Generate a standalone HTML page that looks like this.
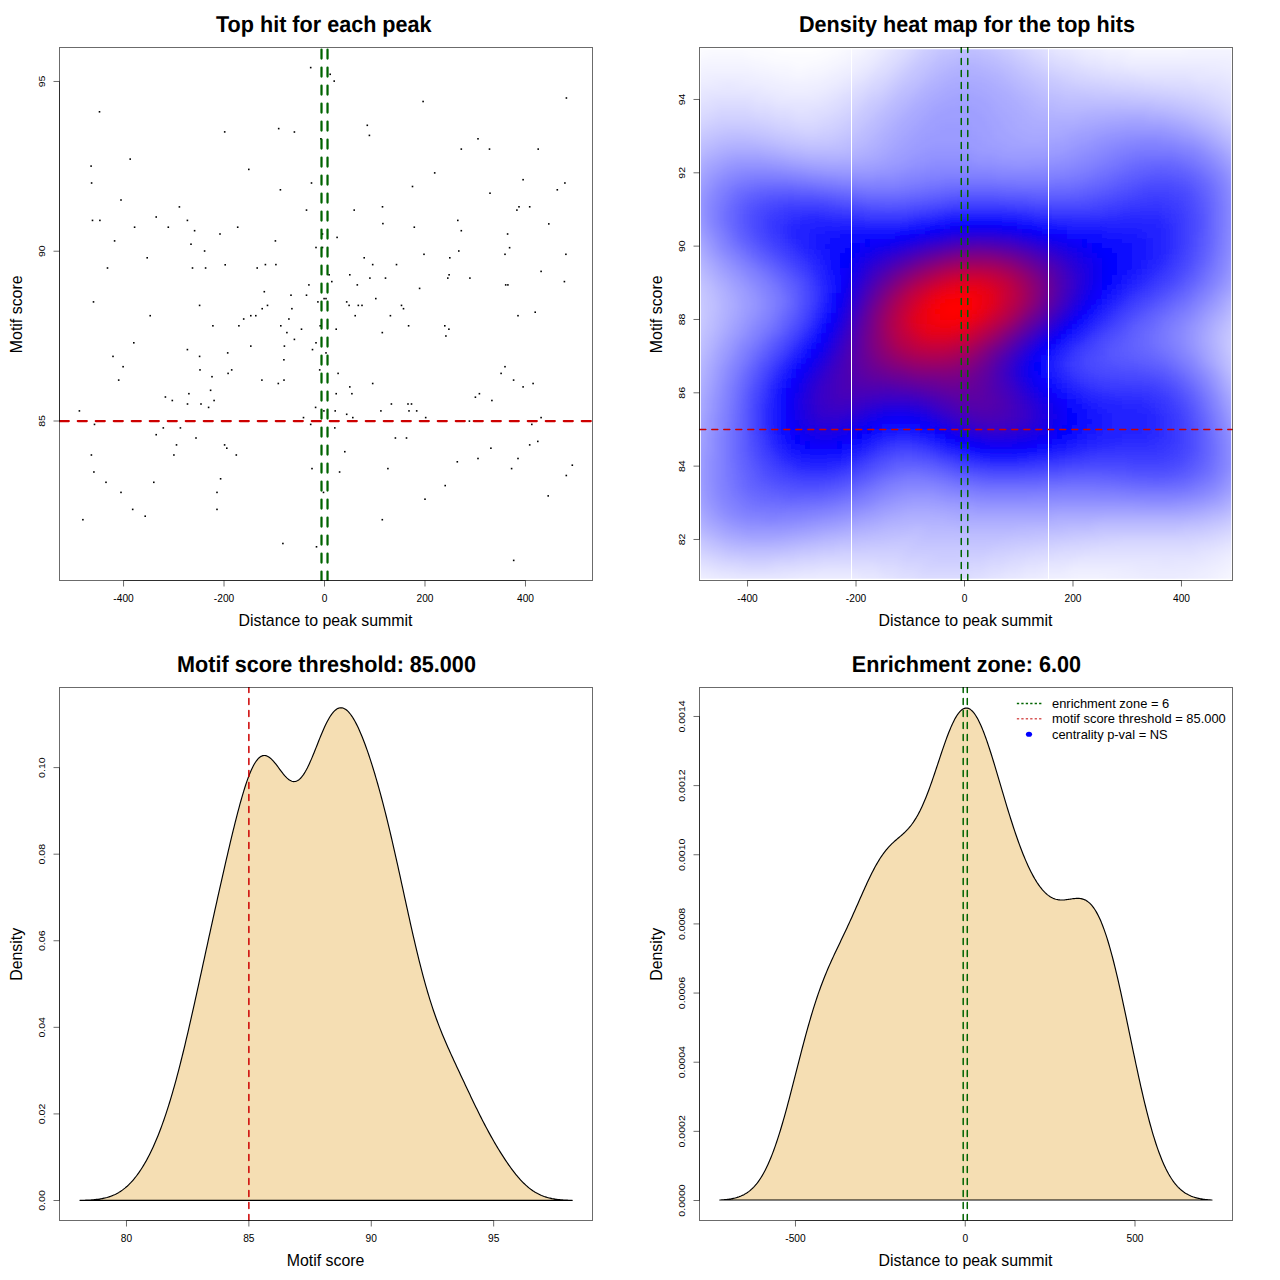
<!DOCTYPE html><html><head><meta charset="utf-8"><style>html,body{margin:0;padding:0;background:#fff;}svg{display:block}</style></head><body>
<svg width="1280" height="1280" viewBox="0 0 1280 1280" style="font-family:'Liberation Sans', sans-serif">
<rect width="1280" height="1280" fill="#fff"/>
<g fill="#000"><rect x="98.7" y="111.0" width="1.6" height="1.6"/><rect x="223.9" y="131.1" width="1.6" height="1.6"/><rect x="129.4" y="158.3" width="1.6" height="1.6"/><rect x="90.3" y="165.3" width="1.6" height="1.6"/><rect x="90.8" y="182.2" width="1.6" height="1.6"/><rect x="120.2" y="199.2" width="1.6" height="1.6"/><rect x="178.6" y="206.1" width="1.6" height="1.6"/><rect x="155.4" y="216.2" width="1.6" height="1.6"/><rect x="91.7" y="219.6" width="1.6" height="1.6"/><rect x="99.1" y="219.6" width="1.6" height="1.6"/><rect x="186.6" y="219.6" width="1.6" height="1.6"/><rect x="133.8" y="226.4" width="1.6" height="1.6"/><rect x="167.5" y="226.4" width="1.6" height="1.6"/><rect x="193.8" y="229.9" width="1.6" height="1.6"/><rect x="219.2" y="233.2" width="1.6" height="1.6"/><rect x="113.8" y="240.1" width="1.6" height="1.6"/><rect x="190.2" y="243.4" width="1.6" height="1.6"/><rect x="203.8" y="250.2" width="1.6" height="1.6"/><rect x="146.4" y="257.0" width="1.6" height="1.6"/><rect x="106.7" y="267.2" width="1.6" height="1.6"/><rect x="191.7" y="267.2" width="1.6" height="1.6"/><rect x="204.8" y="267.2" width="1.6" height="1.6"/><rect x="224.4" y="264.0" width="1.6" height="1.6"/><rect x="92.7" y="301.1" width="1.6" height="1.6"/><rect x="198.8" y="304.6" width="1.6" height="1.6"/><rect x="149.4" y="314.9" width="1.6" height="1.6"/><rect x="212.1" y="325.0" width="1.6" height="1.6"/><rect x="133.0" y="342.0" width="1.6" height="1.6"/><rect x="186.6" y="348.8" width="1.6" height="1.6"/><rect x="112.2" y="355.6" width="1.6" height="1.6"/><rect x="198.8" y="355.6" width="1.6" height="1.6"/><rect x="226.9" y="352.1" width="1.6" height="1.6"/><rect x="122.3" y="365.9" width="1.6" height="1.6"/><rect x="199.2" y="369.1" width="1.6" height="1.6"/><rect x="230.9" y="369.1" width="1.6" height="1.6"/><rect x="227.3" y="372.6" width="1.6" height="1.6"/><rect x="211.2" y="375.9" width="1.6" height="1.6"/><rect x="117.9" y="379.3" width="1.6" height="1.6"/><rect x="209.8" y="389.5" width="1.6" height="1.6"/><rect x="188.1" y="392.9" width="1.6" height="1.6"/><rect x="164.6" y="396.2" width="1.6" height="1.6"/><rect x="171.5" y="399.7" width="1.6" height="1.6"/><rect x="213.3" y="399.7" width="1.6" height="1.6"/><rect x="186.7" y="403.2" width="1.6" height="1.6"/><rect x="200.2" y="403.2" width="1.6" height="1.6"/><rect x="207.8" y="406.6" width="1.6" height="1.6"/><rect x="78.6" y="410.1" width="1.6" height="1.6"/><rect x="93.7" y="423.6" width="1.6" height="1.6"/><rect x="162.5" y="427.1" width="1.6" height="1.6"/><rect x="179.6" y="427.1" width="1.6" height="1.6"/><rect x="155.4" y="433.9" width="1.6" height="1.6"/><rect x="195.2" y="437.2" width="1.6" height="1.6"/><rect x="175.7" y="444.1" width="1.6" height="1.6"/><rect x="223.8" y="444.1" width="1.6" height="1.6"/><rect x="226.0" y="447.4" width="1.6" height="1.6"/><rect x="90.6" y="454.2" width="1.6" height="1.6"/><rect x="173.1" y="454.2" width="1.6" height="1.6"/><rect x="235.5" y="454.2" width="1.6" height="1.6"/><rect x="93.1" y="471.2" width="1.6" height="1.6"/><rect x="105.2" y="481.5" width="1.6" height="1.6"/><rect x="153.0" y="481.5" width="1.6" height="1.6"/><rect x="219.8" y="478.0" width="1.6" height="1.6"/><rect x="120.2" y="491.6" width="1.6" height="1.6"/><rect x="216.2" y="491.6" width="1.6" height="1.6"/><rect x="131.9" y="508.6" width="1.6" height="1.6"/><rect x="216.2" y="508.6" width="1.6" height="1.6"/><rect x="144.4" y="515.4" width="1.6" height="1.6"/><rect x="82.1" y="518.9" width="1.6" height="1.6"/><rect x="309.9" y="66.8" width="1.6" height="1.6"/><rect x="329.4" y="73.5" width="1.6" height="1.6"/><rect x="333.4" y="80.3" width="1.6" height="1.6"/><rect x="277.9" y="127.8" width="1.6" height="1.6"/><rect x="293.6" y="131.2" width="1.6" height="1.6"/><rect x="366.5" y="124.5" width="1.6" height="1.6"/><rect x="368.6" y="134.6" width="1.6" height="1.6"/><rect x="320.1" y="138.0" width="1.6" height="1.6"/><rect x="248.0" y="168.6" width="1.6" height="1.6"/><rect x="310.7" y="182.2" width="1.6" height="1.6"/><rect x="279.6" y="189.0" width="1.6" height="1.6"/><rect x="411.7" y="185.7" width="1.6" height="1.6"/><rect x="305.7" y="209.3" width="1.6" height="1.6"/><rect x="353.4" y="209.3" width="1.6" height="1.6"/><rect x="381.7" y="206.0" width="1.6" height="1.6"/><rect x="382.1" y="222.8" width="1.6" height="1.6"/><rect x="236.9" y="226.4" width="1.6" height="1.6"/><rect x="413.5" y="226.4" width="1.6" height="1.6"/><rect x="321.7" y="233.2" width="1.6" height="1.6"/><rect x="336.3" y="236.6" width="1.6" height="1.6"/><rect x="274.6" y="240.1" width="1.6" height="1.6"/><rect x="315.2" y="246.7" width="1.6" height="1.6"/><rect x="321.7" y="246.7" width="1.6" height="1.6"/><rect x="363.4" y="257.0" width="1.6" height="1.6"/><rect x="264.6" y="263.8" width="1.6" height="1.6"/><rect x="275.1" y="263.8" width="1.6" height="1.6"/><rect x="371.9" y="263.8" width="1.6" height="1.6"/><rect x="395.7" y="263.8" width="1.6" height="1.6"/><rect x="256.4" y="267.2" width="1.6" height="1.6"/><rect x="328.3" y="274.0" width="1.6" height="1.6"/><rect x="349.0" y="274.0" width="1.6" height="1.6"/><rect x="369.1" y="277.3" width="1.6" height="1.6"/><rect x="384.7" y="277.3" width="1.6" height="1.6"/><rect x="331.0" y="280.8" width="1.6" height="1.6"/><rect x="308.1" y="284.1" width="1.6" height="1.6"/><rect x="356.5" y="284.1" width="1.6" height="1.6"/><rect x="263.5" y="290.9" width="1.6" height="1.6"/><rect x="290.2" y="294.4" width="1.6" height="1.6"/><rect x="305.7" y="294.4" width="1.6" height="1.6"/><rect x="323.3" y="297.8" width="1.6" height="1.6"/><rect x="325.2" y="297.8" width="1.6" height="1.6"/><rect x="375.0" y="297.8" width="1.6" height="1.6"/><rect x="317.1" y="301.1" width="1.6" height="1.6"/><rect x="345.9" y="301.1" width="1.6" height="1.6"/><rect x="266.7" y="304.6" width="1.6" height="1.6"/><rect x="348.3" y="304.6" width="1.6" height="1.6"/><rect x="357.5" y="304.6" width="1.6" height="1.6"/><rect x="361.2" y="304.6" width="1.6" height="1.6"/><rect x="400.7" y="304.6" width="1.6" height="1.6"/><rect x="261.4" y="307.9" width="1.6" height="1.6"/><rect x="291.1" y="307.9" width="1.6" height="1.6"/><rect x="402.7" y="307.9" width="1.6" height="1.6"/><rect x="250.0" y="314.9" width="1.6" height="1.6"/><rect x="255.0" y="314.9" width="1.6" height="1.6"/><rect x="354.4" y="314.9" width="1.6" height="1.6"/><rect x="389.6" y="314.9" width="1.6" height="1.6"/><rect x="242.9" y="318.2" width="1.6" height="1.6"/><rect x="288.1" y="318.2" width="1.6" height="1.6"/><rect x="238.1" y="325.0" width="1.6" height="1.6"/><rect x="280.0" y="325.0" width="1.6" height="1.6"/><rect x="319.4" y="325.0" width="1.6" height="1.6"/><rect x="335.4" y="328.4" width="1.6" height="1.6"/><rect x="300.7" y="328.4" width="1.6" height="1.6"/><rect x="407.8" y="325.0" width="1.6" height="1.6"/><rect x="286.1" y="331.8" width="1.6" height="1.6"/><rect x="381.5" y="331.8" width="1.6" height="1.6"/><rect x="293.6" y="338.6" width="1.6" height="1.6"/><rect x="315.2" y="342.0" width="1.6" height="1.6"/><rect x="250.0" y="345.3" width="1.6" height="1.6"/><rect x="283.6" y="345.3" width="1.6" height="1.6"/><rect x="311.7" y="348.8" width="1.6" height="1.6"/><rect x="325.2" y="352.1" width="1.6" height="1.6"/><rect x="283.1" y="359.0" width="1.6" height="1.6"/><rect x="318.9" y="369.1" width="1.6" height="1.6"/><rect x="337.3" y="372.6" width="1.6" height="1.6"/><rect x="261.1" y="379.3" width="1.6" height="1.6"/><rect x="283.2" y="379.3" width="1.6" height="1.6"/><rect x="277.5" y="382.7" width="1.6" height="1.6"/><rect x="371.9" y="382.7" width="1.6" height="1.6"/><rect x="349.0" y="386.1" width="1.6" height="1.6"/><rect x="335.4" y="392.9" width="1.6" height="1.6"/><rect x="351.1" y="392.9" width="1.6" height="1.6"/><rect x="390.6" y="403.2" width="1.6" height="1.6"/><rect x="407.2" y="403.2" width="1.6" height="1.6"/><rect x="410.7" y="403.2" width="1.6" height="1.6"/><rect x="314.8" y="406.6" width="1.6" height="1.6"/><rect x="323.1" y="410.1" width="1.6" height="1.6"/><rect x="334.4" y="410.1" width="1.6" height="1.6"/><rect x="380.1" y="410.1" width="1.6" height="1.6"/><rect x="408.2" y="410.1" width="1.6" height="1.6"/><rect x="345.9" y="413.5" width="1.6" height="1.6"/><rect x="302.7" y="416.8" width="1.6" height="1.6"/><rect x="352.0" y="416.8" width="1.6" height="1.6"/><rect x="309.9" y="423.6" width="1.6" height="1.6"/><rect x="334.0" y="427.1" width="1.6" height="1.6"/><rect x="394.6" y="437.2" width="1.6" height="1.6"/><rect x="405.7" y="437.2" width="1.6" height="1.6"/><rect x="344.0" y="450.9" width="1.6" height="1.6"/><rect x="311.2" y="467.8" width="1.6" height="1.6"/><rect x="338.8" y="471.2" width="1.6" height="1.6"/><rect x="387.1" y="467.8" width="1.6" height="1.6"/><rect x="322.7" y="491.6" width="1.6" height="1.6"/><rect x="381.5" y="518.9" width="1.6" height="1.6"/><rect x="282.1" y="542.7" width="1.6" height="1.6"/><rect x="315.7" y="546.0" width="1.6" height="1.6"/><rect x="422.3" y="100.7" width="1.6" height="1.6"/><rect x="565.6" y="97.2" width="1.6" height="1.6"/><rect x="477.2" y="138.0" width="1.6" height="1.6"/><rect x="460.5" y="148.3" width="1.6" height="1.6"/><rect x="488.7" y="148.3" width="1.6" height="1.6"/><rect x="537.4" y="148.3" width="1.6" height="1.6"/><rect x="433.9" y="172.1" width="1.6" height="1.6"/><rect x="522.3" y="178.9" width="1.6" height="1.6"/><rect x="564.1" y="182.2" width="1.6" height="1.6"/><rect x="556.5" y="189.0" width="1.6" height="1.6"/><rect x="489.2" y="192.4" width="1.6" height="1.6"/><rect x="518.2" y="206.0" width="1.6" height="1.6"/><rect x="528.9" y="206.0" width="1.6" height="1.6"/><rect x="516.1" y="209.3" width="1.6" height="1.6"/><rect x="457.0" y="219.6" width="1.6" height="1.6"/><rect x="548.0" y="223.1" width="1.6" height="1.6"/><rect x="460.5" y="229.9" width="1.6" height="1.6"/><rect x="506.8" y="233.2" width="1.6" height="1.6"/><rect x="508.8" y="246.9" width="1.6" height="1.6"/><rect x="458.0" y="250.2" width="1.6" height="1.6"/><rect x="423.2" y="253.5" width="1.6" height="1.6"/><rect x="449.0" y="257.0" width="1.6" height="1.6"/><rect x="504.2" y="253.5" width="1.6" height="1.6"/><rect x="565.1" y="253.5" width="1.6" height="1.6"/><rect x="540.3" y="270.6" width="1.6" height="1.6"/><rect x="448.3" y="274.0" width="1.6" height="1.6"/><rect x="447.0" y="277.3" width="1.6" height="1.6"/><rect x="469.1" y="277.3" width="1.6" height="1.6"/><rect x="563.6" y="280.8" width="1.6" height="1.6"/><rect x="504.9" y="284.1" width="1.6" height="1.6"/><rect x="507.1" y="284.1" width="1.6" height="1.6"/><rect x="418.8" y="287.6" width="1.6" height="1.6"/><rect x="534.4" y="311.4" width="1.6" height="1.6"/><rect x="517.2" y="314.9" width="1.6" height="1.6"/><rect x="444.0" y="325.0" width="1.6" height="1.6"/><rect x="448.1" y="328.4" width="1.6" height="1.6"/><rect x="445.1" y="335.2" width="1.6" height="1.6"/><rect x="504.2" y="365.9" width="1.6" height="1.6"/><rect x="500.3" y="372.6" width="1.6" height="1.6"/><rect x="512.8" y="379.3" width="1.6" height="1.6"/><rect x="522.3" y="386.1" width="1.6" height="1.6"/><rect x="532.3" y="382.7" width="1.6" height="1.6"/><rect x="478.6" y="392.9" width="1.6" height="1.6"/><rect x="474.6" y="396.4" width="1.6" height="1.6"/><rect x="491.1" y="399.7" width="1.6" height="1.6"/><rect x="415.9" y="410.1" width="1.6" height="1.6"/><rect x="424.9" y="416.8" width="1.6" height="1.6"/><rect x="468.6" y="420.3" width="1.6" height="1.6"/><rect x="540.3" y="416.8" width="1.6" height="1.6"/><rect x="531.0" y="423.6" width="1.6" height="1.6"/><rect x="537.0" y="440.6" width="1.6" height="1.6"/><rect x="528.9" y="444.1" width="1.6" height="1.6"/><rect x="490.1" y="447.4" width="1.6" height="1.6"/><rect x="456.5" y="461.0" width="1.6" height="1.6"/><rect x="477.2" y="457.7" width="1.6" height="1.6"/><rect x="517.2" y="457.7" width="1.6" height="1.6"/><rect x="510.8" y="467.8" width="1.6" height="1.6"/><rect x="571.5" y="464.4" width="1.6" height="1.6"/><rect x="565.5" y="474.7" width="1.6" height="1.6"/><rect x="444.4" y="484.8" width="1.6" height="1.6"/><rect x="424.2" y="498.4" width="1.6" height="1.6"/><rect x="547.4" y="495.1" width="1.6" height="1.6"/><rect x="512.9" y="559.6" width="1.6" height="1.6"/></g>
<clipPath id="c1"><rect x="59" y="47" width="534" height="534"/></clipPath>
<g clip-path="url(#c1)"><path d="M59.8 421H592" stroke="#cd0000" stroke-width="2.25" stroke-dasharray="9 9" stroke-linecap="round"/>
<path d="M321.50 580.5V47M327.52 580.5V47" stroke="#006400" stroke-width="2.25" stroke-dasharray="9 9" stroke-linecap="round"/></g>
<rect x="59.5" y="47.5" width="533" height="533" fill="none" stroke="#000" stroke-opacity="0.58" stroke-width="1"/>
<text x="325.5" y="625.5" font-size="15.9" text-anchor="middle">Distance to peak summit</text>
<text transform="translate(22,314.3) rotate(-90)" font-size="15.9" text-anchor="middle">Motif score</text>
<text x="123.55" y="602" font-size="10.2" text-anchor="middle">-400</text>
<text x="224.03" y="602" font-size="10.2" text-anchor="middle">-200</text>
<text x="324.51" y="602" font-size="10.2" text-anchor="middle">0</text>
<text x="424.99" y="602" font-size="10.2" text-anchor="middle">200</text>
<text x="525.47" y="602" font-size="10.2" text-anchor="middle">400</text>
<text transform="translate(44.6,421.00) rotate(-90) scale(1.036,0.94)" font-size="10.2" text-anchor="middle">85</text>
<text transform="translate(44.6,251.23) rotate(-90) scale(1.036,0.94)" font-size="10.2" text-anchor="middle">90</text>
<text transform="translate(44.6,81.47) rotate(-90) scale(1.036,0.94)" font-size="10.2" text-anchor="middle">95</text>
<path d="M123.55 580.5H525.47M59.5 421.00V81.47M123.55 580.5v6M224.03 580.5v6M324.51 580.5v6M424.99 580.5v6M525.47 580.5v6M59.5 421.00h-6M59.5 251.23h-6M59.5 81.47h-6" stroke="#000" stroke-opacity="0.58" stroke-width="1" fill="none"/>
<defs><filter id="bl" filterUnits="userSpaceOnUse" x="670" y="20" width="590" height="590"><feGaussianBlur stdDeviation="4"/></filter><clipPath id="c2"><rect x="700.8" y="49.2" width="530.4" height="529.6"/></clipPath></defs>
<g clip-path="url(#c2)"><g filter="url(#bl)">
<path fill="#ffffff" d="M680 28h7v7h-7zM685 28h7v7h-7zM690 28h7v7h-7zM695 28h7v7h-7zM700 28h7v7h-7zM705 28h7v7h-7zM710 28h7v7h-7zM715 28h7v7h-7zM720 28h7v7h-7zM725 28h7v7h-7zM730 28h7v7h-7zM735 28h7v7h-7zM740 28h7v7h-7zM745 28h7v7h-7zM750 28h7v7h-7zM755 28h7v7h-7zM760 28h7v7h-7zM765 28h7v7h-7zM770 28h7v7h-7zM775 28h7v7h-7zM780 28h7v7h-7zM785 28h7v7h-7zM790 28h7v7h-7zM795 28h7v7h-7zM800 28h7v7h-7zM805 28h7v7h-7zM810 28h7v7h-7zM815 28h7v7h-7zM820 28h7v7h-7zM825 28h7v7h-7zM830 28h7v7h-7zM835 28h7v7h-7zM840 28h7v7h-7zM845 28h7v7h-7zM850 28h7v7h-7zM1120 28h7v7h-7zM1125 28h7v7h-7zM1130 28h7v7h-7zM1135 28h7v7h-7zM1140 28h7v7h-7zM1145 28h7v7h-7zM1150 28h7v7h-7zM1155 28h7v7h-7zM1160 28h7v7h-7zM1165 28h7v7h-7zM1170 28h7v7h-7zM1175 28h7v7h-7zM1180 28h7v7h-7zM1245 28h7v7h-7zM680 33h7v7h-7zM685 33h7v7h-7zM690 33h7v7h-7zM695 33h7v7h-7zM700 33h7v7h-7zM705 33h7v7h-7zM710 33h7v7h-7zM715 33h7v7h-7zM720 33h7v7h-7zM725 33h7v7h-7zM730 33h7v7h-7zM735 33h7v7h-7zM740 33h7v7h-7zM745 33h7v7h-7zM750 33h7v7h-7zM755 33h7v7h-7zM760 33h7v7h-7zM765 33h7v7h-7zM770 33h7v7h-7zM775 33h7v7h-7zM780 33h7v7h-7zM785 33h7v7h-7zM790 33h7v7h-7zM795 33h7v7h-7zM800 33h7v7h-7zM805 33h7v7h-7zM810 33h7v7h-7zM815 33h7v7h-7zM820 33h7v7h-7zM825 33h7v7h-7zM830 33h7v7h-7zM835 33h7v7h-7zM840 33h7v7h-7zM680 38h7v7h-7zM685 38h7v7h-7zM690 38h7v7h-7zM695 38h7v7h-7zM700 38h7v7h-7zM705 38h7v7h-7zM710 38h7v7h-7zM715 38h7v7h-7zM720 38h7v7h-7zM725 38h7v7h-7zM730 38h7v7h-7zM735 38h7v7h-7zM740 38h7v7h-7zM745 38h7v7h-7zM750 38h7v7h-7zM755 38h7v7h-7zM760 38h7v7h-7zM765 38h7v7h-7zM770 38h7v7h-7zM775 38h7v7h-7zM780 38h7v7h-7zM785 38h7v7h-7zM790 38h7v7h-7zM795 38h7v7h-7zM800 38h7v7h-7zM805 38h7v7h-7zM810 38h7v7h-7zM815 38h7v7h-7zM820 38h7v7h-7zM825 38h7v7h-7zM830 38h7v7h-7zM835 38h7v7h-7zM680 43h7v7h-7zM685 43h7v7h-7zM690 43h7v7h-7zM755 43h7v7h-7zM760 43h7v7h-7zM765 43h7v7h-7zM770 43h7v7h-7zM775 43h7v7h-7zM780 43h7v7h-7zM785 43h7v7h-7zM790 43h7v7h-7zM795 43h7v7h-7zM800 43h7v7h-7zM805 43h7v7h-7zM810 43h7v7h-7zM815 43h7v7h-7zM820 43h7v7h-7zM825 43h7v7h-7zM830 43h7v7h-7zM775 48h7v7h-7zM780 48h7v7h-7zM785 48h7v7h-7zM790 48h7v7h-7zM795 48h7v7h-7zM800 48h7v7h-7zM805 48h7v7h-7zM810 48h7v7h-7zM815 48h7v7h-7zM1245 588h7v7h-7zM1240 593h7v7h-7zM1245 593h7v7h-7z"/>
<path fill="#fbfbff" d="M855 28h7v7h-7zM860 28h7v7h-7zM865 28h7v7h-7zM1085 28h7v7h-7zM1090 28h7v7h-7zM1095 28h7v7h-7zM1100 28h7v7h-7zM1105 28h7v7h-7zM1110 28h7v7h-7zM1115 28h7v7h-7zM1185 28h7v7h-7zM1190 28h7v7h-7zM1195 28h7v7h-7zM1200 28h7v7h-7zM1205 28h7v7h-7zM1210 28h7v7h-7zM1215 28h7v7h-7zM1220 28h7v7h-7zM1225 28h7v7h-7zM1230 28h7v7h-7zM1235 28h7v7h-7zM1240 28h7v7h-7zM845 33h7v7h-7zM850 33h7v7h-7zM855 33h7v7h-7zM860 33h7v7h-7zM1100 33h7v7h-7zM1105 33h7v7h-7zM1110 33h7v7h-7zM1115 33h7v7h-7zM1120 33h7v7h-7zM1125 33h7v7h-7zM1130 33h7v7h-7zM1135 33h7v7h-7zM1140 33h7v7h-7zM1145 33h7v7h-7zM1150 33h7v7h-7zM1155 33h7v7h-7zM1160 33h7v7h-7zM1165 33h7v7h-7zM1170 33h7v7h-7zM1175 33h7v7h-7zM1180 33h7v7h-7zM1185 33h7v7h-7zM1190 33h7v7h-7zM1195 33h7v7h-7zM1200 33h7v7h-7zM1205 33h7v7h-7zM1210 33h7v7h-7zM1215 33h7v7h-7zM1220 33h7v7h-7zM1225 33h7v7h-7zM1230 33h7v7h-7zM1235 33h7v7h-7zM1240 33h7v7h-7zM1245 33h7v7h-7zM840 38h7v7h-7zM845 38h7v7h-7zM850 38h7v7h-7zM855 38h7v7h-7zM1120 38h7v7h-7zM1125 38h7v7h-7zM1130 38h7v7h-7zM1135 38h7v7h-7zM1140 38h7v7h-7zM1145 38h7v7h-7zM1150 38h7v7h-7zM1155 38h7v7h-7zM1160 38h7v7h-7zM1165 38h7v7h-7zM1170 38h7v7h-7zM1175 38h7v7h-7zM1180 38h7v7h-7zM1185 38h7v7h-7zM1190 38h7v7h-7zM1235 38h7v7h-7zM1240 38h7v7h-7zM1245 38h7v7h-7zM695 43h7v7h-7zM700 43h7v7h-7zM705 43h7v7h-7zM710 43h7v7h-7zM715 43h7v7h-7zM720 43h7v7h-7zM725 43h7v7h-7zM730 43h7v7h-7zM735 43h7v7h-7zM740 43h7v7h-7zM745 43h7v7h-7zM750 43h7v7h-7zM835 43h7v7h-7zM840 43h7v7h-7zM845 43h7v7h-7zM680 48h7v7h-7zM685 48h7v7h-7zM690 48h7v7h-7zM695 48h7v7h-7zM700 48h7v7h-7zM705 48h7v7h-7zM710 48h7v7h-7zM715 48h7v7h-7zM720 48h7v7h-7zM725 48h7v7h-7zM730 48h7v7h-7zM735 48h7v7h-7zM740 48h7v7h-7zM745 48h7v7h-7zM750 48h7v7h-7zM755 48h7v7h-7zM760 48h7v7h-7zM765 48h7v7h-7zM770 48h7v7h-7zM820 48h7v7h-7zM825 48h7v7h-7zM830 48h7v7h-7zM835 48h7v7h-7zM840 48h7v7h-7zM680 53h7v7h-7zM685 53h7v7h-7zM690 53h7v7h-7zM695 53h7v7h-7zM700 53h7v7h-7zM745 53h7v7h-7zM750 53h7v7h-7zM755 53h7v7h-7zM760 53h7v7h-7zM765 53h7v7h-7zM770 53h7v7h-7zM775 53h7v7h-7zM780 53h7v7h-7zM785 53h7v7h-7zM790 53h7v7h-7zM795 53h7v7h-7zM800 53h7v7h-7zM805 53h7v7h-7zM810 53h7v7h-7zM815 53h7v7h-7zM820 53h7v7h-7zM825 53h7v7h-7zM830 53h7v7h-7zM680 58h7v7h-7zM685 58h7v7h-7zM765 58h7v7h-7zM770 58h7v7h-7zM775 58h7v7h-7zM780 58h7v7h-7zM785 58h7v7h-7zM790 58h7v7h-7zM795 58h7v7h-7zM800 58h7v7h-7zM805 58h7v7h-7zM810 58h7v7h-7zM815 58h7v7h-7zM820 58h7v7h-7zM790 63h7v7h-7zM795 63h7v7h-7zM800 63h7v7h-7zM805 63h7v7h-7zM1245 568h7v7h-7zM1240 573h7v7h-7zM1245 573h7v7h-7zM1235 578h7v7h-7zM1240 578h7v7h-7zM1245 578h7v7h-7zM1230 583h7v7h-7zM1235 583h7v7h-7zM1240 583h7v7h-7zM1245 583h7v7h-7zM680 588h7v7h-7zM685 588h7v7h-7zM690 588h7v7h-7zM1225 588h7v7h-7zM1230 588h7v7h-7zM1235 588h7v7h-7zM1240 588h7v7h-7zM680 593h7v7h-7zM685 593h7v7h-7zM690 593h7v7h-7zM695 593h7v7h-7zM700 593h7v7h-7zM705 593h7v7h-7zM710 593h7v7h-7zM715 593h7v7h-7zM720 593h7v7h-7zM785 593h7v7h-7zM790 593h7v7h-7zM795 593h7v7h-7zM800 593h7v7h-7zM805 593h7v7h-7zM810 593h7v7h-7zM815 593h7v7h-7zM820 593h7v7h-7zM825 593h7v7h-7zM830 593h7v7h-7zM1040 593h7v7h-7zM1045 593h7v7h-7zM1050 593h7v7h-7zM1055 593h7v7h-7zM1060 593h7v7h-7zM1065 593h7v7h-7zM1070 593h7v7h-7zM1075 593h7v7h-7zM1080 593h7v7h-7zM1085 593h7v7h-7zM1090 593h7v7h-7zM1095 593h7v7h-7zM1220 593h7v7h-7zM1225 593h7v7h-7zM1230 593h7v7h-7zM1235 593h7v7h-7z"/>
<path fill="#f7f7ff" d="M870 28h7v7h-7zM875 28h7v7h-7zM1065 28h7v7h-7zM1070 28h7v7h-7zM1075 28h7v7h-7zM1080 28h7v7h-7zM865 33h7v7h-7zM870 33h7v7h-7zM1075 33h7v7h-7zM1080 33h7v7h-7zM1085 33h7v7h-7zM1090 33h7v7h-7zM1095 33h7v7h-7zM860 38h7v7h-7zM865 38h7v7h-7zM1090 38h7v7h-7zM1095 38h7v7h-7zM1100 38h7v7h-7zM1105 38h7v7h-7zM1110 38h7v7h-7zM1115 38h7v7h-7zM1195 38h7v7h-7zM1200 38h7v7h-7zM1205 38h7v7h-7zM1210 38h7v7h-7zM1215 38h7v7h-7zM1220 38h7v7h-7zM1225 38h7v7h-7zM1230 38h7v7h-7zM850 43h7v7h-7zM855 43h7v7h-7zM860 43h7v7h-7zM1105 43h7v7h-7zM1110 43h7v7h-7zM1115 43h7v7h-7zM1120 43h7v7h-7zM1125 43h7v7h-7zM1130 43h7v7h-7zM1135 43h7v7h-7zM1140 43h7v7h-7zM1145 43h7v7h-7zM1150 43h7v7h-7zM1155 43h7v7h-7zM1160 43h7v7h-7zM1165 43h7v7h-7zM1170 43h7v7h-7zM1175 43h7v7h-7zM1180 43h7v7h-7zM1185 43h7v7h-7zM1190 43h7v7h-7zM1195 43h7v7h-7zM1200 43h7v7h-7zM1205 43h7v7h-7zM1210 43h7v7h-7zM1215 43h7v7h-7zM1220 43h7v7h-7zM1225 43h7v7h-7zM1230 43h7v7h-7zM1235 43h7v7h-7zM1240 43h7v7h-7zM1245 43h7v7h-7zM845 48h7v7h-7zM850 48h7v7h-7zM855 48h7v7h-7zM1130 48h7v7h-7zM1135 48h7v7h-7zM1140 48h7v7h-7zM1145 48h7v7h-7zM1150 48h7v7h-7zM1155 48h7v7h-7zM1160 48h7v7h-7zM1165 48h7v7h-7zM1170 48h7v7h-7zM1175 48h7v7h-7zM1180 48h7v7h-7zM1235 48h7v7h-7zM1240 48h7v7h-7zM1245 48h7v7h-7zM705 53h7v7h-7zM710 53h7v7h-7zM715 53h7v7h-7zM720 53h7v7h-7zM725 53h7v7h-7zM730 53h7v7h-7zM735 53h7v7h-7zM740 53h7v7h-7zM835 53h7v7h-7zM840 53h7v7h-7zM845 53h7v7h-7zM690 58h7v7h-7zM695 58h7v7h-7zM700 58h7v7h-7zM705 58h7v7h-7zM710 58h7v7h-7zM715 58h7v7h-7zM720 58h7v7h-7zM725 58h7v7h-7zM730 58h7v7h-7zM735 58h7v7h-7zM740 58h7v7h-7zM745 58h7v7h-7zM750 58h7v7h-7zM755 58h7v7h-7zM760 58h7v7h-7zM825 58h7v7h-7zM830 58h7v7h-7zM835 58h7v7h-7zM840 58h7v7h-7zM680 63h7v7h-7zM685 63h7v7h-7zM690 63h7v7h-7zM695 63h7v7h-7zM750 63h7v7h-7zM755 63h7v7h-7zM760 63h7v7h-7zM765 63h7v7h-7zM770 63h7v7h-7zM775 63h7v7h-7zM780 63h7v7h-7zM785 63h7v7h-7zM810 63h7v7h-7zM815 63h7v7h-7zM820 63h7v7h-7zM825 63h7v7h-7zM830 63h7v7h-7zM680 68h7v7h-7zM685 68h7v7h-7zM770 68h7v7h-7zM775 68h7v7h-7zM780 68h7v7h-7zM785 68h7v7h-7zM790 68h7v7h-7zM795 68h7v7h-7zM800 68h7v7h-7zM805 68h7v7h-7zM810 68h7v7h-7zM815 68h7v7h-7zM820 68h7v7h-7zM790 73h7v7h-7zM795 73h7v7h-7zM800 73h7v7h-7zM1245 558h7v7h-7zM1240 563h7v7h-7zM1245 563h7v7h-7zM1230 568h7v7h-7zM1235 568h7v7h-7zM1240 568h7v7h-7zM1225 573h7v7h-7zM1230 573h7v7h-7zM1235 573h7v7h-7zM680 578h7v7h-7zM1220 578h7v7h-7zM1225 578h7v7h-7zM1230 578h7v7h-7zM680 583h7v7h-7zM685 583h7v7h-7zM690 583h7v7h-7zM695 583h7v7h-7zM1050 583h7v7h-7zM1055 583h7v7h-7zM1060 583h7v7h-7zM1065 583h7v7h-7zM1070 583h7v7h-7zM1075 583h7v7h-7zM1080 583h7v7h-7zM1085 583h7v7h-7zM1090 583h7v7h-7zM1095 583h7v7h-7zM1100 583h7v7h-7zM1215 583h7v7h-7zM1220 583h7v7h-7zM1225 583h7v7h-7zM695 588h7v7h-7zM700 588h7v7h-7zM705 588h7v7h-7zM710 588h7v7h-7zM715 588h7v7h-7zM720 588h7v7h-7zM725 588h7v7h-7zM730 588h7v7h-7zM770 588h7v7h-7zM775 588h7v7h-7zM780 588h7v7h-7zM785 588h7v7h-7zM790 588h7v7h-7zM795 588h7v7h-7zM800 588h7v7h-7zM805 588h7v7h-7zM810 588h7v7h-7zM815 588h7v7h-7zM820 588h7v7h-7zM825 588h7v7h-7zM830 588h7v7h-7zM835 588h7v7h-7zM840 588h7v7h-7zM845 588h7v7h-7zM1030 588h7v7h-7zM1035 588h7v7h-7zM1040 588h7v7h-7zM1045 588h7v7h-7zM1050 588h7v7h-7zM1055 588h7v7h-7zM1060 588h7v7h-7zM1065 588h7v7h-7zM1070 588h7v7h-7zM1075 588h7v7h-7zM1080 588h7v7h-7zM1085 588h7v7h-7zM1090 588h7v7h-7zM1095 588h7v7h-7zM1100 588h7v7h-7zM1105 588h7v7h-7zM1110 588h7v7h-7zM1115 588h7v7h-7zM1210 588h7v7h-7zM1215 588h7v7h-7zM1220 588h7v7h-7zM725 593h7v7h-7zM730 593h7v7h-7zM735 593h7v7h-7zM740 593h7v7h-7zM745 593h7v7h-7zM750 593h7v7h-7zM755 593h7v7h-7zM760 593h7v7h-7zM765 593h7v7h-7zM770 593h7v7h-7zM775 593h7v7h-7zM780 593h7v7h-7zM835 593h7v7h-7zM840 593h7v7h-7zM845 593h7v7h-7zM850 593h7v7h-7zM855 593h7v7h-7zM860 593h7v7h-7zM865 593h7v7h-7zM1015 593h7v7h-7zM1020 593h7v7h-7zM1025 593h7v7h-7zM1030 593h7v7h-7zM1035 593h7v7h-7zM1100 593h7v7h-7zM1105 593h7v7h-7zM1110 593h7v7h-7zM1115 593h7v7h-7zM1120 593h7v7h-7zM1125 593h7v7h-7zM1200 593h7v7h-7zM1205 593h7v7h-7zM1210 593h7v7h-7zM1215 593h7v7h-7z"/>
<path fill="#f3f3ff" d="M880 28h7v7h-7zM885 28h7v7h-7zM1050 28h7v7h-7zM1055 28h7v7h-7zM1060 28h7v7h-7zM875 33h7v7h-7zM880 33h7v7h-7zM1060 33h7v7h-7zM1065 33h7v7h-7zM1070 33h7v7h-7zM870 38h7v7h-7zM875 38h7v7h-7zM1070 38h7v7h-7zM1075 38h7v7h-7zM1080 38h7v7h-7zM1085 38h7v7h-7zM865 43h7v7h-7zM870 43h7v7h-7zM1085 43h7v7h-7zM1090 43h7v7h-7zM1095 43h7v7h-7zM1100 43h7v7h-7zM860 48h7v7h-7zM865 48h7v7h-7zM1100 48h7v7h-7zM1105 48h7v7h-7zM1110 48h7v7h-7zM1115 48h7v7h-7zM1120 48h7v7h-7zM1125 48h7v7h-7zM1185 48h7v7h-7zM1190 48h7v7h-7zM1195 48h7v7h-7zM1200 48h7v7h-7zM1205 48h7v7h-7zM1210 48h7v7h-7zM1215 48h7v7h-7zM1220 48h7v7h-7zM1225 48h7v7h-7zM1230 48h7v7h-7zM850 53h7v7h-7zM855 53h7v7h-7zM860 53h7v7h-7zM1125 53h7v7h-7zM1130 53h7v7h-7zM1135 53h7v7h-7zM1140 53h7v7h-7zM1145 53h7v7h-7zM1150 53h7v7h-7zM1155 53h7v7h-7zM1160 53h7v7h-7zM1165 53h7v7h-7zM1170 53h7v7h-7zM1175 53h7v7h-7zM1180 53h7v7h-7zM1185 53h7v7h-7zM1190 53h7v7h-7zM1195 53h7v7h-7zM1200 53h7v7h-7zM1205 53h7v7h-7zM1210 53h7v7h-7zM1215 53h7v7h-7zM1220 53h7v7h-7zM1225 53h7v7h-7zM1230 53h7v7h-7zM1235 53h7v7h-7zM1240 53h7v7h-7zM1245 53h7v7h-7zM845 58h7v7h-7zM850 58h7v7h-7zM1235 58h7v7h-7zM1240 58h7v7h-7zM1245 58h7v7h-7zM700 63h7v7h-7zM705 63h7v7h-7zM710 63h7v7h-7zM715 63h7v7h-7zM720 63h7v7h-7zM725 63h7v7h-7zM730 63h7v7h-7zM735 63h7v7h-7zM740 63h7v7h-7zM745 63h7v7h-7zM835 63h7v7h-7zM840 63h7v7h-7zM845 63h7v7h-7zM1245 63h7v7h-7zM690 68h7v7h-7zM695 68h7v7h-7zM700 68h7v7h-7zM705 68h7v7h-7zM710 68h7v7h-7zM715 68h7v7h-7zM720 68h7v7h-7zM725 68h7v7h-7zM730 68h7v7h-7zM735 68h7v7h-7zM740 68h7v7h-7zM745 68h7v7h-7zM750 68h7v7h-7zM755 68h7v7h-7zM760 68h7v7h-7zM765 68h7v7h-7zM825 68h7v7h-7zM830 68h7v7h-7zM835 68h7v7h-7zM680 73h7v7h-7zM685 73h7v7h-7zM690 73h7v7h-7zM695 73h7v7h-7zM755 73h7v7h-7zM760 73h7v7h-7zM765 73h7v7h-7zM770 73h7v7h-7zM775 73h7v7h-7zM780 73h7v7h-7zM785 73h7v7h-7zM805 73h7v7h-7zM810 73h7v7h-7zM815 73h7v7h-7zM820 73h7v7h-7zM825 73h7v7h-7zM680 78h7v7h-7zM685 78h7v7h-7zM775 78h7v7h-7zM780 78h7v7h-7zM785 78h7v7h-7zM790 78h7v7h-7zM795 78h7v7h-7zM800 78h7v7h-7zM805 78h7v7h-7zM810 78h7v7h-7zM815 78h7v7h-7zM1240 553h7v7h-7zM1245 553h7v7h-7zM1230 558h7v7h-7zM1235 558h7v7h-7zM1240 558h7v7h-7zM1225 563h7v7h-7zM1230 563h7v7h-7zM1235 563h7v7h-7zM1215 568h7v7h-7zM1220 568h7v7h-7zM1225 568h7v7h-7zM680 573h7v7h-7zM685 573h7v7h-7zM1070 573h7v7h-7zM1075 573h7v7h-7zM1080 573h7v7h-7zM1085 573h7v7h-7zM1090 573h7v7h-7zM1095 573h7v7h-7zM1100 573h7v7h-7zM1210 573h7v7h-7zM1215 573h7v7h-7zM1220 573h7v7h-7zM685 578h7v7h-7zM690 578h7v7h-7zM695 578h7v7h-7zM700 578h7v7h-7zM1040 578h7v7h-7zM1045 578h7v7h-7zM1050 578h7v7h-7zM1055 578h7v7h-7zM1060 578h7v7h-7zM1065 578h7v7h-7zM1070 578h7v7h-7zM1075 578h7v7h-7zM1080 578h7v7h-7zM1085 578h7v7h-7zM1090 578h7v7h-7zM1095 578h7v7h-7zM1100 578h7v7h-7zM1105 578h7v7h-7zM1110 578h7v7h-7zM1115 578h7v7h-7zM1120 578h7v7h-7zM1205 578h7v7h-7zM1210 578h7v7h-7zM1215 578h7v7h-7zM700 583h7v7h-7zM705 583h7v7h-7zM710 583h7v7h-7zM715 583h7v7h-7zM720 583h7v7h-7zM725 583h7v7h-7zM730 583h7v7h-7zM775 583h7v7h-7zM780 583h7v7h-7zM785 583h7v7h-7zM790 583h7v7h-7zM795 583h7v7h-7zM800 583h7v7h-7zM805 583h7v7h-7zM810 583h7v7h-7zM815 583h7v7h-7zM820 583h7v7h-7zM825 583h7v7h-7zM830 583h7v7h-7zM835 583h7v7h-7zM840 583h7v7h-7zM845 583h7v7h-7zM850 583h7v7h-7zM1025 583h7v7h-7zM1030 583h7v7h-7zM1035 583h7v7h-7zM1040 583h7v7h-7zM1045 583h7v7h-7zM1105 583h7v7h-7zM1110 583h7v7h-7zM1115 583h7v7h-7zM1120 583h7v7h-7zM1125 583h7v7h-7zM1130 583h7v7h-7zM1195 583h7v7h-7zM1200 583h7v7h-7zM1205 583h7v7h-7zM1210 583h7v7h-7zM735 588h7v7h-7zM740 588h7v7h-7zM745 588h7v7h-7zM750 588h7v7h-7zM755 588h7v7h-7zM760 588h7v7h-7zM765 588h7v7h-7zM850 588h7v7h-7zM855 588h7v7h-7zM860 588h7v7h-7zM865 588h7v7h-7zM870 588h7v7h-7zM1010 588h7v7h-7zM1015 588h7v7h-7zM1020 588h7v7h-7zM1025 588h7v7h-7zM1120 588h7v7h-7zM1125 588h7v7h-7zM1130 588h7v7h-7zM1135 588h7v7h-7zM1140 588h7v7h-7zM1145 588h7v7h-7zM1185 588h7v7h-7zM1190 588h7v7h-7zM1195 588h7v7h-7zM1200 588h7v7h-7zM1205 588h7v7h-7zM870 593h7v7h-7zM875 593h7v7h-7zM880 593h7v7h-7zM885 593h7v7h-7zM995 593h7v7h-7zM1000 593h7v7h-7zM1005 593h7v7h-7zM1010 593h7v7h-7zM1130 593h7v7h-7zM1135 593h7v7h-7zM1140 593h7v7h-7zM1145 593h7v7h-7zM1150 593h7v7h-7zM1155 593h7v7h-7zM1160 593h7v7h-7zM1165 593h7v7h-7zM1170 593h7v7h-7zM1175 593h7v7h-7zM1180 593h7v7h-7zM1185 593h7v7h-7zM1190 593h7v7h-7zM1195 593h7v7h-7z"/>
<path fill="#efefff" d="M890 28h7v7h-7zM1040 28h7v7h-7zM1045 28h7v7h-7zM885 33h7v7h-7zM1050 33h7v7h-7zM1055 33h7v7h-7zM880 38h7v7h-7zM1060 38h7v7h-7zM1065 38h7v7h-7zM875 43h7v7h-7zM1070 43h7v7h-7zM1075 43h7v7h-7zM1080 43h7v7h-7zM870 48h7v7h-7zM1085 48h7v7h-7zM1090 48h7v7h-7zM1095 48h7v7h-7zM865 53h7v7h-7zM1100 53h7v7h-7zM1105 53h7v7h-7zM1110 53h7v7h-7zM1115 53h7v7h-7zM1120 53h7v7h-7zM855 58h7v7h-7zM860 58h7v7h-7zM1120 58h7v7h-7zM1125 58h7v7h-7zM1130 58h7v7h-7zM1135 58h7v7h-7zM1140 58h7v7h-7zM1145 58h7v7h-7zM1150 58h7v7h-7zM1155 58h7v7h-7zM1160 58h7v7h-7zM1165 58h7v7h-7zM1170 58h7v7h-7zM1175 58h7v7h-7zM1180 58h7v7h-7zM1185 58h7v7h-7zM1190 58h7v7h-7zM1195 58h7v7h-7zM1200 58h7v7h-7zM1205 58h7v7h-7zM1210 58h7v7h-7zM1215 58h7v7h-7zM1220 58h7v7h-7zM1225 58h7v7h-7zM1230 58h7v7h-7zM850 63h7v7h-7zM855 63h7v7h-7zM1220 63h7v7h-7zM1225 63h7v7h-7zM1230 63h7v7h-7zM1235 63h7v7h-7zM1240 63h7v7h-7zM840 68h7v7h-7zM845 68h7v7h-7zM850 68h7v7h-7zM1235 68h7v7h-7zM1240 68h7v7h-7zM1245 68h7v7h-7zM700 73h7v7h-7zM705 73h7v7h-7zM710 73h7v7h-7zM715 73h7v7h-7zM720 73h7v7h-7zM725 73h7v7h-7zM730 73h7v7h-7zM735 73h7v7h-7zM740 73h7v7h-7zM745 73h7v7h-7zM750 73h7v7h-7zM830 73h7v7h-7zM835 73h7v7h-7zM840 73h7v7h-7zM1245 73h7v7h-7zM690 78h7v7h-7zM695 78h7v7h-7zM700 78h7v7h-7zM705 78h7v7h-7zM745 78h7v7h-7zM750 78h7v7h-7zM755 78h7v7h-7zM760 78h7v7h-7zM765 78h7v7h-7zM770 78h7v7h-7zM820 78h7v7h-7zM825 78h7v7h-7zM830 78h7v7h-7zM680 83h7v7h-7zM685 83h7v7h-7zM690 83h7v7h-7zM765 83h7v7h-7zM770 83h7v7h-7zM775 83h7v7h-7zM780 83h7v7h-7zM785 83h7v7h-7zM790 83h7v7h-7zM795 83h7v7h-7zM800 83h7v7h-7zM805 83h7v7h-7zM810 83h7v7h-7zM815 83h7v7h-7zM820 83h7v7h-7zM680 88h7v7h-7zM785 88h7v7h-7zM790 88h7v7h-7zM795 88h7v7h-7zM800 88h7v7h-7zM805 88h7v7h-7zM1245 543h7v7h-7zM1235 548h7v7h-7zM1240 548h7v7h-7zM1245 548h7v7h-7zM1225 553h7v7h-7zM1230 553h7v7h-7zM1235 553h7v7h-7zM1220 558h7v7h-7zM1225 558h7v7h-7zM1210 563h7v7h-7zM1215 563h7v7h-7zM1220 563h7v7h-7zM680 568h7v7h-7zM685 568h7v7h-7zM1065 568h7v7h-7zM1070 568h7v7h-7zM1075 568h7v7h-7zM1080 568h7v7h-7zM1085 568h7v7h-7zM1090 568h7v7h-7zM1095 568h7v7h-7zM1100 568h7v7h-7zM1105 568h7v7h-7zM1110 568h7v7h-7zM1115 568h7v7h-7zM1200 568h7v7h-7zM1205 568h7v7h-7zM1210 568h7v7h-7zM690 573h7v7h-7zM695 573h7v7h-7zM700 573h7v7h-7zM1040 573h7v7h-7zM1045 573h7v7h-7zM1050 573h7v7h-7zM1055 573h7v7h-7zM1060 573h7v7h-7zM1065 573h7v7h-7zM1105 573h7v7h-7zM1110 573h7v7h-7zM1115 573h7v7h-7zM1120 573h7v7h-7zM1125 573h7v7h-7zM1130 573h7v7h-7zM1135 573h7v7h-7zM1190 573h7v7h-7zM1195 573h7v7h-7zM1200 573h7v7h-7zM1205 573h7v7h-7zM705 578h7v7h-7zM710 578h7v7h-7zM715 578h7v7h-7zM720 578h7v7h-7zM725 578h7v7h-7zM785 578h7v7h-7zM790 578h7v7h-7zM795 578h7v7h-7zM800 578h7v7h-7zM805 578h7v7h-7zM810 578h7v7h-7zM815 578h7v7h-7zM820 578h7v7h-7zM825 578h7v7h-7zM830 578h7v7h-7zM835 578h7v7h-7zM840 578h7v7h-7zM845 578h7v7h-7zM850 578h7v7h-7zM855 578h7v7h-7zM1020 578h7v7h-7zM1025 578h7v7h-7zM1030 578h7v7h-7zM1035 578h7v7h-7zM1125 578h7v7h-7zM1130 578h7v7h-7zM1135 578h7v7h-7zM1140 578h7v7h-7zM1145 578h7v7h-7zM1150 578h7v7h-7zM1175 578h7v7h-7zM1180 578h7v7h-7zM1185 578h7v7h-7zM1190 578h7v7h-7zM1195 578h7v7h-7zM1200 578h7v7h-7zM735 583h7v7h-7zM740 583h7v7h-7zM745 583h7v7h-7zM750 583h7v7h-7zM755 583h7v7h-7zM760 583h7v7h-7zM765 583h7v7h-7zM770 583h7v7h-7zM855 583h7v7h-7zM860 583h7v7h-7zM865 583h7v7h-7zM870 583h7v7h-7zM1005 583h7v7h-7zM1010 583h7v7h-7zM1015 583h7v7h-7zM1020 583h7v7h-7zM1135 583h7v7h-7zM1140 583h7v7h-7zM1145 583h7v7h-7zM1150 583h7v7h-7zM1155 583h7v7h-7zM1160 583h7v7h-7zM1165 583h7v7h-7zM1170 583h7v7h-7zM1175 583h7v7h-7zM1180 583h7v7h-7zM1185 583h7v7h-7zM1190 583h7v7h-7zM875 588h7v7h-7zM880 588h7v7h-7zM885 588h7v7h-7zM990 588h7v7h-7zM995 588h7v7h-7zM1000 588h7v7h-7zM1005 588h7v7h-7zM1150 588h7v7h-7zM1155 588h7v7h-7zM1160 588h7v7h-7zM1165 588h7v7h-7zM1170 588h7v7h-7zM1175 588h7v7h-7zM1180 588h7v7h-7zM890 593h7v7h-7zM895 593h7v7h-7zM900 593h7v7h-7zM905 593h7v7h-7zM975 593h7v7h-7zM980 593h7v7h-7zM985 593h7v7h-7zM990 593h7v7h-7z"/>
<path fill="#ebebff" d="M895 28h7v7h-7zM900 28h7v7h-7zM1030 28h7v7h-7zM1035 28h7v7h-7zM890 33h7v7h-7zM895 33h7v7h-7zM1040 33h7v7h-7zM1045 33h7v7h-7zM885 38h7v7h-7zM890 38h7v7h-7zM1050 38h7v7h-7zM1055 38h7v7h-7zM880 43h7v7h-7zM885 43h7v7h-7zM1055 43h7v7h-7zM1060 43h7v7h-7zM1065 43h7v7h-7zM875 48h7v7h-7zM880 48h7v7h-7zM1070 48h7v7h-7zM1075 48h7v7h-7zM1080 48h7v7h-7zM870 53h7v7h-7zM875 53h7v7h-7zM1080 53h7v7h-7zM1085 53h7v7h-7zM1090 53h7v7h-7zM1095 53h7v7h-7zM865 58h7v7h-7zM870 58h7v7h-7zM1100 58h7v7h-7zM1105 58h7v7h-7zM1110 58h7v7h-7zM1115 58h7v7h-7zM860 63h7v7h-7zM865 63h7v7h-7zM1120 63h7v7h-7zM1125 63h7v7h-7zM1130 63h7v7h-7zM1135 63h7v7h-7zM1140 63h7v7h-7zM1145 63h7v7h-7zM1150 63h7v7h-7zM1155 63h7v7h-7zM1160 63h7v7h-7zM1165 63h7v7h-7zM1170 63h7v7h-7zM1175 63h7v7h-7zM1180 63h7v7h-7zM1185 63h7v7h-7zM1190 63h7v7h-7zM1195 63h7v7h-7zM1200 63h7v7h-7zM1205 63h7v7h-7zM1210 63h7v7h-7zM1215 63h7v7h-7zM855 68h7v7h-7zM1205 68h7v7h-7zM1210 68h7v7h-7zM1215 68h7v7h-7zM1220 68h7v7h-7zM1225 68h7v7h-7zM1230 68h7v7h-7zM845 73h7v7h-7zM850 73h7v7h-7zM1225 73h7v7h-7zM1230 73h7v7h-7zM1235 73h7v7h-7zM1240 73h7v7h-7zM710 78h7v7h-7zM715 78h7v7h-7zM720 78h7v7h-7zM725 78h7v7h-7zM730 78h7v7h-7zM735 78h7v7h-7zM740 78h7v7h-7zM835 78h7v7h-7zM840 78h7v7h-7zM1235 78h7v7h-7zM1240 78h7v7h-7zM1245 78h7v7h-7zM695 83h7v7h-7zM700 83h7v7h-7zM705 83h7v7h-7zM710 83h7v7h-7zM715 83h7v7h-7zM735 83h7v7h-7zM740 83h7v7h-7zM745 83h7v7h-7zM750 83h7v7h-7zM755 83h7v7h-7zM760 83h7v7h-7zM825 83h7v7h-7zM830 83h7v7h-7zM835 83h7v7h-7zM1240 83h7v7h-7zM1245 83h7v7h-7zM685 88h7v7h-7zM690 88h7v7h-7zM695 88h7v7h-7zM760 88h7v7h-7zM765 88h7v7h-7zM770 88h7v7h-7zM775 88h7v7h-7zM780 88h7v7h-7zM810 88h7v7h-7zM815 88h7v7h-7zM820 88h7v7h-7zM825 88h7v7h-7zM1245 88h7v7h-7zM680 93h7v7h-7zM685 93h7v7h-7zM775 93h7v7h-7zM780 93h7v7h-7zM785 93h7v7h-7zM790 93h7v7h-7zM795 93h7v7h-7zM800 93h7v7h-7zM805 93h7v7h-7zM810 93h7v7h-7zM815 93h7v7h-7zM680 98h7v7h-7zM1245 538h7v7h-7zM1235 543h7v7h-7zM1240 543h7v7h-7zM1225 548h7v7h-7zM1230 548h7v7h-7zM1215 553h7v7h-7zM1220 553h7v7h-7zM1205 558h7v7h-7zM1210 558h7v7h-7zM1215 558h7v7h-7zM680 563h7v7h-7zM685 563h7v7h-7zM1065 563h7v7h-7zM1070 563h7v7h-7zM1075 563h7v7h-7zM1080 563h7v7h-7zM1085 563h7v7h-7zM1090 563h7v7h-7zM1095 563h7v7h-7zM1100 563h7v7h-7zM1105 563h7v7h-7zM1110 563h7v7h-7zM1115 563h7v7h-7zM1120 563h7v7h-7zM1125 563h7v7h-7zM1130 563h7v7h-7zM1190 563h7v7h-7zM1195 563h7v7h-7zM1200 563h7v7h-7zM1205 563h7v7h-7zM690 568h7v7h-7zM695 568h7v7h-7zM1040 568h7v7h-7zM1045 568h7v7h-7zM1050 568h7v7h-7zM1055 568h7v7h-7zM1060 568h7v7h-7zM1120 568h7v7h-7zM1125 568h7v7h-7zM1130 568h7v7h-7zM1135 568h7v7h-7zM1140 568h7v7h-7zM1145 568h7v7h-7zM1150 568h7v7h-7zM1155 568h7v7h-7zM1160 568h7v7h-7zM1165 568h7v7h-7zM1170 568h7v7h-7zM1175 568h7v7h-7zM1180 568h7v7h-7zM1185 568h7v7h-7zM1190 568h7v7h-7zM1195 568h7v7h-7zM705 573h7v7h-7zM710 573h7v7h-7zM715 573h7v7h-7zM795 573h7v7h-7zM800 573h7v7h-7zM805 573h7v7h-7zM810 573h7v7h-7zM815 573h7v7h-7zM820 573h7v7h-7zM825 573h7v7h-7zM830 573h7v7h-7zM835 573h7v7h-7zM840 573h7v7h-7zM845 573h7v7h-7zM850 573h7v7h-7zM855 573h7v7h-7zM1020 573h7v7h-7zM1025 573h7v7h-7zM1030 573h7v7h-7zM1035 573h7v7h-7zM1140 573h7v7h-7zM1145 573h7v7h-7zM1150 573h7v7h-7zM1155 573h7v7h-7zM1160 573h7v7h-7zM1165 573h7v7h-7zM1170 573h7v7h-7zM1175 573h7v7h-7zM1180 573h7v7h-7zM1185 573h7v7h-7zM730 578h7v7h-7zM735 578h7v7h-7zM740 578h7v7h-7zM745 578h7v7h-7zM750 578h7v7h-7zM755 578h7v7h-7zM760 578h7v7h-7zM765 578h7v7h-7zM770 578h7v7h-7zM775 578h7v7h-7zM780 578h7v7h-7zM860 578h7v7h-7zM865 578h7v7h-7zM870 578h7v7h-7zM875 578h7v7h-7zM1005 578h7v7h-7zM1010 578h7v7h-7zM1015 578h7v7h-7zM1155 578h7v7h-7zM1160 578h7v7h-7zM1165 578h7v7h-7zM1170 578h7v7h-7zM875 583h7v7h-7zM880 583h7v7h-7zM885 583h7v7h-7zM890 583h7v7h-7zM990 583h7v7h-7zM995 583h7v7h-7zM1000 583h7v7h-7zM890 588h7v7h-7zM895 588h7v7h-7zM900 588h7v7h-7zM905 588h7v7h-7zM970 588h7v7h-7zM975 588h7v7h-7zM980 588h7v7h-7zM985 588h7v7h-7zM910 593h7v7h-7zM915 593h7v7h-7zM920 593h7v7h-7zM925 593h7v7h-7zM930 593h7v7h-7zM935 593h7v7h-7zM940 593h7v7h-7zM945 593h7v7h-7zM950 593h7v7h-7zM955 593h7v7h-7zM960 593h7v7h-7zM965 593h7v7h-7zM970 593h7v7h-7z"/>
<path fill="#e7e7ff" d="M905 28h7v7h-7zM1020 28h7v7h-7zM1025 28h7v7h-7zM900 33h7v7h-7zM1030 33h7v7h-7zM1035 33h7v7h-7zM895 38h7v7h-7zM1040 38h7v7h-7zM1045 38h7v7h-7zM890 43h7v7h-7zM1045 43h7v7h-7zM1050 43h7v7h-7zM885 48h7v7h-7zM1055 48h7v7h-7zM1060 48h7v7h-7zM1065 48h7v7h-7zM880 53h7v7h-7zM1070 53h7v7h-7zM1075 53h7v7h-7zM875 58h7v7h-7zM1080 58h7v7h-7zM1085 58h7v7h-7zM1090 58h7v7h-7zM1095 58h7v7h-7zM870 63h7v7h-7zM1100 63h7v7h-7zM1105 63h7v7h-7zM1110 63h7v7h-7zM1115 63h7v7h-7zM860 68h7v7h-7zM865 68h7v7h-7zM1125 68h7v7h-7zM1130 68h7v7h-7zM1135 68h7v7h-7zM1140 68h7v7h-7zM1145 68h7v7h-7zM1150 68h7v7h-7zM1155 68h7v7h-7zM1160 68h7v7h-7zM1165 68h7v7h-7zM1170 68h7v7h-7zM1175 68h7v7h-7zM1180 68h7v7h-7zM1185 68h7v7h-7zM1190 68h7v7h-7zM1195 68h7v7h-7zM1200 68h7v7h-7zM855 73h7v7h-7zM860 73h7v7h-7zM1190 73h7v7h-7zM1195 73h7v7h-7zM1200 73h7v7h-7zM1205 73h7v7h-7zM1210 73h7v7h-7zM1215 73h7v7h-7zM1220 73h7v7h-7zM845 78h7v7h-7zM850 78h7v7h-7zM1220 78h7v7h-7zM1225 78h7v7h-7zM1230 78h7v7h-7zM720 83h7v7h-7zM725 83h7v7h-7zM730 83h7v7h-7zM840 83h7v7h-7zM845 83h7v7h-7zM1230 83h7v7h-7zM1235 83h7v7h-7zM700 88h7v7h-7zM705 88h7v7h-7zM710 88h7v7h-7zM715 88h7v7h-7zM720 88h7v7h-7zM725 88h7v7h-7zM730 88h7v7h-7zM735 88h7v7h-7zM740 88h7v7h-7zM745 88h7v7h-7zM750 88h7v7h-7zM755 88h7v7h-7zM830 88h7v7h-7zM835 88h7v7h-7zM1235 88h7v7h-7zM1240 88h7v7h-7zM690 93h7v7h-7zM695 93h7v7h-7zM700 93h7v7h-7zM755 93h7v7h-7zM760 93h7v7h-7zM765 93h7v7h-7zM770 93h7v7h-7zM820 93h7v7h-7zM825 93h7v7h-7zM1240 93h7v7h-7zM1245 93h7v7h-7zM685 98h7v7h-7zM690 98h7v7h-7zM770 98h7v7h-7zM775 98h7v7h-7zM780 98h7v7h-7zM785 98h7v7h-7zM790 98h7v7h-7zM795 98h7v7h-7zM800 98h7v7h-7zM805 98h7v7h-7zM810 98h7v7h-7zM815 98h7v7h-7zM1245 98h7v7h-7zM680 103h7v7h-7zM685 103h7v7h-7zM680 108h7v7h-7zM1245 533h7v7h-7zM1235 538h7v7h-7zM1240 538h7v7h-7zM1225 543h7v7h-7zM1230 543h7v7h-7zM1210 548h7v7h-7zM1215 548h7v7h-7zM1220 548h7v7h-7zM1200 553h7v7h-7zM1205 553h7v7h-7zM1210 553h7v7h-7zM680 558h7v7h-7zM1070 558h7v7h-7zM1075 558h7v7h-7zM1080 558h7v7h-7zM1085 558h7v7h-7zM1090 558h7v7h-7zM1095 558h7v7h-7zM1100 558h7v7h-7zM1105 558h7v7h-7zM1110 558h7v7h-7zM1115 558h7v7h-7zM1120 558h7v7h-7zM1125 558h7v7h-7zM1130 558h7v7h-7zM1135 558h7v7h-7zM1140 558h7v7h-7zM1145 558h7v7h-7zM1150 558h7v7h-7zM1155 558h7v7h-7zM1170 558h7v7h-7zM1175 558h7v7h-7zM1180 558h7v7h-7zM1185 558h7v7h-7zM1190 558h7v7h-7zM1195 558h7v7h-7zM1200 558h7v7h-7zM690 563h7v7h-7zM695 563h7v7h-7zM1040 563h7v7h-7zM1045 563h7v7h-7zM1050 563h7v7h-7zM1055 563h7v7h-7zM1060 563h7v7h-7zM1135 563h7v7h-7zM1140 563h7v7h-7zM1145 563h7v7h-7zM1150 563h7v7h-7zM1155 563h7v7h-7zM1160 563h7v7h-7zM1165 563h7v7h-7zM1170 563h7v7h-7zM1175 563h7v7h-7zM1180 563h7v7h-7zM1185 563h7v7h-7zM700 568h7v7h-7zM705 568h7v7h-7zM710 568h7v7h-7zM815 568h7v7h-7zM820 568h7v7h-7zM825 568h7v7h-7zM830 568h7v7h-7zM835 568h7v7h-7zM840 568h7v7h-7zM845 568h7v7h-7zM850 568h7v7h-7zM1020 568h7v7h-7zM1025 568h7v7h-7zM1030 568h7v7h-7zM1035 568h7v7h-7zM720 573h7v7h-7zM725 573h7v7h-7zM730 573h7v7h-7zM735 573h7v7h-7zM740 573h7v7h-7zM745 573h7v7h-7zM750 573h7v7h-7zM755 573h7v7h-7zM760 573h7v7h-7zM765 573h7v7h-7zM770 573h7v7h-7zM775 573h7v7h-7zM780 573h7v7h-7zM785 573h7v7h-7zM790 573h7v7h-7zM860 573h7v7h-7zM865 573h7v7h-7zM870 573h7v7h-7zM875 573h7v7h-7zM1000 573h7v7h-7zM1005 573h7v7h-7zM1010 573h7v7h-7zM1015 573h7v7h-7zM880 578h7v7h-7zM885 578h7v7h-7zM890 578h7v7h-7zM985 578h7v7h-7zM990 578h7v7h-7zM995 578h7v7h-7zM1000 578h7v7h-7zM895 583h7v7h-7zM900 583h7v7h-7zM905 583h7v7h-7zM910 583h7v7h-7zM970 583h7v7h-7zM975 583h7v7h-7zM980 583h7v7h-7zM985 583h7v7h-7zM910 588h7v7h-7zM915 588h7v7h-7zM920 588h7v7h-7zM925 588h7v7h-7zM930 588h7v7h-7zM935 588h7v7h-7zM940 588h7v7h-7zM945 588h7v7h-7zM950 588h7v7h-7zM955 588h7v7h-7zM960 588h7v7h-7zM965 588h7v7h-7z"/>
<path fill="#e3e3ff" d="M910 28h7v7h-7zM915 28h7v7h-7zM1015 28h7v7h-7zM905 33h7v7h-7zM910 33h7v7h-7zM1020 33h7v7h-7zM1025 33h7v7h-7zM900 38h7v7h-7zM1030 38h7v7h-7zM1035 38h7v7h-7zM895 43h7v7h-7zM1040 43h7v7h-7zM890 48h7v7h-7zM1045 48h7v7h-7zM1050 48h7v7h-7zM885 53h7v7h-7zM1055 53h7v7h-7zM1060 53h7v7h-7zM1065 53h7v7h-7zM880 58h7v7h-7zM1070 58h7v7h-7zM1075 58h7v7h-7zM875 63h7v7h-7zM1080 63h7v7h-7zM1085 63h7v7h-7zM1090 63h7v7h-7zM1095 63h7v7h-7zM870 68h7v7h-7zM1100 68h7v7h-7zM1105 68h7v7h-7zM1110 68h7v7h-7zM1115 68h7v7h-7zM1120 68h7v7h-7zM865 73h7v7h-7zM1135 73h7v7h-7zM1140 73h7v7h-7zM1145 73h7v7h-7zM1150 73h7v7h-7zM1155 73h7v7h-7zM1160 73h7v7h-7zM1165 73h7v7h-7zM1170 73h7v7h-7zM1175 73h7v7h-7zM1180 73h7v7h-7zM1185 73h7v7h-7zM855 78h7v7h-7zM860 78h7v7h-7zM1190 78h7v7h-7zM1195 78h7v7h-7zM1200 78h7v7h-7zM1205 78h7v7h-7zM1210 78h7v7h-7zM1215 78h7v7h-7zM850 83h7v7h-7zM1215 83h7v7h-7zM1220 83h7v7h-7zM1225 83h7v7h-7zM840 88h7v7h-7zM845 88h7v7h-7zM1225 88h7v7h-7zM1230 88h7v7h-7zM705 93h7v7h-7zM710 93h7v7h-7zM715 93h7v7h-7zM720 93h7v7h-7zM725 93h7v7h-7zM730 93h7v7h-7zM735 93h7v7h-7zM740 93h7v7h-7zM745 93h7v7h-7zM750 93h7v7h-7zM830 93h7v7h-7zM835 93h7v7h-7zM1230 93h7v7h-7zM1235 93h7v7h-7zM695 98h7v7h-7zM700 98h7v7h-7zM705 98h7v7h-7zM750 98h7v7h-7zM755 98h7v7h-7zM760 98h7v7h-7zM765 98h7v7h-7zM820 98h7v7h-7zM825 98h7v7h-7zM830 98h7v7h-7zM1235 98h7v7h-7zM1240 98h7v7h-7zM690 103h7v7h-7zM695 103h7v7h-7zM770 103h7v7h-7zM775 103h7v7h-7zM780 103h7v7h-7zM785 103h7v7h-7zM790 103h7v7h-7zM795 103h7v7h-7zM800 103h7v7h-7zM805 103h7v7h-7zM810 103h7v7h-7zM815 103h7v7h-7zM820 103h7v7h-7zM1240 103h7v7h-7zM1245 103h7v7h-7zM685 108h7v7h-7zM790 108h7v7h-7zM795 108h7v7h-7zM800 108h7v7h-7zM805 108h7v7h-7zM1245 108h7v7h-7zM680 113h7v7h-7zM1245 528h7v7h-7zM1235 533h7v7h-7zM1240 533h7v7h-7zM1225 538h7v7h-7zM1230 538h7v7h-7zM1215 543h7v7h-7zM1220 543h7v7h-7zM1195 548h7v7h-7zM1200 548h7v7h-7zM1205 548h7v7h-7zM680 553h7v7h-7zM1075 553h7v7h-7zM1080 553h7v7h-7zM1085 553h7v7h-7zM1090 553h7v7h-7zM1095 553h7v7h-7zM1100 553h7v7h-7zM1105 553h7v7h-7zM1110 553h7v7h-7zM1115 553h7v7h-7zM1120 553h7v7h-7zM1125 553h7v7h-7zM1130 553h7v7h-7zM1135 553h7v7h-7zM1140 553h7v7h-7zM1145 553h7v7h-7zM1150 553h7v7h-7zM1155 553h7v7h-7zM1160 553h7v7h-7zM1165 553h7v7h-7zM1170 553h7v7h-7zM1175 553h7v7h-7zM1180 553h7v7h-7zM1185 553h7v7h-7zM1190 553h7v7h-7zM1195 553h7v7h-7zM685 558h7v7h-7zM690 558h7v7h-7zM1040 558h7v7h-7zM1045 558h7v7h-7zM1050 558h7v7h-7zM1055 558h7v7h-7zM1060 558h7v7h-7zM1065 558h7v7h-7zM1160 558h7v7h-7zM1165 558h7v7h-7zM700 563h7v7h-7zM705 563h7v7h-7zM1020 563h7v7h-7zM1025 563h7v7h-7zM1030 563h7v7h-7zM1035 563h7v7h-7zM715 568h7v7h-7zM720 568h7v7h-7zM725 568h7v7h-7zM730 568h7v7h-7zM780 568h7v7h-7zM785 568h7v7h-7zM790 568h7v7h-7zM795 568h7v7h-7zM800 568h7v7h-7zM805 568h7v7h-7zM810 568h7v7h-7zM855 568h7v7h-7zM860 568h7v7h-7zM865 568h7v7h-7zM870 568h7v7h-7zM875 568h7v7h-7zM1000 568h7v7h-7zM1005 568h7v7h-7zM1010 568h7v7h-7zM1015 568h7v7h-7zM880 573h7v7h-7zM885 573h7v7h-7zM890 573h7v7h-7zM985 573h7v7h-7zM990 573h7v7h-7zM995 573h7v7h-7zM895 578h7v7h-7zM900 578h7v7h-7zM905 578h7v7h-7zM910 578h7v7h-7zM970 578h7v7h-7zM975 578h7v7h-7zM980 578h7v7h-7zM915 583h7v7h-7zM920 583h7v7h-7zM925 583h7v7h-7zM930 583h7v7h-7zM935 583h7v7h-7zM940 583h7v7h-7zM945 583h7v7h-7zM950 583h7v7h-7zM955 583h7v7h-7zM960 583h7v7h-7zM965 583h7v7h-7z"/>
<path fill="#dfdfff" d="M920 28h7v7h-7zM925 28h7v7h-7zM1005 28h7v7h-7zM1010 28h7v7h-7zM915 33h7v7h-7zM1015 33h7v7h-7zM905 38h7v7h-7zM910 38h7v7h-7zM1020 38h7v7h-7zM1025 38h7v7h-7zM900 43h7v7h-7zM905 43h7v7h-7zM1030 43h7v7h-7zM1035 43h7v7h-7zM895 48h7v7h-7zM900 48h7v7h-7zM1040 48h7v7h-7zM890 53h7v7h-7zM895 53h7v7h-7zM1045 53h7v7h-7zM1050 53h7v7h-7zM885 58h7v7h-7zM890 58h7v7h-7zM1055 58h7v7h-7zM1060 58h7v7h-7zM1065 58h7v7h-7zM880 63h7v7h-7zM885 63h7v7h-7zM1070 63h7v7h-7zM1075 63h7v7h-7zM875 68h7v7h-7zM880 68h7v7h-7zM1085 68h7v7h-7zM1090 68h7v7h-7zM1095 68h7v7h-7zM870 73h7v7h-7zM1105 73h7v7h-7zM1110 73h7v7h-7zM1115 73h7v7h-7zM1120 73h7v7h-7zM1125 73h7v7h-7zM1130 73h7v7h-7zM865 78h7v7h-7zM1145 78h7v7h-7zM1150 78h7v7h-7zM1155 78h7v7h-7zM1160 78h7v7h-7zM1165 78h7v7h-7zM1170 78h7v7h-7zM1175 78h7v7h-7zM1180 78h7v7h-7zM1185 78h7v7h-7zM855 83h7v7h-7zM860 83h7v7h-7zM1195 83h7v7h-7zM1200 83h7v7h-7zM1205 83h7v7h-7zM1210 83h7v7h-7zM850 88h7v7h-7zM1210 88h7v7h-7zM1215 88h7v7h-7zM1220 88h7v7h-7zM840 93h7v7h-7zM845 93h7v7h-7zM1220 93h7v7h-7zM1225 93h7v7h-7zM710 98h7v7h-7zM715 98h7v7h-7zM720 98h7v7h-7zM725 98h7v7h-7zM730 98h7v7h-7zM735 98h7v7h-7zM740 98h7v7h-7zM745 98h7v7h-7zM835 98h7v7h-7zM840 98h7v7h-7zM1230 98h7v7h-7zM700 103h7v7h-7zM705 103h7v7h-7zM710 103h7v7h-7zM750 103h7v7h-7zM755 103h7v7h-7zM760 103h7v7h-7zM765 103h7v7h-7zM825 103h7v7h-7zM830 103h7v7h-7zM1235 103h7v7h-7zM690 108h7v7h-7zM695 108h7v7h-7zM770 108h7v7h-7zM775 108h7v7h-7zM780 108h7v7h-7zM785 108h7v7h-7zM810 108h7v7h-7zM815 108h7v7h-7zM820 108h7v7h-7zM825 108h7v7h-7zM1240 108h7v7h-7zM685 113h7v7h-7zM690 113h7v7h-7zM790 113h7v7h-7zM795 113h7v7h-7zM800 113h7v7h-7zM805 113h7v7h-7zM810 113h7v7h-7zM1245 113h7v7h-7zM680 118h7v7h-7zM685 118h7v7h-7zM1245 338h7v7h-7zM1245 343h7v7h-7zM1245 348h7v7h-7zM1245 523h7v7h-7zM1240 528h7v7h-7zM1230 533h7v7h-7zM1215 538h7v7h-7zM1220 538h7v7h-7zM1195 543h7v7h-7zM1200 543h7v7h-7zM1205 543h7v7h-7zM1210 543h7v7h-7zM680 548h7v7h-7zM1085 548h7v7h-7zM1090 548h7v7h-7zM1095 548h7v7h-7zM1100 548h7v7h-7zM1105 548h7v7h-7zM1110 548h7v7h-7zM1115 548h7v7h-7zM1120 548h7v7h-7zM1125 548h7v7h-7zM1130 548h7v7h-7zM1135 548h7v7h-7zM1140 548h7v7h-7zM1145 548h7v7h-7zM1150 548h7v7h-7zM1155 548h7v7h-7zM1160 548h7v7h-7zM1165 548h7v7h-7zM1170 548h7v7h-7zM1175 548h7v7h-7zM1180 548h7v7h-7zM1185 548h7v7h-7zM1190 548h7v7h-7zM685 553h7v7h-7zM690 553h7v7h-7zM1050 553h7v7h-7zM1055 553h7v7h-7zM1060 553h7v7h-7zM1065 553h7v7h-7zM1070 553h7v7h-7zM695 558h7v7h-7zM700 558h7v7h-7zM1020 558h7v7h-7zM1025 558h7v7h-7zM1030 558h7v7h-7zM1035 558h7v7h-7zM710 563h7v7h-7zM715 563h7v7h-7zM800 563h7v7h-7zM805 563h7v7h-7zM810 563h7v7h-7zM815 563h7v7h-7zM820 563h7v7h-7zM825 563h7v7h-7zM830 563h7v7h-7zM835 563h7v7h-7zM840 563h7v7h-7zM845 563h7v7h-7zM850 563h7v7h-7zM855 563h7v7h-7zM860 563h7v7h-7zM865 563h7v7h-7zM870 563h7v7h-7zM875 563h7v7h-7zM1005 563h7v7h-7zM1010 563h7v7h-7zM1015 563h7v7h-7zM735 568h7v7h-7zM740 568h7v7h-7zM745 568h7v7h-7zM750 568h7v7h-7zM755 568h7v7h-7zM760 568h7v7h-7zM765 568h7v7h-7zM770 568h7v7h-7zM775 568h7v7h-7zM880 568h7v7h-7zM885 568h7v7h-7zM890 568h7v7h-7zM895 568h7v7h-7zM985 568h7v7h-7zM990 568h7v7h-7zM995 568h7v7h-7zM895 573h7v7h-7zM900 573h7v7h-7zM905 573h7v7h-7zM910 573h7v7h-7zM970 573h7v7h-7zM975 573h7v7h-7zM980 573h7v7h-7zM915 578h7v7h-7zM920 578h7v7h-7zM925 578h7v7h-7zM930 578h7v7h-7zM935 578h7v7h-7zM940 578h7v7h-7zM945 578h7v7h-7zM950 578h7v7h-7zM955 578h7v7h-7zM960 578h7v7h-7zM965 578h7v7h-7z"/>
<path fill="#dbdbff" d="M930 28h7v7h-7zM995 28h7v7h-7zM1000 28h7v7h-7zM920 33h7v7h-7zM1005 33h7v7h-7zM1010 33h7v7h-7zM915 38h7v7h-7zM1015 38h7v7h-7zM910 43h7v7h-7zM1020 43h7v7h-7zM1025 43h7v7h-7zM905 48h7v7h-7zM1030 48h7v7h-7zM1035 48h7v7h-7zM900 53h7v7h-7zM1040 53h7v7h-7zM895 58h7v7h-7zM1045 58h7v7h-7zM1050 58h7v7h-7zM890 63h7v7h-7zM1055 63h7v7h-7zM1060 63h7v7h-7zM1065 63h7v7h-7zM885 68h7v7h-7zM1070 68h7v7h-7zM1075 68h7v7h-7zM1080 68h7v7h-7zM875 73h7v7h-7zM880 73h7v7h-7zM1085 73h7v7h-7zM1090 73h7v7h-7zM1095 73h7v7h-7zM1100 73h7v7h-7zM870 78h7v7h-7zM1115 78h7v7h-7zM1120 78h7v7h-7zM1125 78h7v7h-7zM1130 78h7v7h-7zM1135 78h7v7h-7zM1140 78h7v7h-7zM865 83h7v7h-7zM1160 83h7v7h-7zM1165 83h7v7h-7zM1170 83h7v7h-7zM1175 83h7v7h-7zM1180 83h7v7h-7zM1185 83h7v7h-7zM1190 83h7v7h-7zM855 88h7v7h-7zM860 88h7v7h-7zM1195 88h7v7h-7zM1200 88h7v7h-7zM1205 88h7v7h-7zM850 93h7v7h-7zM855 93h7v7h-7zM1210 93h7v7h-7zM1215 93h7v7h-7zM845 98h7v7h-7zM1220 98h7v7h-7zM1225 98h7v7h-7zM715 103h7v7h-7zM720 103h7v7h-7zM725 103h7v7h-7zM730 103h7v7h-7zM735 103h7v7h-7zM740 103h7v7h-7zM745 103h7v7h-7zM835 103h7v7h-7zM840 103h7v7h-7zM1225 103h7v7h-7zM1230 103h7v7h-7zM700 108h7v7h-7zM705 108h7v7h-7zM710 108h7v7h-7zM750 108h7v7h-7zM755 108h7v7h-7zM760 108h7v7h-7zM765 108h7v7h-7zM830 108h7v7h-7zM835 108h7v7h-7zM1235 108h7v7h-7zM695 113h7v7h-7zM700 113h7v7h-7zM770 113h7v7h-7zM775 113h7v7h-7zM780 113h7v7h-7zM785 113h7v7h-7zM815 113h7v7h-7zM820 113h7v7h-7zM825 113h7v7h-7zM1240 113h7v7h-7zM690 118h7v7h-7zM790 118h7v7h-7zM795 118h7v7h-7zM800 118h7v7h-7zM805 118h7v7h-7zM810 118h7v7h-7zM815 118h7v7h-7zM1245 118h7v7h-7zM680 123h7v7h-7zM685 123h7v7h-7zM1245 123h7v7h-7zM680 128h7v7h-7zM680 293h7v7h-7zM680 298h7v7h-7zM680 303h7v7h-7zM680 308h7v7h-7zM680 313h7v7h-7zM680 318h7v7h-7zM680 323h7v7h-7zM1245 323h7v7h-7zM680 328h7v7h-7zM1245 328h7v7h-7zM1245 333h7v7h-7zM1245 353h7v7h-7zM1245 358h7v7h-7zM1245 363h7v7h-7zM1240 523h7v7h-7zM1230 528h7v7h-7zM1235 528h7v7h-7zM1220 533h7v7h-7zM1225 533h7v7h-7zM1200 538h7v7h-7zM1205 538h7v7h-7zM1210 538h7v7h-7zM680 543h7v7h-7zM1095 543h7v7h-7zM1100 543h7v7h-7zM1105 543h7v7h-7zM1110 543h7v7h-7zM1115 543h7v7h-7zM1120 543h7v7h-7zM1125 543h7v7h-7zM1130 543h7v7h-7zM1135 543h7v7h-7zM1140 543h7v7h-7zM1145 543h7v7h-7zM1150 543h7v7h-7zM1155 543h7v7h-7zM1160 543h7v7h-7zM1165 543h7v7h-7zM1170 543h7v7h-7zM1175 543h7v7h-7zM1180 543h7v7h-7zM1185 543h7v7h-7zM1190 543h7v7h-7zM685 548h7v7h-7zM1055 548h7v7h-7zM1060 548h7v7h-7zM1065 548h7v7h-7zM1070 548h7v7h-7zM1075 548h7v7h-7zM1080 548h7v7h-7zM695 553h7v7h-7zM1025 553h7v7h-7zM1030 553h7v7h-7zM1035 553h7v7h-7zM1040 553h7v7h-7zM1045 553h7v7h-7zM705 558h7v7h-7zM710 558h7v7h-7zM820 558h7v7h-7zM825 558h7v7h-7zM830 558h7v7h-7zM835 558h7v7h-7zM840 558h7v7h-7zM845 558h7v7h-7zM850 558h7v7h-7zM855 558h7v7h-7zM860 558h7v7h-7zM865 558h7v7h-7zM870 558h7v7h-7zM1005 558h7v7h-7zM1010 558h7v7h-7zM1015 558h7v7h-7zM720 563h7v7h-7zM725 563h7v7h-7zM730 563h7v7h-7zM735 563h7v7h-7zM770 563h7v7h-7zM775 563h7v7h-7zM780 563h7v7h-7zM785 563h7v7h-7zM790 563h7v7h-7zM795 563h7v7h-7zM880 563h7v7h-7zM885 563h7v7h-7zM890 563h7v7h-7zM895 563h7v7h-7zM985 563h7v7h-7zM990 563h7v7h-7zM995 563h7v7h-7zM1000 563h7v7h-7zM900 568h7v7h-7zM905 568h7v7h-7zM910 568h7v7h-7zM915 568h7v7h-7zM965 568h7v7h-7zM970 568h7v7h-7zM975 568h7v7h-7zM980 568h7v7h-7zM915 573h7v7h-7zM920 573h7v7h-7zM925 573h7v7h-7zM930 573h7v7h-7zM935 573h7v7h-7zM940 573h7v7h-7zM945 573h7v7h-7zM950 573h7v7h-7zM955 573h7v7h-7zM960 573h7v7h-7zM965 573h7v7h-7z"/>
<path fill="#d7d7ff" d="M935 28h7v7h-7zM940 28h7v7h-7zM945 28h7v7h-7zM980 28h7v7h-7zM985 28h7v7h-7zM990 28h7v7h-7zM925 33h7v7h-7zM930 33h7v7h-7zM995 33h7v7h-7zM1000 33h7v7h-7zM920 38h7v7h-7zM1005 38h7v7h-7zM1010 38h7v7h-7zM915 43h7v7h-7zM1015 43h7v7h-7zM910 48h7v7h-7zM1025 48h7v7h-7zM905 53h7v7h-7zM1030 53h7v7h-7zM1035 53h7v7h-7zM900 58h7v7h-7zM1040 58h7v7h-7zM895 63h7v7h-7zM1045 63h7v7h-7zM1050 63h7v7h-7zM890 68h7v7h-7zM1055 68h7v7h-7zM1060 68h7v7h-7zM1065 68h7v7h-7zM885 73h7v7h-7zM1070 73h7v7h-7zM1075 73h7v7h-7zM1080 73h7v7h-7zM875 78h7v7h-7zM880 78h7v7h-7zM1090 78h7v7h-7zM1095 78h7v7h-7zM1100 78h7v7h-7zM1105 78h7v7h-7zM1110 78h7v7h-7zM870 83h7v7h-7zM875 83h7v7h-7zM1130 83h7v7h-7zM1135 83h7v7h-7zM1140 83h7v7h-7zM1145 83h7v7h-7zM1150 83h7v7h-7zM1155 83h7v7h-7zM865 88h7v7h-7zM1175 88h7v7h-7zM1180 88h7v7h-7zM1185 88h7v7h-7zM1190 88h7v7h-7zM860 93h7v7h-7zM1200 93h7v7h-7zM1205 93h7v7h-7zM850 98h7v7h-7zM855 98h7v7h-7zM1210 98h7v7h-7zM1215 98h7v7h-7zM845 103h7v7h-7zM850 103h7v7h-7zM1220 103h7v7h-7zM715 108h7v7h-7zM720 108h7v7h-7zM725 108h7v7h-7zM730 108h7v7h-7zM735 108h7v7h-7zM740 108h7v7h-7zM745 108h7v7h-7zM840 108h7v7h-7zM1225 108h7v7h-7zM1230 108h7v7h-7zM705 113h7v7h-7zM710 113h7v7h-7zM750 113h7v7h-7zM755 113h7v7h-7zM760 113h7v7h-7zM765 113h7v7h-7zM830 113h7v7h-7zM835 113h7v7h-7zM1230 113h7v7h-7zM1235 113h7v7h-7zM695 118h7v7h-7zM700 118h7v7h-7zM770 118h7v7h-7zM775 118h7v7h-7zM780 118h7v7h-7zM785 118h7v7h-7zM820 118h7v7h-7zM825 118h7v7h-7zM1235 118h7v7h-7zM1240 118h7v7h-7zM690 123h7v7h-7zM790 123h7v7h-7zM795 123h7v7h-7zM800 123h7v7h-7zM805 123h7v7h-7zM810 123h7v7h-7zM815 123h7v7h-7zM1240 123h7v7h-7zM685 128h7v7h-7zM1245 128h7v7h-7zM680 133h7v7h-7zM680 278h7v7h-7zM680 283h7v7h-7zM680 288h7v7h-7zM685 293h7v7h-7zM685 298h7v7h-7zM685 303h7v7h-7zM685 308h7v7h-7zM685 313h7v7h-7zM685 318h7v7h-7zM1245 318h7v7h-7zM685 323h7v7h-7zM1240 328h7v7h-7zM680 333h7v7h-7zM1240 333h7v7h-7zM680 338h7v7h-7zM1240 338h7v7h-7zM680 343h7v7h-7zM1240 343h7v7h-7zM1240 348h7v7h-7zM1240 353h7v7h-7zM1240 358h7v7h-7zM1245 368h7v7h-7zM1245 518h7v7h-7zM1235 523h7v7h-7zM1225 528h7v7h-7zM1210 533h7v7h-7zM1215 533h7v7h-7zM680 538h7v7h-7zM1115 538h7v7h-7zM1120 538h7v7h-7zM1125 538h7v7h-7zM1130 538h7v7h-7zM1135 538h7v7h-7zM1140 538h7v7h-7zM1145 538h7v7h-7zM1150 538h7v7h-7zM1155 538h7v7h-7zM1160 538h7v7h-7zM1165 538h7v7h-7zM1170 538h7v7h-7zM1175 538h7v7h-7zM1180 538h7v7h-7zM1185 538h7v7h-7zM1190 538h7v7h-7zM1195 538h7v7h-7zM685 543h7v7h-7zM1065 543h7v7h-7zM1070 543h7v7h-7zM1075 543h7v7h-7zM1080 543h7v7h-7zM1085 543h7v7h-7zM1090 543h7v7h-7zM690 548h7v7h-7zM1030 548h7v7h-7zM1035 548h7v7h-7zM1040 548h7v7h-7zM1045 548h7v7h-7zM1050 548h7v7h-7zM700 553h7v7h-7zM705 553h7v7h-7zM1005 553h7v7h-7zM1010 553h7v7h-7zM1015 553h7v7h-7zM1020 553h7v7h-7zM715 558h7v7h-7zM720 558h7v7h-7zM795 558h7v7h-7zM800 558h7v7h-7zM805 558h7v7h-7zM810 558h7v7h-7zM815 558h7v7h-7zM875 558h7v7h-7zM880 558h7v7h-7zM885 558h7v7h-7zM890 558h7v7h-7zM895 558h7v7h-7zM985 558h7v7h-7zM990 558h7v7h-7zM995 558h7v7h-7zM1000 558h7v7h-7zM740 563h7v7h-7zM745 563h7v7h-7zM750 563h7v7h-7zM755 563h7v7h-7zM760 563h7v7h-7zM765 563h7v7h-7zM900 563h7v7h-7zM905 563h7v7h-7zM910 563h7v7h-7zM915 563h7v7h-7zM965 563h7v7h-7zM970 563h7v7h-7zM975 563h7v7h-7zM980 563h7v7h-7zM920 568h7v7h-7zM925 568h7v7h-7zM930 568h7v7h-7zM935 568h7v7h-7zM940 568h7v7h-7zM945 568h7v7h-7zM950 568h7v7h-7zM955 568h7v7h-7zM960 568h7v7h-7z"/>
<path fill="#d3d3ff" d="M950 28h7v7h-7zM955 28h7v7h-7zM960 28h7v7h-7zM965 28h7v7h-7zM970 28h7v7h-7zM975 28h7v7h-7zM935 33h7v7h-7zM940 33h7v7h-7zM985 33h7v7h-7zM990 33h7v7h-7zM925 38h7v7h-7zM930 38h7v7h-7zM1000 38h7v7h-7zM920 43h7v7h-7zM1010 43h7v7h-7zM915 48h7v7h-7zM1015 48h7v7h-7zM1020 48h7v7h-7zM910 53h7v7h-7zM1025 53h7v7h-7zM905 58h7v7h-7zM1030 58h7v7h-7zM1035 58h7v7h-7zM900 63h7v7h-7zM1040 63h7v7h-7zM895 68h7v7h-7zM1045 68h7v7h-7zM1050 68h7v7h-7zM890 73h7v7h-7zM1060 73h7v7h-7zM1065 73h7v7h-7zM885 78h7v7h-7zM1070 78h7v7h-7zM1075 78h7v7h-7zM1080 78h7v7h-7zM1085 78h7v7h-7zM880 83h7v7h-7zM1100 83h7v7h-7zM1105 83h7v7h-7zM1110 83h7v7h-7zM1115 83h7v7h-7zM1120 83h7v7h-7zM1125 83h7v7h-7zM870 88h7v7h-7zM875 88h7v7h-7zM1145 88h7v7h-7zM1150 88h7v7h-7zM1155 88h7v7h-7zM1160 88h7v7h-7zM1165 88h7v7h-7zM1170 88h7v7h-7zM865 93h7v7h-7zM1180 93h7v7h-7zM1185 93h7v7h-7zM1190 93h7v7h-7zM1195 93h7v7h-7zM860 98h7v7h-7zM1200 98h7v7h-7zM1205 98h7v7h-7zM855 103h7v7h-7zM1210 103h7v7h-7zM1215 103h7v7h-7zM845 108h7v7h-7zM850 108h7v7h-7zM1220 108h7v7h-7zM715 113h7v7h-7zM720 113h7v7h-7zM725 113h7v7h-7zM730 113h7v7h-7zM735 113h7v7h-7zM740 113h7v7h-7zM745 113h7v7h-7zM840 113h7v7h-7zM845 113h7v7h-7zM1225 113h7v7h-7zM705 118h7v7h-7zM710 118h7v7h-7zM755 118h7v7h-7zM760 118h7v7h-7zM765 118h7v7h-7zM830 118h7v7h-7zM835 118h7v7h-7zM1230 118h7v7h-7zM695 123h7v7h-7zM700 123h7v7h-7zM775 123h7v7h-7zM780 123h7v7h-7zM785 123h7v7h-7zM820 123h7v7h-7zM825 123h7v7h-7zM830 123h7v7h-7zM1235 123h7v7h-7zM690 128h7v7h-7zM795 128h7v7h-7zM800 128h7v7h-7zM805 128h7v7h-7zM810 128h7v7h-7zM815 128h7v7h-7zM1240 128h7v7h-7zM685 133h7v7h-7zM1245 133h7v7h-7zM680 138h7v7h-7zM680 268h7v7h-7zM680 273h7v7h-7zM685 283h7v7h-7zM685 288h7v7h-7zM690 298h7v7h-7zM690 303h7v7h-7zM690 308h7v7h-7zM690 313h7v7h-7zM1245 313h7v7h-7zM690 318h7v7h-7zM1240 318h7v7h-7zM1240 323h7v7h-7zM685 328h7v7h-7zM685 333h7v7h-7zM1235 333h7v7h-7zM685 338h7v7h-7zM1235 338h7v7h-7zM1235 343h7v7h-7zM680 348h7v7h-7zM1235 348h7v7h-7zM680 353h7v7h-7zM680 358h7v7h-7zM1240 363h7v7h-7zM1245 373h7v7h-7zM1245 378h7v7h-7zM1245 513h7v7h-7zM1240 518h7v7h-7zM1230 523h7v7h-7zM1215 528h7v7h-7zM1220 528h7v7h-7zM680 533h7v7h-7zM1190 533h7v7h-7zM1195 533h7v7h-7zM1200 533h7v7h-7zM1205 533h7v7h-7zM685 538h7v7h-7zM1080 538h7v7h-7zM1085 538h7v7h-7zM1090 538h7v7h-7zM1095 538h7v7h-7zM1100 538h7v7h-7zM1105 538h7v7h-7zM1110 538h7v7h-7zM690 543h7v7h-7zM1040 543h7v7h-7zM1045 543h7v7h-7zM1050 543h7v7h-7zM1055 543h7v7h-7zM1060 543h7v7h-7zM695 548h7v7h-7zM700 548h7v7h-7zM1010 548h7v7h-7zM1015 548h7v7h-7zM1020 548h7v7h-7zM1025 548h7v7h-7zM710 553h7v7h-7zM815 553h7v7h-7zM820 553h7v7h-7zM825 553h7v7h-7zM830 553h7v7h-7zM835 553h7v7h-7zM840 553h7v7h-7zM845 553h7v7h-7zM850 553h7v7h-7zM855 553h7v7h-7zM860 553h7v7h-7zM865 553h7v7h-7zM870 553h7v7h-7zM875 553h7v7h-7zM880 553h7v7h-7zM885 553h7v7h-7zM890 553h7v7h-7zM895 553h7v7h-7zM985 553h7v7h-7zM990 553h7v7h-7zM995 553h7v7h-7zM1000 553h7v7h-7zM725 558h7v7h-7zM730 558h7v7h-7zM735 558h7v7h-7zM740 558h7v7h-7zM770 558h7v7h-7zM775 558h7v7h-7zM780 558h7v7h-7zM785 558h7v7h-7zM790 558h7v7h-7zM900 558h7v7h-7zM905 558h7v7h-7zM910 558h7v7h-7zM915 558h7v7h-7zM920 558h7v7h-7zM965 558h7v7h-7zM970 558h7v7h-7zM975 558h7v7h-7zM980 558h7v7h-7zM920 563h7v7h-7zM925 563h7v7h-7zM930 563h7v7h-7zM935 563h7v7h-7zM940 563h7v7h-7zM945 563h7v7h-7zM950 563h7v7h-7zM955 563h7v7h-7zM960 563h7v7h-7z"/>
<path fill="#cfcfff" d="M945 33h7v7h-7zM950 33h7v7h-7zM955 33h7v7h-7zM960 33h7v7h-7zM965 33h7v7h-7zM970 33h7v7h-7zM975 33h7v7h-7zM980 33h7v7h-7zM935 38h7v7h-7zM940 38h7v7h-7zM990 38h7v7h-7zM995 38h7v7h-7zM925 43h7v7h-7zM930 43h7v7h-7zM1000 43h7v7h-7zM1005 43h7v7h-7zM920 48h7v7h-7zM1010 48h7v7h-7zM915 53h7v7h-7zM1015 53h7v7h-7zM1020 53h7v7h-7zM910 58h7v7h-7zM1025 58h7v7h-7zM905 63h7v7h-7zM1030 63h7v7h-7zM1035 63h7v7h-7zM900 68h7v7h-7zM1040 68h7v7h-7zM895 73h7v7h-7zM1050 73h7v7h-7zM1055 73h7v7h-7zM890 78h7v7h-7zM1060 78h7v7h-7zM1065 78h7v7h-7zM885 83h7v7h-7zM1075 83h7v7h-7zM1080 83h7v7h-7zM1085 83h7v7h-7zM1090 83h7v7h-7zM1095 83h7v7h-7zM880 88h7v7h-7zM1110 88h7v7h-7zM1115 88h7v7h-7zM1120 88h7v7h-7zM1125 88h7v7h-7zM1130 88h7v7h-7zM1135 88h7v7h-7zM1140 88h7v7h-7zM870 93h7v7h-7zM875 93h7v7h-7zM1160 93h7v7h-7zM1165 93h7v7h-7zM1170 93h7v7h-7zM1175 93h7v7h-7zM865 98h7v7h-7zM1190 98h7v7h-7zM1195 98h7v7h-7zM860 103h7v7h-7zM1205 103h7v7h-7zM855 108h7v7h-7zM1215 108h7v7h-7zM850 113h7v7h-7zM1220 113h7v7h-7zM715 118h7v7h-7zM720 118h7v7h-7zM725 118h7v7h-7zM730 118h7v7h-7zM735 118h7v7h-7zM740 118h7v7h-7zM745 118h7v7h-7zM750 118h7v7h-7zM840 118h7v7h-7zM845 118h7v7h-7zM1225 118h7v7h-7zM705 123h7v7h-7zM710 123h7v7h-7zM760 123h7v7h-7zM765 123h7v7h-7zM770 123h7v7h-7zM835 123h7v7h-7zM840 123h7v7h-7zM695 128h7v7h-7zM700 128h7v7h-7zM775 128h7v7h-7zM780 128h7v7h-7zM785 128h7v7h-7zM790 128h7v7h-7zM820 128h7v7h-7zM825 128h7v7h-7zM830 128h7v7h-7zM690 133h7v7h-7zM800 133h7v7h-7zM805 133h7v7h-7zM810 133h7v7h-7zM815 133h7v7h-7zM1240 133h7v7h-7zM685 138h7v7h-7zM1245 138h7v7h-7zM680 143h7v7h-7zM680 263h7v7h-7zM685 273h7v7h-7zM685 278h7v7h-7zM690 283h7v7h-7zM690 288h7v7h-7zM690 293h7v7h-7zM695 303h7v7h-7zM1245 303h7v7h-7zM695 308h7v7h-7zM1245 308h7v7h-7zM695 313h7v7h-7zM1240 313h7v7h-7zM690 323h7v7h-7zM1235 323h7v7h-7zM690 328h7v7h-7zM1235 328h7v7h-7zM690 333h7v7h-7zM685 343h7v7h-7zM685 348h7v7h-7zM685 353h7v7h-7zM1235 353h7v7h-7zM1235 358h7v7h-7zM680 363h7v7h-7zM680 368h7v7h-7zM1240 368h7v7h-7zM1240 373h7v7h-7zM1245 383h7v7h-7zM1245 508h7v7h-7zM1240 513h7v7h-7zM1230 518h7v7h-7zM1235 518h7v7h-7zM1220 523h7v7h-7zM1225 523h7v7h-7zM1205 528h7v7h-7zM1210 528h7v7h-7zM1100 533h7v7h-7zM1105 533h7v7h-7zM1110 533h7v7h-7zM1115 533h7v7h-7zM1120 533h7v7h-7zM1125 533h7v7h-7zM1130 533h7v7h-7zM1135 533h7v7h-7zM1140 533h7v7h-7zM1145 533h7v7h-7zM1150 533h7v7h-7zM1155 533h7v7h-7zM1160 533h7v7h-7zM1165 533h7v7h-7zM1170 533h7v7h-7zM1175 533h7v7h-7zM1180 533h7v7h-7zM1185 533h7v7h-7zM690 538h7v7h-7zM1055 538h7v7h-7zM1060 538h7v7h-7zM1065 538h7v7h-7zM1070 538h7v7h-7zM1075 538h7v7h-7zM695 543h7v7h-7zM1015 543h7v7h-7zM1020 543h7v7h-7zM1025 543h7v7h-7zM1030 543h7v7h-7zM1035 543h7v7h-7zM705 548h7v7h-7zM835 548h7v7h-7zM840 548h7v7h-7zM845 548h7v7h-7zM850 548h7v7h-7zM855 548h7v7h-7zM860 548h7v7h-7zM865 548h7v7h-7zM870 548h7v7h-7zM875 548h7v7h-7zM880 548h7v7h-7zM885 548h7v7h-7zM890 548h7v7h-7zM895 548h7v7h-7zM900 548h7v7h-7zM990 548h7v7h-7zM995 548h7v7h-7zM1000 548h7v7h-7zM1005 548h7v7h-7zM715 553h7v7h-7zM720 553h7v7h-7zM795 553h7v7h-7zM800 553h7v7h-7zM805 553h7v7h-7zM810 553h7v7h-7zM900 553h7v7h-7zM905 553h7v7h-7zM910 553h7v7h-7zM915 553h7v7h-7zM920 553h7v7h-7zM925 553h7v7h-7zM930 553h7v7h-7zM960 553h7v7h-7zM965 553h7v7h-7zM970 553h7v7h-7zM975 553h7v7h-7zM980 553h7v7h-7zM745 558h7v7h-7zM750 558h7v7h-7zM755 558h7v7h-7zM760 558h7v7h-7zM765 558h7v7h-7zM925 558h7v7h-7zM930 558h7v7h-7zM935 558h7v7h-7zM940 558h7v7h-7zM945 558h7v7h-7zM950 558h7v7h-7zM955 558h7v7h-7zM960 558h7v7h-7z"/>
<path fill="#cbcbff" d="M945 38h7v7h-7zM950 38h7v7h-7zM955 38h7v7h-7zM970 38h7v7h-7zM975 38h7v7h-7zM980 38h7v7h-7zM985 38h7v7h-7zM935 43h7v7h-7zM990 43h7v7h-7zM995 43h7v7h-7zM925 48h7v7h-7zM930 48h7v7h-7zM1000 48h7v7h-7zM1005 48h7v7h-7zM920 53h7v7h-7zM1010 53h7v7h-7zM915 58h7v7h-7zM1015 58h7v7h-7zM1020 58h7v7h-7zM910 63h7v7h-7zM1025 63h7v7h-7zM905 68h7v7h-7zM1030 68h7v7h-7zM1035 68h7v7h-7zM900 73h7v7h-7zM1040 73h7v7h-7zM1045 73h7v7h-7zM895 78h7v7h-7zM1050 78h7v7h-7zM1055 78h7v7h-7zM890 83h7v7h-7zM1060 83h7v7h-7zM1065 83h7v7h-7zM1070 83h7v7h-7zM885 88h7v7h-7zM1080 88h7v7h-7zM1085 88h7v7h-7zM1090 88h7v7h-7zM1095 88h7v7h-7zM1100 88h7v7h-7zM1105 88h7v7h-7zM880 93h7v7h-7zM1135 93h7v7h-7zM1140 93h7v7h-7zM1145 93h7v7h-7zM1150 93h7v7h-7zM1155 93h7v7h-7zM870 98h7v7h-7zM875 98h7v7h-7zM1175 98h7v7h-7zM1180 98h7v7h-7zM1185 98h7v7h-7zM865 103h7v7h-7zM1195 103h7v7h-7zM1200 103h7v7h-7zM860 108h7v7h-7zM1205 108h7v7h-7zM1210 108h7v7h-7zM855 113h7v7h-7zM1215 113h7v7h-7zM850 118h7v7h-7zM1220 118h7v7h-7zM715 123h7v7h-7zM720 123h7v7h-7zM725 123h7v7h-7zM730 123h7v7h-7zM735 123h7v7h-7zM740 123h7v7h-7zM745 123h7v7h-7zM750 123h7v7h-7zM755 123h7v7h-7zM845 123h7v7h-7zM1230 123h7v7h-7zM705 128h7v7h-7zM765 128h7v7h-7zM770 128h7v7h-7zM835 128h7v7h-7zM840 128h7v7h-7zM1235 128h7v7h-7zM695 133h7v7h-7zM785 133h7v7h-7zM790 133h7v7h-7zM795 133h7v7h-7zM820 133h7v7h-7zM825 133h7v7h-7zM830 133h7v7h-7zM690 138h7v7h-7zM1240 138h7v7h-7zM685 143h7v7h-7zM1245 143h7v7h-7zM680 148h7v7h-7zM680 258h7v7h-7zM685 268h7v7h-7zM690 278h7v7h-7zM695 288h7v7h-7zM695 293h7v7h-7zM695 298h7v7h-7zM1245 298h7v7h-7zM1240 308h7v7h-7zM695 318h7v7h-7zM1235 318h7v7h-7zM695 323h7v7h-7zM695 328h7v7h-7zM1230 328h7v7h-7zM1230 333h7v7h-7zM690 338h7v7h-7zM1230 338h7v7h-7zM690 343h7v7h-7zM1230 343h7v7h-7zM690 348h7v7h-7zM1230 348h7v7h-7zM1230 353h7v7h-7zM685 358h7v7h-7zM685 363h7v7h-7zM1235 363h7v7h-7zM1235 368h7v7h-7zM680 373h7v7h-7zM680 378h7v7h-7zM1240 378h7v7h-7zM680 383h7v7h-7zM1245 388h7v7h-7zM1245 393h7v7h-7zM1235 513h7v7h-7zM1225 518h7v7h-7zM1210 523h7v7h-7zM1215 523h7v7h-7zM680 528h7v7h-7zM1180 528h7v7h-7zM1185 528h7v7h-7zM1190 528h7v7h-7zM1195 528h7v7h-7zM1200 528h7v7h-7zM685 533h7v7h-7zM1070 533h7v7h-7zM1075 533h7v7h-7zM1080 533h7v7h-7zM1085 533h7v7h-7zM1090 533h7v7h-7zM1095 533h7v7h-7zM695 538h7v7h-7zM1030 538h7v7h-7zM1035 538h7v7h-7zM1040 538h7v7h-7zM1045 538h7v7h-7zM1050 538h7v7h-7zM700 543h7v7h-7zM865 543h7v7h-7zM870 543h7v7h-7zM875 543h7v7h-7zM880 543h7v7h-7zM885 543h7v7h-7zM890 543h7v7h-7zM895 543h7v7h-7zM900 543h7v7h-7zM905 543h7v7h-7zM990 543h7v7h-7zM995 543h7v7h-7zM1000 543h7v7h-7zM1005 543h7v7h-7zM1010 543h7v7h-7zM710 548h7v7h-7zM715 548h7v7h-7zM815 548h7v7h-7zM820 548h7v7h-7zM825 548h7v7h-7zM830 548h7v7h-7zM905 548h7v7h-7zM910 548h7v7h-7zM915 548h7v7h-7zM920 548h7v7h-7zM925 548h7v7h-7zM930 548h7v7h-7zM935 548h7v7h-7zM940 548h7v7h-7zM945 548h7v7h-7zM950 548h7v7h-7zM955 548h7v7h-7zM960 548h7v7h-7zM965 548h7v7h-7zM970 548h7v7h-7zM975 548h7v7h-7zM980 548h7v7h-7zM985 548h7v7h-7zM725 553h7v7h-7zM730 553h7v7h-7zM735 553h7v7h-7zM775 553h7v7h-7zM780 553h7v7h-7zM785 553h7v7h-7zM790 553h7v7h-7zM935 553h7v7h-7zM940 553h7v7h-7zM945 553h7v7h-7zM950 553h7v7h-7zM955 553h7v7h-7z"/>
<path fill="#c7c7ff" d="M960 38h7v7h-7zM965 38h7v7h-7zM940 43h7v7h-7zM945 43h7v7h-7zM950 43h7v7h-7zM975 43h7v7h-7zM980 43h7v7h-7zM985 43h7v7h-7zM935 48h7v7h-7zM990 48h7v7h-7zM995 48h7v7h-7zM925 53h7v7h-7zM930 53h7v7h-7zM1000 53h7v7h-7zM1005 53h7v7h-7zM920 58h7v7h-7zM925 58h7v7h-7zM1010 58h7v7h-7zM915 63h7v7h-7zM1015 63h7v7h-7zM1020 63h7v7h-7zM910 68h7v7h-7zM1025 68h7v7h-7zM905 73h7v7h-7zM1030 73h7v7h-7zM1035 73h7v7h-7zM900 78h7v7h-7zM1040 78h7v7h-7zM1045 78h7v7h-7zM895 83h7v7h-7zM1045 83h7v7h-7zM1050 83h7v7h-7zM1055 83h7v7h-7zM890 88h7v7h-7zM1060 88h7v7h-7zM1065 88h7v7h-7zM1070 88h7v7h-7zM1075 88h7v7h-7zM885 93h7v7h-7zM1090 93h7v7h-7zM1095 93h7v7h-7zM1100 93h7v7h-7zM1105 93h7v7h-7zM1110 93h7v7h-7zM1115 93h7v7h-7zM1120 93h7v7h-7zM1125 93h7v7h-7zM1130 93h7v7h-7zM880 98h7v7h-7zM1155 98h7v7h-7zM1160 98h7v7h-7zM1165 98h7v7h-7zM1170 98h7v7h-7zM870 103h7v7h-7zM875 103h7v7h-7zM1180 103h7v7h-7zM1185 103h7v7h-7zM1190 103h7v7h-7zM865 108h7v7h-7zM870 108h7v7h-7zM1195 108h7v7h-7zM1200 108h7v7h-7zM860 113h7v7h-7zM865 113h7v7h-7zM1210 113h7v7h-7zM855 118h7v7h-7zM860 118h7v7h-7zM1215 118h7v7h-7zM850 123h7v7h-7zM855 123h7v7h-7zM1225 123h7v7h-7zM710 128h7v7h-7zM715 128h7v7h-7zM720 128h7v7h-7zM745 128h7v7h-7zM750 128h7v7h-7zM755 128h7v7h-7zM760 128h7v7h-7zM845 128h7v7h-7zM850 128h7v7h-7zM1230 128h7v7h-7zM700 133h7v7h-7zM705 133h7v7h-7zM770 133h7v7h-7zM775 133h7v7h-7zM780 133h7v7h-7zM835 133h7v7h-7zM840 133h7v7h-7zM1235 133h7v7h-7zM695 138h7v7h-7zM790 138h7v7h-7zM795 138h7v7h-7zM800 138h7v7h-7zM805 138h7v7h-7zM810 138h7v7h-7zM815 138h7v7h-7zM820 138h7v7h-7zM825 138h7v7h-7zM830 138h7v7h-7zM690 143h7v7h-7zM685 148h7v7h-7zM1245 148h7v7h-7zM680 153h7v7h-7zM680 158h7v7h-7zM680 248h7v7h-7zM680 253h7v7h-7zM685 258h7v7h-7zM685 263h7v7h-7zM690 268h7v7h-7zM690 273h7v7h-7zM695 278h7v7h-7zM695 283h7v7h-7zM700 288h7v7h-7zM700 293h7v7h-7zM1245 293h7v7h-7zM700 298h7v7h-7zM700 303h7v7h-7zM1240 303h7v7h-7zM700 308h7v7h-7zM700 313h7v7h-7zM1235 313h7v7h-7zM700 318h7v7h-7zM1230 318h7v7h-7zM700 323h7v7h-7zM1230 323h7v7h-7zM695 333h7v7h-7zM1225 333h7v7h-7zM695 338h7v7h-7zM1225 338h7v7h-7zM1225 343h7v7h-7zM1225 348h7v7h-7zM690 353h7v7h-7zM690 358h7v7h-7zM1230 358h7v7h-7zM1230 363h7v7h-7zM685 368h7v7h-7zM685 373h7v7h-7zM1235 373h7v7h-7zM1240 383h7v7h-7zM680 388h7v7h-7zM1240 388h7v7h-7zM680 393h7v7h-7zM1245 398h7v7h-7zM1245 503h7v7h-7zM1240 508h7v7h-7zM1230 513h7v7h-7zM680 518h7v7h-7zM1220 518h7v7h-7zM680 523h7v7h-7zM1200 523h7v7h-7zM1205 523h7v7h-7zM685 528h7v7h-7zM1095 528h7v7h-7zM1100 528h7v7h-7zM1105 528h7v7h-7zM1110 528h7v7h-7zM1115 528h7v7h-7zM1120 528h7v7h-7zM1125 528h7v7h-7zM1130 528h7v7h-7zM1135 528h7v7h-7zM1140 528h7v7h-7zM1145 528h7v7h-7zM1150 528h7v7h-7zM1155 528h7v7h-7zM1160 528h7v7h-7zM1165 528h7v7h-7zM1170 528h7v7h-7zM1175 528h7v7h-7zM690 533h7v7h-7zM1045 533h7v7h-7zM1050 533h7v7h-7zM1055 533h7v7h-7zM1060 533h7v7h-7zM1065 533h7v7h-7zM700 538h7v7h-7zM885 538h7v7h-7zM890 538h7v7h-7zM895 538h7v7h-7zM900 538h7v7h-7zM905 538h7v7h-7zM910 538h7v7h-7zM1000 538h7v7h-7zM1005 538h7v7h-7zM1010 538h7v7h-7zM1015 538h7v7h-7zM1020 538h7v7h-7zM1025 538h7v7h-7zM705 543h7v7h-7zM835 543h7v7h-7zM840 543h7v7h-7zM845 543h7v7h-7zM850 543h7v7h-7zM855 543h7v7h-7zM860 543h7v7h-7zM910 543h7v7h-7zM915 543h7v7h-7zM920 543h7v7h-7zM925 543h7v7h-7zM930 543h7v7h-7zM935 543h7v7h-7zM940 543h7v7h-7zM945 543h7v7h-7zM950 543h7v7h-7zM955 543h7v7h-7zM960 543h7v7h-7zM965 543h7v7h-7zM970 543h7v7h-7zM975 543h7v7h-7zM980 543h7v7h-7zM985 543h7v7h-7zM720 548h7v7h-7zM795 548h7v7h-7zM800 548h7v7h-7zM805 548h7v7h-7zM810 548h7v7h-7zM740 553h7v7h-7zM745 553h7v7h-7zM750 553h7v7h-7zM755 553h7v7h-7zM760 553h7v7h-7zM765 553h7v7h-7zM770 553h7v7h-7z"/>
<path fill="#c3c3ff" d="M955 43h7v7h-7zM960 43h7v7h-7zM965 43h7v7h-7zM970 43h7v7h-7zM940 48h7v7h-7zM945 48h7v7h-7zM950 48h7v7h-7zM980 48h7v7h-7zM985 48h7v7h-7zM935 53h7v7h-7zM995 53h7v7h-7zM930 58h7v7h-7zM1000 58h7v7h-7zM1005 58h7v7h-7zM920 63h7v7h-7zM925 63h7v7h-7zM1010 63h7v7h-7zM915 68h7v7h-7zM920 68h7v7h-7zM1015 68h7v7h-7zM1020 68h7v7h-7zM910 73h7v7h-7zM915 73h7v7h-7zM1020 73h7v7h-7zM1025 73h7v7h-7zM905 78h7v7h-7zM910 78h7v7h-7zM1030 78h7v7h-7zM1035 78h7v7h-7zM900 83h7v7h-7zM1035 83h7v7h-7zM1040 83h7v7h-7zM895 88h7v7h-7zM1045 88h7v7h-7zM1050 88h7v7h-7zM1055 88h7v7h-7zM890 93h7v7h-7zM1060 93h7v7h-7zM1065 93h7v7h-7zM1070 93h7v7h-7zM1075 93h7v7h-7zM1080 93h7v7h-7zM1085 93h7v7h-7zM885 98h7v7h-7zM1125 98h7v7h-7zM1130 98h7v7h-7zM1135 98h7v7h-7zM1140 98h7v7h-7zM1145 98h7v7h-7zM1150 98h7v7h-7zM880 103h7v7h-7zM1170 103h7v7h-7zM1175 103h7v7h-7zM875 108h7v7h-7zM1190 108h7v7h-7zM870 113h7v7h-7zM1200 113h7v7h-7zM1205 113h7v7h-7zM865 118h7v7h-7zM1210 118h7v7h-7zM860 123h7v7h-7zM1220 123h7v7h-7zM725 128h7v7h-7zM730 128h7v7h-7zM735 128h7v7h-7zM740 128h7v7h-7zM855 128h7v7h-7zM1225 128h7v7h-7zM710 133h7v7h-7zM715 133h7v7h-7zM755 133h7v7h-7zM760 133h7v7h-7zM765 133h7v7h-7zM845 133h7v7h-7zM850 133h7v7h-7zM1230 133h7v7h-7zM700 138h7v7h-7zM705 138h7v7h-7zM775 138h7v7h-7zM780 138h7v7h-7zM785 138h7v7h-7zM835 138h7v7h-7zM840 138h7v7h-7zM1235 138h7v7h-7zM695 143h7v7h-7zM800 143h7v7h-7zM805 143h7v7h-7zM810 143h7v7h-7zM815 143h7v7h-7zM820 143h7v7h-7zM825 143h7v7h-7zM1240 143h7v7h-7zM690 148h7v7h-7zM685 153h7v7h-7zM1245 153h7v7h-7zM680 163h7v7h-7zM680 243h7v7h-7zM685 253h7v7h-7zM690 263h7v7h-7zM695 273h7v7h-7zM700 283h7v7h-7zM1245 288h7v7h-7zM705 293h7v7h-7zM705 298h7v7h-7zM1240 298h7v7h-7zM705 303h7v7h-7zM705 308h7v7h-7zM1235 308h7v7h-7zM705 313h7v7h-7zM1230 313h7v7h-7zM705 318h7v7h-7zM1225 323h7v7h-7zM700 328h7v7h-7zM1225 328h7v7h-7zM700 333h7v7h-7zM695 343h7v7h-7zM695 348h7v7h-7zM1225 353h7v7h-7zM690 363h7v7h-7zM690 368h7v7h-7zM1230 368h7v7h-7zM685 378h7v7h-7zM1235 378h7v7h-7zM685 383h7v7h-7zM685 388h7v7h-7zM1240 393h7v7h-7zM680 398h7v7h-7zM680 403h7v7h-7zM1245 403h7v7h-7zM680 408h7v7h-7zM1245 408h7v7h-7zM1245 498h7v7h-7zM1240 503h7v7h-7zM1235 508h7v7h-7zM680 513h7v7h-7zM1225 513h7v7h-7zM1210 518h7v7h-7zM1215 518h7v7h-7zM685 523h7v7h-7zM1180 523h7v7h-7zM1185 523h7v7h-7zM1190 523h7v7h-7zM1195 523h7v7h-7zM690 528h7v7h-7zM1065 528h7v7h-7zM1070 528h7v7h-7zM1075 528h7v7h-7zM1080 528h7v7h-7zM1085 528h7v7h-7zM1090 528h7v7h-7zM695 533h7v7h-7zM895 533h7v7h-7zM900 533h7v7h-7zM905 533h7v7h-7zM910 533h7v7h-7zM915 533h7v7h-7zM1010 533h7v7h-7zM1015 533h7v7h-7zM1020 533h7v7h-7zM1025 533h7v7h-7zM1030 533h7v7h-7zM1035 533h7v7h-7zM1040 533h7v7h-7zM705 538h7v7h-7zM855 538h7v7h-7zM860 538h7v7h-7zM865 538h7v7h-7zM870 538h7v7h-7zM875 538h7v7h-7zM880 538h7v7h-7zM915 538h7v7h-7zM920 538h7v7h-7zM925 538h7v7h-7zM930 538h7v7h-7zM935 538h7v7h-7zM940 538h7v7h-7zM945 538h7v7h-7zM950 538h7v7h-7zM955 538h7v7h-7zM960 538h7v7h-7zM965 538h7v7h-7zM970 538h7v7h-7zM975 538h7v7h-7zM980 538h7v7h-7zM985 538h7v7h-7zM990 538h7v7h-7zM995 538h7v7h-7zM710 543h7v7h-7zM715 543h7v7h-7zM815 543h7v7h-7zM820 543h7v7h-7zM825 543h7v7h-7zM830 543h7v7h-7zM725 548h7v7h-7zM730 548h7v7h-7zM735 548h7v7h-7zM780 548h7v7h-7zM785 548h7v7h-7zM790 548h7v7h-7z"/>
<path fill="#bfbfff" d="M955 48h7v7h-7zM960 48h7v7h-7zM965 48h7v7h-7zM970 48h7v7h-7zM975 48h7v7h-7zM940 53h7v7h-7zM945 53h7v7h-7zM950 53h7v7h-7zM980 53h7v7h-7zM985 53h7v7h-7zM990 53h7v7h-7zM935 58h7v7h-7zM995 58h7v7h-7zM930 63h7v7h-7zM1000 63h7v7h-7zM1005 63h7v7h-7zM925 68h7v7h-7zM1010 68h7v7h-7zM920 73h7v7h-7zM1015 73h7v7h-7zM915 78h7v7h-7zM1020 78h7v7h-7zM1025 78h7v7h-7zM905 83h7v7h-7zM910 83h7v7h-7zM1030 83h7v7h-7zM900 88h7v7h-7zM1035 88h7v7h-7zM1040 88h7v7h-7zM895 93h7v7h-7zM1045 93h7v7h-7zM1050 93h7v7h-7zM1055 93h7v7h-7zM890 98h7v7h-7zM1060 98h7v7h-7zM1065 98h7v7h-7zM1070 98h7v7h-7zM1075 98h7v7h-7zM1080 98h7v7h-7zM1085 98h7v7h-7zM1090 98h7v7h-7zM1095 98h7v7h-7zM1100 98h7v7h-7zM1105 98h7v7h-7zM1110 98h7v7h-7zM1115 98h7v7h-7zM1120 98h7v7h-7zM885 103h7v7h-7zM1150 103h7v7h-7zM1155 103h7v7h-7zM1160 103h7v7h-7zM1165 103h7v7h-7zM880 108h7v7h-7zM1180 108h7v7h-7zM1185 108h7v7h-7zM875 113h7v7h-7zM1195 113h7v7h-7zM870 118h7v7h-7zM1205 118h7v7h-7zM865 123h7v7h-7zM1215 123h7v7h-7zM860 128h7v7h-7zM1220 128h7v7h-7zM720 133h7v7h-7zM725 133h7v7h-7zM730 133h7v7h-7zM735 133h7v7h-7zM740 133h7v7h-7zM745 133h7v7h-7zM750 133h7v7h-7zM855 133h7v7h-7zM1225 133h7v7h-7zM710 138h7v7h-7zM765 138h7v7h-7zM770 138h7v7h-7zM845 138h7v7h-7zM850 138h7v7h-7zM1230 138h7v7h-7zM700 143h7v7h-7zM785 143h7v7h-7zM790 143h7v7h-7zM795 143h7v7h-7zM830 143h7v7h-7zM835 143h7v7h-7zM840 143h7v7h-7zM1235 143h7v7h-7zM695 148h7v7h-7zM1240 148h7v7h-7zM690 153h7v7h-7zM685 158h7v7h-7zM1245 158h7v7h-7zM680 168h7v7h-7zM680 233h7v7h-7zM680 238h7v7h-7zM685 248h7v7h-7zM690 258h7v7h-7zM695 268h7v7h-7zM700 273h7v7h-7zM700 278h7v7h-7zM705 283h7v7h-7zM1245 283h7v7h-7zM705 288h7v7h-7zM710 293h7v7h-7zM1240 293h7v7h-7zM710 298h7v7h-7zM710 303h7v7h-7zM1235 303h7v7h-7zM710 308h7v7h-7zM1230 308h7v7h-7zM710 313h7v7h-7zM1225 318h7v7h-7zM705 323h7v7h-7zM705 328h7v7h-7zM1220 328h7v7h-7zM1220 333h7v7h-7zM700 338h7v7h-7zM1220 338h7v7h-7zM700 343h7v7h-7zM1220 343h7v7h-7zM1220 348h7v7h-7zM695 353h7v7h-7zM695 358h7v7h-7zM1225 358h7v7h-7zM1225 363h7v7h-7zM690 373h7v7h-7zM1230 373h7v7h-7zM690 378h7v7h-7zM1235 383h7v7h-7zM685 393h7v7h-7zM685 398h7v7h-7zM1240 398h7v7h-7zM680 413h7v7h-7zM1245 413h7v7h-7zM680 418h7v7h-7zM680 423h7v7h-7zM1245 493h7v7h-7zM1240 498h7v7h-7zM1235 503h7v7h-7zM680 508h7v7h-7zM1230 508h7v7h-7zM1220 513h7v7h-7zM685 518h7v7h-7zM1200 518h7v7h-7zM1205 518h7v7h-7zM690 523h7v7h-7zM1090 523h7v7h-7zM1095 523h7v7h-7zM1100 523h7v7h-7zM1105 523h7v7h-7zM1110 523h7v7h-7zM1115 523h7v7h-7zM1120 523h7v7h-7zM1125 523h7v7h-7zM1130 523h7v7h-7zM1135 523h7v7h-7zM1140 523h7v7h-7zM1145 523h7v7h-7zM1150 523h7v7h-7zM1155 523h7v7h-7zM1160 523h7v7h-7zM1165 523h7v7h-7zM1170 523h7v7h-7zM1175 523h7v7h-7zM695 528h7v7h-7zM905 528h7v7h-7zM910 528h7v7h-7zM915 528h7v7h-7zM920 528h7v7h-7zM1030 528h7v7h-7zM1035 528h7v7h-7zM1040 528h7v7h-7zM1045 528h7v7h-7zM1050 528h7v7h-7zM1055 528h7v7h-7zM1060 528h7v7h-7zM700 533h7v7h-7zM870 533h7v7h-7zM875 533h7v7h-7zM880 533h7v7h-7zM885 533h7v7h-7zM890 533h7v7h-7zM920 533h7v7h-7zM925 533h7v7h-7zM930 533h7v7h-7zM935 533h7v7h-7zM940 533h7v7h-7zM945 533h7v7h-7zM950 533h7v7h-7zM955 533h7v7h-7zM960 533h7v7h-7zM965 533h7v7h-7zM970 533h7v7h-7zM975 533h7v7h-7zM980 533h7v7h-7zM985 533h7v7h-7zM990 533h7v7h-7zM995 533h7v7h-7zM1000 533h7v7h-7zM1005 533h7v7h-7zM710 538h7v7h-7zM835 538h7v7h-7zM840 538h7v7h-7zM845 538h7v7h-7zM850 538h7v7h-7zM720 543h7v7h-7zM800 543h7v7h-7zM805 543h7v7h-7zM810 543h7v7h-7zM740 548h7v7h-7zM745 548h7v7h-7zM750 548h7v7h-7zM755 548h7v7h-7zM760 548h7v7h-7zM765 548h7v7h-7zM770 548h7v7h-7zM775 548h7v7h-7z"/>
<path fill="#bbbbff" d="M955 53h7v7h-7zM960 53h7v7h-7zM965 53h7v7h-7zM970 53h7v7h-7zM975 53h7v7h-7zM940 58h7v7h-7zM945 58h7v7h-7zM950 58h7v7h-7zM980 58h7v7h-7zM985 58h7v7h-7zM990 58h7v7h-7zM935 63h7v7h-7zM940 63h7v7h-7zM990 63h7v7h-7zM995 63h7v7h-7zM930 68h7v7h-7zM1000 68h7v7h-7zM1005 68h7v7h-7zM925 73h7v7h-7zM1005 73h7v7h-7zM1010 73h7v7h-7zM920 78h7v7h-7zM1015 78h7v7h-7zM915 83h7v7h-7zM1020 83h7v7h-7zM1025 83h7v7h-7zM905 88h7v7h-7zM910 88h7v7h-7zM1025 88h7v7h-7zM1030 88h7v7h-7zM900 93h7v7h-7zM905 93h7v7h-7zM1035 93h7v7h-7zM1040 93h7v7h-7zM895 98h7v7h-7zM1040 98h7v7h-7zM1045 98h7v7h-7zM1050 98h7v7h-7zM1055 98h7v7h-7zM890 103h7v7h-7zM1055 103h7v7h-7zM1060 103h7v7h-7zM1065 103h7v7h-7zM1070 103h7v7h-7zM1075 103h7v7h-7zM1080 103h7v7h-7zM1085 103h7v7h-7zM1090 103h7v7h-7zM1095 103h7v7h-7zM1100 103h7v7h-7zM1105 103h7v7h-7zM1110 103h7v7h-7zM1115 103h7v7h-7zM1120 103h7v7h-7zM1125 103h7v7h-7zM1130 103h7v7h-7zM1135 103h7v7h-7zM1140 103h7v7h-7zM1145 103h7v7h-7zM885 108h7v7h-7zM1165 108h7v7h-7zM1170 108h7v7h-7zM1175 108h7v7h-7zM880 113h7v7h-7zM1185 113h7v7h-7zM1190 113h7v7h-7zM875 118h7v7h-7zM1200 118h7v7h-7zM870 123h7v7h-7zM875 123h7v7h-7zM1210 123h7v7h-7zM865 128h7v7h-7zM870 128h7v7h-7zM1215 128h7v7h-7zM860 133h7v7h-7zM865 133h7v7h-7zM1220 133h7v7h-7zM715 138h7v7h-7zM720 138h7v7h-7zM725 138h7v7h-7zM750 138h7v7h-7zM755 138h7v7h-7zM760 138h7v7h-7zM855 138h7v7h-7zM860 138h7v7h-7zM705 143h7v7h-7zM710 143h7v7h-7zM775 143h7v7h-7zM780 143h7v7h-7zM845 143h7v7h-7zM850 143h7v7h-7zM700 148h7v7h-7zM800 148h7v7h-7zM805 148h7v7h-7zM810 148h7v7h-7zM815 148h7v7h-7zM820 148h7v7h-7zM825 148h7v7h-7zM830 148h7v7h-7zM835 148h7v7h-7zM840 148h7v7h-7zM1235 148h7v7h-7zM695 153h7v7h-7zM1240 153h7v7h-7zM690 158h7v7h-7zM685 163h7v7h-7zM1245 163h7v7h-7zM680 173h7v7h-7zM680 178h7v7h-7zM680 228h7v7h-7zM685 243h7v7h-7zM690 253h7v7h-7zM695 258h7v7h-7zM695 263h7v7h-7zM700 268h7v7h-7zM705 278h7v7h-7zM1245 278h7v7h-7zM710 283h7v7h-7zM710 288h7v7h-7zM1240 288h7v7h-7zM715 298h7v7h-7zM1235 298h7v7h-7zM715 303h7v7h-7zM1230 303h7v7h-7zM715 308h7v7h-7zM1225 313h7v7h-7zM710 318h7v7h-7zM710 323h7v7h-7zM1220 323h7v7h-7zM710 328h7v7h-7zM705 333h7v7h-7zM1215 333h7v7h-7zM705 338h7v7h-7zM1215 338h7v7h-7zM700 348h7v7h-7zM700 353h7v7h-7zM1220 353h7v7h-7zM1220 358h7v7h-7zM695 363h7v7h-7zM695 368h7v7h-7zM1225 368h7v7h-7zM1230 378h7v7h-7zM690 383h7v7h-7zM690 388h7v7h-7zM1235 388h7v7h-7zM1235 393h7v7h-7zM685 403h7v7h-7zM1240 403h7v7h-7zM685 408h7v7h-7zM1240 408h7v7h-7zM685 413h7v7h-7zM1245 418h7v7h-7zM1245 423h7v7h-7zM680 428h7v7h-7zM680 433h7v7h-7zM680 438h7v7h-7zM680 443h7v7h-7zM1245 488h7v7h-7zM680 498h7v7h-7zM680 503h7v7h-7zM1230 503h7v7h-7zM1225 508h7v7h-7zM685 513h7v7h-7zM1210 513h7v7h-7zM1215 513h7v7h-7zM690 518h7v7h-7zM1185 518h7v7h-7zM1190 518h7v7h-7zM1195 518h7v7h-7zM910 523h7v7h-7zM915 523h7v7h-7zM920 523h7v7h-7zM1060 523h7v7h-7zM1065 523h7v7h-7zM1070 523h7v7h-7zM1075 523h7v7h-7zM1080 523h7v7h-7zM1085 523h7v7h-7zM880 528h7v7h-7zM885 528h7v7h-7zM890 528h7v7h-7zM895 528h7v7h-7zM900 528h7v7h-7zM925 528h7v7h-7zM930 528h7v7h-7zM935 528h7v7h-7zM940 528h7v7h-7zM945 528h7v7h-7zM950 528h7v7h-7zM955 528h7v7h-7zM960 528h7v7h-7zM965 528h7v7h-7zM970 528h7v7h-7zM975 528h7v7h-7zM980 528h7v7h-7zM985 528h7v7h-7zM990 528h7v7h-7zM995 528h7v7h-7zM1000 528h7v7h-7zM1005 528h7v7h-7zM1010 528h7v7h-7zM1015 528h7v7h-7zM1020 528h7v7h-7zM1025 528h7v7h-7zM705 533h7v7h-7zM850 533h7v7h-7zM855 533h7v7h-7zM860 533h7v7h-7zM865 533h7v7h-7zM715 538h7v7h-7zM820 538h7v7h-7zM825 538h7v7h-7zM830 538h7v7h-7zM725 543h7v7h-7zM730 543h7v7h-7zM785 543h7v7h-7zM790 543h7v7h-7zM795 543h7v7h-7z"/>
<path fill="#b7b7ff" d="M955 58h7v7h-7zM960 58h7v7h-7zM965 58h7v7h-7zM970 58h7v7h-7zM975 58h7v7h-7zM945 63h7v7h-7zM950 63h7v7h-7zM980 63h7v7h-7zM985 63h7v7h-7zM935 68h7v7h-7zM940 68h7v7h-7zM990 68h7v7h-7zM995 68h7v7h-7zM930 73h7v7h-7zM935 73h7v7h-7zM1000 73h7v7h-7zM925 78h7v7h-7zM1005 78h7v7h-7zM1010 78h7v7h-7zM920 83h7v7h-7zM1010 83h7v7h-7zM1015 83h7v7h-7zM915 88h7v7h-7zM1015 88h7v7h-7zM1020 88h7v7h-7zM910 93h7v7h-7zM1025 93h7v7h-7zM1030 93h7v7h-7zM900 98h7v7h-7zM905 98h7v7h-7zM1030 98h7v7h-7zM1035 98h7v7h-7zM895 103h7v7h-7zM900 103h7v7h-7zM1035 103h7v7h-7zM1040 103h7v7h-7zM1045 103h7v7h-7zM1050 103h7v7h-7zM890 108h7v7h-7zM895 108h7v7h-7zM1050 108h7v7h-7zM1055 108h7v7h-7zM1060 108h7v7h-7zM1065 108h7v7h-7zM1070 108h7v7h-7zM1075 108h7v7h-7zM1080 108h7v7h-7zM1085 108h7v7h-7zM1150 108h7v7h-7zM1155 108h7v7h-7zM1160 108h7v7h-7zM885 113h7v7h-7zM890 113h7v7h-7zM1175 113h7v7h-7zM1180 113h7v7h-7zM880 118h7v7h-7zM885 118h7v7h-7zM1190 118h7v7h-7zM1195 118h7v7h-7zM880 123h7v7h-7zM1200 123h7v7h-7zM1205 123h7v7h-7zM875 128h7v7h-7zM1210 128h7v7h-7zM870 133h7v7h-7zM730 138h7v7h-7zM735 138h7v7h-7zM740 138h7v7h-7zM745 138h7v7h-7zM865 138h7v7h-7zM1225 138h7v7h-7zM715 143h7v7h-7zM760 143h7v7h-7zM765 143h7v7h-7zM770 143h7v7h-7zM855 143h7v7h-7zM860 143h7v7h-7zM1230 143h7v7h-7zM705 148h7v7h-7zM785 148h7v7h-7zM790 148h7v7h-7zM795 148h7v7h-7zM845 148h7v7h-7zM850 148h7v7h-7zM700 153h7v7h-7zM695 158h7v7h-7zM1240 158h7v7h-7zM690 163h7v7h-7zM685 168h7v7h-7zM1245 168h7v7h-7zM685 173h7v7h-7zM680 183h7v7h-7zM680 188h7v7h-7zM680 218h7v7h-7zM680 223h7v7h-7zM685 233h7v7h-7zM685 238h7v7h-7zM690 248h7v7h-7zM695 253h7v7h-7zM700 263h7v7h-7zM1245 268h7v7h-7zM705 273h7v7h-7zM1245 273h7v7h-7zM710 278h7v7h-7zM1240 283h7v7h-7zM715 288h7v7h-7zM715 293h7v7h-7zM1235 293h7v7h-7zM1230 298h7v7h-7zM1225 308h7v7h-7zM715 313h7v7h-7zM715 318h7v7h-7zM1220 318h7v7h-7zM715 323h7v7h-7zM1215 323h7v7h-7zM1215 328h7v7h-7zM710 333h7v7h-7zM705 343h7v7h-7zM1215 343h7v7h-7zM705 348h7v7h-7zM1215 348h7v7h-7zM700 358h7v7h-7zM700 363h7v7h-7zM1220 363h7v7h-7zM695 373h7v7h-7zM1225 373h7v7h-7zM695 378h7v7h-7zM695 383h7v7h-7zM1230 383h7v7h-7zM690 393h7v7h-7zM690 398h7v7h-7zM1235 398h7v7h-7zM690 403h7v7h-7zM1240 413h7v7h-7zM685 418h7v7h-7zM685 423h7v7h-7zM685 428h7v7h-7zM1245 428h7v7h-7zM680 448h7v7h-7zM680 453h7v7h-7zM680 458h7v7h-7zM680 463h7v7h-7zM680 468h7v7h-7zM680 473h7v7h-7zM680 478h7v7h-7zM680 483h7v7h-7zM1245 483h7v7h-7zM680 488h7v7h-7zM680 493h7v7h-7zM1240 493h7v7h-7zM1235 498h7v7h-7zM685 503h7v7h-7zM685 508h7v7h-7zM1220 508h7v7h-7zM690 513h7v7h-7zM1205 513h7v7h-7zM1090 518h7v7h-7zM1095 518h7v7h-7zM1100 518h7v7h-7zM1105 518h7v7h-7zM1110 518h7v7h-7zM1115 518h7v7h-7zM1120 518h7v7h-7zM1125 518h7v7h-7zM1130 518h7v7h-7zM1135 518h7v7h-7zM1140 518h7v7h-7zM1145 518h7v7h-7zM1150 518h7v7h-7zM1155 518h7v7h-7zM1160 518h7v7h-7zM1165 518h7v7h-7zM1170 518h7v7h-7zM1175 518h7v7h-7zM1180 518h7v7h-7zM695 523h7v7h-7zM885 523h7v7h-7zM890 523h7v7h-7zM895 523h7v7h-7zM900 523h7v7h-7zM905 523h7v7h-7zM925 523h7v7h-7zM930 523h7v7h-7zM935 523h7v7h-7zM940 523h7v7h-7zM945 523h7v7h-7zM950 523h7v7h-7zM955 523h7v7h-7zM1015 523h7v7h-7zM1020 523h7v7h-7zM1025 523h7v7h-7zM1030 523h7v7h-7zM1035 523h7v7h-7zM1040 523h7v7h-7zM1045 523h7v7h-7zM1050 523h7v7h-7zM1055 523h7v7h-7zM700 528h7v7h-7zM865 528h7v7h-7zM870 528h7v7h-7zM875 528h7v7h-7zM710 533h7v7h-7zM835 533h7v7h-7zM840 533h7v7h-7zM845 533h7v7h-7zM720 538h7v7h-7zM805 538h7v7h-7zM810 538h7v7h-7zM815 538h7v7h-7zM735 543h7v7h-7zM740 543h7v7h-7zM745 543h7v7h-7zM750 543h7v7h-7zM755 543h7v7h-7zM760 543h7v7h-7zM765 543h7v7h-7zM770 543h7v7h-7zM775 543h7v7h-7zM780 543h7v7h-7z"/>
<path fill="#b3b3ff" d="M955 63h7v7h-7zM960 63h7v7h-7zM965 63h7v7h-7zM970 63h7v7h-7zM975 63h7v7h-7zM945 68h7v7h-7zM950 68h7v7h-7zM955 68h7v7h-7zM975 68h7v7h-7zM980 68h7v7h-7zM985 68h7v7h-7zM940 73h7v7h-7zM945 73h7v7h-7zM985 73h7v7h-7zM990 73h7v7h-7zM995 73h7v7h-7zM930 78h7v7h-7zM935 78h7v7h-7zM995 78h7v7h-7zM1000 78h7v7h-7zM925 83h7v7h-7zM930 83h7v7h-7zM1000 83h7v7h-7zM1005 83h7v7h-7zM920 88h7v7h-7zM1010 88h7v7h-7zM915 93h7v7h-7zM1015 93h7v7h-7zM1020 93h7v7h-7zM910 98h7v7h-7zM1020 98h7v7h-7zM1025 98h7v7h-7zM905 103h7v7h-7zM1025 103h7v7h-7zM1030 103h7v7h-7zM900 108h7v7h-7zM1030 108h7v7h-7zM1035 108h7v7h-7zM1040 108h7v7h-7zM1045 108h7v7h-7zM1090 108h7v7h-7zM1095 108h7v7h-7zM1100 108h7v7h-7zM1105 108h7v7h-7zM1110 108h7v7h-7zM1115 108h7v7h-7zM1120 108h7v7h-7zM1125 108h7v7h-7zM1130 108h7v7h-7zM1135 108h7v7h-7zM1140 108h7v7h-7zM1145 108h7v7h-7zM895 113h7v7h-7zM1040 113h7v7h-7zM1045 113h7v7h-7zM1050 113h7v7h-7zM1055 113h7v7h-7zM1060 113h7v7h-7zM1065 113h7v7h-7zM1070 113h7v7h-7zM1075 113h7v7h-7zM1165 113h7v7h-7zM1170 113h7v7h-7zM890 118h7v7h-7zM1185 118h7v7h-7zM885 123h7v7h-7zM1195 123h7v7h-7zM880 128h7v7h-7zM1205 128h7v7h-7zM875 133h7v7h-7zM1215 133h7v7h-7zM870 138h7v7h-7zM875 138h7v7h-7zM1220 138h7v7h-7zM720 143h7v7h-7zM725 143h7v7h-7zM730 143h7v7h-7zM735 143h7v7h-7zM740 143h7v7h-7zM745 143h7v7h-7zM750 143h7v7h-7zM755 143h7v7h-7zM865 143h7v7h-7zM870 143h7v7h-7zM1225 143h7v7h-7zM710 148h7v7h-7zM715 148h7v7h-7zM775 148h7v7h-7zM780 148h7v7h-7zM855 148h7v7h-7zM860 148h7v7h-7zM1230 148h7v7h-7zM705 153h7v7h-7zM800 153h7v7h-7zM805 153h7v7h-7zM810 153h7v7h-7zM815 153h7v7h-7zM820 153h7v7h-7zM825 153h7v7h-7zM830 153h7v7h-7zM835 153h7v7h-7zM840 153h7v7h-7zM845 153h7v7h-7zM850 153h7v7h-7zM1235 153h7v7h-7zM695 163h7v7h-7zM1240 163h7v7h-7zM690 168h7v7h-7zM1245 173h7v7h-7zM685 178h7v7h-7zM1245 178h7v7h-7zM680 193h7v7h-7zM680 198h7v7h-7zM680 203h7v7h-7zM680 208h7v7h-7zM680 213h7v7h-7zM685 228h7v7h-7zM690 243h7v7h-7zM695 248h7v7h-7zM1245 253h7v7h-7zM700 258h7v7h-7zM1245 258h7v7h-7zM1245 263h7v7h-7zM705 268h7v7h-7zM710 273h7v7h-7zM1240 273h7v7h-7zM1240 278h7v7h-7zM715 283h7v7h-7zM720 288h7v7h-7zM1235 288h7v7h-7zM720 293h7v7h-7zM720 298h7v7h-7zM720 303h7v7h-7zM1225 303h7v7h-7zM720 308h7v7h-7zM720 313h7v7h-7zM1220 313h7v7h-7zM720 318h7v7h-7zM1215 318h7v7h-7zM715 328h7v7h-7zM1210 328h7v7h-7zM1210 333h7v7h-7zM710 338h7v7h-7zM1210 338h7v7h-7zM710 343h7v7h-7zM1210 343h7v7h-7zM705 353h7v7h-7zM1215 353h7v7h-7zM1215 358h7v7h-7zM700 368h7v7h-7zM1220 368h7v7h-7zM700 373h7v7h-7zM1225 378h7v7h-7zM695 388h7v7h-7zM1230 388h7v7h-7zM695 393h7v7h-7zM1235 403h7v7h-7zM690 408h7v7h-7zM690 413h7v7h-7zM690 418h7v7h-7zM1240 418h7v7h-7zM685 433h7v7h-7zM1245 433h7v7h-7zM685 438h7v7h-7zM1245 438h7v7h-7zM685 443h7v7h-7zM685 448h7v7h-7zM1245 478h7v7h-7zM1240 488h7v7h-7zM685 493h7v7h-7zM1235 493h7v7h-7zM685 498h7v7h-7zM1230 498h7v7h-7zM1225 503h7v7h-7zM690 508h7v7h-7zM1210 508h7v7h-7zM1215 508h7v7h-7zM1190 513h7v7h-7zM1195 513h7v7h-7zM1200 513h7v7h-7zM695 518h7v7h-7zM895 518h7v7h-7zM900 518h7v7h-7zM905 518h7v7h-7zM910 518h7v7h-7zM915 518h7v7h-7zM920 518h7v7h-7zM925 518h7v7h-7zM930 518h7v7h-7zM935 518h7v7h-7zM940 518h7v7h-7zM945 518h7v7h-7zM1050 518h7v7h-7zM1055 518h7v7h-7zM1060 518h7v7h-7zM1065 518h7v7h-7zM1070 518h7v7h-7zM1075 518h7v7h-7zM1080 518h7v7h-7zM1085 518h7v7h-7zM700 523h7v7h-7zM875 523h7v7h-7zM880 523h7v7h-7zM960 523h7v7h-7zM965 523h7v7h-7zM970 523h7v7h-7zM975 523h7v7h-7zM980 523h7v7h-7zM985 523h7v7h-7zM990 523h7v7h-7zM995 523h7v7h-7zM1000 523h7v7h-7zM1005 523h7v7h-7zM1010 523h7v7h-7zM705 528h7v7h-7zM850 528h7v7h-7zM855 528h7v7h-7zM860 528h7v7h-7zM715 533h7v7h-7zM820 533h7v7h-7zM825 533h7v7h-7zM830 533h7v7h-7zM725 538h7v7h-7zM730 538h7v7h-7zM790 538h7v7h-7zM795 538h7v7h-7zM800 538h7v7h-7z"/>
<path fill="#afafff" d="M960 68h7v7h-7zM965 68h7v7h-7zM970 68h7v7h-7zM950 73h7v7h-7zM955 73h7v7h-7zM960 73h7v7h-7zM965 73h7v7h-7zM970 73h7v7h-7zM975 73h7v7h-7zM980 73h7v7h-7zM940 78h7v7h-7zM945 78h7v7h-7zM985 78h7v7h-7zM990 78h7v7h-7zM935 83h7v7h-7zM940 83h7v7h-7zM990 83h7v7h-7zM995 83h7v7h-7zM925 88h7v7h-7zM930 88h7v7h-7zM1000 88h7v7h-7zM1005 88h7v7h-7zM920 93h7v7h-7zM925 93h7v7h-7zM1005 93h7v7h-7zM1010 93h7v7h-7zM915 98h7v7h-7zM920 98h7v7h-7zM1010 98h7v7h-7zM1015 98h7v7h-7zM910 103h7v7h-7zM1015 103h7v7h-7zM1020 103h7v7h-7zM905 108h7v7h-7zM1020 108h7v7h-7zM1025 108h7v7h-7zM900 113h7v7h-7zM1025 113h7v7h-7zM1030 113h7v7h-7zM1035 113h7v7h-7zM1080 113h7v7h-7zM1085 113h7v7h-7zM1090 113h7v7h-7zM1095 113h7v7h-7zM1100 113h7v7h-7zM1105 113h7v7h-7zM1145 113h7v7h-7zM1150 113h7v7h-7zM1155 113h7v7h-7zM1160 113h7v7h-7zM895 118h7v7h-7zM1030 118h7v7h-7zM1035 118h7v7h-7zM1040 118h7v7h-7zM1045 118h7v7h-7zM1050 118h7v7h-7zM1055 118h7v7h-7zM1060 118h7v7h-7zM1065 118h7v7h-7zM1070 118h7v7h-7zM1075 118h7v7h-7zM1175 118h7v7h-7zM1180 118h7v7h-7zM890 123h7v7h-7zM1190 123h7v7h-7zM885 128h7v7h-7zM890 128h7v7h-7zM1200 128h7v7h-7zM880 133h7v7h-7zM885 133h7v7h-7zM1210 133h7v7h-7zM880 138h7v7h-7zM1215 138h7v7h-7zM875 143h7v7h-7zM1220 143h7v7h-7zM720 148h7v7h-7zM725 148h7v7h-7zM760 148h7v7h-7zM765 148h7v7h-7zM770 148h7v7h-7zM865 148h7v7h-7zM870 148h7v7h-7zM1225 148h7v7h-7zM710 153h7v7h-7zM785 153h7v7h-7zM790 153h7v7h-7zM795 153h7v7h-7zM855 153h7v7h-7zM860 153h7v7h-7zM1230 153h7v7h-7zM700 158h7v7h-7zM825 158h7v7h-7zM830 158h7v7h-7zM835 158h7v7h-7zM1235 158h7v7h-7zM695 168h7v7h-7zM1240 168h7v7h-7zM690 173h7v7h-7zM685 183h7v7h-7zM1245 183h7v7h-7zM685 188h7v7h-7zM1245 188h7v7h-7zM685 218h7v7h-7zM685 223h7v7h-7zM1245 228h7v7h-7zM690 233h7v7h-7zM1245 233h7v7h-7zM690 238h7v7h-7zM1245 238h7v7h-7zM695 243h7v7h-7zM1245 243h7v7h-7zM1245 248h7v7h-7zM700 253h7v7h-7zM705 263h7v7h-7zM710 268h7v7h-7zM1240 268h7v7h-7zM715 278h7v7h-7zM720 283h7v7h-7zM1235 283h7v7h-7zM725 293h7v7h-7zM1230 293h7v7h-7zM725 298h7v7h-7zM1225 298h7v7h-7zM725 303h7v7h-7zM725 308h7v7h-7zM1220 308h7v7h-7zM725 313h7v7h-7zM1215 313h7v7h-7zM720 323h7v7h-7zM1210 323h7v7h-7zM720 328h7v7h-7zM715 333h7v7h-7zM715 338h7v7h-7zM710 348h7v7h-7zM1210 348h7v7h-7zM1210 353h7v7h-7zM705 358h7v7h-7zM705 363h7v7h-7zM1215 363h7v7h-7zM1220 373h7v7h-7zM700 378h7v7h-7zM700 383h7v7h-7zM1225 383h7v7h-7zM1230 393h7v7h-7zM695 398h7v7h-7zM695 403h7v7h-7zM695 408h7v7h-7zM1235 408h7v7h-7zM690 423h7v7h-7zM1240 423h7v7h-7zM690 428h7v7h-7zM1240 428h7v7h-7zM690 433h7v7h-7zM1245 443h7v7h-7zM1245 448h7v7h-7zM685 453h7v7h-7zM1245 453h7v7h-7zM685 458h7v7h-7zM1245 458h7v7h-7zM685 463h7v7h-7zM1245 463h7v7h-7zM685 468h7v7h-7zM1245 468h7v7h-7zM685 473h7v7h-7zM1245 473h7v7h-7zM685 478h7v7h-7zM685 483h7v7h-7zM1240 483h7v7h-7zM685 488h7v7h-7zM1225 498h7v7h-7zM690 503h7v7h-7zM1220 503h7v7h-7zM1205 508h7v7h-7zM695 513h7v7h-7zM900 513h7v7h-7zM905 513h7v7h-7zM910 513h7v7h-7zM915 513h7v7h-7zM920 513h7v7h-7zM925 513h7v7h-7zM930 513h7v7h-7zM935 513h7v7h-7zM940 513h7v7h-7zM1100 513h7v7h-7zM1105 513h7v7h-7zM1110 513h7v7h-7zM1115 513h7v7h-7zM1120 513h7v7h-7zM1125 513h7v7h-7zM1130 513h7v7h-7zM1135 513h7v7h-7zM1140 513h7v7h-7zM1145 513h7v7h-7zM1150 513h7v7h-7zM1155 513h7v7h-7zM1160 513h7v7h-7zM1165 513h7v7h-7zM1170 513h7v7h-7zM1175 513h7v7h-7zM1180 513h7v7h-7zM1185 513h7v7h-7zM700 518h7v7h-7zM880 518h7v7h-7zM885 518h7v7h-7zM890 518h7v7h-7zM950 518h7v7h-7zM955 518h7v7h-7zM960 518h7v7h-7zM965 518h7v7h-7zM970 518h7v7h-7zM975 518h7v7h-7zM980 518h7v7h-7zM985 518h7v7h-7zM990 518h7v7h-7zM995 518h7v7h-7zM1000 518h7v7h-7zM1005 518h7v7h-7zM1010 518h7v7h-7zM1015 518h7v7h-7zM1020 518h7v7h-7zM1025 518h7v7h-7zM1030 518h7v7h-7zM1035 518h7v7h-7zM1040 518h7v7h-7zM1045 518h7v7h-7zM705 523h7v7h-7zM860 523h7v7h-7zM865 523h7v7h-7zM870 523h7v7h-7zM710 528h7v7h-7zM840 528h7v7h-7zM845 528h7v7h-7zM720 533h7v7h-7zM810 533h7v7h-7zM815 533h7v7h-7zM735 538h7v7h-7zM740 538h7v7h-7zM745 538h7v7h-7zM770 538h7v7h-7zM775 538h7v7h-7zM780 538h7v7h-7zM785 538h7v7h-7z"/>
<path fill="#ababff" d="M950 78h7v7h-7zM955 78h7v7h-7zM960 78h7v7h-7zM965 78h7v7h-7zM970 78h7v7h-7zM975 78h7v7h-7zM980 78h7v7h-7zM945 83h7v7h-7zM950 83h7v7h-7zM955 83h7v7h-7zM975 83h7v7h-7zM980 83h7v7h-7zM985 83h7v7h-7zM935 88h7v7h-7zM940 88h7v7h-7zM985 88h7v7h-7zM990 88h7v7h-7zM995 88h7v7h-7zM930 93h7v7h-7zM935 93h7v7h-7zM990 93h7v7h-7zM995 93h7v7h-7zM1000 93h7v7h-7zM925 98h7v7h-7zM995 98h7v7h-7zM1000 98h7v7h-7zM1005 98h7v7h-7zM915 103h7v7h-7zM920 103h7v7h-7zM1000 103h7v7h-7zM1005 103h7v7h-7zM1010 103h7v7h-7zM910 108h7v7h-7zM915 108h7v7h-7zM1005 108h7v7h-7zM1010 108h7v7h-7zM1015 108h7v7h-7zM905 113h7v7h-7zM910 113h7v7h-7zM1010 113h7v7h-7zM1015 113h7v7h-7zM1020 113h7v7h-7zM1110 113h7v7h-7zM1115 113h7v7h-7zM1120 113h7v7h-7zM1125 113h7v7h-7zM1130 113h7v7h-7zM1135 113h7v7h-7zM1140 113h7v7h-7zM900 118h7v7h-7zM905 118h7v7h-7zM1015 118h7v7h-7zM1020 118h7v7h-7zM1025 118h7v7h-7zM1080 118h7v7h-7zM1085 118h7v7h-7zM1090 118h7v7h-7zM1095 118h7v7h-7zM1165 118h7v7h-7zM1170 118h7v7h-7zM895 123h7v7h-7zM900 123h7v7h-7zM1015 123h7v7h-7zM1020 123h7v7h-7zM1025 123h7v7h-7zM1030 123h7v7h-7zM1035 123h7v7h-7zM1040 123h7v7h-7zM1045 123h7v7h-7zM1050 123h7v7h-7zM1055 123h7v7h-7zM1060 123h7v7h-7zM1065 123h7v7h-7zM1070 123h7v7h-7zM1075 123h7v7h-7zM1185 123h7v7h-7zM895 128h7v7h-7zM1025 128h7v7h-7zM1030 128h7v7h-7zM1035 128h7v7h-7zM1040 128h7v7h-7zM1045 128h7v7h-7zM1050 128h7v7h-7zM1055 128h7v7h-7zM1195 128h7v7h-7zM890 133h7v7h-7zM1205 133h7v7h-7zM885 138h7v7h-7zM1210 138h7v7h-7zM880 143h7v7h-7zM885 143h7v7h-7zM730 148h7v7h-7zM735 148h7v7h-7zM740 148h7v7h-7zM745 148h7v7h-7zM750 148h7v7h-7zM755 148h7v7h-7zM875 148h7v7h-7zM715 153h7v7h-7zM775 153h7v7h-7zM780 153h7v7h-7zM865 153h7v7h-7zM870 153h7v7h-7zM705 158h7v7h-7zM805 158h7v7h-7zM810 158h7v7h-7zM815 158h7v7h-7zM820 158h7v7h-7zM840 158h7v7h-7zM845 158h7v7h-7zM850 158h7v7h-7zM855 158h7v7h-7zM700 163h7v7h-7zM1235 163h7v7h-7zM695 173h7v7h-7zM1240 173h7v7h-7zM690 178h7v7h-7zM1240 178h7v7h-7zM690 183h7v7h-7zM685 193h7v7h-7zM1245 193h7v7h-7zM685 198h7v7h-7zM1245 198h7v7h-7zM685 203h7v7h-7zM1245 203h7v7h-7zM685 208h7v7h-7zM1245 208h7v7h-7zM685 213h7v7h-7zM1245 213h7v7h-7zM1245 218h7v7h-7zM1245 223h7v7h-7zM690 228h7v7h-7zM695 238h7v7h-7zM700 248h7v7h-7zM705 258h7v7h-7zM1240 258h7v7h-7zM710 263h7v7h-7zM1240 263h7v7h-7zM715 273h7v7h-7zM720 278h7v7h-7zM1235 278h7v7h-7zM725 283h7v7h-7zM725 288h7v7h-7zM1230 288h7v7h-7zM730 293h7v7h-7zM1225 293h7v7h-7zM730 298h7v7h-7zM730 303h7v7h-7zM1220 303h7v7h-7zM730 308h7v7h-7zM1215 308h7v7h-7zM725 318h7v7h-7zM1210 318h7v7h-7zM725 323h7v7h-7zM1205 328h7v7h-7zM720 333h7v7h-7zM1205 333h7v7h-7zM1205 338h7v7h-7zM715 343h7v7h-7zM1205 343h7v7h-7zM710 353h7v7h-7zM710 358h7v7h-7zM1210 358h7v7h-7zM705 368h7v7h-7zM1215 368h7v7h-7zM705 373h7v7h-7zM1220 378h7v7h-7zM700 388h7v7h-7zM1225 388h7v7h-7zM700 393h7v7h-7zM1230 398h7v7h-7zM1230 403h7v7h-7zM695 413h7v7h-7zM1235 413h7v7h-7zM695 418h7v7h-7zM1235 418h7v7h-7zM1240 433h7v7h-7zM690 438h7v7h-7zM1240 438h7v7h-7zM690 443h7v7h-7zM690 448h7v7h-7zM690 453h7v7h-7zM1240 478h7v7h-7zM690 488h7v7h-7zM1235 488h7v7h-7zM690 493h7v7h-7zM1230 493h7v7h-7zM690 498h7v7h-7zM1215 503h7v7h-7zM695 508h7v7h-7zM905 508h7v7h-7zM910 508h7v7h-7zM915 508h7v7h-7zM920 508h7v7h-7zM925 508h7v7h-7zM930 508h7v7h-7zM1195 508h7v7h-7zM1200 508h7v7h-7zM700 513h7v7h-7zM885 513h7v7h-7zM890 513h7v7h-7zM895 513h7v7h-7zM945 513h7v7h-7zM950 513h7v7h-7zM955 513h7v7h-7zM960 513h7v7h-7zM1050 513h7v7h-7zM1055 513h7v7h-7zM1060 513h7v7h-7zM1065 513h7v7h-7zM1070 513h7v7h-7zM1075 513h7v7h-7zM1080 513h7v7h-7zM1085 513h7v7h-7zM1090 513h7v7h-7zM1095 513h7v7h-7zM870 518h7v7h-7zM875 518h7v7h-7zM710 523h7v7h-7zM850 523h7v7h-7zM855 523h7v7h-7zM715 528h7v7h-7zM825 528h7v7h-7zM830 528h7v7h-7zM835 528h7v7h-7zM725 533h7v7h-7zM730 533h7v7h-7zM795 533h7v7h-7zM800 533h7v7h-7zM805 533h7v7h-7zM750 538h7v7h-7zM755 538h7v7h-7zM760 538h7v7h-7zM765 538h7v7h-7z"/>
<path fill="#a7a7ff" d="M960 83h7v7h-7zM965 83h7v7h-7zM970 83h7v7h-7zM945 88h7v7h-7zM950 88h7v7h-7zM955 88h7v7h-7zM960 88h7v7h-7zM965 88h7v7h-7zM970 88h7v7h-7zM975 88h7v7h-7zM980 88h7v7h-7zM940 93h7v7h-7zM945 93h7v7h-7zM950 93h7v7h-7zM975 93h7v7h-7zM980 93h7v7h-7zM985 93h7v7h-7zM930 98h7v7h-7zM935 98h7v7h-7zM940 98h7v7h-7zM985 98h7v7h-7zM990 98h7v7h-7zM925 103h7v7h-7zM930 103h7v7h-7zM990 103h7v7h-7zM995 103h7v7h-7zM920 108h7v7h-7zM925 108h7v7h-7zM990 108h7v7h-7zM995 108h7v7h-7zM1000 108h7v7h-7zM915 113h7v7h-7zM920 113h7v7h-7zM995 113h7v7h-7zM1000 113h7v7h-7zM1005 113h7v7h-7zM910 118h7v7h-7zM915 118h7v7h-7zM1000 118h7v7h-7zM1005 118h7v7h-7zM1010 118h7v7h-7zM1100 118h7v7h-7zM1105 118h7v7h-7zM1110 118h7v7h-7zM1115 118h7v7h-7zM1120 118h7v7h-7zM1145 118h7v7h-7zM1150 118h7v7h-7zM1155 118h7v7h-7zM1160 118h7v7h-7zM905 123h7v7h-7zM910 123h7v7h-7zM1000 123h7v7h-7zM1005 123h7v7h-7zM1010 123h7v7h-7zM1080 123h7v7h-7zM1085 123h7v7h-7zM1090 123h7v7h-7zM1175 123h7v7h-7zM1180 123h7v7h-7zM900 128h7v7h-7zM905 128h7v7h-7zM1005 128h7v7h-7zM1010 128h7v7h-7zM1015 128h7v7h-7zM1020 128h7v7h-7zM1060 128h7v7h-7zM1065 128h7v7h-7zM1070 128h7v7h-7zM1190 128h7v7h-7zM895 133h7v7h-7zM900 133h7v7h-7zM1010 133h7v7h-7zM1015 133h7v7h-7zM1020 133h7v7h-7zM1025 133h7v7h-7zM1030 133h7v7h-7zM1035 133h7v7h-7zM1040 133h7v7h-7zM1045 133h7v7h-7zM1050 133h7v7h-7zM1055 133h7v7h-7zM1060 133h7v7h-7zM1200 133h7v7h-7zM890 138h7v7h-7zM895 138h7v7h-7zM1020 138h7v7h-7zM1025 138h7v7h-7zM1030 138h7v7h-7zM1035 138h7v7h-7zM1040 138h7v7h-7zM890 143h7v7h-7zM1215 143h7v7h-7zM880 148h7v7h-7zM885 148h7v7h-7zM1220 148h7v7h-7zM720 153h7v7h-7zM725 153h7v7h-7zM760 153h7v7h-7zM765 153h7v7h-7zM770 153h7v7h-7zM875 153h7v7h-7zM880 153h7v7h-7zM1225 153h7v7h-7zM710 158h7v7h-7zM715 158h7v7h-7zM790 158h7v7h-7zM795 158h7v7h-7zM800 158h7v7h-7zM860 158h7v7h-7zM865 158h7v7h-7zM870 158h7v7h-7zM1230 158h7v7h-7zM705 163h7v7h-7zM700 168h7v7h-7zM1235 168h7v7h-7zM695 178h7v7h-7zM1240 183h7v7h-7zM690 188h7v7h-7zM1240 188h7v7h-7zM690 193h7v7h-7zM690 218h7v7h-7zM690 223h7v7h-7zM695 233h7v7h-7zM1240 238h7v7h-7zM700 243h7v7h-7zM1240 243h7v7h-7zM1240 248h7v7h-7zM705 253h7v7h-7zM1240 253h7v7h-7zM710 258h7v7h-7zM715 268h7v7h-7zM1235 268h7v7h-7zM720 273h7v7h-7zM1235 273h7v7h-7zM725 278h7v7h-7zM1230 283h7v7h-7zM730 288h7v7h-7zM735 298h7v7h-7zM1220 298h7v7h-7zM735 303h7v7h-7zM735 308h7v7h-7zM730 313h7v7h-7zM1210 313h7v7h-7zM730 318h7v7h-7zM1205 318h7v7h-7zM1205 323h7v7h-7zM725 328h7v7h-7zM1200 333h7v7h-7zM720 338h7v7h-7zM1200 338h7v7h-7zM715 348h7v7h-7zM1205 348h7v7h-7zM1205 353h7v7h-7zM710 363h7v7h-7zM1210 363h7v7h-7zM705 378h7v7h-7zM705 383h7v7h-7zM1220 383h7v7h-7zM1225 393h7v7h-7zM700 398h7v7h-7zM700 403h7v7h-7zM700 408h7v7h-7zM1230 408h7v7h-7zM695 423h7v7h-7zM1235 423h7v7h-7zM695 428h7v7h-7zM695 433h7v7h-7zM695 438h7v7h-7zM1240 443h7v7h-7zM1240 448h7v7h-7zM1240 453h7v7h-7zM690 458h7v7h-7zM1240 458h7v7h-7zM690 463h7v7h-7zM1240 463h7v7h-7zM690 468h7v7h-7zM1240 468h7v7h-7zM690 473h7v7h-7zM1240 473h7v7h-7zM690 478h7v7h-7zM690 483h7v7h-7zM1235 483h7v7h-7zM1230 488h7v7h-7zM1225 493h7v7h-7zM695 498h7v7h-7zM1220 498h7v7h-7zM695 503h7v7h-7zM1205 503h7v7h-7zM1210 503h7v7h-7zM700 508h7v7h-7zM895 508h7v7h-7zM900 508h7v7h-7zM935 508h7v7h-7zM940 508h7v7h-7zM945 508h7v7h-7zM950 508h7v7h-7zM1185 508h7v7h-7zM1190 508h7v7h-7zM880 513h7v7h-7zM965 513h7v7h-7zM970 513h7v7h-7zM975 513h7v7h-7zM980 513h7v7h-7zM985 513h7v7h-7zM990 513h7v7h-7zM995 513h7v7h-7zM1000 513h7v7h-7zM1005 513h7v7h-7zM1010 513h7v7h-7zM1015 513h7v7h-7zM1020 513h7v7h-7zM1025 513h7v7h-7zM1030 513h7v7h-7zM1035 513h7v7h-7zM1040 513h7v7h-7zM1045 513h7v7h-7zM705 518h7v7h-7zM860 518h7v7h-7zM865 518h7v7h-7zM715 523h7v7h-7zM840 523h7v7h-7zM845 523h7v7h-7zM720 528h7v7h-7zM815 528h7v7h-7zM820 528h7v7h-7zM735 533h7v7h-7zM740 533h7v7h-7zM780 533h7v7h-7zM785 533h7v7h-7zM790 533h7v7h-7z"/>
<path fill="#a3a3ff" d="M955 93h7v7h-7zM960 93h7v7h-7zM965 93h7v7h-7zM970 93h7v7h-7zM945 98h7v7h-7zM950 98h7v7h-7zM955 98h7v7h-7zM960 98h7v7h-7zM965 98h7v7h-7zM970 98h7v7h-7zM975 98h7v7h-7zM980 98h7v7h-7zM935 103h7v7h-7zM940 103h7v7h-7zM945 103h7v7h-7zM950 103h7v7h-7zM955 103h7v7h-7zM965 103h7v7h-7zM970 103h7v7h-7zM975 103h7v7h-7zM980 103h7v7h-7zM985 103h7v7h-7zM930 108h7v7h-7zM935 108h7v7h-7zM940 108h7v7h-7zM975 108h7v7h-7zM980 108h7v7h-7zM985 108h7v7h-7zM925 113h7v7h-7zM930 113h7v7h-7zM980 113h7v7h-7zM985 113h7v7h-7zM990 113h7v7h-7zM920 118h7v7h-7zM925 118h7v7h-7zM985 118h7v7h-7zM990 118h7v7h-7zM995 118h7v7h-7zM1125 118h7v7h-7zM1130 118h7v7h-7zM1135 118h7v7h-7zM1140 118h7v7h-7zM915 123h7v7h-7zM920 123h7v7h-7zM985 123h7v7h-7zM990 123h7v7h-7zM995 123h7v7h-7zM1095 123h7v7h-7zM1100 123h7v7h-7zM1105 123h7v7h-7zM1165 123h7v7h-7zM1170 123h7v7h-7zM910 128h7v7h-7zM915 128h7v7h-7zM990 128h7v7h-7zM995 128h7v7h-7zM1000 128h7v7h-7zM1075 128h7v7h-7zM1080 128h7v7h-7zM1085 128h7v7h-7zM1180 128h7v7h-7zM1185 128h7v7h-7zM905 133h7v7h-7zM910 133h7v7h-7zM990 133h7v7h-7zM995 133h7v7h-7zM1000 133h7v7h-7zM1005 133h7v7h-7zM1065 133h7v7h-7zM1070 133h7v7h-7zM1195 133h7v7h-7zM900 138h7v7h-7zM905 138h7v7h-7zM995 138h7v7h-7zM1000 138h7v7h-7zM1005 138h7v7h-7zM1010 138h7v7h-7zM1015 138h7v7h-7zM1045 138h7v7h-7zM1050 138h7v7h-7zM1055 138h7v7h-7zM1060 138h7v7h-7zM1205 138h7v7h-7zM895 143h7v7h-7zM900 143h7v7h-7zM1005 143h7v7h-7zM1010 143h7v7h-7zM1015 143h7v7h-7zM1020 143h7v7h-7zM1025 143h7v7h-7zM1030 143h7v7h-7zM1035 143h7v7h-7zM1040 143h7v7h-7zM1045 143h7v7h-7zM1210 143h7v7h-7zM890 148h7v7h-7zM895 148h7v7h-7zM730 153h7v7h-7zM735 153h7v7h-7zM740 153h7v7h-7zM745 153h7v7h-7zM750 153h7v7h-7zM755 153h7v7h-7zM885 153h7v7h-7zM720 158h7v7h-7zM780 158h7v7h-7zM785 158h7v7h-7zM875 158h7v7h-7zM880 158h7v7h-7zM1225 158h7v7h-7zM710 163h7v7h-7zM810 163h7v7h-7zM815 163h7v7h-7zM820 163h7v7h-7zM825 163h7v7h-7zM830 163h7v7h-7zM835 163h7v7h-7zM840 163h7v7h-7zM845 163h7v7h-7zM850 163h7v7h-7zM855 163h7v7h-7zM860 163h7v7h-7zM1230 163h7v7h-7zM705 168h7v7h-7zM700 173h7v7h-7zM1235 173h7v7h-7zM695 183h7v7h-7zM1240 193h7v7h-7zM690 198h7v7h-7zM1240 198h7v7h-7zM690 203h7v7h-7zM1240 203h7v7h-7zM690 208h7v7h-7zM1240 208h7v7h-7zM690 213h7v7h-7zM1240 213h7v7h-7zM1240 218h7v7h-7zM1240 223h7v7h-7zM695 228h7v7h-7zM1240 228h7v7h-7zM1240 233h7v7h-7zM700 238h7v7h-7zM705 248h7v7h-7zM1235 258h7v7h-7zM715 263h7v7h-7zM1235 263h7v7h-7zM720 268h7v7h-7zM725 273h7v7h-7zM1230 278h7v7h-7zM730 283h7v7h-7zM735 288h7v7h-7zM1225 288h7v7h-7zM735 293h7v7h-7zM1220 293h7v7h-7zM1215 303h7v7h-7zM1210 308h7v7h-7zM735 313h7v7h-7zM1205 313h7v7h-7zM735 318h7v7h-7zM730 323h7v7h-7zM1200 323h7v7h-7zM730 328h7v7h-7zM1200 328h7v7h-7zM725 333h7v7h-7zM720 343h7v7h-7zM1200 343h7v7h-7zM1200 348h7v7h-7zM715 353h7v7h-7zM715 358h7v7h-7zM1205 358h7v7h-7zM710 368h7v7h-7zM710 373h7v7h-7zM1215 373h7v7h-7zM705 388h7v7h-7zM1220 388h7v7h-7zM705 393h7v7h-7zM1225 398h7v7h-7zM700 413h7v7h-7zM1230 413h7v7h-7zM700 418h7v7h-7zM700 423h7v7h-7zM1235 428h7v7h-7zM1235 433h7v7h-7zM695 443h7v7h-7zM695 448h7v7h-7zM695 453h7v7h-7zM695 458h7v7h-7zM695 463h7v7h-7zM1235 478h7v7h-7zM695 483h7v7h-7zM1230 483h7v7h-7zM695 488h7v7h-7zM695 493h7v7h-7zM1220 493h7v7h-7zM1215 498h7v7h-7zM700 503h7v7h-7zM900 503h7v7h-7zM905 503h7v7h-7zM910 503h7v7h-7zM915 503h7v7h-7zM920 503h7v7h-7zM925 503h7v7h-7zM930 503h7v7h-7zM935 503h7v7h-7zM940 503h7v7h-7zM1200 503h7v7h-7zM885 508h7v7h-7zM890 508h7v7h-7zM955 508h7v7h-7zM960 508h7v7h-7zM965 508h7v7h-7zM970 508h7v7h-7zM1045 508h7v7h-7zM1050 508h7v7h-7zM1055 508h7v7h-7zM1060 508h7v7h-7zM1065 508h7v7h-7zM1070 508h7v7h-7zM1075 508h7v7h-7zM1080 508h7v7h-7zM1085 508h7v7h-7zM1090 508h7v7h-7zM1095 508h7v7h-7zM1100 508h7v7h-7zM1105 508h7v7h-7zM1110 508h7v7h-7zM1115 508h7v7h-7zM1120 508h7v7h-7zM1125 508h7v7h-7zM1130 508h7v7h-7zM1135 508h7v7h-7zM1140 508h7v7h-7zM1145 508h7v7h-7zM1150 508h7v7h-7zM1155 508h7v7h-7zM1160 508h7v7h-7zM1165 508h7v7h-7zM1170 508h7v7h-7zM1175 508h7v7h-7zM1180 508h7v7h-7zM705 513h7v7h-7zM870 513h7v7h-7zM875 513h7v7h-7zM710 518h7v7h-7zM850 518h7v7h-7zM855 518h7v7h-7zM720 523h7v7h-7zM830 523h7v7h-7zM835 523h7v7h-7zM725 528h7v7h-7zM730 528h7v7h-7zM800 528h7v7h-7zM805 528h7v7h-7zM810 528h7v7h-7zM745 533h7v7h-7zM750 533h7v7h-7zM755 533h7v7h-7zM760 533h7v7h-7zM765 533h7v7h-7zM770 533h7v7h-7zM775 533h7v7h-7z"/>
<path fill="#9f9fff" d="M960 103h7v7h-7zM945 108h7v7h-7zM950 108h7v7h-7zM955 108h7v7h-7zM960 108h7v7h-7zM965 108h7v7h-7zM970 108h7v7h-7zM935 113h7v7h-7zM940 113h7v7h-7zM945 113h7v7h-7zM950 113h7v7h-7zM955 113h7v7h-7zM960 113h7v7h-7zM965 113h7v7h-7zM970 113h7v7h-7zM975 113h7v7h-7zM930 118h7v7h-7zM935 118h7v7h-7zM940 118h7v7h-7zM945 118h7v7h-7zM950 118h7v7h-7zM955 118h7v7h-7zM960 118h7v7h-7zM965 118h7v7h-7zM970 118h7v7h-7zM975 118h7v7h-7zM980 118h7v7h-7zM925 123h7v7h-7zM930 123h7v7h-7zM935 123h7v7h-7zM965 123h7v7h-7zM970 123h7v7h-7zM975 123h7v7h-7zM980 123h7v7h-7zM1110 123h7v7h-7zM1115 123h7v7h-7zM1120 123h7v7h-7zM1125 123h7v7h-7zM1130 123h7v7h-7zM1135 123h7v7h-7zM1140 123h7v7h-7zM1145 123h7v7h-7zM1150 123h7v7h-7zM1155 123h7v7h-7zM1160 123h7v7h-7zM920 128h7v7h-7zM925 128h7v7h-7zM930 128h7v7h-7zM970 128h7v7h-7zM975 128h7v7h-7zM980 128h7v7h-7zM985 128h7v7h-7zM1090 128h7v7h-7zM1095 128h7v7h-7zM1100 128h7v7h-7zM1175 128h7v7h-7zM915 133h7v7h-7zM920 133h7v7h-7zM975 133h7v7h-7zM980 133h7v7h-7zM985 133h7v7h-7zM1075 133h7v7h-7zM1080 133h7v7h-7zM1085 133h7v7h-7zM1190 133h7v7h-7zM910 138h7v7h-7zM915 138h7v7h-7zM980 138h7v7h-7zM985 138h7v7h-7zM990 138h7v7h-7zM1065 138h7v7h-7zM1070 138h7v7h-7zM1200 138h7v7h-7zM905 143h7v7h-7zM910 143h7v7h-7zM985 143h7v7h-7zM990 143h7v7h-7zM995 143h7v7h-7zM1000 143h7v7h-7zM1050 143h7v7h-7zM1055 143h7v7h-7zM1060 143h7v7h-7zM1205 143h7v7h-7zM900 148h7v7h-7zM905 148h7v7h-7zM1000 148h7v7h-7zM1005 148h7v7h-7zM1010 148h7v7h-7zM1015 148h7v7h-7zM1020 148h7v7h-7zM1025 148h7v7h-7zM1030 148h7v7h-7zM1035 148h7v7h-7zM1040 148h7v7h-7zM1045 148h7v7h-7zM1215 148h7v7h-7zM890 153h7v7h-7zM895 153h7v7h-7zM1220 153h7v7h-7zM725 158h7v7h-7zM730 158h7v7h-7zM765 158h7v7h-7zM770 158h7v7h-7zM775 158h7v7h-7zM885 158h7v7h-7zM890 158h7v7h-7zM715 163h7v7h-7zM795 163h7v7h-7zM800 163h7v7h-7zM805 163h7v7h-7zM865 163h7v7h-7zM870 163h7v7h-7zM875 163h7v7h-7zM710 168h7v7h-7zM1230 168h7v7h-7zM705 173h7v7h-7zM700 178h7v7h-7zM1235 178h7v7h-7zM1235 183h7v7h-7zM695 188h7v7h-7zM695 193h7v7h-7zM695 218h7v7h-7zM695 223h7v7h-7zM700 233h7v7h-7zM705 243h7v7h-7zM1235 248h7v7h-7zM710 253h7v7h-7zM1235 253h7v7h-7zM715 258h7v7h-7zM720 263h7v7h-7zM1230 268h7v7h-7zM1230 273h7v7h-7zM730 278h7v7h-7zM735 283h7v7h-7zM1225 283h7v7h-7zM740 288h7v7h-7zM740 293h7v7h-7zM740 298h7v7h-7zM1215 298h7v7h-7zM740 303h7v7h-7zM1210 303h7v7h-7zM740 308h7v7h-7zM740 313h7v7h-7zM1200 318h7v7h-7zM735 323h7v7h-7zM1195 328h7v7h-7zM730 333h7v7h-7zM1195 333h7v7h-7zM725 338h7v7h-7zM1195 338h7v7h-7zM725 343h7v7h-7zM1195 343h7v7h-7zM720 348h7v7h-7zM720 353h7v7h-7zM1200 353h7v7h-7zM715 363h7v7h-7zM1205 363h7v7h-7zM1210 368h7v7h-7zM710 378h7v7h-7zM1215 378h7v7h-7zM710 383h7v7h-7zM705 398h7v7h-7zM705 403h7v7h-7zM1225 403h7v7h-7zM705 408h7v7h-7zM1230 418h7v7h-7zM1230 423h7v7h-7zM700 428h7v7h-7zM700 433h7v7h-7zM700 438h7v7h-7zM1235 438h7v7h-7zM700 443h7v7h-7zM1235 443h7v7h-7zM1235 448h7v7h-7zM695 468h7v7h-7zM1235 468h7v7h-7zM695 473h7v7h-7zM1235 473h7v7h-7zM695 478h7v7h-7zM1225 488h7v7h-7zM700 493h7v7h-7zM700 498h7v7h-7zM910 498h7v7h-7zM915 498h7v7h-7zM920 498h7v7h-7zM925 498h7v7h-7zM1210 498h7v7h-7zM890 503h7v7h-7zM895 503h7v7h-7zM945 503h7v7h-7zM950 503h7v7h-7zM955 503h7v7h-7zM1190 503h7v7h-7zM1195 503h7v7h-7zM705 508h7v7h-7zM875 508h7v7h-7zM880 508h7v7h-7zM975 508h7v7h-7zM980 508h7v7h-7zM985 508h7v7h-7zM990 508h7v7h-7zM995 508h7v7h-7zM1000 508h7v7h-7zM1005 508h7v7h-7zM1010 508h7v7h-7zM1015 508h7v7h-7zM1020 508h7v7h-7zM1025 508h7v7h-7zM1030 508h7v7h-7zM1035 508h7v7h-7zM1040 508h7v7h-7zM710 513h7v7h-7zM860 513h7v7h-7zM865 513h7v7h-7zM715 518h7v7h-7zM845 518h7v7h-7zM725 523h7v7h-7zM815 523h7v7h-7zM820 523h7v7h-7zM825 523h7v7h-7zM735 528h7v7h-7zM740 528h7v7h-7zM785 528h7v7h-7zM790 528h7v7h-7zM795 528h7v7h-7z"/>
<path fill="#9b9bff" d="M940 123h7v7h-7zM945 123h7v7h-7zM950 123h7v7h-7zM955 123h7v7h-7zM960 123h7v7h-7zM935 128h7v7h-7zM940 128h7v7h-7zM945 128h7v7h-7zM950 128h7v7h-7zM955 128h7v7h-7zM960 128h7v7h-7zM965 128h7v7h-7zM1105 128h7v7h-7zM1110 128h7v7h-7zM1115 128h7v7h-7zM1165 128h7v7h-7zM1170 128h7v7h-7zM925 133h7v7h-7zM930 133h7v7h-7zM935 133h7v7h-7zM940 133h7v7h-7zM945 133h7v7h-7zM950 133h7v7h-7zM955 133h7v7h-7zM960 133h7v7h-7zM965 133h7v7h-7zM970 133h7v7h-7zM1090 133h7v7h-7zM1095 133h7v7h-7zM1180 133h7v7h-7zM1185 133h7v7h-7zM920 138h7v7h-7zM925 138h7v7h-7zM930 138h7v7h-7zM935 138h7v7h-7zM940 138h7v7h-7zM945 138h7v7h-7zM950 138h7v7h-7zM955 138h7v7h-7zM960 138h7v7h-7zM965 138h7v7h-7zM970 138h7v7h-7zM975 138h7v7h-7zM1075 138h7v7h-7zM1080 138h7v7h-7zM1085 138h7v7h-7zM1195 138h7v7h-7zM915 143h7v7h-7zM920 143h7v7h-7zM925 143h7v7h-7zM965 143h7v7h-7zM970 143h7v7h-7zM975 143h7v7h-7zM980 143h7v7h-7zM1065 143h7v7h-7zM1070 143h7v7h-7zM910 148h7v7h-7zM915 148h7v7h-7zM975 148h7v7h-7zM980 148h7v7h-7zM985 148h7v7h-7zM990 148h7v7h-7zM995 148h7v7h-7zM1050 148h7v7h-7zM1055 148h7v7h-7zM1060 148h7v7h-7zM1210 148h7v7h-7zM900 153h7v7h-7zM905 153h7v7h-7zM995 153h7v7h-7zM1000 153h7v7h-7zM1005 153h7v7h-7zM1010 153h7v7h-7zM1015 153h7v7h-7zM1020 153h7v7h-7zM1025 153h7v7h-7zM1030 153h7v7h-7zM1035 153h7v7h-7zM1040 153h7v7h-7zM1045 153h7v7h-7zM1215 153h7v7h-7zM735 158h7v7h-7zM740 158h7v7h-7zM745 158h7v7h-7zM750 158h7v7h-7zM755 158h7v7h-7zM760 158h7v7h-7zM895 158h7v7h-7zM900 158h7v7h-7zM1220 158h7v7h-7zM720 163h7v7h-7zM785 163h7v7h-7zM790 163h7v7h-7zM880 163h7v7h-7zM885 163h7v7h-7zM1225 163h7v7h-7zM715 168h7v7h-7zM820 168h7v7h-7zM825 168h7v7h-7zM830 168h7v7h-7zM835 168h7v7h-7zM840 168h7v7h-7zM845 168h7v7h-7zM850 168h7v7h-7zM855 168h7v7h-7zM860 168h7v7h-7zM865 168h7v7h-7zM870 168h7v7h-7zM1230 173h7v7h-7zM705 178h7v7h-7zM700 183h7v7h-7zM1235 188h7v7h-7zM1235 193h7v7h-7zM695 198h7v7h-7zM1235 198h7v7h-7zM695 203h7v7h-7zM1235 203h7v7h-7zM695 208h7v7h-7zM695 213h7v7h-7zM1235 213h7v7h-7zM1235 218h7v7h-7zM1235 223h7v7h-7zM700 228h7v7h-7zM1235 228h7v7h-7zM1235 233h7v7h-7zM705 238h7v7h-7zM1235 238h7v7h-7zM1235 243h7v7h-7zM710 248h7v7h-7zM715 253h7v7h-7zM1230 263h7v7h-7zM725 268h7v7h-7zM730 273h7v7h-7zM735 278h7v7h-7zM1225 278h7v7h-7zM740 283h7v7h-7zM1220 288h7v7h-7zM745 293h7v7h-7zM1215 293h7v7h-7zM745 298h7v7h-7zM745 303h7v7h-7zM745 308h7v7h-7zM1205 308h7v7h-7zM1200 313h7v7h-7zM740 318h7v7h-7zM1195 323h7v7h-7zM735 328h7v7h-7zM730 338h7v7h-7zM725 348h7v7h-7zM1195 348h7v7h-7zM720 358h7v7h-7zM1200 358h7v7h-7zM715 368h7v7h-7zM715 373h7v7h-7zM1210 373h7v7h-7zM1215 383h7v7h-7zM710 388h7v7h-7zM710 393h7v7h-7zM1220 393h7v7h-7zM1220 398h7v7h-7zM1225 408h7v7h-7zM705 413h7v7h-7zM1225 413h7v7h-7zM705 418h7v7h-7zM705 423h7v7h-7zM705 428h7v7h-7zM1230 428h7v7h-7zM700 448h7v7h-7zM700 453h7v7h-7zM1235 453h7v7h-7zM700 458h7v7h-7zM1235 458h7v7h-7zM700 463h7v7h-7zM1235 463h7v7h-7zM700 468h7v7h-7zM700 473h7v7h-7zM1230 473h7v7h-7zM700 478h7v7h-7zM1230 478h7v7h-7zM700 483h7v7h-7zM1225 483h7v7h-7zM700 488h7v7h-7zM1220 488h7v7h-7zM1215 493h7v7h-7zM895 498h7v7h-7zM900 498h7v7h-7zM905 498h7v7h-7zM930 498h7v7h-7zM935 498h7v7h-7zM940 498h7v7h-7zM1205 498h7v7h-7zM705 503h7v7h-7zM880 503h7v7h-7zM885 503h7v7h-7zM960 503h7v7h-7zM965 503h7v7h-7zM970 503h7v7h-7zM1055 503h7v7h-7zM1060 503h7v7h-7zM1065 503h7v7h-7zM1070 503h7v7h-7zM1075 503h7v7h-7zM1080 503h7v7h-7zM1085 503h7v7h-7zM1090 503h7v7h-7zM1095 503h7v7h-7zM1100 503h7v7h-7zM1105 503h7v7h-7zM1110 503h7v7h-7zM1115 503h7v7h-7zM1120 503h7v7h-7zM1125 503h7v7h-7zM1130 503h7v7h-7zM1175 503h7v7h-7zM1180 503h7v7h-7zM1185 503h7v7h-7zM710 508h7v7h-7zM870 508h7v7h-7zM715 513h7v7h-7zM855 513h7v7h-7zM720 518h7v7h-7zM835 518h7v7h-7zM840 518h7v7h-7zM730 523h7v7h-7zM805 523h7v7h-7zM810 523h7v7h-7zM745 528h7v7h-7zM750 528h7v7h-7zM755 528h7v7h-7zM760 528h7v7h-7zM765 528h7v7h-7zM770 528h7v7h-7zM775 528h7v7h-7zM780 528h7v7h-7z"/>
<path fill="#9797ff" d="M1120 128h7v7h-7zM1125 128h7v7h-7zM1130 128h7v7h-7zM1135 128h7v7h-7zM1140 128h7v7h-7zM1145 128h7v7h-7zM1150 128h7v7h-7zM1155 128h7v7h-7zM1160 128h7v7h-7zM1100 133h7v7h-7zM1105 133h7v7h-7zM1175 133h7v7h-7zM1090 138h7v7h-7zM1190 138h7v7h-7zM930 143h7v7h-7zM935 143h7v7h-7zM940 143h7v7h-7zM945 143h7v7h-7zM950 143h7v7h-7zM955 143h7v7h-7zM960 143h7v7h-7zM1075 143h7v7h-7zM1080 143h7v7h-7zM1200 143h7v7h-7zM920 148h7v7h-7zM925 148h7v7h-7zM930 148h7v7h-7zM935 148h7v7h-7zM940 148h7v7h-7zM945 148h7v7h-7zM950 148h7v7h-7zM955 148h7v7h-7zM960 148h7v7h-7zM965 148h7v7h-7zM970 148h7v7h-7zM1065 148h7v7h-7zM1070 148h7v7h-7zM1205 148h7v7h-7zM910 153h7v7h-7zM915 153h7v7h-7zM920 153h7v7h-7zM970 153h7v7h-7zM975 153h7v7h-7zM980 153h7v7h-7zM985 153h7v7h-7zM990 153h7v7h-7zM1050 153h7v7h-7zM1055 153h7v7h-7zM1060 153h7v7h-7zM905 158h7v7h-7zM910 158h7v7h-7zM995 158h7v7h-7zM1000 158h7v7h-7zM1005 158h7v7h-7zM1010 158h7v7h-7zM1015 158h7v7h-7zM1020 158h7v7h-7zM1025 158h7v7h-7zM1030 158h7v7h-7zM1035 158h7v7h-7zM1040 158h7v7h-7zM725 163h7v7h-7zM730 163h7v7h-7zM770 163h7v7h-7zM775 163h7v7h-7zM780 163h7v7h-7zM890 163h7v7h-7zM895 163h7v7h-7zM900 163h7v7h-7zM1220 163h7v7h-7zM720 168h7v7h-7zM805 168h7v7h-7zM810 168h7v7h-7zM815 168h7v7h-7zM875 168h7v7h-7zM880 168h7v7h-7zM885 168h7v7h-7zM1225 168h7v7h-7zM710 173h7v7h-7zM1230 178h7v7h-7zM705 183h7v7h-7zM1230 183h7v7h-7zM700 188h7v7h-7zM700 193h7v7h-7zM1235 208h7v7h-7zM700 218h7v7h-7zM700 223h7v7h-7zM705 233h7v7h-7zM710 243h7v7h-7zM1230 253h7v7h-7zM720 258h7v7h-7zM1230 258h7v7h-7zM725 263h7v7h-7zM730 268h7v7h-7zM735 273h7v7h-7zM1225 273h7v7h-7zM740 278h7v7h-7zM745 283h7v7h-7zM1220 283h7v7h-7zM745 288h7v7h-7zM1215 288h7v7h-7zM750 293h7v7h-7zM750 298h7v7h-7zM1210 298h7v7h-7zM750 303h7v7h-7zM1205 303h7v7h-7zM750 308h7v7h-7zM1200 308h7v7h-7zM745 313h7v7h-7zM745 318h7v7h-7zM1195 318h7v7h-7zM740 323h7v7h-7zM1190 323h7v7h-7zM740 328h7v7h-7zM1190 328h7v7h-7zM735 333h7v7h-7zM1190 333h7v7h-7zM1190 338h7v7h-7zM730 343h7v7h-7zM1190 343h7v7h-7zM725 353h7v7h-7zM1195 353h7v7h-7zM720 363h7v7h-7zM1200 363h7v7h-7zM1205 368h7v7h-7zM715 378h7v7h-7zM1210 378h7v7h-7zM715 383h7v7h-7zM1215 388h7v7h-7zM710 398h7v7h-7zM710 403h7v7h-7zM1220 403h7v7h-7zM710 408h7v7h-7zM1225 418h7v7h-7zM705 433h7v7h-7zM1230 433h7v7h-7zM705 438h7v7h-7zM1230 438h7v7h-7zM705 443h7v7h-7zM705 448h7v7h-7zM1230 468h7v7h-7zM1225 478h7v7h-7zM705 493h7v7h-7zM905 493h7v7h-7zM910 493h7v7h-7zM915 493h7v7h-7zM920 493h7v7h-7zM925 493h7v7h-7zM930 493h7v7h-7zM1210 493h7v7h-7zM705 498h7v7h-7zM890 498h7v7h-7zM945 498h7v7h-7zM950 498h7v7h-7zM955 498h7v7h-7zM1195 498h7v7h-7zM1200 498h7v7h-7zM710 503h7v7h-7zM875 503h7v7h-7zM975 503h7v7h-7zM980 503h7v7h-7zM985 503h7v7h-7zM990 503h7v7h-7zM995 503h7v7h-7zM1000 503h7v7h-7zM1005 503h7v7h-7zM1010 503h7v7h-7zM1015 503h7v7h-7zM1020 503h7v7h-7zM1025 503h7v7h-7zM1030 503h7v7h-7zM1035 503h7v7h-7zM1040 503h7v7h-7zM1045 503h7v7h-7zM1050 503h7v7h-7zM1135 503h7v7h-7zM1140 503h7v7h-7zM1145 503h7v7h-7zM1150 503h7v7h-7zM1155 503h7v7h-7zM1160 503h7v7h-7zM1165 503h7v7h-7zM1170 503h7v7h-7zM860 508h7v7h-7zM865 508h7v7h-7zM845 513h7v7h-7zM850 513h7v7h-7zM725 518h7v7h-7zM820 518h7v7h-7zM825 518h7v7h-7zM830 518h7v7h-7zM735 523h7v7h-7zM740 523h7v7h-7zM790 523h7v7h-7zM795 523h7v7h-7zM800 523h7v7h-7z"/>
<path fill="#9393ff" d="M1110 133h7v7h-7zM1115 133h7v7h-7zM1120 133h7v7h-7zM1160 133h7v7h-7zM1165 133h7v7h-7zM1170 133h7v7h-7zM1095 138h7v7h-7zM1100 138h7v7h-7zM1180 138h7v7h-7zM1185 138h7v7h-7zM1085 143h7v7h-7zM1090 143h7v7h-7zM1195 143h7v7h-7zM1075 148h7v7h-7zM1080 148h7v7h-7zM925 153h7v7h-7zM930 153h7v7h-7zM935 153h7v7h-7zM940 153h7v7h-7zM945 153h7v7h-7zM950 153h7v7h-7zM955 153h7v7h-7zM960 153h7v7h-7zM965 153h7v7h-7zM1065 153h7v7h-7zM1070 153h7v7h-7zM1210 153h7v7h-7zM915 158h7v7h-7zM920 158h7v7h-7zM925 158h7v7h-7zM970 158h7v7h-7zM975 158h7v7h-7zM980 158h7v7h-7zM985 158h7v7h-7zM990 158h7v7h-7zM1045 158h7v7h-7zM1050 158h7v7h-7zM1055 158h7v7h-7zM1215 158h7v7h-7zM735 163h7v7h-7zM740 163h7v7h-7zM745 163h7v7h-7zM750 163h7v7h-7zM755 163h7v7h-7zM760 163h7v7h-7zM765 163h7v7h-7zM905 163h7v7h-7zM910 163h7v7h-7zM1010 163h7v7h-7zM1015 163h7v7h-7zM1020 163h7v7h-7zM1025 163h7v7h-7zM725 168h7v7h-7zM795 168h7v7h-7zM800 168h7v7h-7zM890 168h7v7h-7zM895 168h7v7h-7zM715 173h7v7h-7zM835 173h7v7h-7zM840 173h7v7h-7zM845 173h7v7h-7zM850 173h7v7h-7zM855 173h7v7h-7zM860 173h7v7h-7zM865 173h7v7h-7zM870 173h7v7h-7zM1225 173h7v7h-7zM710 178h7v7h-7zM705 188h7v7h-7zM1230 188h7v7h-7zM1230 193h7v7h-7zM700 198h7v7h-7zM700 203h7v7h-7zM700 208h7v7h-7zM700 213h7v7h-7zM705 228h7v7h-7zM1230 233h7v7h-7zM710 238h7v7h-7zM1230 238h7v7h-7zM1230 243h7v7h-7zM715 248h7v7h-7zM1230 248h7v7h-7zM720 253h7v7h-7zM725 258h7v7h-7zM730 263h7v7h-7zM1225 263h7v7h-7zM735 268h7v7h-7zM1225 268h7v7h-7zM740 273h7v7h-7zM1220 278h7v7h-7zM750 288h7v7h-7zM1210 293h7v7h-7zM755 298h7v7h-7zM1205 298h7v7h-7zM755 303h7v7h-7zM750 313h7v7h-7zM1195 313h7v7h-7zM1190 318h7v7h-7zM745 323h7v7h-7zM1185 328h7v7h-7zM740 333h7v7h-7zM1185 333h7v7h-7zM735 338h7v7h-7zM1185 338h7v7h-7zM730 348h7v7h-7zM1190 348h7v7h-7zM725 358h7v7h-7zM1195 358h7v7h-7zM720 368h7v7h-7zM720 373h7v7h-7zM1205 373h7v7h-7zM1210 383h7v7h-7zM715 388h7v7h-7zM715 393h7v7h-7zM1215 393h7v7h-7zM1220 408h7v7h-7zM710 413h7v7h-7zM710 418h7v7h-7zM710 423h7v7h-7zM1225 423h7v7h-7zM710 428h7v7h-7zM1230 443h7v7h-7zM1230 448h7v7h-7zM705 453h7v7h-7zM1230 453h7v7h-7zM705 458h7v7h-7zM1230 458h7v7h-7zM705 463h7v7h-7zM1230 463h7v7h-7zM705 468h7v7h-7zM705 473h7v7h-7zM1225 473h7v7h-7zM705 478h7v7h-7zM705 483h7v7h-7zM1220 483h7v7h-7zM705 488h7v7h-7zM1215 488h7v7h-7zM895 493h7v7h-7zM900 493h7v7h-7zM935 493h7v7h-7zM940 493h7v7h-7zM1205 493h7v7h-7zM710 498h7v7h-7zM880 498h7v7h-7zM885 498h7v7h-7zM960 498h7v7h-7zM965 498h7v7h-7zM970 498h7v7h-7zM1185 498h7v7h-7zM1190 498h7v7h-7zM870 503h7v7h-7zM715 508h7v7h-7zM855 508h7v7h-7zM720 513h7v7h-7zM835 513h7v7h-7zM840 513h7v7h-7zM730 518h7v7h-7zM810 518h7v7h-7zM815 518h7v7h-7zM745 523h7v7h-7zM750 523h7v7h-7zM755 523h7v7h-7zM760 523h7v7h-7zM765 523h7v7h-7zM770 523h7v7h-7zM775 523h7v7h-7zM780 523h7v7h-7zM785 523h7v7h-7z"/>
<path fill="#8f8fff" d="M1125 133h7v7h-7zM1130 133h7v7h-7zM1135 133h7v7h-7zM1140 133h7v7h-7zM1145 133h7v7h-7zM1150 133h7v7h-7zM1155 133h7v7h-7zM1105 138h7v7h-7zM1110 138h7v7h-7zM1115 138h7v7h-7zM1175 138h7v7h-7zM1095 143h7v7h-7zM1100 143h7v7h-7zM1190 143h7v7h-7zM1085 148h7v7h-7zM1090 148h7v7h-7zM1200 148h7v7h-7zM1075 153h7v7h-7zM1080 153h7v7h-7zM1205 153h7v7h-7zM930 158h7v7h-7zM935 158h7v7h-7zM940 158h7v7h-7zM945 158h7v7h-7zM950 158h7v7h-7zM955 158h7v7h-7zM960 158h7v7h-7zM965 158h7v7h-7zM1060 158h7v7h-7zM1065 158h7v7h-7zM1070 158h7v7h-7zM1210 158h7v7h-7zM915 163h7v7h-7zM920 163h7v7h-7zM925 163h7v7h-7zM975 163h7v7h-7zM980 163h7v7h-7zM985 163h7v7h-7zM990 163h7v7h-7zM995 163h7v7h-7zM1000 163h7v7h-7zM1005 163h7v7h-7zM1030 163h7v7h-7zM1035 163h7v7h-7zM1040 163h7v7h-7zM1045 163h7v7h-7zM1050 163h7v7h-7zM1215 163h7v7h-7zM730 168h7v7h-7zM735 168h7v7h-7zM780 168h7v7h-7zM785 168h7v7h-7zM790 168h7v7h-7zM900 168h7v7h-7zM905 168h7v7h-7zM1220 168h7v7h-7zM720 173h7v7h-7zM820 173h7v7h-7zM825 173h7v7h-7zM830 173h7v7h-7zM875 173h7v7h-7zM880 173h7v7h-7zM885 173h7v7h-7zM890 173h7v7h-7zM715 178h7v7h-7zM1225 178h7v7h-7zM710 183h7v7h-7zM705 193h7v7h-7zM1230 198h7v7h-7zM1230 203h7v7h-7zM1230 208h7v7h-7zM1230 213h7v7h-7zM1230 218h7v7h-7zM705 223h7v7h-7zM1230 223h7v7h-7zM1230 228h7v7h-7zM710 233h7v7h-7zM715 243h7v7h-7zM1225 253h7v7h-7zM1225 258h7v7h-7zM1220 273h7v7h-7zM745 278h7v7h-7zM750 283h7v7h-7zM1215 283h7v7h-7zM755 288h7v7h-7zM1210 288h7v7h-7zM755 293h7v7h-7zM1200 303h7v7h-7zM755 308h7v7h-7zM1195 308h7v7h-7zM755 313h7v7h-7zM1190 313h7v7h-7zM750 318h7v7h-7zM1185 323h7v7h-7zM745 328h7v7h-7zM735 343h7v7h-7zM1185 343h7v7h-7zM1185 348h7v7h-7zM730 353h7v7h-7zM1190 353h7v7h-7zM725 363h7v7h-7zM1195 363h7v7h-7zM1200 368h7v7h-7zM720 378h7v7h-7zM1205 378h7v7h-7zM1210 388h7v7h-7zM715 398h7v7h-7zM1215 398h7v7h-7zM715 403h7v7h-7zM715 408h7v7h-7zM1220 413h7v7h-7zM1225 428h7v7h-7zM710 433h7v7h-7zM1225 433h7v7h-7zM710 438h7v7h-7zM710 443h7v7h-7zM710 448h7v7h-7zM710 453h7v7h-7zM1225 468h7v7h-7zM1220 478h7v7h-7zM710 483h7v7h-7zM1215 483h7v7h-7zM710 488h7v7h-7zM900 488h7v7h-7zM905 488h7v7h-7zM910 488h7v7h-7zM915 488h7v7h-7zM920 488h7v7h-7zM925 488h7v7h-7zM930 488h7v7h-7zM1210 488h7v7h-7zM710 493h7v7h-7zM885 493h7v7h-7zM890 493h7v7h-7zM945 493h7v7h-7zM950 493h7v7h-7zM955 493h7v7h-7zM1200 493h7v7h-7zM715 498h7v7h-7zM875 498h7v7h-7zM975 498h7v7h-7zM980 498h7v7h-7zM985 498h7v7h-7zM990 498h7v7h-7zM995 498h7v7h-7zM1000 498h7v7h-7zM1005 498h7v7h-7zM1010 498h7v7h-7zM1015 498h7v7h-7zM1020 498h7v7h-7zM1025 498h7v7h-7zM1030 498h7v7h-7zM1035 498h7v7h-7zM1040 498h7v7h-7zM1045 498h7v7h-7zM1050 498h7v7h-7zM1055 498h7v7h-7zM1060 498h7v7h-7zM1065 498h7v7h-7zM1070 498h7v7h-7zM1075 498h7v7h-7zM1080 498h7v7h-7zM1085 498h7v7h-7zM1090 498h7v7h-7zM1095 498h7v7h-7zM1100 498h7v7h-7zM1105 498h7v7h-7zM1110 498h7v7h-7zM1115 498h7v7h-7zM1120 498h7v7h-7zM1125 498h7v7h-7zM1130 498h7v7h-7zM1135 498h7v7h-7zM1140 498h7v7h-7zM1170 498h7v7h-7zM1175 498h7v7h-7zM1180 498h7v7h-7zM715 503h7v7h-7zM865 503h7v7h-7zM720 508h7v7h-7zM850 508h7v7h-7zM725 513h7v7h-7zM825 513h7v7h-7zM830 513h7v7h-7zM735 518h7v7h-7zM740 518h7v7h-7zM795 518h7v7h-7zM800 518h7v7h-7zM805 518h7v7h-7z"/>
<path fill="#8b8bff" d="M1120 138h7v7h-7zM1125 138h7v7h-7zM1130 138h7v7h-7zM1160 138h7v7h-7zM1165 138h7v7h-7zM1170 138h7v7h-7zM1105 143h7v7h-7zM1110 143h7v7h-7zM1180 143h7v7h-7zM1185 143h7v7h-7zM1095 148h7v7h-7zM1100 148h7v7h-7zM1195 148h7v7h-7zM1085 153h7v7h-7zM1090 153h7v7h-7zM1200 153h7v7h-7zM1075 158h7v7h-7zM930 163h7v7h-7zM935 163h7v7h-7zM940 163h7v7h-7zM945 163h7v7h-7zM950 163h7v7h-7zM955 163h7v7h-7zM960 163h7v7h-7zM965 163h7v7h-7zM970 163h7v7h-7zM1055 163h7v7h-7zM1060 163h7v7h-7zM1065 163h7v7h-7zM740 168h7v7h-7zM745 168h7v7h-7zM750 168h7v7h-7zM755 168h7v7h-7zM760 168h7v7h-7zM765 168h7v7h-7zM770 168h7v7h-7zM775 168h7v7h-7zM910 168h7v7h-7zM915 168h7v7h-7zM920 168h7v7h-7zM995 168h7v7h-7zM1000 168h7v7h-7zM1005 168h7v7h-7zM1010 168h7v7h-7zM1015 168h7v7h-7zM1020 168h7v7h-7zM1025 168h7v7h-7zM1030 168h7v7h-7zM1035 168h7v7h-7zM1040 168h7v7h-7zM725 173h7v7h-7zM805 173h7v7h-7zM810 173h7v7h-7zM815 173h7v7h-7zM895 173h7v7h-7zM900 173h7v7h-7zM1220 173h7v7h-7zM720 178h7v7h-7zM855 178h7v7h-7zM860 178h7v7h-7zM865 178h7v7h-7zM870 178h7v7h-7zM715 183h7v7h-7zM1225 183h7v7h-7zM710 188h7v7h-7zM1225 188h7v7h-7zM705 198h7v7h-7zM705 203h7v7h-7zM705 208h7v7h-7zM705 213h7v7h-7zM705 218h7v7h-7zM710 228h7v7h-7zM715 238h7v7h-7zM1225 243h7v7h-7zM720 248h7v7h-7zM1225 248h7v7h-7zM725 253h7v7h-7zM730 258h7v7h-7zM735 263h7v7h-7zM740 268h7v7h-7zM1220 268h7v7h-7zM745 273h7v7h-7zM750 278h7v7h-7zM1215 278h7v7h-7zM755 283h7v7h-7zM760 293h7v7h-7zM1205 293h7v7h-7zM760 298h7v7h-7zM1200 298h7v7h-7zM760 303h7v7h-7zM1195 303h7v7h-7zM760 308h7v7h-7zM755 318h7v7h-7zM1185 318h7v7h-7zM750 323h7v7h-7zM1180 323h7v7h-7zM1180 328h7v7h-7zM745 333h7v7h-7zM1180 333h7v7h-7zM740 338h7v7h-7zM1180 338h7v7h-7zM1180 343h7v7h-7zM735 348h7v7h-7zM1185 353h7v7h-7zM730 358h7v7h-7zM1190 358h7v7h-7zM725 368h7v7h-7zM725 373h7v7h-7zM1200 373h7v7h-7zM720 383h7v7h-7zM720 388h7v7h-7zM720 393h7v7h-7zM1215 403h7v7h-7zM715 413h7v7h-7zM715 418h7v7h-7zM1220 418h7v7h-7zM715 423h7v7h-7zM1220 423h7v7h-7zM715 428h7v7h-7zM1225 438h7v7h-7zM1225 443h7v7h-7zM1225 448h7v7h-7zM1225 453h7v7h-7zM710 458h7v7h-7zM1225 458h7v7h-7zM710 463h7v7h-7zM1225 463h7v7h-7zM710 468h7v7h-7zM710 473h7v7h-7zM1220 473h7v7h-7zM710 478h7v7h-7zM895 488h7v7h-7zM935 488h7v7h-7zM940 488h7v7h-7zM1205 488h7v7h-7zM715 493h7v7h-7zM880 493h7v7h-7zM960 493h7v7h-7zM965 493h7v7h-7zM1190 493h7v7h-7zM1195 493h7v7h-7zM870 498h7v7h-7zM1145 498h7v7h-7zM1150 498h7v7h-7zM1155 498h7v7h-7zM1160 498h7v7h-7zM1165 498h7v7h-7zM720 503h7v7h-7zM855 503h7v7h-7zM860 503h7v7h-7zM725 508h7v7h-7zM840 508h7v7h-7zM845 508h7v7h-7zM730 513h7v7h-7zM735 513h7v7h-7zM815 513h7v7h-7zM820 513h7v7h-7zM745 518h7v7h-7zM750 518h7v7h-7zM755 518h7v7h-7zM775 518h7v7h-7zM780 518h7v7h-7zM785 518h7v7h-7zM790 518h7v7h-7z"/>
<path fill="#8787ff" d="M1135 138h7v7h-7zM1140 138h7v7h-7zM1145 138h7v7h-7zM1150 138h7v7h-7zM1155 138h7v7h-7zM1115 143h7v7h-7zM1120 143h7v7h-7zM1175 143h7v7h-7zM1105 148h7v7h-7zM1190 148h7v7h-7zM1095 153h7v7h-7zM1080 158h7v7h-7zM1085 158h7v7h-7zM1205 158h7v7h-7zM1070 163h7v7h-7zM1075 163h7v7h-7zM1210 163h7v7h-7zM925 168h7v7h-7zM930 168h7v7h-7zM935 168h7v7h-7zM940 168h7v7h-7zM945 168h7v7h-7zM950 168h7v7h-7zM955 168h7v7h-7zM960 168h7v7h-7zM965 168h7v7h-7zM970 168h7v7h-7zM975 168h7v7h-7zM980 168h7v7h-7zM985 168h7v7h-7zM990 168h7v7h-7zM1045 168h7v7h-7zM1050 168h7v7h-7zM1055 168h7v7h-7zM1060 168h7v7h-7zM1215 168h7v7h-7zM730 173h7v7h-7zM735 173h7v7h-7zM790 173h7v7h-7zM795 173h7v7h-7zM800 173h7v7h-7zM905 173h7v7h-7zM910 173h7v7h-7zM915 173h7v7h-7zM725 178h7v7h-7zM835 178h7v7h-7zM840 178h7v7h-7zM845 178h7v7h-7zM850 178h7v7h-7zM875 178h7v7h-7zM880 178h7v7h-7zM885 178h7v7h-7zM890 178h7v7h-7zM895 178h7v7h-7zM1220 178h7v7h-7zM710 193h7v7h-7zM1225 193h7v7h-7zM710 198h7v7h-7zM1225 198h7v7h-7zM1225 203h7v7h-7zM1225 208h7v7h-7zM1225 213h7v7h-7zM1225 218h7v7h-7zM710 223h7v7h-7zM1225 223h7v7h-7zM1225 228h7v7h-7zM715 233h7v7h-7zM1225 233h7v7h-7zM1225 238h7v7h-7zM720 243h7v7h-7zM725 248h7v7h-7zM730 253h7v7h-7zM735 258h7v7h-7zM1220 258h7v7h-7zM740 263h7v7h-7zM1220 263h7v7h-7zM745 268h7v7h-7zM750 273h7v7h-7zM1215 273h7v7h-7zM755 278h7v7h-7zM1210 283h7v7h-7zM760 288h7v7h-7zM1205 288h7v7h-7zM765 298h7v7h-7zM765 303h7v7h-7zM1190 308h7v7h-7zM760 313h7v7h-7zM1185 313h7v7h-7zM1180 318h7v7h-7zM755 323h7v7h-7zM750 328h7v7h-7zM1175 328h7v7h-7zM1175 333h7v7h-7zM745 338h7v7h-7zM1175 338h7v7h-7zM740 343h7v7h-7zM1180 348h7v7h-7zM735 353h7v7h-7zM730 363h7v7h-7zM1190 363h7v7h-7zM1195 368h7v7h-7zM725 378h7v7h-7zM1205 383h7v7h-7zM1210 393h7v7h-7zM720 398h7v7h-7zM720 403h7v7h-7zM720 408h7v7h-7zM1215 408h7v7h-7zM1220 428h7v7h-7zM715 433h7v7h-7zM715 438h7v7h-7zM715 443h7v7h-7zM715 448h7v7h-7zM715 453h7v7h-7zM715 458h7v7h-7zM715 463h7v7h-7zM715 468h7v7h-7zM1220 468h7v7h-7zM715 473h7v7h-7zM715 478h7v7h-7zM1215 478h7v7h-7zM715 483h7v7h-7zM900 483h7v7h-7zM905 483h7v7h-7zM910 483h7v7h-7zM915 483h7v7h-7zM920 483h7v7h-7zM925 483h7v7h-7zM930 483h7v7h-7zM1210 483h7v7h-7zM715 488h7v7h-7zM885 488h7v7h-7zM890 488h7v7h-7zM945 488h7v7h-7zM950 488h7v7h-7zM1200 488h7v7h-7zM875 493h7v7h-7zM970 493h7v7h-7zM975 493h7v7h-7zM980 493h7v7h-7zM1030 493h7v7h-7zM1035 493h7v7h-7zM1040 493h7v7h-7zM1045 493h7v7h-7zM1050 493h7v7h-7zM1055 493h7v7h-7zM1060 493h7v7h-7zM1065 493h7v7h-7zM1070 493h7v7h-7zM1075 493h7v7h-7zM1080 493h7v7h-7zM1085 493h7v7h-7zM1090 493h7v7h-7zM1095 493h7v7h-7zM1100 493h7v7h-7zM1105 493h7v7h-7zM1110 493h7v7h-7zM1115 493h7v7h-7zM1180 493h7v7h-7zM1185 493h7v7h-7zM720 498h7v7h-7zM865 498h7v7h-7zM725 503h7v7h-7zM850 503h7v7h-7zM730 508h7v7h-7zM830 508h7v7h-7zM835 508h7v7h-7zM740 513h7v7h-7zM800 513h7v7h-7zM805 513h7v7h-7zM810 513h7v7h-7zM760 518h7v7h-7zM765 518h7v7h-7zM770 518h7v7h-7z"/>
<path fill="#8383ff" d="M1125 143h7v7h-7zM1130 143h7v7h-7zM1135 143h7v7h-7zM1160 143h7v7h-7zM1165 143h7v7h-7zM1170 143h7v7h-7zM1110 148h7v7h-7zM1115 148h7v7h-7zM1180 148h7v7h-7zM1185 148h7v7h-7zM1100 153h7v7h-7zM1105 153h7v7h-7zM1195 153h7v7h-7zM1090 158h7v7h-7zM1095 158h7v7h-7zM1200 158h7v7h-7zM1080 163h7v7h-7zM1085 163h7v7h-7zM1205 163h7v7h-7zM1065 168h7v7h-7zM1070 168h7v7h-7zM1210 168h7v7h-7zM740 173h7v7h-7zM745 173h7v7h-7zM775 173h7v7h-7zM780 173h7v7h-7zM785 173h7v7h-7zM920 173h7v7h-7zM925 173h7v7h-7zM930 173h7v7h-7zM935 173h7v7h-7zM990 173h7v7h-7zM995 173h7v7h-7zM1000 173h7v7h-7zM1005 173h7v7h-7zM1010 173h7v7h-7zM1015 173h7v7h-7zM1020 173h7v7h-7zM1025 173h7v7h-7zM1030 173h7v7h-7zM1035 173h7v7h-7zM1040 173h7v7h-7zM1045 173h7v7h-7zM1215 173h7v7h-7zM730 178h7v7h-7zM820 178h7v7h-7zM825 178h7v7h-7zM830 178h7v7h-7zM900 178h7v7h-7zM905 178h7v7h-7zM720 183h7v7h-7zM1220 183h7v7h-7zM715 188h7v7h-7zM715 193h7v7h-7zM710 203h7v7h-7zM710 208h7v7h-7zM710 213h7v7h-7zM710 218h7v7h-7zM715 228h7v7h-7zM720 238h7v7h-7zM1220 248h7v7h-7zM1220 253h7v7h-7zM1215 268h7v7h-7zM1210 278h7v7h-7zM760 283h7v7h-7zM765 288h7v7h-7zM765 293h7v7h-7zM1200 293h7v7h-7zM1195 298h7v7h-7zM1190 303h7v7h-7zM765 308h7v7h-7zM1185 308h7v7h-7zM765 313h7v7h-7zM1180 313h7v7h-7zM760 318h7v7h-7zM1175 318h7v7h-7zM1175 323h7v7h-7zM755 328h7v7h-7zM1170 328h7v7h-7zM750 333h7v7h-7zM1170 333h7v7h-7zM1170 338h7v7h-7zM1175 343h7v7h-7zM740 348h7v7h-7zM1175 348h7v7h-7zM1180 353h7v7h-7zM735 358h7v7h-7zM1185 358h7v7h-7zM730 368h7v7h-7zM1195 373h7v7h-7zM1200 378h7v7h-7zM725 383h7v7h-7zM725 388h7v7h-7zM1205 388h7v7h-7zM1210 398h7v7h-7zM1210 403h7v7h-7zM720 413h7v7h-7zM1215 413h7v7h-7zM720 418h7v7h-7zM1215 418h7v7h-7zM720 423h7v7h-7zM720 428h7v7h-7zM1220 433h7v7h-7zM1220 438h7v7h-7zM1220 443h7v7h-7zM1220 448h7v7h-7zM1220 453h7v7h-7zM1220 458h7v7h-7zM1220 463h7v7h-7zM1215 473h7v7h-7zM1210 478h7v7h-7zM890 483h7v7h-7zM895 483h7v7h-7zM935 483h7v7h-7zM940 483h7v7h-7zM1205 483h7v7h-7zM720 488h7v7h-7zM880 488h7v7h-7zM955 488h7v7h-7zM960 488h7v7h-7zM1195 488h7v7h-7zM720 493h7v7h-7zM870 493h7v7h-7zM985 493h7v7h-7zM990 493h7v7h-7zM995 493h7v7h-7zM1000 493h7v7h-7zM1005 493h7v7h-7zM1010 493h7v7h-7zM1015 493h7v7h-7zM1020 493h7v7h-7zM1025 493h7v7h-7zM1120 493h7v7h-7zM1125 493h7v7h-7zM1130 493h7v7h-7zM1135 493h7v7h-7zM1140 493h7v7h-7zM1145 493h7v7h-7zM1150 493h7v7h-7zM1155 493h7v7h-7zM1160 493h7v7h-7zM1165 493h7v7h-7zM1170 493h7v7h-7zM1175 493h7v7h-7zM725 498h7v7h-7zM860 498h7v7h-7zM730 503h7v7h-7zM840 503h7v7h-7zM845 503h7v7h-7zM735 508h7v7h-7zM820 508h7v7h-7zM825 508h7v7h-7zM745 513h7v7h-7zM750 513h7v7h-7zM755 513h7v7h-7zM760 513h7v7h-7zM780 513h7v7h-7zM785 513h7v7h-7zM790 513h7v7h-7zM795 513h7v7h-7z"/>
<path fill="#8080ff" d="M1140 143h7v7h-7zM1145 143h7v7h-7zM1150 143h7v7h-7zM1155 143h7v7h-7zM1120 148h7v7h-7zM1125 148h7v7h-7zM1175 148h7v7h-7zM1110 153h7v7h-7zM1190 153h7v7h-7zM1100 158h7v7h-7zM1195 158h7v7h-7zM1090 163h7v7h-7zM1075 168h7v7h-7zM1080 168h7v7h-7zM750 173h7v7h-7zM755 173h7v7h-7zM760 173h7v7h-7zM765 173h7v7h-7zM770 173h7v7h-7zM940 173h7v7h-7zM945 173h7v7h-7zM950 173h7v7h-7zM955 173h7v7h-7zM960 173h7v7h-7zM965 173h7v7h-7zM970 173h7v7h-7zM975 173h7v7h-7zM980 173h7v7h-7zM985 173h7v7h-7zM1050 173h7v7h-7zM1055 173h7v7h-7zM1060 173h7v7h-7zM1065 173h7v7h-7zM735 178h7v7h-7zM805 178h7v7h-7zM810 178h7v7h-7zM815 178h7v7h-7zM910 178h7v7h-7zM915 178h7v7h-7zM920 178h7v7h-7zM1215 178h7v7h-7zM725 183h7v7h-7zM850 183h7v7h-7zM855 183h7v7h-7zM860 183h7v7h-7zM865 183h7v7h-7zM870 183h7v7h-7zM875 183h7v7h-7zM880 183h7v7h-7zM885 183h7v7h-7zM890 183h7v7h-7zM895 183h7v7h-7zM720 188h7v7h-7zM1220 188h7v7h-7zM1220 193h7v7h-7zM715 198h7v7h-7zM1220 198h7v7h-7zM715 223h7v7h-7zM1220 228h7v7h-7zM720 233h7v7h-7zM1220 233h7v7h-7zM1220 238h7v7h-7zM725 243h7v7h-7zM1220 243h7v7h-7zM730 248h7v7h-7zM735 253h7v7h-7zM740 258h7v7h-7zM1215 258h7v7h-7zM745 263h7v7h-7zM1215 263h7v7h-7zM750 268h7v7h-7zM755 273h7v7h-7zM1210 273h7v7h-7zM760 278h7v7h-7zM765 283h7v7h-7zM1205 283h7v7h-7zM1200 288h7v7h-7zM770 293h7v7h-7zM1195 293h7v7h-7zM770 298h7v7h-7zM770 303h7v7h-7zM770 308h7v7h-7zM765 318h7v7h-7zM760 323h7v7h-7zM1170 323h7v7h-7zM755 333h7v7h-7zM1165 333h7v7h-7zM750 338h7v7h-7zM745 343h7v7h-7zM1170 343h7v7h-7zM740 353h7v7h-7zM1175 353h7v7h-7zM1180 358h7v7h-7zM735 363h7v7h-7zM1185 363h7v7h-7zM1190 368h7v7h-7zM730 373h7v7h-7zM730 378h7v7h-7zM1200 383h7v7h-7zM725 393h7v7h-7zM1205 393h7v7h-7zM725 398h7v7h-7zM725 403h7v7h-7zM1210 408h7v7h-7zM1215 423h7v7h-7zM720 433h7v7h-7zM720 438h7v7h-7zM720 443h7v7h-7zM720 448h7v7h-7zM720 453h7v7h-7zM720 458h7v7h-7zM720 463h7v7h-7zM720 468h7v7h-7zM1215 468h7v7h-7zM720 473h7v7h-7zM720 478h7v7h-7zM900 478h7v7h-7zM905 478h7v7h-7zM910 478h7v7h-7zM915 478h7v7h-7zM920 478h7v7h-7zM925 478h7v7h-7zM720 483h7v7h-7zM885 483h7v7h-7zM945 483h7v7h-7zM1200 483h7v7h-7zM725 488h7v7h-7zM875 488h7v7h-7zM965 488h7v7h-7zM970 488h7v7h-7zM1055 488h7v7h-7zM1060 488h7v7h-7zM1065 488h7v7h-7zM1070 488h7v7h-7zM1075 488h7v7h-7zM1080 488h7v7h-7zM1085 488h7v7h-7zM1090 488h7v7h-7zM1190 488h7v7h-7zM725 493h7v7h-7zM865 493h7v7h-7zM730 498h7v7h-7zM850 498h7v7h-7zM855 498h7v7h-7zM735 503h7v7h-7zM835 503h7v7h-7zM740 508h7v7h-7zM745 508h7v7h-7zM805 508h7v7h-7zM810 508h7v7h-7zM815 508h7v7h-7zM765 513h7v7h-7zM770 513h7v7h-7zM775 513h7v7h-7z"/>
<path fill="#7c7cff" d="M1130 148h7v7h-7zM1135 148h7v7h-7zM1140 148h7v7h-7zM1145 148h7v7h-7zM1150 148h7v7h-7zM1155 148h7v7h-7zM1160 148h7v7h-7zM1165 148h7v7h-7zM1170 148h7v7h-7zM1115 153h7v7h-7zM1120 153h7v7h-7zM1180 153h7v7h-7zM1185 153h7v7h-7zM1105 158h7v7h-7zM1110 158h7v7h-7zM1095 163h7v7h-7zM1100 163h7v7h-7zM1200 163h7v7h-7zM1085 168h7v7h-7zM1090 168h7v7h-7zM1205 168h7v7h-7zM1070 173h7v7h-7zM1075 173h7v7h-7zM1210 173h7v7h-7zM740 178h7v7h-7zM745 178h7v7h-7zM790 178h7v7h-7zM795 178h7v7h-7zM800 178h7v7h-7zM925 178h7v7h-7zM930 178h7v7h-7zM935 178h7v7h-7zM940 178h7v7h-7zM995 178h7v7h-7zM1000 178h7v7h-7zM1005 178h7v7h-7zM1010 178h7v7h-7zM1015 178h7v7h-7zM1020 178h7v7h-7zM1025 178h7v7h-7zM1030 178h7v7h-7zM1035 178h7v7h-7zM1040 178h7v7h-7zM1045 178h7v7h-7zM1050 178h7v7h-7zM730 183h7v7h-7zM835 183h7v7h-7zM840 183h7v7h-7zM845 183h7v7h-7zM900 183h7v7h-7zM905 183h7v7h-7zM910 183h7v7h-7zM1215 183h7v7h-7zM725 188h7v7h-7zM720 193h7v7h-7zM715 203h7v7h-7zM1220 203h7v7h-7zM715 208h7v7h-7zM1220 208h7v7h-7zM715 213h7v7h-7zM1220 213h7v7h-7zM715 218h7v7h-7zM1220 218h7v7h-7zM1220 223h7v7h-7zM720 228h7v7h-7zM725 238h7v7h-7zM1215 253h7v7h-7zM750 263h7v7h-7zM755 268h7v7h-7zM1210 268h7v7h-7zM760 273h7v7h-7zM765 278h7v7h-7zM1205 278h7v7h-7zM770 283h7v7h-7zM770 288h7v7h-7zM775 298h7v7h-7zM1190 298h7v7h-7zM1185 303h7v7h-7zM1180 308h7v7h-7zM770 313h7v7h-7zM1175 313h7v7h-7zM1170 318h7v7h-7zM765 323h7v7h-7zM1165 323h7v7h-7zM760 328h7v7h-7zM1165 328h7v7h-7zM1165 338h7v7h-7zM750 343h7v7h-7zM1165 343h7v7h-7zM745 348h7v7h-7zM1170 348h7v7h-7zM740 358h7v7h-7zM735 368h7v7h-7zM1190 373h7v7h-7zM1195 378h7v7h-7zM730 383h7v7h-7zM1200 388h7v7h-7zM1205 398h7v7h-7zM725 408h7v7h-7zM725 413h7v7h-7zM1210 413h7v7h-7zM725 418h7v7h-7zM725 423h7v7h-7zM1215 428h7v7h-7zM1215 433h7v7h-7zM1215 438h7v7h-7zM1215 458h7v7h-7zM1215 463h7v7h-7zM1210 473h7v7h-7zM725 478h7v7h-7zM890 478h7v7h-7zM895 478h7v7h-7zM930 478h7v7h-7zM935 478h7v7h-7zM1205 478h7v7h-7zM725 483h7v7h-7zM880 483h7v7h-7zM950 483h7v7h-7zM955 483h7v7h-7zM1195 483h7v7h-7zM870 488h7v7h-7zM975 488h7v7h-7zM980 488h7v7h-7zM985 488h7v7h-7zM990 488h7v7h-7zM995 488h7v7h-7zM1000 488h7v7h-7zM1005 488h7v7h-7zM1010 488h7v7h-7zM1015 488h7v7h-7zM1020 488h7v7h-7zM1025 488h7v7h-7zM1030 488h7v7h-7zM1035 488h7v7h-7zM1040 488h7v7h-7zM1045 488h7v7h-7zM1050 488h7v7h-7zM1095 488h7v7h-7zM1100 488h7v7h-7zM1105 488h7v7h-7zM1110 488h7v7h-7zM1115 488h7v7h-7zM1120 488h7v7h-7zM1125 488h7v7h-7zM1180 488h7v7h-7zM1185 488h7v7h-7zM730 493h7v7h-7zM860 493h7v7h-7zM735 498h7v7h-7zM845 498h7v7h-7zM740 503h7v7h-7zM825 503h7v7h-7zM830 503h7v7h-7zM750 508h7v7h-7zM755 508h7v7h-7zM760 508h7v7h-7zM765 508h7v7h-7zM780 508h7v7h-7zM785 508h7v7h-7zM790 508h7v7h-7zM795 508h7v7h-7zM800 508h7v7h-7z"/>
<path fill="#7878ff" d="M1125 153h7v7h-7zM1130 153h7v7h-7zM1175 153h7v7h-7zM1115 158h7v7h-7zM1190 158h7v7h-7zM1105 163h7v7h-7zM1195 163h7v7h-7zM1095 168h7v7h-7zM1080 173h7v7h-7zM1085 173h7v7h-7zM1205 173h7v7h-7zM750 178h7v7h-7zM755 178h7v7h-7zM760 178h7v7h-7zM765 178h7v7h-7zM770 178h7v7h-7zM775 178h7v7h-7zM780 178h7v7h-7zM785 178h7v7h-7zM945 178h7v7h-7zM950 178h7v7h-7zM955 178h7v7h-7zM960 178h7v7h-7zM965 178h7v7h-7zM970 178h7v7h-7zM975 178h7v7h-7zM980 178h7v7h-7zM985 178h7v7h-7zM990 178h7v7h-7zM1055 178h7v7h-7zM1060 178h7v7h-7zM1065 178h7v7h-7zM1210 178h7v7h-7zM735 183h7v7h-7zM820 183h7v7h-7zM825 183h7v7h-7zM830 183h7v7h-7zM915 183h7v7h-7zM920 183h7v7h-7zM865 188h7v7h-7zM870 188h7v7h-7zM875 188h7v7h-7zM880 188h7v7h-7zM885 188h7v7h-7zM890 188h7v7h-7zM1215 188h7v7h-7zM725 193h7v7h-7zM1215 193h7v7h-7zM720 198h7v7h-7zM720 203h7v7h-7zM720 223h7v7h-7zM725 233h7v7h-7zM1215 238h7v7h-7zM730 243h7v7h-7zM1215 243h7v7h-7zM735 248h7v7h-7zM1215 248h7v7h-7zM740 253h7v7h-7zM745 258h7v7h-7zM1210 263h7v7h-7zM1205 273h7v7h-7zM1200 283h7v7h-7zM775 288h7v7h-7zM1195 288h7v7h-7zM775 293h7v7h-7zM1190 293h7v7h-7zM1185 298h7v7h-7zM775 303h7v7h-7zM1180 303h7v7h-7zM775 308h7v7h-7zM1175 308h7v7h-7zM1170 313h7v7h-7zM770 318h7v7h-7zM1165 318h7v7h-7zM1160 323h7v7h-7zM1160 328h7v7h-7zM760 333h7v7h-7zM1160 333h7v7h-7zM755 338h7v7h-7zM1160 338h7v7h-7zM1160 343h7v7h-7zM1165 348h7v7h-7zM745 353h7v7h-7zM1170 353h7v7h-7zM1175 358h7v7h-7zM740 363h7v7h-7zM1180 363h7v7h-7zM1185 368h7v7h-7zM735 373h7v7h-7zM1195 383h7v7h-7zM730 388h7v7h-7zM730 393h7v7h-7zM1200 393h7v7h-7zM730 398h7v7h-7zM1205 403h7v7h-7zM1210 418h7v7h-7zM1210 423h7v7h-7zM725 428h7v7h-7zM725 433h7v7h-7zM725 438h7v7h-7zM725 443h7v7h-7zM1215 443h7v7h-7zM725 448h7v7h-7zM1215 448h7v7h-7zM725 453h7v7h-7zM1215 453h7v7h-7zM725 458h7v7h-7zM725 463h7v7h-7zM725 468h7v7h-7zM1210 468h7v7h-7zM725 473h7v7h-7zM900 473h7v7h-7zM905 473h7v7h-7zM910 473h7v7h-7zM915 473h7v7h-7zM920 473h7v7h-7zM1205 473h7v7h-7zM885 478h7v7h-7zM940 478h7v7h-7zM1200 478h7v7h-7zM730 483h7v7h-7zM875 483h7v7h-7zM960 483h7v7h-7zM965 483h7v7h-7zM1190 483h7v7h-7zM730 488h7v7h-7zM865 488h7v7h-7zM1130 488h7v7h-7zM1135 488h7v7h-7zM1140 488h7v7h-7zM1145 488h7v7h-7zM1150 488h7v7h-7zM1155 488h7v7h-7zM1160 488h7v7h-7zM1165 488h7v7h-7zM1170 488h7v7h-7zM1175 488h7v7h-7zM735 493h7v7h-7zM855 493h7v7h-7zM740 498h7v7h-7zM840 498h7v7h-7zM745 503h7v7h-7zM750 503h7v7h-7zM810 503h7v7h-7zM815 503h7v7h-7zM820 503h7v7h-7zM770 508h7v7h-7zM775 508h7v7h-7z"/>
<path fill="#7474ff" d="M1135 153h7v7h-7zM1140 153h7v7h-7zM1145 153h7v7h-7zM1150 153h7v7h-7zM1155 153h7v7h-7zM1160 153h7v7h-7zM1165 153h7v7h-7zM1170 153h7v7h-7zM1120 158h7v7h-7zM1125 158h7v7h-7zM1180 158h7v7h-7zM1185 158h7v7h-7zM1110 163h7v7h-7zM1115 163h7v7h-7zM1190 163h7v7h-7zM1100 168h7v7h-7zM1105 168h7v7h-7zM1200 168h7v7h-7zM1090 173h7v7h-7zM1070 178h7v7h-7zM1075 178h7v7h-7zM1080 178h7v7h-7zM740 183h7v7h-7zM745 183h7v7h-7zM810 183h7v7h-7zM815 183h7v7h-7zM925 183h7v7h-7zM930 183h7v7h-7zM935 183h7v7h-7zM1015 183h7v7h-7zM1020 183h7v7h-7zM1025 183h7v7h-7zM1030 183h7v7h-7zM1035 183h7v7h-7zM1040 183h7v7h-7zM1045 183h7v7h-7zM1210 183h7v7h-7zM730 188h7v7h-7zM850 188h7v7h-7zM855 188h7v7h-7zM860 188h7v7h-7zM895 188h7v7h-7zM900 188h7v7h-7zM905 188h7v7h-7zM725 198h7v7h-7zM1215 198h7v7h-7zM1215 203h7v7h-7zM720 208h7v7h-7zM1215 208h7v7h-7zM720 213h7v7h-7zM1215 213h7v7h-7zM720 218h7v7h-7zM1215 218h7v7h-7zM1215 223h7v7h-7zM725 228h7v7h-7zM1215 228h7v7h-7zM1215 233h7v7h-7zM730 238h7v7h-7zM735 243h7v7h-7zM740 248h7v7h-7zM745 253h7v7h-7zM1210 253h7v7h-7zM750 258h7v7h-7zM1210 258h7v7h-7zM755 263h7v7h-7zM760 268h7v7h-7zM1205 268h7v7h-7zM765 273h7v7h-7zM770 278h7v7h-7zM1200 278h7v7h-7zM775 283h7v7h-7zM1195 283h7v7h-7zM780 293h7v7h-7zM780 298h7v7h-7zM780 303h7v7h-7zM1175 303h7v7h-7zM1170 308h7v7h-7zM775 313h7v7h-7zM1165 313h7v7h-7zM1160 318h7v7h-7zM770 323h7v7h-7zM765 328h7v7h-7zM1155 328h7v7h-7zM1155 333h7v7h-7zM1155 338h7v7h-7zM755 343h7v7h-7zM1155 343h7v7h-7zM750 348h7v7h-7zM1160 348h7v7h-7zM1165 353h7v7h-7zM745 358h7v7h-7zM1170 358h7v7h-7zM1175 363h7v7h-7zM740 368h7v7h-7zM1180 368h7v7h-7zM1185 373h7v7h-7zM735 378h7v7h-7zM1190 378h7v7h-7zM735 383h7v7h-7zM730 403h7v7h-7zM730 408h7v7h-7zM1205 408h7v7h-7zM730 413h7v7h-7zM730 418h7v7h-7zM1210 428h7v7h-7zM1210 433h7v7h-7zM1210 458h7v7h-7zM730 463h7v7h-7zM1210 463h7v7h-7zM730 468h7v7h-7zM730 473h7v7h-7zM895 473h7v7h-7zM925 473h7v7h-7zM930 473h7v7h-7zM730 478h7v7h-7zM880 478h7v7h-7zM945 478h7v7h-7zM950 478h7v7h-7zM1195 478h7v7h-7zM870 483h7v7h-7zM970 483h7v7h-7zM975 483h7v7h-7zM1040 483h7v7h-7zM1045 483h7v7h-7zM1050 483h7v7h-7zM1055 483h7v7h-7zM1060 483h7v7h-7zM1065 483h7v7h-7zM1070 483h7v7h-7zM1075 483h7v7h-7zM1080 483h7v7h-7zM1085 483h7v7h-7zM1090 483h7v7h-7zM1095 483h7v7h-7zM1100 483h7v7h-7zM1105 483h7v7h-7zM1110 483h7v7h-7zM1185 483h7v7h-7zM735 488h7v7h-7zM860 488h7v7h-7zM740 493h7v7h-7zM850 493h7v7h-7zM745 498h7v7h-7zM830 498h7v7h-7zM835 498h7v7h-7zM755 503h7v7h-7zM760 503h7v7h-7zM765 503h7v7h-7zM770 503h7v7h-7zM775 503h7v7h-7zM785 503h7v7h-7zM790 503h7v7h-7zM795 503h7v7h-7zM800 503h7v7h-7zM805 503h7v7h-7z"/>
<path fill="#7070ff" d="M1130 158h7v7h-7zM1135 158h7v7h-7zM1175 158h7v7h-7zM1120 163h7v7h-7zM1185 163h7v7h-7zM1110 168h7v7h-7zM1195 168h7v7h-7zM1095 173h7v7h-7zM1100 173h7v7h-7zM1200 173h7v7h-7zM1085 178h7v7h-7zM1205 178h7v7h-7zM750 183h7v7h-7zM755 183h7v7h-7zM795 183h7v7h-7zM800 183h7v7h-7zM805 183h7v7h-7zM940 183h7v7h-7zM945 183h7v7h-7zM950 183h7v7h-7zM955 183h7v7h-7zM960 183h7v7h-7zM965 183h7v7h-7zM970 183h7v7h-7zM975 183h7v7h-7zM980 183h7v7h-7zM985 183h7v7h-7zM990 183h7v7h-7zM995 183h7v7h-7zM1000 183h7v7h-7zM1005 183h7v7h-7zM1010 183h7v7h-7zM1050 183h7v7h-7zM1055 183h7v7h-7zM1060 183h7v7h-7zM1065 183h7v7h-7zM1070 183h7v7h-7zM735 188h7v7h-7zM835 188h7v7h-7zM840 188h7v7h-7zM845 188h7v7h-7zM910 188h7v7h-7zM915 188h7v7h-7zM920 188h7v7h-7zM1210 188h7v7h-7zM730 193h7v7h-7zM1210 193h7v7h-7zM725 203h7v7h-7zM725 223h7v7h-7zM730 233h7v7h-7zM1210 243h7v7h-7zM1210 248h7v7h-7zM760 263h7v7h-7zM1205 263h7v7h-7zM765 268h7v7h-7zM770 273h7v7h-7zM1200 273h7v7h-7zM775 278h7v7h-7zM780 288h7v7h-7zM1190 288h7v7h-7zM1185 293h7v7h-7zM1180 298h7v7h-7zM780 308h7v7h-7zM1160 313h7v7h-7zM775 318h7v7h-7zM1155 318h7v7h-7zM1155 323h7v7h-7zM770 328h7v7h-7zM1150 328h7v7h-7zM765 333h7v7h-7zM1150 333h7v7h-7zM760 338h7v7h-7zM1150 338h7v7h-7zM1150 343h7v7h-7zM1155 348h7v7h-7zM750 353h7v7h-7zM1160 353h7v7h-7zM1165 358h7v7h-7zM745 363h7v7h-7zM740 373h7v7h-7zM1190 383h7v7h-7zM735 388h7v7h-7zM1195 388h7v7h-7zM735 393h7v7h-7zM1200 398h7v7h-7zM1200 403h7v7h-7zM1205 413h7v7h-7zM1205 418h7v7h-7zM730 423h7v7h-7zM730 428h7v7h-7zM730 433h7v7h-7zM730 438h7v7h-7zM1210 438h7v7h-7zM730 443h7v7h-7zM1210 443h7v7h-7zM730 448h7v7h-7zM1210 448h7v7h-7zM730 453h7v7h-7zM1210 453h7v7h-7zM730 458h7v7h-7zM905 468h7v7h-7zM910 468h7v7h-7zM915 468h7v7h-7zM1205 468h7v7h-7zM735 473h7v7h-7zM885 473h7v7h-7zM890 473h7v7h-7zM935 473h7v7h-7zM940 473h7v7h-7zM1200 473h7v7h-7zM735 478h7v7h-7zM875 478h7v7h-7zM955 478h7v7h-7zM1190 478h7v7h-7zM735 483h7v7h-7zM865 483h7v7h-7zM980 483h7v7h-7zM985 483h7v7h-7zM990 483h7v7h-7zM995 483h7v7h-7zM1000 483h7v7h-7zM1005 483h7v7h-7zM1010 483h7v7h-7zM1015 483h7v7h-7zM1020 483h7v7h-7zM1025 483h7v7h-7zM1030 483h7v7h-7zM1035 483h7v7h-7zM1115 483h7v7h-7zM1120 483h7v7h-7zM1125 483h7v7h-7zM1130 483h7v7h-7zM1170 483h7v7h-7zM1175 483h7v7h-7zM1180 483h7v7h-7zM740 488h7v7h-7zM855 488h7v7h-7zM745 493h7v7h-7zM840 493h7v7h-7zM845 493h7v7h-7zM750 498h7v7h-7zM755 498h7v7h-7zM820 498h7v7h-7zM825 498h7v7h-7zM780 503h7v7h-7z"/>
<path fill="#6c6cff" d="M1140 158h7v7h-7zM1145 158h7v7h-7zM1150 158h7v7h-7zM1155 158h7v7h-7zM1160 158h7v7h-7zM1165 158h7v7h-7zM1170 158h7v7h-7zM1125 163h7v7h-7zM1130 163h7v7h-7zM1180 163h7v7h-7zM1115 168h7v7h-7zM1120 168h7v7h-7zM1190 168h7v7h-7zM1105 173h7v7h-7zM1195 173h7v7h-7zM1090 178h7v7h-7zM1095 178h7v7h-7zM1200 178h7v7h-7zM760 183h7v7h-7zM765 183h7v7h-7zM770 183h7v7h-7zM775 183h7v7h-7zM780 183h7v7h-7zM785 183h7v7h-7zM790 183h7v7h-7zM1075 183h7v7h-7zM1080 183h7v7h-7zM1205 183h7v7h-7zM740 188h7v7h-7zM745 188h7v7h-7zM825 188h7v7h-7zM830 188h7v7h-7zM925 188h7v7h-7zM930 188h7v7h-7zM935 188h7v7h-7zM735 193h7v7h-7zM860 193h7v7h-7zM865 193h7v7h-7zM870 193h7v7h-7zM875 193h7v7h-7zM880 193h7v7h-7zM885 193h7v7h-7zM890 193h7v7h-7zM895 193h7v7h-7zM900 193h7v7h-7zM730 198h7v7h-7zM1210 198h7v7h-7zM1210 203h7v7h-7zM725 208h7v7h-7zM1210 208h7v7h-7zM725 213h7v7h-7zM1210 213h7v7h-7zM725 218h7v7h-7zM1210 218h7v7h-7zM1210 223h7v7h-7zM730 228h7v7h-7zM1210 228h7v7h-7zM1210 233h7v7h-7zM735 238h7v7h-7zM1210 238h7v7h-7zM740 243h7v7h-7zM745 248h7v7h-7zM750 253h7v7h-7zM755 258h7v7h-7zM1205 258h7v7h-7zM1200 268h7v7h-7zM1195 278h7v7h-7zM780 283h7v7h-7zM1190 283h7v7h-7zM1185 288h7v7h-7zM785 293h7v7h-7zM1180 293h7v7h-7zM785 298h7v7h-7zM1175 298h7v7h-7zM785 303h7v7h-7zM1170 303h7v7h-7zM1165 308h7v7h-7zM780 313h7v7h-7zM775 323h7v7h-7zM1150 323h7v7h-7zM1145 328h7v7h-7zM1145 333h7v7h-7zM1145 338h7v7h-7zM760 343h7v7h-7zM1145 343h7v7h-7zM755 348h7v7h-7zM1150 348h7v7h-7zM1155 353h7v7h-7zM750 358h7v7h-7zM1170 363h7v7h-7zM1175 368h7v7h-7zM1180 373h7v7h-7zM740 378h7v7h-7zM1185 378h7v7h-7zM1195 393h7v7h-7zM735 398h7v7h-7zM735 403h7v7h-7zM735 408h7v7h-7zM1200 408h7v7h-7zM1205 423h7v7h-7zM1205 428h7v7h-7zM735 458h7v7h-7zM1205 458h7v7h-7zM735 463h7v7h-7zM1205 463h7v7h-7zM735 468h7v7h-7zM895 468h7v7h-7zM900 468h7v7h-7zM920 468h7v7h-7zM925 468h7v7h-7zM1200 468h7v7h-7zM880 473h7v7h-7zM945 473h7v7h-7zM1195 473h7v7h-7zM740 478h7v7h-7zM870 478h7v7h-7zM960 478h7v7h-7zM965 478h7v7h-7zM1065 478h7v7h-7zM1070 478h7v7h-7zM1075 478h7v7h-7zM1080 478h7v7h-7zM1085 478h7v7h-7zM1090 478h7v7h-7zM1095 478h7v7h-7zM1185 478h7v7h-7zM740 483h7v7h-7zM860 483h7v7h-7zM1135 483h7v7h-7zM1140 483h7v7h-7zM1145 483h7v7h-7zM1150 483h7v7h-7zM1155 483h7v7h-7zM1160 483h7v7h-7zM1165 483h7v7h-7zM745 488h7v7h-7zM850 488h7v7h-7zM750 493h7v7h-7zM755 493h7v7h-7zM835 493h7v7h-7zM760 498h7v7h-7zM765 498h7v7h-7zM770 498h7v7h-7zM775 498h7v7h-7zM780 498h7v7h-7zM795 498h7v7h-7zM800 498h7v7h-7zM805 498h7v7h-7zM810 498h7v7h-7zM815 498h7v7h-7z"/>
<path fill="#6868ff" d="M1135 163h7v7h-7zM1140 163h7v7h-7zM1145 163h7v7h-7zM1170 163h7v7h-7zM1175 163h7v7h-7zM1125 168h7v7h-7zM1185 168h7v7h-7zM1110 173h7v7h-7zM1115 173h7v7h-7zM1100 178h7v7h-7zM1105 178h7v7h-7zM1085 183h7v7h-7zM1090 183h7v7h-7zM750 188h7v7h-7zM815 188h7v7h-7zM820 188h7v7h-7zM940 188h7v7h-7zM945 188h7v7h-7zM950 188h7v7h-7zM1000 188h7v7h-7zM1005 188h7v7h-7zM1010 188h7v7h-7zM1015 188h7v7h-7zM1020 188h7v7h-7zM1025 188h7v7h-7zM1030 188h7v7h-7zM1035 188h7v7h-7zM1040 188h7v7h-7zM1045 188h7v7h-7zM1050 188h7v7h-7zM1055 188h7v7h-7zM1060 188h7v7h-7zM1065 188h7v7h-7zM1070 188h7v7h-7zM1205 188h7v7h-7zM740 193h7v7h-7zM850 193h7v7h-7zM855 193h7v7h-7zM905 193h7v7h-7zM910 193h7v7h-7zM915 193h7v7h-7zM1205 193h7v7h-7zM735 198h7v7h-7zM730 203h7v7h-7zM730 208h7v7h-7zM730 213h7v7h-7zM730 218h7v7h-7zM730 223h7v7h-7zM735 233h7v7h-7zM1205 248h7v7h-7zM1205 253h7v7h-7zM760 258h7v7h-7zM765 263h7v7h-7zM1200 263h7v7h-7zM770 268h7v7h-7zM775 273h7v7h-7zM1195 273h7v7h-7zM780 278h7v7h-7zM785 288h7v7h-7zM1170 298h7v7h-7zM1165 303h7v7h-7zM785 308h7v7h-7zM1160 308h7v7h-7zM1155 313h7v7h-7zM780 318h7v7h-7zM1150 318h7v7h-7zM1145 323h7v7h-7zM775 328h7v7h-7zM1140 328h7v7h-7zM770 333h7v7h-7zM1140 333h7v7h-7zM765 338h7v7h-7zM1135 338h7v7h-7zM1140 338h7v7h-7zM1140 343h7v7h-7zM1140 348h7v7h-7zM1145 348h7v7h-7zM755 353h7v7h-7zM1150 353h7v7h-7zM1155 358h7v7h-7zM1160 358h7v7h-7zM1165 363h7v7h-7zM745 368h7v7h-7zM1170 368h7v7h-7zM740 383h7v7h-7zM1185 383h7v7h-7zM740 388h7v7h-7zM1190 388h7v7h-7zM1195 398h7v7h-7zM735 413h7v7h-7zM1200 413h7v7h-7zM735 418h7v7h-7zM735 423h7v7h-7zM735 428h7v7h-7zM735 433h7v7h-7zM1205 433h7v7h-7zM735 438h7v7h-7zM1205 438h7v7h-7zM735 443h7v7h-7zM1205 443h7v7h-7zM735 448h7v7h-7zM1205 448h7v7h-7zM735 453h7v7h-7zM1205 453h7v7h-7zM1200 463h7v7h-7zM740 468h7v7h-7zM890 468h7v7h-7zM930 468h7v7h-7zM935 468h7v7h-7zM1195 468h7v7h-7zM740 473h7v7h-7zM875 473h7v7h-7zM950 473h7v7h-7zM1190 473h7v7h-7zM970 478h7v7h-7zM975 478h7v7h-7zM1040 478h7v7h-7zM1045 478h7v7h-7zM1050 478h7v7h-7zM1055 478h7v7h-7zM1060 478h7v7h-7zM1100 478h7v7h-7zM1105 478h7v7h-7zM1110 478h7v7h-7zM1115 478h7v7h-7zM1120 478h7v7h-7zM1175 478h7v7h-7zM1180 478h7v7h-7zM745 483h7v7h-7zM855 483h7v7h-7zM750 488h7v7h-7zM845 488h7v7h-7zM760 493h7v7h-7zM765 493h7v7h-7zM825 493h7v7h-7zM830 493h7v7h-7zM785 498h7v7h-7zM790 498h7v7h-7z"/>
<path fill="#6464ff" d="M1150 163h7v7h-7zM1155 163h7v7h-7zM1160 163h7v7h-7zM1165 163h7v7h-7zM1130 168h7v7h-7zM1135 168h7v7h-7zM1180 168h7v7h-7zM1120 173h7v7h-7zM1190 173h7v7h-7zM1110 178h7v7h-7zM1195 178h7v7h-7zM1095 183h7v7h-7zM1100 183h7v7h-7zM1200 183h7v7h-7zM755 188h7v7h-7zM760 188h7v7h-7zM765 188h7v7h-7zM795 188h7v7h-7zM800 188h7v7h-7zM805 188h7v7h-7zM810 188h7v7h-7zM955 188h7v7h-7zM960 188h7v7h-7zM965 188h7v7h-7zM970 188h7v7h-7zM975 188h7v7h-7zM980 188h7v7h-7zM985 188h7v7h-7zM990 188h7v7h-7zM995 188h7v7h-7zM1075 188h7v7h-7zM1080 188h7v7h-7zM1200 188h7v7h-7zM745 193h7v7h-7zM840 193h7v7h-7zM845 193h7v7h-7zM920 193h7v7h-7zM925 193h7v7h-7zM740 198h7v7h-7zM1205 198h7v7h-7zM735 203h7v7h-7zM1205 203h7v7h-7zM735 228h7v7h-7zM1205 228h7v7h-7zM1205 233h7v7h-7zM740 238h7v7h-7zM1205 238h7v7h-7zM745 243h7v7h-7zM1205 243h7v7h-7zM750 248h7v7h-7zM755 253h7v7h-7zM1200 258h7v7h-7zM770 263h7v7h-7zM775 268h7v7h-7zM1195 268h7v7h-7zM780 273h7v7h-7zM1190 278h7v7h-7zM785 283h7v7h-7zM1185 283h7v7h-7zM1180 288h7v7h-7zM790 293h7v7h-7zM1175 293h7v7h-7zM790 298h7v7h-7zM790 303h7v7h-7zM1160 303h7v7h-7zM1155 308h7v7h-7zM785 313h7v7h-7zM1150 313h7v7h-7zM1145 318h7v7h-7zM780 323h7v7h-7zM1140 323h7v7h-7zM1135 328h7v7h-7zM1135 333h7v7h-7zM1130 338h7v7h-7zM765 343h7v7h-7zM1130 343h7v7h-7zM1135 343h7v7h-7zM760 348h7v7h-7zM1135 348h7v7h-7zM1140 353h7v7h-7zM1145 353h7v7h-7zM1150 358h7v7h-7zM750 363h7v7h-7zM1160 363h7v7h-7zM745 373h7v7h-7zM1175 373h7v7h-7zM745 378h7v7h-7zM1180 378h7v7h-7zM740 393h7v7h-7zM1190 393h7v7h-7zM740 398h7v7h-7zM1195 403h7v7h-7zM1200 418h7v7h-7zM1200 423h7v7h-7zM740 453h7v7h-7zM740 458h7v7h-7zM1200 458h7v7h-7zM740 463h7v7h-7zM895 463h7v7h-7zM900 463h7v7h-7zM905 463h7v7h-7zM910 463h7v7h-7zM915 463h7v7h-7zM920 463h7v7h-7zM885 468h7v7h-7zM940 468h7v7h-7zM745 473h7v7h-7zM955 473h7v7h-7zM1185 473h7v7h-7zM745 478h7v7h-7zM865 478h7v7h-7zM980 478h7v7h-7zM985 478h7v7h-7zM990 478h7v7h-7zM995 478h7v7h-7zM1000 478h7v7h-7zM1005 478h7v7h-7zM1010 478h7v7h-7zM1015 478h7v7h-7zM1020 478h7v7h-7zM1025 478h7v7h-7zM1030 478h7v7h-7zM1035 478h7v7h-7zM1125 478h7v7h-7zM1130 478h7v7h-7zM1135 478h7v7h-7zM1140 478h7v7h-7zM1145 478h7v7h-7zM1160 478h7v7h-7zM1165 478h7v7h-7zM1170 478h7v7h-7zM750 483h7v7h-7zM755 488h7v7h-7zM760 488h7v7h-7zM840 488h7v7h-7zM770 493h7v7h-7zM775 493h7v7h-7zM780 493h7v7h-7zM805 493h7v7h-7zM810 493h7v7h-7zM815 493h7v7h-7zM820 493h7v7h-7z"/>
<path fill="#6060ff" d="M1140 168h7v7h-7zM1145 168h7v7h-7zM1150 168h7v7h-7zM1165 168h7v7h-7zM1170 168h7v7h-7zM1175 168h7v7h-7zM1125 173h7v7h-7zM1130 173h7v7h-7zM1185 173h7v7h-7zM1115 178h7v7h-7zM1190 178h7v7h-7zM1105 183h7v7h-7zM1195 183h7v7h-7zM770 188h7v7h-7zM775 188h7v7h-7zM780 188h7v7h-7zM785 188h7v7h-7zM790 188h7v7h-7zM1085 188h7v7h-7zM1090 188h7v7h-7zM750 193h7v7h-7zM830 193h7v7h-7zM835 193h7v7h-7zM930 193h7v7h-7zM935 193h7v7h-7zM940 193h7v7h-7zM1030 193h7v7h-7zM1035 193h7v7h-7zM1040 193h7v7h-7zM1045 193h7v7h-7zM1050 193h7v7h-7zM1055 193h7v7h-7zM1060 193h7v7h-7zM1065 193h7v7h-7zM1200 193h7v7h-7zM860 198h7v7h-7zM865 198h7v7h-7zM870 198h7v7h-7zM875 198h7v7h-7zM880 198h7v7h-7zM885 198h7v7h-7zM890 198h7v7h-7zM895 198h7v7h-7zM900 198h7v7h-7zM905 198h7v7h-7zM735 208h7v7h-7zM1205 208h7v7h-7zM735 213h7v7h-7zM1205 213h7v7h-7zM735 218h7v7h-7zM1205 218h7v7h-7zM735 223h7v7h-7zM1205 223h7v7h-7zM740 233h7v7h-7zM745 238h7v7h-7zM750 243h7v7h-7zM755 248h7v7h-7zM1200 248h7v7h-7zM760 253h7v7h-7zM1200 253h7v7h-7zM765 258h7v7h-7zM1195 263h7v7h-7zM1190 273h7v7h-7zM785 278h7v7h-7zM1185 278h7v7h-7zM790 283h7v7h-7zM790 288h7v7h-7zM1175 288h7v7h-7zM1170 293h7v7h-7zM1165 298h7v7h-7zM790 308h7v7h-7zM1150 308h7v7h-7zM1145 313h7v7h-7zM785 318h7v7h-7zM1140 318h7v7h-7zM1135 323h7v7h-7zM780 328h7v7h-7zM1130 328h7v7h-7zM775 333h7v7h-7zM1130 333h7v7h-7zM770 338h7v7h-7zM1125 338h7v7h-7zM1125 343h7v7h-7zM1125 348h7v7h-7zM1130 348h7v7h-7zM760 353h7v7h-7zM1130 353h7v7h-7zM1135 353h7v7h-7zM755 358h7v7h-7zM1140 358h7v7h-7zM1145 358h7v7h-7zM1155 363h7v7h-7zM750 368h7v7h-7zM1165 368h7v7h-7zM1170 373h7v7h-7zM1175 378h7v7h-7zM745 383h7v7h-7zM1180 383h7v7h-7zM1185 388h7v7h-7zM1190 398h7v7h-7zM740 403h7v7h-7zM740 408h7v7h-7zM1195 408h7v7h-7zM740 413h7v7h-7zM1195 413h7v7h-7zM740 418h7v7h-7zM740 423h7v7h-7zM740 428h7v7h-7zM1200 428h7v7h-7zM740 433h7v7h-7zM1200 433h7v7h-7zM740 438h7v7h-7zM1200 438h7v7h-7zM740 443h7v7h-7zM1200 443h7v7h-7zM740 448h7v7h-7zM1200 448h7v7h-7zM1200 453h7v7h-7zM745 463h7v7h-7zM890 463h7v7h-7zM925 463h7v7h-7zM930 463h7v7h-7zM1195 463h7v7h-7zM745 468h7v7h-7zM880 468h7v7h-7zM945 468h7v7h-7zM1190 468h7v7h-7zM750 473h7v7h-7zM870 473h7v7h-7zM960 473h7v7h-7zM965 473h7v7h-7zM1060 473h7v7h-7zM1065 473h7v7h-7zM1070 473h7v7h-7zM1075 473h7v7h-7zM1080 473h7v7h-7zM1085 473h7v7h-7zM1090 473h7v7h-7zM1095 473h7v7h-7zM1100 473h7v7h-7zM1105 473h7v7h-7zM1110 473h7v7h-7zM1180 473h7v7h-7zM750 478h7v7h-7zM860 478h7v7h-7zM1150 478h7v7h-7zM1155 478h7v7h-7zM755 483h7v7h-7zM760 483h7v7h-7zM845 483h7v7h-7zM850 483h7v7h-7zM765 488h7v7h-7zM770 488h7v7h-7zM830 488h7v7h-7zM835 488h7v7h-7zM785 493h7v7h-7zM790 493h7v7h-7zM795 493h7v7h-7zM800 493h7v7h-7z"/>
<path fill="#5c5cff" d="M1155 168h7v7h-7zM1160 168h7v7h-7zM1135 173h7v7h-7zM1140 173h7v7h-7zM1175 173h7v7h-7zM1180 173h7v7h-7zM1120 178h7v7h-7zM1125 178h7v7h-7zM1185 178h7v7h-7zM1110 183h7v7h-7zM1115 183h7v7h-7zM1190 183h7v7h-7zM1095 188h7v7h-7zM1100 188h7v7h-7zM1195 188h7v7h-7zM755 193h7v7h-7zM760 193h7v7h-7zM815 193h7v7h-7zM820 193h7v7h-7zM825 193h7v7h-7zM945 193h7v7h-7zM950 193h7v7h-7zM955 193h7v7h-7zM995 193h7v7h-7zM1000 193h7v7h-7zM1005 193h7v7h-7zM1010 193h7v7h-7zM1015 193h7v7h-7zM1020 193h7v7h-7zM1025 193h7v7h-7zM1070 193h7v7h-7zM1075 193h7v7h-7zM1080 193h7v7h-7zM745 198h7v7h-7zM850 198h7v7h-7zM855 198h7v7h-7zM910 198h7v7h-7zM915 198h7v7h-7zM920 198h7v7h-7zM1200 198h7v7h-7zM740 203h7v7h-7zM1200 203h7v7h-7zM740 208h7v7h-7zM740 223h7v7h-7zM740 228h7v7h-7zM745 233h7v7h-7zM1200 233h7v7h-7zM1200 238h7v7h-7zM1200 243h7v7h-7zM770 258h7v7h-7zM1195 258h7v7h-7zM775 263h7v7h-7zM780 268h7v7h-7zM1190 268h7v7h-7zM785 273h7v7h-7zM790 278h7v7h-7zM1180 283h7v7h-7zM795 293h7v7h-7zM795 298h7v7h-7zM1160 298h7v7h-7zM1155 303h7v7h-7zM790 313h7v7h-7zM1140 313h7v7h-7zM1135 318h7v7h-7zM785 323h7v7h-7zM1130 323h7v7h-7zM1125 328h7v7h-7zM1125 333h7v7h-7zM1120 338h7v7h-7zM770 343h7v7h-7zM1120 343h7v7h-7zM765 348h7v7h-7zM1120 348h7v7h-7zM1120 353h7v7h-7zM1125 353h7v7h-7zM1130 358h7v7h-7zM1135 358h7v7h-7zM755 363h7v7h-7zM1145 363h7v7h-7zM1150 363h7v7h-7zM1160 368h7v7h-7zM750 373h7v7h-7zM1165 373h7v7h-7zM745 388h7v7h-7zM1185 393h7v7h-7zM1190 403h7v7h-7zM1195 418h7v7h-7zM745 453h7v7h-7zM1195 453h7v7h-7zM745 458h7v7h-7zM895 458h7v7h-7zM900 458h7v7h-7zM905 458h7v7h-7zM910 458h7v7h-7zM915 458h7v7h-7zM1195 458h7v7h-7zM885 463h7v7h-7zM935 463h7v7h-7zM1190 463h7v7h-7zM750 468h7v7h-7zM875 468h7v7h-7zM950 468h7v7h-7zM1185 468h7v7h-7zM865 473h7v7h-7zM970 473h7v7h-7zM975 473h7v7h-7zM1040 473h7v7h-7zM1045 473h7v7h-7zM1050 473h7v7h-7zM1055 473h7v7h-7zM1115 473h7v7h-7zM1120 473h7v7h-7zM1125 473h7v7h-7zM1130 473h7v7h-7zM1170 473h7v7h-7zM1175 473h7v7h-7zM755 478h7v7h-7zM855 478h7v7h-7zM765 483h7v7h-7zM840 483h7v7h-7zM775 488h7v7h-7zM780 488h7v7h-7zM820 488h7v7h-7zM825 488h7v7h-7z"/>
<path fill="#5858ff" d="M1145 173h7v7h-7zM1150 173h7v7h-7zM1155 173h7v7h-7zM1160 173h7v7h-7zM1165 173h7v7h-7zM1170 173h7v7h-7zM1130 178h7v7h-7zM1135 178h7v7h-7zM1180 178h7v7h-7zM1120 183h7v7h-7zM1105 188h7v7h-7zM765 193h7v7h-7zM770 193h7v7h-7zM775 193h7v7h-7zM780 193h7v7h-7zM795 193h7v7h-7zM800 193h7v7h-7zM805 193h7v7h-7zM810 193h7v7h-7zM960 193h7v7h-7zM965 193h7v7h-7zM970 193h7v7h-7zM975 193h7v7h-7zM980 193h7v7h-7zM985 193h7v7h-7zM990 193h7v7h-7zM1085 193h7v7h-7zM1090 193h7v7h-7zM1195 193h7v7h-7zM750 198h7v7h-7zM755 198h7v7h-7zM840 198h7v7h-7zM845 198h7v7h-7zM925 198h7v7h-7zM930 198h7v7h-7zM745 203h7v7h-7zM880 203h7v7h-7zM885 203h7v7h-7zM890 203h7v7h-7zM1200 208h7v7h-7zM740 213h7v7h-7zM1200 213h7v7h-7zM740 218h7v7h-7zM1200 218h7v7h-7zM1200 223h7v7h-7zM745 228h7v7h-7zM1200 228h7v7h-7zM750 238h7v7h-7zM755 243h7v7h-7zM760 248h7v7h-7zM1195 248h7v7h-7zM765 253h7v7h-7zM1195 253h7v7h-7zM1190 263h7v7h-7zM1185 273h7v7h-7zM1180 278h7v7h-7zM795 283h7v7h-7zM1175 283h7v7h-7zM795 288h7v7h-7zM1170 288h7v7h-7zM1165 293h7v7h-7zM1155 298h7v7h-7zM795 303h7v7h-7zM1150 303h7v7h-7zM795 308h7v7h-7zM1145 308h7v7h-7zM790 318h7v7h-7zM1130 318h7v7h-7zM1125 323h7v7h-7zM780 333h7v7h-7zM1120 333h7v7h-7zM775 338h7v7h-7zM1115 338h7v7h-7zM1110 343h7v7h-7zM1115 343h7v7h-7zM1110 348h7v7h-7zM1115 348h7v7h-7zM765 353h7v7h-7zM1110 353h7v7h-7zM1115 353h7v7h-7zM760 358h7v7h-7zM1115 358h7v7h-7zM1120 358h7v7h-7zM1125 358h7v7h-7zM1135 363h7v7h-7zM1140 363h7v7h-7zM755 368h7v7h-7zM1150 368h7v7h-7zM1155 368h7v7h-7zM750 378h7v7h-7zM1170 378h7v7h-7zM1175 383h7v7h-7zM1180 388h7v7h-7zM745 393h7v7h-7zM745 398h7v7h-7zM1185 398h7v7h-7zM745 403h7v7h-7zM1190 408h7v7h-7zM1195 423h7v7h-7zM1195 428h7v7h-7zM1195 433h7v7h-7zM745 438h7v7h-7zM1195 438h7v7h-7zM745 443h7v7h-7zM1195 443h7v7h-7zM745 448h7v7h-7zM1195 448h7v7h-7zM750 458h7v7h-7zM890 458h7v7h-7zM920 458h7v7h-7zM925 458h7v7h-7zM1190 458h7v7h-7zM750 463h7v7h-7zM880 463h7v7h-7zM940 463h7v7h-7zM1185 463h7v7h-7zM755 468h7v7h-7zM870 468h7v7h-7zM955 468h7v7h-7zM1080 468h7v7h-7zM1085 468h7v7h-7zM1090 468h7v7h-7zM1095 468h7v7h-7zM1100 468h7v7h-7zM1180 468h7v7h-7zM755 473h7v7h-7zM860 473h7v7h-7zM980 473h7v7h-7zM985 473h7v7h-7zM1020 473h7v7h-7zM1025 473h7v7h-7zM1030 473h7v7h-7zM1035 473h7v7h-7zM1135 473h7v7h-7zM1140 473h7v7h-7zM1145 473h7v7h-7zM1150 473h7v7h-7zM1155 473h7v7h-7zM1160 473h7v7h-7zM1165 473h7v7h-7zM760 478h7v7h-7zM850 478h7v7h-7zM770 483h7v7h-7zM835 483h7v7h-7zM785 488h7v7h-7zM790 488h7v7h-7zM795 488h7v7h-7zM800 488h7v7h-7zM805 488h7v7h-7zM810 488h7v7h-7zM815 488h7v7h-7z"/>
<path fill="#5454ff" d="M1140 178h7v7h-7zM1145 178h7v7h-7zM1170 178h7v7h-7zM1175 178h7v7h-7zM1125 183h7v7h-7zM1130 183h7v7h-7zM1185 183h7v7h-7zM1110 188h7v7h-7zM1115 188h7v7h-7zM1190 188h7v7h-7zM785 193h7v7h-7zM790 193h7v7h-7zM1095 193h7v7h-7zM1100 193h7v7h-7zM1190 193h7v7h-7zM760 198h7v7h-7zM830 198h7v7h-7zM835 198h7v7h-7zM935 198h7v7h-7zM940 198h7v7h-7zM1025 198h7v7h-7zM1030 198h7v7h-7zM1035 198h7v7h-7zM1040 198h7v7h-7zM1045 198h7v7h-7zM1050 198h7v7h-7zM1055 198h7v7h-7zM1060 198h7v7h-7zM1065 198h7v7h-7zM1070 198h7v7h-7zM1075 198h7v7h-7zM1080 198h7v7h-7zM1195 198h7v7h-7zM750 203h7v7h-7zM865 203h7v7h-7zM870 203h7v7h-7zM875 203h7v7h-7zM895 203h7v7h-7zM900 203h7v7h-7zM905 203h7v7h-7zM1195 203h7v7h-7zM745 208h7v7h-7zM1195 208h7v7h-7zM745 213h7v7h-7zM745 218h7v7h-7zM745 223h7v7h-7zM750 233h7v7h-7zM1195 233h7v7h-7zM755 238h7v7h-7zM1195 238h7v7h-7zM1195 243h7v7h-7zM765 248h7v7h-7zM770 253h7v7h-7zM775 258h7v7h-7zM1190 258h7v7h-7zM780 263h7v7h-7zM785 268h7v7h-7zM1185 268h7v7h-7zM790 273h7v7h-7zM1180 273h7v7h-7zM795 278h7v7h-7zM1165 288h7v7h-7zM1160 293h7v7h-7zM1145 303h7v7h-7zM1140 308h7v7h-7zM795 313h7v7h-7zM1135 313h7v7h-7zM790 323h7v7h-7zM785 328h7v7h-7zM1120 328h7v7h-7zM1115 333h7v7h-7zM1110 338h7v7h-7zM775 343h7v7h-7zM1105 343h7v7h-7zM770 348h7v7h-7zM1105 348h7v7h-7zM1105 353h7v7h-7zM1105 358h7v7h-7zM1110 358h7v7h-7zM760 363h7v7h-7zM1115 363h7v7h-7zM1120 363h7v7h-7zM1125 363h7v7h-7zM1130 363h7v7h-7zM1140 368h7v7h-7zM1145 368h7v7h-7zM755 373h7v7h-7zM1155 373h7v7h-7zM1160 373h7v7h-7zM1165 378h7v7h-7zM750 383h7v7h-7zM1175 388h7v7h-7zM1180 393h7v7h-7zM1185 403h7v7h-7zM745 408h7v7h-7zM745 413h7v7h-7zM1190 413h7v7h-7zM745 418h7v7h-7zM1190 418h7v7h-7zM745 423h7v7h-7zM745 428h7v7h-7zM745 433h7v7h-7zM750 453h7v7h-7zM905 453h7v7h-7zM1190 453h7v7h-7zM885 458h7v7h-7zM930 458h7v7h-7zM1185 458h7v7h-7zM755 463h7v7h-7zM875 463h7v7h-7zM945 463h7v7h-7zM1180 463h7v7h-7zM865 468h7v7h-7zM960 468h7v7h-7zM1060 468h7v7h-7zM1065 468h7v7h-7zM1070 468h7v7h-7zM1075 468h7v7h-7zM1105 468h7v7h-7zM1110 468h7v7h-7zM1115 468h7v7h-7zM1120 468h7v7h-7zM1125 468h7v7h-7zM1170 468h7v7h-7zM1175 468h7v7h-7zM760 473h7v7h-7zM855 473h7v7h-7zM990 473h7v7h-7zM995 473h7v7h-7zM1000 473h7v7h-7zM1005 473h7v7h-7zM1010 473h7v7h-7zM1015 473h7v7h-7zM765 478h7v7h-7zM770 478h7v7h-7zM845 478h7v7h-7zM775 483h7v7h-7zM780 483h7v7h-7zM785 483h7v7h-7zM825 483h7v7h-7zM830 483h7v7h-7z"/>
<path fill="#5050ff" d="M1150 178h7v7h-7zM1155 178h7v7h-7zM1160 178h7v7h-7zM1165 178h7v7h-7zM1135 183h7v7h-7zM1175 183h7v7h-7zM1180 183h7v7h-7zM1120 188h7v7h-7zM1125 188h7v7h-7zM1185 188h7v7h-7zM1105 193h7v7h-7zM1110 193h7v7h-7zM765 198h7v7h-7zM770 198h7v7h-7zM820 198h7v7h-7zM825 198h7v7h-7zM945 198h7v7h-7zM950 198h7v7h-7zM955 198h7v7h-7zM1000 198h7v7h-7zM1005 198h7v7h-7zM1010 198h7v7h-7zM1015 198h7v7h-7zM1020 198h7v7h-7zM1085 198h7v7h-7zM1090 198h7v7h-7zM1190 198h7v7h-7zM755 203h7v7h-7zM850 203h7v7h-7zM855 203h7v7h-7zM860 203h7v7h-7zM910 203h7v7h-7zM915 203h7v7h-7zM920 203h7v7h-7zM750 208h7v7h-7zM1195 213h7v7h-7zM1195 218h7v7h-7zM1195 223h7v7h-7zM750 228h7v7h-7zM1195 228h7v7h-7zM760 243h7v7h-7zM1190 248h7v7h-7zM1190 253h7v7h-7zM780 258h7v7h-7zM785 263h7v7h-7zM1185 263h7v7h-7zM790 268h7v7h-7zM1175 278h7v7h-7zM800 283h7v7h-7zM1170 283h7v7h-7zM800 288h7v7h-7zM800 293h7v7h-7zM1155 293h7v7h-7zM800 298h7v7h-7zM1150 298h7v7h-7zM800 303h7v7h-7zM1135 308h7v7h-7zM1130 313h7v7h-7zM795 318h7v7h-7zM1125 318h7v7h-7zM1120 323h7v7h-7zM1115 328h7v7h-7zM785 333h7v7h-7zM1110 333h7v7h-7zM780 338h7v7h-7zM1105 338h7v7h-7zM1100 343h7v7h-7zM1100 348h7v7h-7zM1095 353h7v7h-7zM1100 353h7v7h-7zM765 358h7v7h-7zM1095 358h7v7h-7zM1100 358h7v7h-7zM1100 363h7v7h-7zM1105 363h7v7h-7zM1110 363h7v7h-7zM1120 368h7v7h-7zM1125 368h7v7h-7zM1130 368h7v7h-7zM1135 368h7v7h-7zM1150 373h7v7h-7zM755 378h7v7h-7zM1160 378h7v7h-7zM1170 383h7v7h-7zM750 388h7v7h-7zM750 393h7v7h-7zM1180 398h7v7h-7zM1185 408h7v7h-7zM1190 423h7v7h-7zM1190 428h7v7h-7zM1190 433h7v7h-7zM1190 438h7v7h-7zM750 443h7v7h-7zM1190 443h7v7h-7zM750 448h7v7h-7zM1190 448h7v7h-7zM890 453h7v7h-7zM895 453h7v7h-7zM900 453h7v7h-7zM910 453h7v7h-7zM915 453h7v7h-7zM1185 453h7v7h-7zM755 458h7v7h-7zM880 458h7v7h-7zM935 458h7v7h-7zM870 463h7v7h-7zM950 463h7v7h-7zM1175 463h7v7h-7zM760 468h7v7h-7zM860 468h7v7h-7zM965 468h7v7h-7zM970 468h7v7h-7zM1045 468h7v7h-7zM1050 468h7v7h-7zM1055 468h7v7h-7zM1130 468h7v7h-7zM1135 468h7v7h-7zM1140 468h7v7h-7zM1145 468h7v7h-7zM1150 468h7v7h-7zM1155 468h7v7h-7zM1160 468h7v7h-7zM1165 468h7v7h-7zM765 473h7v7h-7zM850 473h7v7h-7zM775 478h7v7h-7zM840 478h7v7h-7zM790 483h7v7h-7zM795 483h7v7h-7zM800 483h7v7h-7zM805 483h7v7h-7zM810 483h7v7h-7zM815 483h7v7h-7zM820 483h7v7h-7z"/>
<path fill="#4c4cff" d="M1140 183h7v7h-7zM1145 183h7v7h-7zM1150 183h7v7h-7zM1155 183h7v7h-7zM1160 183h7v7h-7zM1165 183h7v7h-7zM1170 183h7v7h-7zM1130 188h7v7h-7zM1180 188h7v7h-7zM1115 193h7v7h-7zM1185 193h7v7h-7zM775 198h7v7h-7zM780 198h7v7h-7zM785 198h7v7h-7zM790 198h7v7h-7zM795 198h7v7h-7zM800 198h7v7h-7zM805 198h7v7h-7zM810 198h7v7h-7zM815 198h7v7h-7zM960 198h7v7h-7zM965 198h7v7h-7zM970 198h7v7h-7zM975 198h7v7h-7zM980 198h7v7h-7zM985 198h7v7h-7zM990 198h7v7h-7zM995 198h7v7h-7zM1095 198h7v7h-7zM1100 198h7v7h-7zM760 203h7v7h-7zM840 203h7v7h-7zM845 203h7v7h-7zM925 203h7v7h-7zM930 203h7v7h-7zM1050 203h7v7h-7zM1055 203h7v7h-7zM1060 203h7v7h-7zM1065 203h7v7h-7zM1070 203h7v7h-7zM1190 203h7v7h-7zM755 208h7v7h-7zM885 208h7v7h-7zM1190 208h7v7h-7zM750 213h7v7h-7zM1190 213h7v7h-7zM750 218h7v7h-7zM750 223h7v7h-7zM755 233h7v7h-7zM1190 233h7v7h-7zM760 238h7v7h-7zM1190 238h7v7h-7zM765 243h7v7h-7zM1190 243h7v7h-7zM770 248h7v7h-7zM775 253h7v7h-7zM1185 258h7v7h-7zM1180 268h7v7h-7zM795 273h7v7h-7zM1175 273h7v7h-7zM800 278h7v7h-7zM1170 278h7v7h-7zM1165 283h7v7h-7zM1160 288h7v7h-7zM1145 298h7v7h-7zM1140 303h7v7h-7zM800 308h7v7h-7zM1125 313h7v7h-7zM1120 318h7v7h-7zM1115 323h7v7h-7zM790 328h7v7h-7zM1110 328h7v7h-7zM1105 333h7v7h-7zM1100 338h7v7h-7zM1095 343h7v7h-7zM775 348h7v7h-7zM1095 348h7v7h-7zM770 353h7v7h-7zM1090 353h7v7h-7zM1090 358h7v7h-7zM1095 363h7v7h-7zM760 368h7v7h-7zM1100 368h7v7h-7zM1105 368h7v7h-7zM1110 368h7v7h-7zM1115 368h7v7h-7zM1135 373h7v7h-7zM1140 373h7v7h-7zM1145 373h7v7h-7zM1155 378h7v7h-7zM755 383h7v7h-7zM1165 383h7v7h-7zM1170 388h7v7h-7zM1175 393h7v7h-7zM750 398h7v7h-7zM750 403h7v7h-7zM1180 403h7v7h-7zM750 408h7v7h-7zM750 413h7v7h-7zM1185 413h7v7h-7zM750 418h7v7h-7zM1185 418h7v7h-7zM750 423h7v7h-7zM750 428h7v7h-7zM750 433h7v7h-7zM750 438h7v7h-7zM1185 448h7v7h-7zM755 453h7v7h-7zM885 453h7v7h-7zM920 453h7v7h-7zM925 453h7v7h-7zM875 458h7v7h-7zM940 458h7v7h-7zM1180 458h7v7h-7zM760 463h7v7h-7zM865 463h7v7h-7zM955 463h7v7h-7zM1075 463h7v7h-7zM1080 463h7v7h-7zM1085 463h7v7h-7zM1090 463h7v7h-7zM1095 463h7v7h-7zM1100 463h7v7h-7zM1105 463h7v7h-7zM1110 463h7v7h-7zM1115 463h7v7h-7zM1120 463h7v7h-7zM1165 463h7v7h-7zM1170 463h7v7h-7zM765 468h7v7h-7zM975 468h7v7h-7zM980 468h7v7h-7zM1030 468h7v7h-7zM1035 468h7v7h-7zM1040 468h7v7h-7zM770 473h7v7h-7zM780 478h7v7h-7zM785 478h7v7h-7zM830 478h7v7h-7zM835 478h7v7h-7z"/>
<path fill="#4848ff" d="M1135 188h7v7h-7zM1140 188h7v7h-7zM1170 188h7v7h-7zM1175 188h7v7h-7zM1120 193h7v7h-7zM1125 193h7v7h-7zM1180 193h7v7h-7zM1105 198h7v7h-7zM1110 198h7v7h-7zM1185 198h7v7h-7zM765 203h7v7h-7zM770 203h7v7h-7zM830 203h7v7h-7zM835 203h7v7h-7zM935 203h7v7h-7zM940 203h7v7h-7zM1030 203h7v7h-7zM1035 203h7v7h-7zM1040 203h7v7h-7zM1045 203h7v7h-7zM1075 203h7v7h-7zM1080 203h7v7h-7zM1085 203h7v7h-7zM1090 203h7v7h-7zM1185 203h7v7h-7zM760 208h7v7h-7zM865 208h7v7h-7zM870 208h7v7h-7zM875 208h7v7h-7zM880 208h7v7h-7zM890 208h7v7h-7zM895 208h7v7h-7zM900 208h7v7h-7zM905 208h7v7h-7zM755 213h7v7h-7zM755 218h7v7h-7zM1190 218h7v7h-7zM755 223h7v7h-7zM1190 223h7v7h-7zM755 228h7v7h-7zM1190 228h7v7h-7zM760 233h7v7h-7zM765 238h7v7h-7zM775 248h7v7h-7zM1185 248h7v7h-7zM780 253h7v7h-7zM1185 253h7v7h-7zM785 258h7v7h-7zM790 263h7v7h-7zM1180 263h7v7h-7zM795 268h7v7h-7zM1175 268h7v7h-7zM800 273h7v7h-7zM1160 283h7v7h-7zM805 288h7v7h-7zM1155 288h7v7h-7zM805 293h7v7h-7zM1150 293h7v7h-7zM805 298h7v7h-7zM1140 298h7v7h-7zM805 303h7v7h-7zM1135 303h7v7h-7zM1130 308h7v7h-7zM800 313h7v7h-7zM795 323h7v7h-7zM1105 328h7v7h-7zM1100 333h7v7h-7zM785 338h7v7h-7zM1095 338h7v7h-7zM780 343h7v7h-7zM1090 348h7v7h-7zM1085 353h7v7h-7zM770 358h7v7h-7zM1085 358h7v7h-7zM765 363h7v7h-7zM1085 363h7v7h-7zM1090 363h7v7h-7zM1090 368h7v7h-7zM1095 368h7v7h-7zM760 373h7v7h-7zM1105 373h7v7h-7zM1110 373h7v7h-7zM1115 373h7v7h-7zM1120 373h7v7h-7zM1125 373h7v7h-7zM1130 373h7v7h-7zM1145 378h7v7h-7zM1150 378h7v7h-7zM1160 383h7v7h-7zM755 388h7v7h-7zM1165 388h7v7h-7zM1170 393h7v7h-7zM1175 398h7v7h-7zM1180 408h7v7h-7zM1185 423h7v7h-7zM1185 428h7v7h-7zM1185 433h7v7h-7zM1185 438h7v7h-7zM755 443h7v7h-7zM1185 443h7v7h-7zM755 448h7v7h-7zM895 448h7v7h-7zM900 448h7v7h-7zM905 448h7v7h-7zM910 448h7v7h-7zM1180 448h7v7h-7zM880 453h7v7h-7zM930 453h7v7h-7zM1180 453h7v7h-7zM760 458h7v7h-7zM870 458h7v7h-7zM945 458h7v7h-7zM1170 458h7v7h-7zM1175 458h7v7h-7zM765 463h7v7h-7zM960 463h7v7h-7zM1060 463h7v7h-7zM1065 463h7v7h-7zM1070 463h7v7h-7zM1125 463h7v7h-7zM1130 463h7v7h-7zM1135 463h7v7h-7zM1140 463h7v7h-7zM1145 463h7v7h-7zM1150 463h7v7h-7zM1155 463h7v7h-7zM1160 463h7v7h-7zM770 468h7v7h-7zM855 468h7v7h-7zM985 468h7v7h-7zM990 468h7v7h-7zM995 468h7v7h-7zM1000 468h7v7h-7zM1005 468h7v7h-7zM1010 468h7v7h-7zM1015 468h7v7h-7zM1020 468h7v7h-7zM1025 468h7v7h-7zM775 473h7v7h-7zM840 473h7v7h-7zM845 473h7v7h-7zM790 478h7v7h-7zM795 478h7v7h-7zM820 478h7v7h-7zM825 478h7v7h-7z"/>
<path fill="#4444ff" d="M1145 188h7v7h-7zM1150 188h7v7h-7zM1155 188h7v7h-7zM1160 188h7v7h-7zM1165 188h7v7h-7zM1130 193h7v7h-7zM1135 193h7v7h-7zM1170 193h7v7h-7zM1175 193h7v7h-7zM1115 198h7v7h-7zM1120 198h7v7h-7zM1180 198h7v7h-7zM775 203h7v7h-7zM780 203h7v7h-7zM820 203h7v7h-7zM825 203h7v7h-7zM945 203h7v7h-7zM950 203h7v7h-7zM1010 203h7v7h-7zM1015 203h7v7h-7zM1020 203h7v7h-7zM1025 203h7v7h-7zM1095 203h7v7h-7zM1100 203h7v7h-7zM1180 203h7v7h-7zM765 208h7v7h-7zM855 208h7v7h-7zM860 208h7v7h-7zM910 208h7v7h-7zM915 208h7v7h-7zM1185 208h7v7h-7zM760 213h7v7h-7zM1185 213h7v7h-7zM760 218h7v7h-7zM1185 218h7v7h-7zM760 223h7v7h-7zM1185 223h7v7h-7zM760 228h7v7h-7zM1185 228h7v7h-7zM1185 233h7v7h-7zM1185 238h7v7h-7zM770 243h7v7h-7zM1185 243h7v7h-7zM1180 253h7v7h-7zM1180 258h7v7h-7zM1175 263h7v7h-7zM1170 273h7v7h-7zM805 278h7v7h-7zM1165 278h7v7h-7zM805 283h7v7h-7zM1150 288h7v7h-7zM1145 293h7v7h-7zM1130 303h7v7h-7zM805 308h7v7h-7zM1125 308h7v7h-7zM1120 313h7v7h-7zM800 318h7v7h-7zM1115 318h7v7h-7zM1110 323h7v7h-7zM795 328h7v7h-7zM790 333h7v7h-7zM1090 343h7v7h-7zM780 348h7v7h-7zM1085 348h7v7h-7zM775 353h7v7h-7zM1080 353h7v7h-7zM1080 358h7v7h-7zM1080 363h7v7h-7zM765 368h7v7h-7zM1085 368h7v7h-7zM1095 373h7v7h-7zM1100 373h7v7h-7zM760 378h7v7h-7zM1120 378h7v7h-7zM1125 378h7v7h-7zM1130 378h7v7h-7zM1135 378h7v7h-7zM1140 378h7v7h-7zM1155 383h7v7h-7zM1160 388h7v7h-7zM755 393h7v7h-7zM755 398h7v7h-7zM1170 398h7v7h-7zM1175 403h7v7h-7zM1180 413h7v7h-7zM1180 418h7v7h-7zM1180 423h7v7h-7zM1180 428h7v7h-7zM755 433h7v7h-7zM1180 433h7v7h-7zM755 438h7v7h-7zM1180 438h7v7h-7zM1180 443h7v7h-7zM890 448h7v7h-7zM915 448h7v7h-7zM920 448h7v7h-7zM760 453h7v7h-7zM875 453h7v7h-7zM935 453h7v7h-7zM1175 453h7v7h-7zM765 458h7v7h-7zM950 458h7v7h-7zM1085 458h7v7h-7zM1090 458h7v7h-7zM1095 458h7v7h-7zM1100 458h7v7h-7zM1105 458h7v7h-7zM1110 458h7v7h-7zM1115 458h7v7h-7zM1120 458h7v7h-7zM1125 458h7v7h-7zM1160 458h7v7h-7zM1165 458h7v7h-7zM860 463h7v7h-7zM965 463h7v7h-7zM1045 463h7v7h-7zM1050 463h7v7h-7zM1055 463h7v7h-7zM775 468h7v7h-7zM850 468h7v7h-7zM780 473h7v7h-7zM785 473h7v7h-7zM835 473h7v7h-7zM800 478h7v7h-7zM805 478h7v7h-7zM810 478h7v7h-7zM815 478h7v7h-7z"/>
<path fill="#4040ff" d="M1140 193h7v7h-7zM1145 193h7v7h-7zM1150 193h7v7h-7zM1155 193h7v7h-7zM1160 193h7v7h-7zM1165 193h7v7h-7zM1125 198h7v7h-7zM1130 198h7v7h-7zM1170 198h7v7h-7zM1175 198h7v7h-7zM785 203h7v7h-7zM790 203h7v7h-7zM795 203h7v7h-7zM800 203h7v7h-7zM805 203h7v7h-7zM810 203h7v7h-7zM815 203h7v7h-7zM955 203h7v7h-7zM960 203h7v7h-7zM965 203h7v7h-7zM970 203h7v7h-7zM975 203h7v7h-7zM980 203h7v7h-7zM985 203h7v7h-7zM990 203h7v7h-7zM995 203h7v7h-7zM1000 203h7v7h-7zM1005 203h7v7h-7zM1105 203h7v7h-7zM1110 203h7v7h-7zM770 208h7v7h-7zM775 208h7v7h-7zM840 208h7v7h-7zM845 208h7v7h-7zM850 208h7v7h-7zM920 208h7v7h-7zM925 208h7v7h-7zM1050 208h7v7h-7zM1055 208h7v7h-7zM1060 208h7v7h-7zM1065 208h7v7h-7zM1070 208h7v7h-7zM1075 208h7v7h-7zM1080 208h7v7h-7zM1085 208h7v7h-7zM1180 208h7v7h-7zM765 213h7v7h-7zM1180 213h7v7h-7zM765 228h7v7h-7zM765 233h7v7h-7zM770 238h7v7h-7zM775 243h7v7h-7zM1180 243h7v7h-7zM780 248h7v7h-7zM1180 248h7v7h-7zM785 253h7v7h-7zM790 258h7v7h-7zM1175 258h7v7h-7zM795 263h7v7h-7zM800 268h7v7h-7zM1170 268h7v7h-7zM805 273h7v7h-7zM1165 273h7v7h-7zM1160 278h7v7h-7zM1155 283h7v7h-7zM810 293h7v7h-7zM1140 293h7v7h-7zM1135 298h7v7h-7zM1120 308h7v7h-7zM805 313h7v7h-7zM1115 313h7v7h-7zM1110 318h7v7h-7zM800 323h7v7h-7zM1105 323h7v7h-7zM1100 328h7v7h-7zM1095 333h7v7h-7zM790 338h7v7h-7zM1090 338h7v7h-7zM785 343h7v7h-7zM1085 343h7v7h-7zM1080 348h7v7h-7zM1075 358h7v7h-7zM770 363h7v7h-7zM1075 363h7v7h-7zM1080 368h7v7h-7zM765 373h7v7h-7zM1085 373h7v7h-7zM1090 373h7v7h-7zM1095 378h7v7h-7zM1100 378h7v7h-7zM1105 378h7v7h-7zM1110 378h7v7h-7zM1115 378h7v7h-7zM760 383h7v7h-7zM1140 383h7v7h-7zM1145 383h7v7h-7zM1150 383h7v7h-7zM1155 388h7v7h-7zM1165 393h7v7h-7zM755 403h7v7h-7zM1170 403h7v7h-7zM755 408h7v7h-7zM1175 408h7v7h-7zM755 413h7v7h-7zM1175 413h7v7h-7zM755 418h7v7h-7zM755 423h7v7h-7zM755 428h7v7h-7zM760 443h7v7h-7zM1175 443h7v7h-7zM760 448h7v7h-7zM885 448h7v7h-7zM925 448h7v7h-7zM1170 448h7v7h-7zM1175 448h7v7h-7zM765 453h7v7h-7zM1165 453h7v7h-7zM1170 453h7v7h-7zM865 458h7v7h-7zM1070 458h7v7h-7zM1075 458h7v7h-7zM1080 458h7v7h-7zM1130 458h7v7h-7zM1135 458h7v7h-7zM1140 458h7v7h-7zM1145 458h7v7h-7zM1150 458h7v7h-7zM1155 458h7v7h-7zM770 463h7v7h-7zM855 463h7v7h-7zM970 463h7v7h-7zM975 463h7v7h-7zM1035 463h7v7h-7zM1040 463h7v7h-7zM780 468h7v7h-7zM845 468h7v7h-7zM790 473h7v7h-7zM795 473h7v7h-7zM830 473h7v7h-7z"/>
<path fill="#3c3cff" d="M1135 198h7v7h-7zM1140 198h7v7h-7zM1145 198h7v7h-7zM1160 198h7v7h-7zM1165 198h7v7h-7zM1115 203h7v7h-7zM1120 203h7v7h-7zM1170 203h7v7h-7zM1175 203h7v7h-7zM780 208h7v7h-7zM830 208h7v7h-7zM835 208h7v7h-7zM930 208h7v7h-7zM935 208h7v7h-7zM1030 208h7v7h-7zM1035 208h7v7h-7zM1040 208h7v7h-7zM1045 208h7v7h-7zM1090 208h7v7h-7zM1095 208h7v7h-7zM1100 208h7v7h-7zM1175 208h7v7h-7zM770 213h7v7h-7zM865 213h7v7h-7zM870 213h7v7h-7zM875 213h7v7h-7zM880 213h7v7h-7zM885 213h7v7h-7zM890 213h7v7h-7zM895 213h7v7h-7zM900 213h7v7h-7zM905 213h7v7h-7zM765 218h7v7h-7zM1180 218h7v7h-7zM765 223h7v7h-7zM1180 223h7v7h-7zM1180 228h7v7h-7zM770 233h7v7h-7zM1180 233h7v7h-7zM775 238h7v7h-7zM1180 238h7v7h-7zM780 243h7v7h-7zM785 248h7v7h-7zM790 253h7v7h-7zM1175 253h7v7h-7zM795 258h7v7h-7zM800 263h7v7h-7zM1170 263h7v7h-7zM1165 268h7v7h-7zM1160 273h7v7h-7zM1155 278h7v7h-7zM810 283h7v7h-7zM1150 283h7v7h-7zM810 288h7v7h-7zM1145 288h7v7h-7zM1135 293h7v7h-7zM810 298h7v7h-7zM1130 298h7v7h-7zM810 303h7v7h-7zM1125 303h7v7h-7zM805 318h7v7h-7zM795 333h7v7h-7zM1090 333h7v7h-7zM1085 338h7v7h-7zM1080 343h7v7h-7zM1075 348h7v7h-7zM780 353h7v7h-7zM1075 353h7v7h-7zM775 358h7v7h-7zM1070 358h7v7h-7zM1070 363h7v7h-7zM1075 368h7v7h-7zM1080 373h7v7h-7zM1090 378h7v7h-7zM1105 383h7v7h-7zM1110 383h7v7h-7zM1115 383h7v7h-7zM1120 383h7v7h-7zM1125 383h7v7h-7zM1130 383h7v7h-7zM1135 383h7v7h-7zM760 388h7v7h-7zM1150 388h7v7h-7zM1160 393h7v7h-7zM1165 398h7v7h-7zM1170 408h7v7h-7zM1175 418h7v7h-7zM1175 423h7v7h-7zM1175 428h7v7h-7zM1175 433h7v7h-7zM760 438h7v7h-7zM1175 438h7v7h-7zM890 443h7v7h-7zM895 443h7v7h-7zM900 443h7v7h-7zM905 443h7v7h-7zM910 443h7v7h-7zM1170 443h7v7h-7zM765 448h7v7h-7zM880 448h7v7h-7zM930 448h7v7h-7zM1165 448h7v7h-7zM870 453h7v7h-7zM940 453h7v7h-7zM1090 453h7v7h-7zM1095 453h7v7h-7zM1100 453h7v7h-7zM1105 453h7v7h-7zM1110 453h7v7h-7zM1115 453h7v7h-7zM1120 453h7v7h-7zM1125 453h7v7h-7zM1130 453h7v7h-7zM1135 453h7v7h-7zM1140 453h7v7h-7zM1145 453h7v7h-7zM1150 453h7v7h-7zM1155 453h7v7h-7zM1160 453h7v7h-7zM770 458h7v7h-7zM860 458h7v7h-7zM955 458h7v7h-7zM1060 458h7v7h-7zM1065 458h7v7h-7zM775 463h7v7h-7zM850 463h7v7h-7zM980 463h7v7h-7zM985 463h7v7h-7zM1020 463h7v7h-7zM1025 463h7v7h-7zM1030 463h7v7h-7zM785 468h7v7h-7zM840 468h7v7h-7zM800 473h7v7h-7zM805 473h7v7h-7zM810 473h7v7h-7zM815 473h7v7h-7zM820 473h7v7h-7zM825 473h7v7h-7z"/>
<path fill="#3838ff" d="M1150 198h7v7h-7zM1155 198h7v7h-7zM1125 203h7v7h-7zM1130 203h7v7h-7zM1135 203h7v7h-7zM1160 203h7v7h-7zM1165 203h7v7h-7zM785 208h7v7h-7zM790 208h7v7h-7zM795 208h7v7h-7zM800 208h7v7h-7zM805 208h7v7h-7zM810 208h7v7h-7zM815 208h7v7h-7zM820 208h7v7h-7zM825 208h7v7h-7zM940 208h7v7h-7zM945 208h7v7h-7zM1020 208h7v7h-7zM1025 208h7v7h-7zM1105 208h7v7h-7zM1110 208h7v7h-7zM1115 208h7v7h-7zM1170 208h7v7h-7zM775 213h7v7h-7zM780 213h7v7h-7zM850 213h7v7h-7zM855 213h7v7h-7zM860 213h7v7h-7zM910 213h7v7h-7zM915 213h7v7h-7zM1175 213h7v7h-7zM770 218h7v7h-7zM1175 218h7v7h-7zM770 223h7v7h-7zM1175 223h7v7h-7zM770 228h7v7h-7zM1175 228h7v7h-7zM775 233h7v7h-7zM1175 233h7v7h-7zM1175 238h7v7h-7zM1175 243h7v7h-7zM1175 248h7v7h-7zM1170 258h7v7h-7zM1165 263h7v7h-7zM805 268h7v7h-7zM810 273h7v7h-7zM810 278h7v7h-7zM1145 283h7v7h-7zM1140 288h7v7h-7zM1125 298h7v7h-7zM1120 303h7v7h-7zM810 308h7v7h-7zM1115 308h7v7h-7zM1110 313h7v7h-7zM1105 318h7v7h-7zM1100 323h7v7h-7zM800 328h7v7h-7zM1095 328h7v7h-7zM790 343h7v7h-7zM785 348h7v7h-7zM1070 353h7v7h-7zM770 368h7v7h-7zM1070 368h7v7h-7zM1075 373h7v7h-7zM765 378h7v7h-7zM1080 378h7v7h-7zM1085 378h7v7h-7zM1095 383h7v7h-7zM1100 383h7v7h-7zM1130 388h7v7h-7zM1135 388h7v7h-7zM1140 388h7v7h-7zM1145 388h7v7h-7zM760 393h7v7h-7zM1150 393h7v7h-7zM1155 393h7v7h-7zM760 398h7v7h-7zM1160 398h7v7h-7zM1165 403h7v7h-7zM1165 408h7v7h-7zM1170 413h7v7h-7zM1170 418h7v7h-7zM1170 423h7v7h-7zM760 428h7v7h-7zM1170 428h7v7h-7zM760 433h7v7h-7zM1170 433h7v7h-7zM1170 438h7v7h-7zM765 443h7v7h-7zM885 443h7v7h-7zM915 443h7v7h-7zM920 443h7v7h-7zM1165 443h7v7h-7zM875 448h7v7h-7zM1155 448h7v7h-7zM1160 448h7v7h-7zM770 453h7v7h-7zM865 453h7v7h-7zM945 453h7v7h-7zM1080 453h7v7h-7zM1085 453h7v7h-7zM775 458h7v7h-7zM960 458h7v7h-7zM1050 458h7v7h-7zM1055 458h7v7h-7zM780 463h7v7h-7zM990 463h7v7h-7zM995 463h7v7h-7zM1000 463h7v7h-7zM1005 463h7v7h-7zM1010 463h7v7h-7zM1015 463h7v7h-7zM790 468h7v7h-7zM835 468h7v7h-7z"/>
<path fill="#3434ff" d="M1140 203h7v7h-7zM1145 203h7v7h-7zM1150 203h7v7h-7zM1155 203h7v7h-7zM950 208h7v7h-7zM955 208h7v7h-7zM1005 208h7v7h-7zM1010 208h7v7h-7zM1015 208h7v7h-7zM1120 208h7v7h-7zM1125 208h7v7h-7zM1160 208h7v7h-7zM1165 208h7v7h-7zM785 213h7v7h-7zM840 213h7v7h-7zM845 213h7v7h-7zM920 213h7v7h-7zM1050 213h7v7h-7zM1055 213h7v7h-7zM1060 213h7v7h-7zM1065 213h7v7h-7zM1070 213h7v7h-7zM1075 213h7v7h-7zM1080 213h7v7h-7zM1085 213h7v7h-7zM1090 213h7v7h-7zM1095 213h7v7h-7zM1100 213h7v7h-7zM1170 213h7v7h-7zM775 218h7v7h-7zM780 218h7v7h-7zM1170 218h7v7h-7zM775 223h7v7h-7zM775 228h7v7h-7zM780 233h7v7h-7zM780 238h7v7h-7zM785 243h7v7h-7zM790 248h7v7h-7zM1170 248h7v7h-7zM795 253h7v7h-7zM1170 253h7v7h-7zM800 258h7v7h-7zM1165 258h7v7h-7zM805 263h7v7h-7zM1160 268h7v7h-7zM1155 273h7v7h-7zM1150 278h7v7h-7zM815 283h7v7h-7zM815 288h7v7h-7zM1135 288h7v7h-7zM815 293h7v7h-7zM1130 293h7v7h-7zM815 298h7v7h-7zM810 313h7v7h-7zM805 323h7v7h-7zM1095 323h7v7h-7zM1090 328h7v7h-7zM1085 333h7v7h-7zM795 338h7v7h-7zM1080 338h7v7h-7zM1075 343h7v7h-7zM1070 348h7v7h-7zM1065 353h7v7h-7zM780 358h7v7h-7zM1065 358h7v7h-7zM775 363h7v7h-7zM1065 363h7v7h-7zM1065 368h7v7h-7zM770 373h7v7h-7zM1070 373h7v7h-7zM1075 378h7v7h-7zM765 383h7v7h-7zM1085 383h7v7h-7zM1090 383h7v7h-7zM1100 388h7v7h-7zM1105 388h7v7h-7zM1110 388h7v7h-7zM1115 388h7v7h-7zM1120 388h7v7h-7zM1125 388h7v7h-7zM1140 393h7v7h-7zM1145 393h7v7h-7zM1155 398h7v7h-7zM760 403h7v7h-7zM1160 403h7v7h-7zM760 408h7v7h-7zM1160 408h7v7h-7zM760 413h7v7h-7zM1165 413h7v7h-7zM760 418h7v7h-7zM1165 418h7v7h-7zM760 423h7v7h-7zM1165 423h7v7h-7zM1165 428h7v7h-7zM1165 433h7v7h-7zM765 438h7v7h-7zM900 438h7v7h-7zM1160 438h7v7h-7zM1165 438h7v7h-7zM880 443h7v7h-7zM925 443h7v7h-7zM1155 443h7v7h-7zM1160 443h7v7h-7zM770 448h7v7h-7zM870 448h7v7h-7zM935 448h7v7h-7zM1095 448h7v7h-7zM1100 448h7v7h-7zM1105 448h7v7h-7zM1110 448h7v7h-7zM1115 448h7v7h-7zM1120 448h7v7h-7zM1125 448h7v7h-7zM1130 448h7v7h-7zM1135 448h7v7h-7zM1140 448h7v7h-7zM1145 448h7v7h-7zM1150 448h7v7h-7zM950 453h7v7h-7zM1070 453h7v7h-7zM1075 453h7v7h-7zM855 458h7v7h-7zM965 458h7v7h-7zM970 458h7v7h-7zM1040 458h7v7h-7zM1045 458h7v7h-7zM785 463h7v7h-7zM845 463h7v7h-7zM795 468h7v7h-7zM800 468h7v7h-7zM825 468h7v7h-7zM830 468h7v7h-7z"/>
<path fill="#3030ff" d="M960 208h7v7h-7zM965 208h7v7h-7zM970 208h7v7h-7zM975 208h7v7h-7zM980 208h7v7h-7zM985 208h7v7h-7zM990 208h7v7h-7zM995 208h7v7h-7zM1000 208h7v7h-7zM1130 208h7v7h-7zM1135 208h7v7h-7zM1140 208h7v7h-7zM1145 208h7v7h-7zM1150 208h7v7h-7zM1155 208h7v7h-7zM790 213h7v7h-7zM795 213h7v7h-7zM800 213h7v7h-7zM820 213h7v7h-7zM825 213h7v7h-7zM830 213h7v7h-7zM835 213h7v7h-7zM925 213h7v7h-7zM930 213h7v7h-7zM1035 213h7v7h-7zM1040 213h7v7h-7zM1045 213h7v7h-7zM1105 213h7v7h-7zM1110 213h7v7h-7zM1115 213h7v7h-7zM1160 213h7v7h-7zM1165 213h7v7h-7zM785 218h7v7h-7zM860 218h7v7h-7zM865 218h7v7h-7zM870 218h7v7h-7zM875 218h7v7h-7zM880 218h7v7h-7zM885 218h7v7h-7zM890 218h7v7h-7zM895 218h7v7h-7zM900 218h7v7h-7zM1165 218h7v7h-7zM780 223h7v7h-7zM1170 223h7v7h-7zM780 228h7v7h-7zM1170 228h7v7h-7zM1170 233h7v7h-7zM785 238h7v7h-7zM1170 238h7v7h-7zM790 243h7v7h-7zM1170 243h7v7h-7zM795 248h7v7h-7zM800 253h7v7h-7zM1165 253h7v7h-7zM805 258h7v7h-7zM1160 263h7v7h-7zM810 268h7v7h-7zM1155 268h7v7h-7zM1150 273h7v7h-7zM815 278h7v7h-7zM1145 278h7v7h-7zM1140 283h7v7h-7zM1130 288h7v7h-7zM1125 293h7v7h-7zM1120 298h7v7h-7zM815 303h7v7h-7zM1115 303h7v7h-7zM1110 308h7v7h-7zM1105 313h7v7h-7zM810 318h7v7h-7zM1100 318h7v7h-7zM805 328h7v7h-7zM800 333h7v7h-7zM1070 343h7v7h-7zM790 348h7v7h-7zM785 353h7v7h-7zM1060 358h7v7h-7zM1060 363h7v7h-7zM775 368h7v7h-7zM1065 373h7v7h-7zM770 378h7v7h-7zM1080 383h7v7h-7zM765 388h7v7h-7zM1090 388h7v7h-7zM1095 388h7v7h-7zM765 393h7v7h-7zM1110 393h7v7h-7zM1115 393h7v7h-7zM1120 393h7v7h-7zM1125 393h7v7h-7zM1130 393h7v7h-7zM1135 393h7v7h-7zM1145 398h7v7h-7zM1150 398h7v7h-7zM1150 403h7v7h-7zM1155 403h7v7h-7zM1155 408h7v7h-7zM1160 413h7v7h-7zM1160 418h7v7h-7zM1160 423h7v7h-7zM1160 428h7v7h-7zM765 433h7v7h-7zM1160 433h7v7h-7zM890 438h7v7h-7zM895 438h7v7h-7zM905 438h7v7h-7zM910 438h7v7h-7zM1150 438h7v7h-7zM1155 438h7v7h-7zM875 443h7v7h-7zM1110 443h7v7h-7zM1115 443h7v7h-7zM1120 443h7v7h-7zM1125 443h7v7h-7zM1130 443h7v7h-7zM1135 443h7v7h-7zM1140 443h7v7h-7zM1145 443h7v7h-7zM1150 443h7v7h-7zM940 448h7v7h-7zM1080 448h7v7h-7zM1085 448h7v7h-7zM1090 448h7v7h-7zM775 453h7v7h-7zM860 453h7v7h-7zM955 453h7v7h-7zM1060 453h7v7h-7zM1065 453h7v7h-7zM780 458h7v7h-7zM850 458h7v7h-7zM975 458h7v7h-7zM1030 458h7v7h-7zM1035 458h7v7h-7zM790 463h7v7h-7zM840 463h7v7h-7zM805 468h7v7h-7zM810 468h7v7h-7zM815 468h7v7h-7zM820 468h7v7h-7z"/>
<path fill="#2c2cff" d="M805 213h7v7h-7zM810 213h7v7h-7zM815 213h7v7h-7zM935 213h7v7h-7zM940 213h7v7h-7zM1025 213h7v7h-7zM1030 213h7v7h-7zM1120 213h7v7h-7zM1125 213h7v7h-7zM1130 213h7v7h-7zM1135 213h7v7h-7zM1140 213h7v7h-7zM1145 213h7v7h-7zM1150 213h7v7h-7zM1155 213h7v7h-7zM790 218h7v7h-7zM795 218h7v7h-7zM850 218h7v7h-7zM855 218h7v7h-7zM905 218h7v7h-7zM910 218h7v7h-7zM1070 218h7v7h-7zM1075 218h7v7h-7zM1080 218h7v7h-7zM1085 218h7v7h-7zM1090 218h7v7h-7zM1095 218h7v7h-7zM1160 218h7v7h-7zM785 223h7v7h-7zM1160 223h7v7h-7zM1165 223h7v7h-7zM785 228h7v7h-7zM1165 228h7v7h-7zM785 233h7v7h-7zM1165 233h7v7h-7zM790 238h7v7h-7zM1165 238h7v7h-7zM795 243h7v7h-7zM1165 243h7v7h-7zM800 248h7v7h-7zM1165 248h7v7h-7zM1160 253h7v7h-7zM1160 258h7v7h-7zM810 263h7v7h-7zM1155 263h7v7h-7zM1150 268h7v7h-7zM815 273h7v7h-7zM1145 273h7v7h-7zM1140 278h7v7h-7zM1135 283h7v7h-7zM1110 303h7v7h-7zM815 308h7v7h-7zM1105 308h7v7h-7zM1100 313h7v7h-7zM1095 318h7v7h-7zM1090 323h7v7h-7zM1085 328h7v7h-7zM1080 333h7v7h-7zM800 338h7v7h-7zM1075 338h7v7h-7zM795 343h7v7h-7zM1065 348h7v7h-7zM1060 353h7v7h-7zM780 363h7v7h-7zM1060 368h7v7h-7zM1070 378h7v7h-7zM1075 383h7v7h-7zM1085 388h7v7h-7zM1095 393h7v7h-7zM1100 393h7v7h-7zM1105 393h7v7h-7zM765 398h7v7h-7zM1120 398h7v7h-7zM1125 398h7v7h-7zM1130 398h7v7h-7zM1135 398h7v7h-7zM1140 398h7v7h-7zM765 403h7v7h-7zM1140 403h7v7h-7zM1145 403h7v7h-7zM1150 408h7v7h-7zM1155 413h7v7h-7zM1155 418h7v7h-7zM765 423h7v7h-7zM1155 423h7v7h-7zM765 428h7v7h-7zM1150 428h7v7h-7zM1155 428h7v7h-7zM1145 433h7v7h-7zM1150 433h7v7h-7zM1155 433h7v7h-7zM885 438h7v7h-7zM915 438h7v7h-7zM920 438h7v7h-7zM1120 438h7v7h-7zM1125 438h7v7h-7zM1130 438h7v7h-7zM1135 438h7v7h-7zM1140 438h7v7h-7zM1145 438h7v7h-7zM770 443h7v7h-7zM930 443h7v7h-7zM1095 443h7v7h-7zM1100 443h7v7h-7zM1105 443h7v7h-7zM775 448h7v7h-7zM865 448h7v7h-7zM945 448h7v7h-7zM1075 448h7v7h-7zM780 453h7v7h-7zM855 453h7v7h-7zM960 453h7v7h-7zM1050 453h7v7h-7zM1055 453h7v7h-7zM785 458h7v7h-7zM845 458h7v7h-7zM980 458h7v7h-7zM985 458h7v7h-7zM1015 458h7v7h-7zM1020 458h7v7h-7zM1025 458h7v7h-7zM795 463h7v7h-7zM830 463h7v7h-7zM835 463h7v7h-7z"/>
<path fill="#2828ff" d="M945 213h7v7h-7zM1015 213h7v7h-7zM1020 213h7v7h-7zM800 218h7v7h-7zM805 218h7v7h-7zM810 218h7v7h-7zM830 218h7v7h-7zM835 218h7v7h-7zM840 218h7v7h-7zM845 218h7v7h-7zM915 218h7v7h-7zM1050 218h7v7h-7zM1055 218h7v7h-7zM1060 218h7v7h-7zM1065 218h7v7h-7zM1100 218h7v7h-7zM1105 218h7v7h-7zM1110 218h7v7h-7zM1115 218h7v7h-7zM1120 218h7v7h-7zM1125 218h7v7h-7zM1130 218h7v7h-7zM1135 218h7v7h-7zM1140 218h7v7h-7zM1145 218h7v7h-7zM1150 218h7v7h-7zM1155 218h7v7h-7zM790 223h7v7h-7zM795 223h7v7h-7zM1155 223h7v7h-7zM790 228h7v7h-7zM1160 228h7v7h-7zM790 233h7v7h-7zM1160 233h7v7h-7zM795 238h7v7h-7zM1160 238h7v7h-7zM1160 243h7v7h-7zM1160 248h7v7h-7zM805 253h7v7h-7zM810 258h7v7h-7zM1155 258h7v7h-7zM815 263h7v7h-7zM1150 263h7v7h-7zM815 268h7v7h-7zM1145 268h7v7h-7zM1140 273h7v7h-7zM820 278h7v7h-7zM1135 278h7v7h-7zM820 283h7v7h-7zM1130 283h7v7h-7zM820 288h7v7h-7zM1125 288h7v7h-7zM820 293h7v7h-7zM1120 293h7v7h-7zM820 298h7v7h-7zM1115 298h7v7h-7zM815 313h7v7h-7zM810 323h7v7h-7zM805 333h7v7h-7zM1070 338h7v7h-7zM1065 343h7v7h-7zM1060 348h7v7h-7zM790 353h7v7h-7zM785 358h7v7h-7zM1055 358h7v7h-7zM1055 363h7v7h-7zM775 373h7v7h-7zM1060 373h7v7h-7zM1065 378h7v7h-7zM770 383h7v7h-7zM1070 383h7v7h-7zM1080 388h7v7h-7zM1090 393h7v7h-7zM1100 398h7v7h-7zM1105 398h7v7h-7zM1110 398h7v7h-7zM1115 398h7v7h-7zM1120 403h7v7h-7zM1125 403h7v7h-7zM1130 403h7v7h-7zM1135 403h7v7h-7zM765 408h7v7h-7zM1135 408h7v7h-7zM1140 408h7v7h-7zM1145 408h7v7h-7zM765 413h7v7h-7zM1145 413h7v7h-7zM1150 413h7v7h-7zM765 418h7v7h-7zM1145 418h7v7h-7zM1150 418h7v7h-7zM1145 423h7v7h-7zM1150 423h7v7h-7zM1140 428h7v7h-7zM1145 428h7v7h-7zM770 433h7v7h-7zM895 433h7v7h-7zM900 433h7v7h-7zM905 433h7v7h-7zM1120 433h7v7h-7zM1125 433h7v7h-7zM1130 433h7v7h-7zM1135 433h7v7h-7zM1140 433h7v7h-7zM770 438h7v7h-7zM880 438h7v7h-7zM1100 438h7v7h-7zM1105 438h7v7h-7zM1110 438h7v7h-7zM1115 438h7v7h-7zM870 443h7v7h-7zM935 443h7v7h-7zM1085 443h7v7h-7zM1090 443h7v7h-7zM860 448h7v7h-7zM950 448h7v7h-7zM1065 448h7v7h-7zM1070 448h7v7h-7zM850 453h7v7h-7zM965 453h7v7h-7zM1045 453h7v7h-7zM790 458h7v7h-7zM840 458h7v7h-7zM990 458h7v7h-7zM995 458h7v7h-7zM1000 458h7v7h-7zM1005 458h7v7h-7zM1010 458h7v7h-7zM800 463h7v7h-7zM805 463h7v7h-7zM810 463h7v7h-7zM815 463h7v7h-7zM820 463h7v7h-7zM825 463h7v7h-7z"/>
<path fill="#2424ff" d="M950 213h7v7h-7zM955 213h7v7h-7zM960 213h7v7h-7zM1000 213h7v7h-7zM1005 213h7v7h-7zM1010 213h7v7h-7zM815 218h7v7h-7zM820 218h7v7h-7zM825 218h7v7h-7zM920 218h7v7h-7zM925 218h7v7h-7zM1040 218h7v7h-7zM1045 218h7v7h-7zM800 223h7v7h-7zM805 223h7v7h-7zM855 223h7v7h-7zM860 223h7v7h-7zM865 223h7v7h-7zM870 223h7v7h-7zM875 223h7v7h-7zM880 223h7v7h-7zM885 223h7v7h-7zM890 223h7v7h-7zM1140 223h7v7h-7zM1145 223h7v7h-7zM1150 223h7v7h-7zM795 228h7v7h-7zM1150 228h7v7h-7zM1155 228h7v7h-7zM795 233h7v7h-7zM1155 233h7v7h-7zM800 238h7v7h-7zM1155 238h7v7h-7zM800 243h7v7h-7zM1155 243h7v7h-7zM805 248h7v7h-7zM1155 248h7v7h-7zM810 253h7v7h-7zM1155 253h7v7h-7zM1150 258h7v7h-7zM1145 263h7v7h-7zM820 268h7v7h-7zM820 273h7v7h-7zM1125 283h7v7h-7zM1120 288h7v7h-7zM1115 293h7v7h-7zM1110 298h7v7h-7zM820 303h7v7h-7zM1105 303h7v7h-7zM1100 308h7v7h-7zM1095 313h7v7h-7zM815 318h7v7h-7zM1090 318h7v7h-7zM1085 323h7v7h-7zM810 328h7v7h-7zM1080 328h7v7h-7zM1075 333h7v7h-7zM800 343h7v7h-7zM795 348h7v7h-7zM1055 353h7v7h-7zM780 368h7v7h-7zM1055 368h7v7h-7zM1055 373h7v7h-7zM775 378h7v7h-7zM1060 378h7v7h-7zM770 388h7v7h-7zM1075 388h7v7h-7zM770 393h7v7h-7zM1085 393h7v7h-7zM1095 398h7v7h-7zM1105 403h7v7h-7zM1110 403h7v7h-7zM1115 403h7v7h-7zM1115 408h7v7h-7zM1120 408h7v7h-7zM1125 408h7v7h-7zM1130 408h7v7h-7zM1125 413h7v7h-7zM1130 413h7v7h-7zM1135 413h7v7h-7zM1140 413h7v7h-7zM1125 418h7v7h-7zM1130 418h7v7h-7zM1135 418h7v7h-7zM1140 418h7v7h-7zM1125 423h7v7h-7zM1130 423h7v7h-7zM1135 423h7v7h-7zM1140 423h7v7h-7zM770 428h7v7h-7zM1115 428h7v7h-7zM1120 428h7v7h-7zM1125 428h7v7h-7zM1130 428h7v7h-7zM1135 428h7v7h-7zM885 433h7v7h-7zM890 433h7v7h-7zM910 433h7v7h-7zM1105 433h7v7h-7zM1110 433h7v7h-7zM1115 433h7v7h-7zM875 438h7v7h-7zM925 438h7v7h-7zM1090 438h7v7h-7zM1095 438h7v7h-7zM775 443h7v7h-7zM865 443h7v7h-7zM940 443h7v7h-7zM1075 443h7v7h-7zM1080 443h7v7h-7zM780 448h7v7h-7zM1060 448h7v7h-7zM785 453h7v7h-7zM970 453h7v7h-7zM1035 453h7v7h-7zM1040 453h7v7h-7zM795 458h7v7h-7zM835 458h7v7h-7z"/>
<path fill="#2020ff" d="M965 213h7v7h-7zM970 213h7v7h-7zM975 213h7v7h-7zM980 213h7v7h-7zM985 213h7v7h-7zM990 213h7v7h-7zM995 213h7v7h-7zM930 218h7v7h-7zM1030 218h7v7h-7zM1035 218h7v7h-7zM810 223h7v7h-7zM815 223h7v7h-7zM820 223h7v7h-7zM825 223h7v7h-7zM830 223h7v7h-7zM835 223h7v7h-7zM840 223h7v7h-7zM845 223h7v7h-7zM850 223h7v7h-7zM895 223h7v7h-7zM900 223h7v7h-7zM905 223h7v7h-7zM1065 223h7v7h-7zM1070 223h7v7h-7zM1075 223h7v7h-7zM1080 223h7v7h-7zM1085 223h7v7h-7zM1090 223h7v7h-7zM1095 223h7v7h-7zM1100 223h7v7h-7zM1105 223h7v7h-7zM1110 223h7v7h-7zM1115 223h7v7h-7zM1120 223h7v7h-7zM1125 223h7v7h-7zM1130 223h7v7h-7zM1135 223h7v7h-7zM800 228h7v7h-7zM805 228h7v7h-7zM1140 228h7v7h-7zM1145 228h7v7h-7zM800 233h7v7h-7zM805 233h7v7h-7zM1145 233h7v7h-7zM1150 233h7v7h-7zM805 238h7v7h-7zM1150 238h7v7h-7zM805 243h7v7h-7zM1150 243h7v7h-7zM810 248h7v7h-7zM1150 248h7v7h-7zM815 253h7v7h-7zM1150 253h7v7h-7zM815 258h7v7h-7zM1145 258h7v7h-7zM820 263h7v7h-7zM1140 268h7v7h-7zM1135 273h7v7h-7zM1130 278h7v7h-7zM825 283h7v7h-7zM825 288h7v7h-7zM820 308h7v7h-7zM805 338h7v7h-7zM1065 338h7v7h-7zM1060 343h7v7h-7zM1055 348h7v7h-7zM790 358h7v7h-7zM1050 358h7v7h-7zM785 363h7v7h-7zM1050 363h7v7h-7zM1050 368h7v7h-7zM780 373h7v7h-7zM775 383h7v7h-7zM1065 383h7v7h-7zM1070 388h7v7h-7zM1080 393h7v7h-7zM770 398h7v7h-7zM1085 398h7v7h-7zM1090 398h7v7h-7zM770 403h7v7h-7zM1095 403h7v7h-7zM1100 403h7v7h-7zM770 408h7v7h-7zM1105 408h7v7h-7zM1110 408h7v7h-7zM770 413h7v7h-7zM1110 413h7v7h-7zM1115 413h7v7h-7zM1120 413h7v7h-7zM770 418h7v7h-7zM1110 418h7v7h-7zM1115 418h7v7h-7zM1120 418h7v7h-7zM770 423h7v7h-7zM1110 423h7v7h-7zM1115 423h7v7h-7zM1120 423h7v7h-7zM1100 428h7v7h-7zM1105 428h7v7h-7zM1110 428h7v7h-7zM880 433h7v7h-7zM915 433h7v7h-7zM1095 433h7v7h-7zM1100 433h7v7h-7zM775 438h7v7h-7zM870 438h7v7h-7zM930 438h7v7h-7zM1085 438h7v7h-7zM780 443h7v7h-7zM1070 443h7v7h-7zM855 448h7v7h-7zM955 448h7v7h-7zM1055 448h7v7h-7zM790 453h7v7h-7zM845 453h7v7h-7zM975 453h7v7h-7zM1025 453h7v7h-7zM1030 453h7v7h-7zM800 458h7v7h-7zM805 458h7v7h-7zM825 458h7v7h-7zM830 458h7v7h-7z"/>
<path fill="#1c1cff" d="M935 218h7v7h-7zM940 218h7v7h-7zM1020 218h7v7h-7zM1025 218h7v7h-7zM910 223h7v7h-7zM1055 223h7v7h-7zM1060 223h7v7h-7zM810 228h7v7h-7zM815 228h7v7h-7zM820 228h7v7h-7zM1105 228h7v7h-7zM1110 228h7v7h-7zM1115 228h7v7h-7zM1120 228h7v7h-7zM1125 228h7v7h-7zM1130 228h7v7h-7zM1135 228h7v7h-7zM810 233h7v7h-7zM1135 233h7v7h-7zM1140 233h7v7h-7zM810 238h7v7h-7zM1145 238h7v7h-7zM810 243h7v7h-7zM1145 243h7v7h-7zM815 248h7v7h-7zM1145 248h7v7h-7zM1145 253h7v7h-7zM820 258h7v7h-7zM1140 258h7v7h-7zM1140 263h7v7h-7zM825 268h7v7h-7zM1135 268h7v7h-7zM825 273h7v7h-7zM1130 273h7v7h-7zM825 278h7v7h-7zM1125 278h7v7h-7zM1120 283h7v7h-7zM1115 288h7v7h-7zM825 293h7v7h-7zM1110 293h7v7h-7zM825 298h7v7h-7zM1105 298h7v7h-7zM1100 303h7v7h-7zM1095 308h7v7h-7zM820 313h7v7h-7zM1090 313h7v7h-7zM1085 318h7v7h-7zM815 323h7v7h-7zM1080 323h7v7h-7zM1075 328h7v7h-7zM810 333h7v7h-7zM1070 333h7v7h-7zM800 348h7v7h-7zM795 353h7v7h-7zM1050 353h7v7h-7zM785 368h7v7h-7zM1050 373h7v7h-7zM1055 378h7v7h-7zM1060 383h7v7h-7zM775 388h7v7h-7zM1065 388h7v7h-7zM1075 393h7v7h-7zM1080 398h7v7h-7zM1090 403h7v7h-7zM1095 408h7v7h-7zM1100 408h7v7h-7zM1100 413h7v7h-7zM1105 413h7v7h-7zM1100 418h7v7h-7zM1105 418h7v7h-7zM1100 423h7v7h-7zM1105 423h7v7h-7zM895 428h7v7h-7zM900 428h7v7h-7zM905 428h7v7h-7zM1095 428h7v7h-7zM775 433h7v7h-7zM875 433h7v7h-7zM920 433h7v7h-7zM1085 433h7v7h-7zM1090 433h7v7h-7zM935 438h7v7h-7zM1075 438h7v7h-7zM1080 438h7v7h-7zM860 443h7v7h-7zM945 443h7v7h-7zM1065 443h7v7h-7zM785 448h7v7h-7zM850 448h7v7h-7zM960 448h7v7h-7zM1045 448h7v7h-7zM1050 448h7v7h-7zM795 453h7v7h-7zM840 453h7v7h-7zM980 453h7v7h-7zM985 453h7v7h-7zM1015 453h7v7h-7zM1020 453h7v7h-7zM810 458h7v7h-7zM815 458h7v7h-7zM820 458h7v7h-7z"/>
<path fill="#1818ff" d="M945 218h7v7h-7zM1015 218h7v7h-7zM915 223h7v7h-7zM920 223h7v7h-7zM1045 223h7v7h-7zM1050 223h7v7h-7zM825 228h7v7h-7zM830 228h7v7h-7zM835 228h7v7h-7zM840 228h7v7h-7zM845 228h7v7h-7zM850 228h7v7h-7zM855 228h7v7h-7zM860 228h7v7h-7zM865 228h7v7h-7zM870 228h7v7h-7zM875 228h7v7h-7zM880 228h7v7h-7zM885 228h7v7h-7zM1075 228h7v7h-7zM1080 228h7v7h-7zM1085 228h7v7h-7zM1090 228h7v7h-7zM1095 228h7v7h-7zM1100 228h7v7h-7zM815 233h7v7h-7zM820 233h7v7h-7zM1120 233h7v7h-7zM1125 233h7v7h-7zM1130 233h7v7h-7zM815 238h7v7h-7zM1135 238h7v7h-7zM1140 238h7v7h-7zM815 243h7v7h-7zM1140 243h7v7h-7zM820 248h7v7h-7zM1140 248h7v7h-7zM820 253h7v7h-7zM1140 253h7v7h-7zM1135 258h7v7h-7zM825 263h7v7h-7zM1135 263h7v7h-7zM1130 268h7v7h-7zM1125 273h7v7h-7zM1120 278h7v7h-7zM1115 283h7v7h-7zM1110 288h7v7h-7zM825 303h7v7h-7zM820 318h7v7h-7zM815 328h7v7h-7zM805 343h7v7h-7zM1055 343h7v7h-7zM1045 358h7v7h-7zM790 363h7v7h-7zM1045 363h7v7h-7zM1045 368h7v7h-7zM780 378h7v7h-7zM775 393h7v7h-7zM1070 393h7v7h-7zM1075 398h7v7h-7zM1085 403h7v7h-7zM1090 408h7v7h-7zM1090 413h7v7h-7zM1095 413h7v7h-7zM1095 418h7v7h-7zM775 423h7v7h-7zM1090 423h7v7h-7zM1095 423h7v7h-7zM775 428h7v7h-7zM885 428h7v7h-7zM890 428h7v7h-7zM910 428h7v7h-7zM1085 428h7v7h-7zM1090 428h7v7h-7zM925 433h7v7h-7zM1080 433h7v7h-7zM780 438h7v7h-7zM865 438h7v7h-7zM1070 438h7v7h-7zM785 443h7v7h-7zM855 443h7v7h-7zM950 443h7v7h-7zM1060 443h7v7h-7zM790 448h7v7h-7zM845 448h7v7h-7zM965 448h7v7h-7zM1040 448h7v7h-7zM800 453h7v7h-7zM835 453h7v7h-7zM990 453h7v7h-7zM995 453h7v7h-7zM1000 453h7v7h-7zM1005 453h7v7h-7zM1010 453h7v7h-7z"/>
<path fill="#1414ff" d="M950 218h7v7h-7zM955 218h7v7h-7zM1000 218h7v7h-7zM1005 218h7v7h-7zM1010 218h7v7h-7zM925 223h7v7h-7zM1035 223h7v7h-7zM1040 223h7v7h-7zM890 228h7v7h-7zM895 228h7v7h-7zM1065 228h7v7h-7zM1070 228h7v7h-7zM825 233h7v7h-7zM830 233h7v7h-7zM835 233h7v7h-7zM1100 233h7v7h-7zM1105 233h7v7h-7zM1110 233h7v7h-7zM1115 233h7v7h-7zM820 238h7v7h-7zM825 238h7v7h-7zM1120 238h7v7h-7zM1125 238h7v7h-7zM1130 238h7v7h-7zM820 243h7v7h-7zM1130 243h7v7h-7zM1135 243h7v7h-7zM825 248h7v7h-7zM1130 248h7v7h-7zM1135 248h7v7h-7zM825 253h7v7h-7zM1130 253h7v7h-7zM1135 253h7v7h-7zM825 258h7v7h-7zM1130 258h7v7h-7zM1130 263h7v7h-7zM1125 268h7v7h-7zM830 273h7v7h-7zM1120 273h7v7h-7zM830 278h7v7h-7zM830 283h7v7h-7zM830 288h7v7h-7zM1105 293h7v7h-7zM1100 298h7v7h-7zM1095 303h7v7h-7zM825 308h7v7h-7zM1070 328h7v7h-7zM1065 333h7v7h-7zM810 338h7v7h-7zM1060 338h7v7h-7zM1050 348h7v7h-7zM800 353h7v7h-7zM1045 353h7v7h-7zM795 358h7v7h-7zM785 373h7v7h-7zM1045 373h7v7h-7zM1050 378h7v7h-7zM780 383h7v7h-7zM1055 383h7v7h-7zM1060 388h7v7h-7zM1065 393h7v7h-7zM775 398h7v7h-7zM775 403h7v7h-7zM1080 403h7v7h-7zM775 408h7v7h-7zM1085 408h7v7h-7zM775 413h7v7h-7zM1085 413h7v7h-7zM775 418h7v7h-7zM1090 418h7v7h-7zM1085 423h7v7h-7zM880 428h7v7h-7zM915 428h7v7h-7zM1080 428h7v7h-7zM780 433h7v7h-7zM870 433h7v7h-7zM930 433h7v7h-7zM1075 433h7v7h-7zM860 438h7v7h-7zM940 438h7v7h-7zM1065 438h7v7h-7zM850 443h7v7h-7zM955 443h7v7h-7zM1050 443h7v7h-7zM1055 443h7v7h-7zM795 448h7v7h-7zM840 448h7v7h-7zM970 448h7v7h-7zM1035 448h7v7h-7zM805 453h7v7h-7zM810 453h7v7h-7zM815 453h7v7h-7zM820 453h7v7h-7zM825 453h7v7h-7zM830 453h7v7h-7z"/>
<path fill="#1010ff" d="M960 218h7v7h-7zM965 218h7v7h-7zM970 218h7v7h-7zM975 218h7v7h-7zM980 218h7v7h-7zM985 218h7v7h-7zM990 218h7v7h-7zM995 218h7v7h-7zM930 223h7v7h-7zM1030 223h7v7h-7zM900 228h7v7h-7zM905 228h7v7h-7zM1055 228h7v7h-7zM1060 228h7v7h-7zM840 233h7v7h-7zM845 233h7v7h-7zM850 233h7v7h-7zM855 233h7v7h-7zM860 233h7v7h-7zM865 233h7v7h-7zM1085 233h7v7h-7zM1090 233h7v7h-7zM1095 233h7v7h-7zM830 238h7v7h-7zM835 238h7v7h-7zM1110 238h7v7h-7zM1115 238h7v7h-7zM825 243h7v7h-7zM830 243h7v7h-7zM1120 243h7v7h-7zM1125 243h7v7h-7zM830 248h7v7h-7zM1125 248h7v7h-7zM830 253h7v7h-7zM1125 253h7v7h-7zM830 258h7v7h-7zM1125 258h7v7h-7zM830 263h7v7h-7zM1125 263h7v7h-7zM830 268h7v7h-7zM1120 268h7v7h-7zM1115 278h7v7h-7zM1110 283h7v7h-7zM1105 288h7v7h-7zM830 293h7v7h-7zM830 298h7v7h-7zM1090 308h7v7h-7zM825 313h7v7h-7zM1085 313h7v7h-7zM1080 318h7v7h-7zM820 323h7v7h-7zM1075 323h7v7h-7zM815 333h7v7h-7zM805 348h7v7h-7zM1040 358h7v7h-7zM1040 363h7v7h-7zM790 368h7v7h-7zM1040 368h7v7h-7zM1050 383h7v7h-7zM780 388h7v7h-7zM1070 398h7v7h-7zM1075 403h7v7h-7zM1080 408h7v7h-7zM1080 413h7v7h-7zM1085 418h7v7h-7zM895 423h7v7h-7zM900 423h7v7h-7zM905 423h7v7h-7zM1080 423h7v7h-7zM780 428h7v7h-7zM875 428h7v7h-7zM920 428h7v7h-7zM1075 428h7v7h-7zM865 433h7v7h-7zM1070 433h7v7h-7zM785 438h7v7h-7zM855 438h7v7h-7zM945 438h7v7h-7zM1060 438h7v7h-7zM790 443h7v7h-7zM1045 443h7v7h-7zM800 448h7v7h-7zM835 448h7v7h-7zM975 448h7v7h-7zM1025 448h7v7h-7zM1030 448h7v7h-7z"/>
<path fill="#0c0cff" d="M935 223h7v7h-7zM940 223h7v7h-7zM1020 223h7v7h-7zM1025 223h7v7h-7zM910 228h7v7h-7zM1050 228h7v7h-7zM870 233h7v7h-7zM875 233h7v7h-7zM880 233h7v7h-7zM1075 233h7v7h-7zM1080 233h7v7h-7zM840 238h7v7h-7zM845 238h7v7h-7zM1095 238h7v7h-7zM1100 238h7v7h-7zM1105 238h7v7h-7zM835 243h7v7h-7zM1110 243h7v7h-7zM1115 243h7v7h-7zM835 248h7v7h-7zM1120 248h7v7h-7zM1120 253h7v7h-7zM1120 258h7v7h-7zM1120 263h7v7h-7zM1115 268h7v7h-7zM1115 273h7v7h-7zM1110 278h7v7h-7zM1100 293h7v7h-7zM1095 298h7v7h-7zM830 303h7v7h-7zM1090 303h7v7h-7zM825 318h7v7h-7zM820 328h7v7h-7zM1060 333h7v7h-7zM1055 338h7v7h-7zM810 343h7v7h-7zM1050 343h7v7h-7zM1045 348h7v7h-7zM800 358h7v7h-7zM795 363h7v7h-7zM1040 373h7v7h-7zM785 378h7v7h-7zM1045 378h7v7h-7zM1055 388h7v7h-7zM780 393h7v7h-7zM1060 393h7v7h-7zM1065 398h7v7h-7zM1070 403h7v7h-7zM1075 408h7v7h-7zM780 418h7v7h-7zM1080 418h7v7h-7zM780 423h7v7h-7zM885 423h7v7h-7zM890 423h7v7h-7zM910 423h7v7h-7zM1075 423h7v7h-7zM870 428h7v7h-7zM925 428h7v7h-7zM1070 428h7v7h-7zM785 433h7v7h-7zM935 433h7v7h-7zM1065 433h7v7h-7zM790 438h7v7h-7zM1055 438h7v7h-7zM795 443h7v7h-7zM845 443h7v7h-7zM960 443h7v7h-7zM1040 443h7v7h-7zM805 448h7v7h-7zM830 448h7v7h-7zM980 448h7v7h-7zM985 448h7v7h-7zM1015 448h7v7h-7zM1020 448h7v7h-7z"/>
<path fill="#0808ff" d="M945 223h7v7h-7zM1015 223h7v7h-7zM915 228h7v7h-7zM920 228h7v7h-7zM1040 228h7v7h-7zM1045 228h7v7h-7zM885 233h7v7h-7zM890 233h7v7h-7zM1065 233h7v7h-7zM1070 233h7v7h-7zM850 238h7v7h-7zM855 238h7v7h-7zM860 238h7v7h-7zM1085 238h7v7h-7zM1090 238h7v7h-7zM840 243h7v7h-7zM845 243h7v7h-7zM1100 243h7v7h-7zM1105 243h7v7h-7zM840 248h7v7h-7zM1110 248h7v7h-7zM1115 248h7v7h-7zM835 253h7v7h-7zM1115 253h7v7h-7zM835 258h7v7h-7zM1115 258h7v7h-7zM835 263h7v7h-7zM1115 263h7v7h-7zM835 268h7v7h-7zM835 273h7v7h-7zM1110 273h7v7h-7zM835 278h7v7h-7zM835 283h7v7h-7zM1105 283h7v7h-7zM835 288h7v7h-7zM1100 288h7v7h-7zM830 308h7v7h-7zM1085 308h7v7h-7zM1080 313h7v7h-7zM1075 318h7v7h-7zM1070 323h7v7h-7zM1065 328h7v7h-7zM815 338h7v7h-7zM805 353h7v7h-7zM1040 353h7v7h-7zM1035 363h7v7h-7zM790 373h7v7h-7zM785 383h7v7h-7zM1045 383h7v7h-7zM1050 388h7v7h-7zM1055 393h7v7h-7zM780 398h7v7h-7zM780 403h7v7h-7zM1065 403h7v7h-7zM780 408h7v7h-7zM1070 408h7v7h-7zM780 413h7v7h-7zM1075 413h7v7h-7zM1075 418h7v7h-7zM880 423h7v7h-7zM915 423h7v7h-7zM1070 423h7v7h-7zM785 428h7v7h-7zM930 428h7v7h-7zM860 433h7v7h-7zM940 433h7v7h-7zM1060 433h7v7h-7zM850 438h7v7h-7zM950 438h7v7h-7zM1050 438h7v7h-7zM800 443h7v7h-7zM840 443h7v7h-7zM965 443h7v7h-7zM1035 443h7v7h-7zM810 448h7v7h-7zM815 448h7v7h-7zM820 448h7v7h-7zM825 448h7v7h-7zM990 448h7v7h-7zM995 448h7v7h-7zM1000 448h7v7h-7zM1005 448h7v7h-7zM1010 448h7v7h-7z"/>
<path fill="#0404ff" d="M950 223h7v7h-7zM955 223h7v7h-7zM1005 223h7v7h-7zM1010 223h7v7h-7zM925 228h7v7h-7zM1035 228h7v7h-7zM895 233h7v7h-7zM900 233h7v7h-7zM1055 233h7v7h-7zM1060 233h7v7h-7zM865 238h7v7h-7zM870 238h7v7h-7zM1075 238h7v7h-7zM1080 238h7v7h-7zM850 243h7v7h-7zM1095 243h7v7h-7zM845 248h7v7h-7zM1105 248h7v7h-7zM840 253h7v7h-7zM1110 253h7v7h-7zM840 258h7v7h-7zM1110 258h7v7h-7zM840 263h7v7h-7zM1110 263h7v7h-7zM1110 268h7v7h-7zM1105 273h7v7h-7zM1105 278h7v7h-7zM1100 283h7v7h-7zM835 293h7v7h-7zM1095 293h7v7h-7zM1090 298h7v7h-7zM830 313h7v7h-7zM825 323h7v7h-7zM820 333h7v7h-7zM1055 333h7v7h-7zM1050 338h7v7h-7zM1045 343h7v7h-7zM810 348h7v7h-7zM1040 348h7v7h-7zM1035 358h7v7h-7zM800 363h7v7h-7zM795 368h7v7h-7zM1035 368h7v7h-7zM1035 373h7v7h-7zM790 378h7v7h-7zM1040 378h7v7h-7zM785 388h7v7h-7zM1060 398h7v7h-7zM1070 413h7v7h-7zM890 418h7v7h-7zM895 418h7v7h-7zM900 418h7v7h-7zM1070 418h7v7h-7zM785 423h7v7h-7zM875 423h7v7h-7zM920 423h7v7h-7zM865 428h7v7h-7zM1065 428h7v7h-7zM790 433h7v7h-7zM855 433h7v7h-7zM1055 433h7v7h-7zM795 438h7v7h-7zM845 438h7v7h-7zM955 438h7v7h-7zM1045 438h7v7h-7zM805 443h7v7h-7zM835 443h7v7h-7zM970 443h7v7h-7zM1030 443h7v7h-7z"/>
<path fill="#0000ff" d="M960 223h7v7h-7zM965 223h7v7h-7zM990 223h7v7h-7zM995 223h7v7h-7zM1000 223h7v7h-7zM930 228h7v7h-7zM1030 228h7v7h-7zM905 233h7v7h-7zM1050 233h7v7h-7zM875 238h7v7h-7zM880 238h7v7h-7zM1070 238h7v7h-7zM855 243h7v7h-7zM860 243h7v7h-7zM1085 243h7v7h-7zM1090 243h7v7h-7zM850 248h7v7h-7zM1095 248h7v7h-7zM1100 248h7v7h-7zM845 253h7v7h-7zM1100 253h7v7h-7zM1105 253h7v7h-7zM1105 258h7v7h-7zM1105 263h7v7h-7zM840 268h7v7h-7zM1105 268h7v7h-7zM840 273h7v7h-7zM840 278h7v7h-7zM1100 278h7v7h-7zM1095 288h7v7h-7zM835 298h7v7h-7zM1085 303h7v7h-7zM1080 308h7v7h-7zM1075 313h7v7h-7zM1070 318h7v7h-7zM1065 323h7v7h-7zM825 328h7v7h-7zM1060 328h7v7h-7zM815 343h7v7h-7zM1035 353h7v7h-7zM805 358h7v7h-7zM795 373h7v7h-7zM790 383h7v7h-7zM1040 383h7v7h-7zM1045 388h7v7h-7zM785 393h7v7h-7zM1050 393h7v7h-7zM785 398h7v7h-7zM1055 398h7v7h-7zM1060 403h7v7h-7zM1065 408h7v7h-7zM785 413h7v7h-7zM1065 413h7v7h-7zM785 418h7v7h-7zM885 418h7v7h-7zM905 418h7v7h-7zM910 418h7v7h-7zM1065 418h7v7h-7zM870 423h7v7h-7zM925 423h7v7h-7zM1065 423h7v7h-7zM790 428h7v7h-7zM860 428h7v7h-7zM935 428h7v7h-7zM1060 428h7v7h-7zM850 433h7v7h-7zM945 433h7v7h-7zM1050 433h7v7h-7zM800 438h7v7h-7zM840 438h7v7h-7zM960 438h7v7h-7zM1040 438h7v7h-7zM810 443h7v7h-7zM815 443h7v7h-7zM820 443h7v7h-7zM825 443h7v7h-7zM830 443h7v7h-7zM975 443h7v7h-7zM1020 443h7v7h-7zM1025 443h7v7h-7z"/>
<path fill="#0400fb" d="M970 223h7v7h-7zM975 223h7v7h-7zM980 223h7v7h-7zM985 223h7v7h-7zM935 228h7v7h-7zM1020 228h7v7h-7zM1025 228h7v7h-7zM910 233h7v7h-7zM1045 233h7v7h-7zM885 238h7v7h-7zM890 238h7v7h-7zM1065 238h7v7h-7zM865 243h7v7h-7zM1080 243h7v7h-7zM855 248h7v7h-7zM1090 248h7v7h-7zM850 253h7v7h-7zM1095 253h7v7h-7zM845 258h7v7h-7zM1100 258h7v7h-7zM845 263h7v7h-7zM1100 263h7v7h-7zM1100 268h7v7h-7zM1100 273h7v7h-7zM840 283h7v7h-7zM1095 283h7v7h-7zM840 288h7v7h-7zM1090 293h7v7h-7zM835 303h7v7h-7zM830 318h7v7h-7zM820 338h7v7h-7zM1040 343h7v7h-7zM815 348h7v7h-7zM810 353h7v7h-7zM1030 358h7v7h-7zM1030 363h7v7h-7zM800 368h7v7h-7zM1030 368h7v7h-7zM1035 378h7v7h-7zM785 403h7v7h-7zM785 408h7v7h-7zM1060 408h7v7h-7zM880 418h7v7h-7zM915 418h7v7h-7zM790 423h7v7h-7zM865 423h7v7h-7zM1060 423h7v7h-7zM855 428h7v7h-7zM940 428h7v7h-7zM1055 428h7v7h-7zM795 433h7v7h-7zM950 433h7v7h-7zM805 438h7v7h-7zM835 438h7v7h-7zM1035 438h7v7h-7zM980 443h7v7h-7zM985 443h7v7h-7zM1010 443h7v7h-7zM1015 443h7v7h-7z"/>
<path fill="#0800f7" d="M940 228h7v7h-7zM1015 228h7v7h-7zM915 233h7v7h-7zM1040 233h7v7h-7zM895 238h7v7h-7zM1060 238h7v7h-7zM870 243h7v7h-7zM875 243h7v7h-7zM1075 243h7v7h-7zM860 248h7v7h-7zM1085 248h7v7h-7zM1090 253h7v7h-7zM850 258h7v7h-7zM1095 258h7v7h-7zM845 268h7v7h-7zM845 273h7v7h-7zM1095 278h7v7h-7zM1090 288h7v7h-7zM840 293h7v7h-7zM1085 298h7v7h-7zM1080 303h7v7h-7zM835 308h7v7h-7zM830 323h7v7h-7zM1055 328h7v7h-7zM825 333h7v7h-7zM1050 333h7v7h-7zM1045 338h7v7h-7zM820 343h7v7h-7zM1035 348h7v7h-7zM805 363h7v7h-7zM1030 373h7v7h-7zM795 378h7v7h-7zM1035 383h7v7h-7zM790 388h7v7h-7zM1040 388h7v7h-7zM790 393h7v7h-7zM1045 393h7v7h-7zM1050 398h7v7h-7zM1055 403h7v7h-7zM890 413h7v7h-7zM895 413h7v7h-7zM900 413h7v7h-7zM1060 413h7v7h-7zM790 418h7v7h-7zM875 418h7v7h-7zM920 418h7v7h-7zM1060 418h7v7h-7zM930 423h7v7h-7zM1055 423h7v7h-7zM795 428h7v7h-7zM1050 428h7v7h-7zM800 433h7v7h-7zM845 433h7v7h-7zM1045 433h7v7h-7zM810 438h7v7h-7zM815 438h7v7h-7zM825 438h7v7h-7zM830 438h7v7h-7zM965 438h7v7h-7zM1030 438h7v7h-7zM990 443h7v7h-7zM995 443h7v7h-7zM1000 443h7v7h-7zM1005 443h7v7h-7z"/>
<path fill="#0c00f3" d="M945 228h7v7h-7zM950 228h7v7h-7zM1010 228h7v7h-7zM920 233h7v7h-7zM1035 233h7v7h-7zM900 238h7v7h-7zM1055 238h7v7h-7zM880 243h7v7h-7zM1070 243h7v7h-7zM865 248h7v7h-7zM1080 248h7v7h-7zM855 253h7v7h-7zM1085 253h7v7h-7zM1090 258h7v7h-7zM850 263h7v7h-7zM1095 263h7v7h-7zM1095 268h7v7h-7zM1095 273h7v7h-7zM845 278h7v7h-7zM1090 283h7v7h-7zM1085 293h7v7h-7zM840 298h7v7h-7zM1075 308h7v7h-7zM835 313h7v7h-7zM1070 313h7v7h-7zM1065 318h7v7h-7zM1060 323h7v7h-7zM815 353h7v7h-7zM1030 353h7v7h-7zM810 358h7v7h-7zM1025 363h7v7h-7zM1025 368h7v7h-7zM800 373h7v7h-7zM1030 378h7v7h-7zM795 383h7v7h-7zM790 398h7v7h-7zM790 403h7v7h-7zM1050 403h7v7h-7zM790 408h7v7h-7zM1055 408h7v7h-7zM790 413h7v7h-7zM885 413h7v7h-7zM905 413h7v7h-7zM910 413h7v7h-7zM1055 413h7v7h-7zM870 418h7v7h-7zM925 418h7v7h-7zM1055 418h7v7h-7zM795 423h7v7h-7zM860 423h7v7h-7zM935 423h7v7h-7zM850 428h7v7h-7zM945 428h7v7h-7zM805 433h7v7h-7zM840 433h7v7h-7zM955 433h7v7h-7zM1040 433h7v7h-7zM820 438h7v7h-7zM970 438h7v7h-7zM1025 438h7v7h-7z"/>
<path fill="#1000ef" d="M955 228h7v7h-7zM1000 228h7v7h-7zM1005 228h7v7h-7zM925 233h7v7h-7zM1030 233h7v7h-7zM905 238h7v7h-7zM1050 238h7v7h-7zM885 243h7v7h-7zM1065 243h7v7h-7zM870 248h7v7h-7zM1075 248h7v7h-7zM860 253h7v7h-7zM1080 253h7v7h-7zM855 258h7v7h-7zM1090 263h7v7h-7zM850 268h7v7h-7zM1090 268h7v7h-7zM1090 273h7v7h-7zM1090 278h7v7h-7zM845 283h7v7h-7zM1085 288h7v7h-7zM1080 298h7v7h-7zM840 303h7v7h-7zM835 318h7v7h-7zM830 328h7v7h-7zM825 338h7v7h-7zM1040 338h7v7h-7zM1035 343h7v7h-7zM820 348h7v7h-7zM1030 348h7v7h-7zM1025 358h7v7h-7zM810 363h7v7h-7zM805 368h7v7h-7zM1025 373h7v7h-7zM800 378h7v7h-7zM1030 383h7v7h-7zM795 388h7v7h-7zM1035 388h7v7h-7zM1040 393h7v7h-7zM1045 398h7v7h-7zM1050 408h7v7h-7zM875 413h7v7h-7zM880 413h7v7h-7zM915 413h7v7h-7zM795 418h7v7h-7zM865 418h7v7h-7zM1050 418h7v7h-7zM855 423h7v7h-7zM1050 423h7v7h-7zM800 428h7v7h-7zM845 428h7v7h-7zM1045 428h7v7h-7zM810 433h7v7h-7zM830 433h7v7h-7zM835 433h7v7h-7zM960 433h7v7h-7zM1035 433h7v7h-7zM975 438h7v7h-7zM980 438h7v7h-7zM1015 438h7v7h-7zM1020 438h7v7h-7z"/>
<path fill="#1400eb" d="M960 228h7v7h-7zM965 228h7v7h-7zM970 228h7v7h-7zM975 228h7v7h-7zM980 228h7v7h-7zM985 228h7v7h-7zM990 228h7v7h-7zM995 228h7v7h-7zM930 233h7v7h-7zM1025 233h7v7h-7zM910 238h7v7h-7zM1045 238h7v7h-7zM890 243h7v7h-7zM1060 243h7v7h-7zM875 248h7v7h-7zM1070 248h7v7h-7zM865 253h7v7h-7zM860 258h7v7h-7zM1085 258h7v7h-7zM855 263h7v7h-7zM1085 263h7v7h-7zM850 273h7v7h-7zM1085 283h7v7h-7zM845 288h7v7h-7zM1080 293h7v7h-7zM1075 303h7v7h-7zM840 308h7v7h-7zM1070 308h7v7h-7zM1050 328h7v7h-7zM830 333h7v7h-7zM1045 333h7v7h-7zM825 343h7v7h-7zM1025 353h7v7h-7zM815 358h7v7h-7zM805 373h7v7h-7zM1025 378h7v7h-7zM800 383h7v7h-7zM795 393h7v7h-7zM795 398h7v7h-7zM1040 398h7v7h-7zM795 403h7v7h-7zM1045 403h7v7h-7zM795 408h7v7h-7zM890 408h7v7h-7zM895 408h7v7h-7zM900 408h7v7h-7zM795 413h7v7h-7zM870 413h7v7h-7zM920 413h7v7h-7zM1050 413h7v7h-7zM860 418h7v7h-7zM930 418h7v7h-7zM800 423h7v7h-7zM850 423h7v7h-7zM940 423h7v7h-7zM1045 423h7v7h-7zM805 428h7v7h-7zM840 428h7v7h-7zM950 428h7v7h-7zM1040 428h7v7h-7zM815 433h7v7h-7zM820 433h7v7h-7zM825 433h7v7h-7zM965 433h7v7h-7zM1030 433h7v7h-7zM985 438h7v7h-7zM990 438h7v7h-7zM995 438h7v7h-7zM1000 438h7v7h-7zM1005 438h7v7h-7zM1010 438h7v7h-7z"/>
<path fill="#1800e7" d="M935 233h7v7h-7zM940 233h7v7h-7zM1020 233h7v7h-7zM915 238h7v7h-7zM1040 238h7v7h-7zM895 243h7v7h-7zM1055 243h7v7h-7zM880 248h7v7h-7zM1065 248h7v7h-7zM870 253h7v7h-7zM1075 253h7v7h-7zM1080 258h7v7h-7zM855 268h7v7h-7zM1085 268h7v7h-7zM1085 273h7v7h-7zM850 278h7v7h-7zM1085 278h7v7h-7zM845 293h7v7h-7zM1065 313h7v7h-7zM1060 318h7v7h-7zM835 323h7v7h-7zM1055 323h7v7h-7zM820 353h7v7h-7zM1020 363h7v7h-7zM810 368h7v7h-7zM1020 368h7v7h-7zM1020 373h7v7h-7zM1025 383h7v7h-7zM800 388h7v7h-7zM1030 388h7v7h-7zM1035 393h7v7h-7zM880 408h7v7h-7zM885 408h7v7h-7zM905 408h7v7h-7zM910 408h7v7h-7zM1045 408h7v7h-7zM865 413h7v7h-7zM925 413h7v7h-7zM1045 413h7v7h-7zM800 418h7v7h-7zM855 418h7v7h-7zM935 418h7v7h-7zM1045 418h7v7h-7zM805 423h7v7h-7zM845 423h7v7h-7zM945 423h7v7h-7zM1040 423h7v7h-7zM810 428h7v7h-7zM815 428h7v7h-7zM835 428h7v7h-7zM955 428h7v7h-7zM1035 428h7v7h-7zM970 433h7v7h-7zM1025 433h7v7h-7z"/>
<path fill="#1c00e3" d="M945 233h7v7h-7zM1010 233h7v7h-7zM1015 233h7v7h-7zM920 238h7v7h-7zM1035 238h7v7h-7zM900 243h7v7h-7zM1050 243h7v7h-7zM885 248h7v7h-7zM1060 248h7v7h-7zM1070 253h7v7h-7zM865 258h7v7h-7zM1075 258h7v7h-7zM860 263h7v7h-7zM1080 263h7v7h-7zM855 273h7v7h-7zM850 283h7v7h-7zM1080 283h7v7h-7zM1080 288h7v7h-7zM845 298h7v7h-7zM1075 298h7v7h-7zM1070 303h7v7h-7zM840 313h7v7h-7zM835 328h7v7h-7zM1040 333h7v7h-7zM830 338h7v7h-7zM1035 338h7v7h-7zM1030 343h7v7h-7zM825 348h7v7h-7zM1025 348h7v7h-7zM1020 358h7v7h-7zM815 363h7v7h-7zM805 378h7v7h-7zM1020 378h7v7h-7zM800 393h7v7h-7zM1035 398h7v7h-7zM1040 403h7v7h-7zM800 408h7v7h-7zM875 408h7v7h-7zM915 408h7v7h-7zM1040 408h7v7h-7zM800 413h7v7h-7zM850 418h7v7h-7zM1040 418h7v7h-7zM810 423h7v7h-7zM840 423h7v7h-7zM820 428h7v7h-7zM825 428h7v7h-7zM830 428h7v7h-7zM960 428h7v7h-7zM1030 428h7v7h-7zM975 433h7v7h-7zM1015 433h7v7h-7zM1020 433h7v7h-7z"/>
<path fill="#2000df" d="M950 233h7v7h-7zM1005 233h7v7h-7zM925 238h7v7h-7zM1030 238h7v7h-7zM905 243h7v7h-7zM1045 243h7v7h-7zM890 248h7v7h-7zM875 253h7v7h-7zM1065 253h7v7h-7zM870 258h7v7h-7zM1075 263h7v7h-7zM860 268h7v7h-7zM1080 268h7v7h-7zM1080 273h7v7h-7zM855 278h7v7h-7zM1080 278h7v7h-7zM850 288h7v7h-7zM1075 293h7v7h-7zM845 303h7v7h-7zM1065 308h7v7h-7zM840 318h7v7h-7zM1050 323h7v7h-7zM1045 328h7v7h-7zM835 333h7v7h-7zM830 343h7v7h-7zM1020 353h7v7h-7zM820 358h7v7h-7zM1015 363h7v7h-7zM815 368h7v7h-7zM1015 368h7v7h-7zM810 373h7v7h-7zM805 383h7v7h-7zM1025 388h7v7h-7zM1030 393h7v7h-7zM800 398h7v7h-7zM800 403h7v7h-7zM895 403h7v7h-7zM1035 403h7v7h-7zM870 408h7v7h-7zM920 408h7v7h-7zM805 413h7v7h-7zM860 413h7v7h-7zM930 413h7v7h-7zM1040 413h7v7h-7zM805 418h7v7h-7zM940 418h7v7h-7zM815 423h7v7h-7zM835 423h7v7h-7zM950 423h7v7h-7zM1035 423h7v7h-7zM1025 428h7v7h-7zM980 433h7v7h-7zM985 433h7v7h-7zM1005 433h7v7h-7zM1010 433h7v7h-7z"/>
<path fill="#2400db" d="M955 233h7v7h-7zM960 233h7v7h-7zM995 233h7v7h-7zM1000 233h7v7h-7zM930 238h7v7h-7zM1025 238h7v7h-7zM910 243h7v7h-7zM1040 243h7v7h-7zM895 248h7v7h-7zM1055 248h7v7h-7zM880 253h7v7h-7zM1070 258h7v7h-7zM865 263h7v7h-7zM1075 268h7v7h-7zM1075 288h7v7h-7zM850 293h7v7h-7zM1070 298h7v7h-7zM845 308h7v7h-7zM1060 313h7v7h-7zM1055 318h7v7h-7zM840 323h7v7h-7zM825 353h7v7h-7zM1015 358h7v7h-7zM820 363h7v7h-7zM1015 373h7v7h-7zM810 378h7v7h-7zM1015 378h7v7h-7zM1020 383h7v7h-7zM805 388h7v7h-7zM805 393h7v7h-7zM1025 393h7v7h-7zM1030 398h7v7h-7zM805 403h7v7h-7zM880 403h7v7h-7zM885 403h7v7h-7zM890 403h7v7h-7zM900 403h7v7h-7zM905 403h7v7h-7zM805 408h7v7h-7zM865 408h7v7h-7zM925 408h7v7h-7zM1035 408h7v7h-7zM855 413h7v7h-7zM935 413h7v7h-7zM1035 413h7v7h-7zM810 418h7v7h-7zM840 418h7v7h-7zM845 418h7v7h-7zM945 418h7v7h-7zM1035 418h7v7h-7zM820 423h7v7h-7zM825 423h7v7h-7zM830 423h7v7h-7zM955 423h7v7h-7zM1030 423h7v7h-7zM965 428h7v7h-7zM1020 428h7v7h-7zM990 433h7v7h-7zM995 433h7v7h-7zM1000 433h7v7h-7z"/>
<path fill="#2800d7" d="M965 233h7v7h-7zM970 233h7v7h-7zM975 233h7v7h-7zM980 233h7v7h-7zM985 233h7v7h-7zM990 233h7v7h-7zM935 238h7v7h-7zM1020 238h7v7h-7zM915 243h7v7h-7zM1035 243h7v7h-7zM1050 248h7v7h-7zM885 253h7v7h-7zM1060 253h7v7h-7zM875 258h7v7h-7zM1065 258h7v7h-7zM1070 263h7v7h-7zM860 273h7v7h-7zM1075 273h7v7h-7zM1075 278h7v7h-7zM855 283h7v7h-7zM1075 283h7v7h-7zM850 298h7v7h-7zM1065 303h7v7h-7zM845 313h7v7h-7zM840 328h7v7h-7zM1035 333h7v7h-7zM835 338h7v7h-7zM1030 338h7v7h-7zM1025 343h7v7h-7zM830 348h7v7h-7zM1020 348h7v7h-7zM825 358h7v7h-7zM815 373h7v7h-7zM810 383h7v7h-7zM1020 388h7v7h-7zM805 398h7v7h-7zM875 403h7v7h-7zM910 403h7v7h-7zM915 403h7v7h-7zM1030 403h7v7h-7zM860 408h7v7h-7zM810 413h7v7h-7zM850 413h7v7h-7zM815 418h7v7h-7zM820 418h7v7h-7zM825 418h7v7h-7zM830 418h7v7h-7zM835 418h7v7h-7zM1030 418h7v7h-7zM1025 423h7v7h-7zM970 428h7v7h-7zM1015 428h7v7h-7z"/>
<path fill="#2c00d3" d="M940 238h7v7h-7zM1015 238h7v7h-7zM900 248h7v7h-7zM1045 248h7v7h-7zM1055 253h7v7h-7zM870 263h7v7h-7zM865 268h7v7h-7zM1070 268h7v7h-7zM860 278h7v7h-7zM855 288h7v7h-7zM1070 293h7v7h-7zM850 303h7v7h-7zM1060 308h7v7h-7zM1055 313h7v7h-7zM845 318h7v7h-7zM1050 318h7v7h-7zM1045 323h7v7h-7zM1040 328h7v7h-7zM835 343h7v7h-7zM830 353h7v7h-7zM1015 353h7v7h-7zM825 363h7v7h-7zM1010 363h7v7h-7zM820 368h7v7h-7zM1010 368h7v7h-7zM1010 373h7v7h-7zM815 378h7v7h-7zM1015 383h7v7h-7zM810 388h7v7h-7zM810 393h7v7h-7zM1020 393h7v7h-7zM810 398h7v7h-7zM1025 398h7v7h-7zM810 403h7v7h-7zM865 403h7v7h-7zM870 403h7v7h-7zM920 403h7v7h-7zM810 408h7v7h-7zM855 408h7v7h-7zM930 408h7v7h-7zM1030 408h7v7h-7zM815 413h7v7h-7zM840 413h7v7h-7zM845 413h7v7h-7zM940 413h7v7h-7zM1030 413h7v7h-7zM950 418h7v7h-7zM960 423h7v7h-7zM1020 423h7v7h-7zM975 428h7v7h-7zM980 428h7v7h-7zM1005 428h7v7h-7zM1010 428h7v7h-7z"/>
<path fill="#3000cf" d="M945 238h7v7h-7zM1010 238h7v7h-7zM920 243h7v7h-7zM1030 243h7v7h-7zM905 248h7v7h-7zM890 253h7v7h-7zM880 258h7v7h-7zM1060 258h7v7h-7zM1065 263h7v7h-7zM865 273h7v7h-7zM1070 273h7v7h-7zM1070 278h7v7h-7zM1070 283h7v7h-7zM1070 288h7v7h-7zM855 293h7v7h-7zM1065 298h7v7h-7zM840 333h7v7h-7zM835 348h7v7h-7zM830 358h7v7h-7zM1010 358h7v7h-7zM820 373h7v7h-7zM1010 378h7v7h-7zM815 383h7v7h-7zM815 388h7v7h-7zM1015 388h7v7h-7zM880 398h7v7h-7zM885 398h7v7h-7zM890 398h7v7h-7zM895 398h7v7h-7zM900 398h7v7h-7zM905 398h7v7h-7zM815 403h7v7h-7zM860 403h7v7h-7zM925 403h7v7h-7zM1025 403h7v7h-7zM815 408h7v7h-7zM845 408h7v7h-7zM850 408h7v7h-7zM935 408h7v7h-7zM1025 408h7v7h-7zM820 413h7v7h-7zM825 413h7v7h-7zM830 413h7v7h-7zM835 413h7v7h-7zM945 413h7v7h-7zM1025 413h7v7h-7zM955 418h7v7h-7zM1025 418h7v7h-7zM965 423h7v7h-7zM1015 423h7v7h-7zM985 428h7v7h-7zM990 428h7v7h-7zM995 428h7v7h-7zM1000 428h7v7h-7z"/>
<path fill="#3400cb" d="M950 238h7v7h-7zM1005 238h7v7h-7zM925 243h7v7h-7zM1025 243h7v7h-7zM910 248h7v7h-7zM1040 248h7v7h-7zM895 253h7v7h-7zM1050 253h7v7h-7zM885 258h7v7h-7zM875 263h7v7h-7zM870 268h7v7h-7zM1065 268h7v7h-7zM860 283h7v7h-7zM1065 293h7v7h-7zM1060 303h7v7h-7zM850 308h7v7h-7zM845 323h7v7h-7zM1030 333h7v7h-7zM840 338h7v7h-7zM1025 338h7v7h-7zM1020 343h7v7h-7zM1015 348h7v7h-7zM825 368h7v7h-7zM1005 368h7v7h-7zM1005 373h7v7h-7zM820 378h7v7h-7zM1010 383h7v7h-7zM815 393h7v7h-7zM1015 393h7v7h-7zM815 398h7v7h-7zM870 398h7v7h-7zM875 398h7v7h-7zM910 398h7v7h-7zM915 398h7v7h-7zM1020 398h7v7h-7zM820 403h7v7h-7zM855 403h7v7h-7zM930 403h7v7h-7zM1020 403h7v7h-7zM820 408h7v7h-7zM825 408h7v7h-7zM830 408h7v7h-7zM835 408h7v7h-7zM840 408h7v7h-7zM940 408h7v7h-7zM950 413h7v7h-7zM960 418h7v7h-7zM1020 418h7v7h-7zM970 423h7v7h-7zM1010 423h7v7h-7z"/>
<path fill="#3800c7" d="M955 238h7v7h-7zM960 238h7v7h-7zM995 238h7v7h-7zM1000 238h7v7h-7zM930 243h7v7h-7zM1020 243h7v7h-7zM1035 248h7v7h-7zM1045 253h7v7h-7zM1055 258h7v7h-7zM880 263h7v7h-7zM1060 263h7v7h-7zM1065 273h7v7h-7zM865 278h7v7h-7zM860 288h7v7h-7zM1065 288h7v7h-7zM855 298h7v7h-7zM1055 308h7v7h-7zM850 313h7v7h-7zM1050 313h7v7h-7zM1045 318h7v7h-7zM1040 323h7v7h-7zM845 328h7v7h-7zM1035 328h7v7h-7zM840 343h7v7h-7zM835 353h7v7h-7zM1010 353h7v7h-7zM830 363h7v7h-7zM1005 363h7v7h-7zM825 373h7v7h-7zM825 378h7v7h-7zM1005 378h7v7h-7zM820 383h7v7h-7zM820 388h7v7h-7zM1010 388h7v7h-7zM820 393h7v7h-7zM820 398h7v7h-7zM860 398h7v7h-7zM865 398h7v7h-7zM920 398h7v7h-7zM1015 398h7v7h-7zM825 403h7v7h-7zM845 403h7v7h-7zM850 403h7v7h-7zM1020 408h7v7h-7zM1020 413h7v7h-7zM965 418h7v7h-7zM1015 418h7v7h-7zM975 423h7v7h-7zM980 423h7v7h-7zM985 423h7v7h-7zM1000 423h7v7h-7zM1005 423h7v7h-7z"/>
<path fill="#3c00c3" d="M965 238h7v7h-7zM970 238h7v7h-7zM975 238h7v7h-7zM980 238h7v7h-7zM985 238h7v7h-7zM990 238h7v7h-7zM935 243h7v7h-7zM1015 243h7v7h-7zM915 248h7v7h-7zM900 253h7v7h-7zM890 258h7v7h-7zM1050 258h7v7h-7zM875 268h7v7h-7zM1060 268h7v7h-7zM870 273h7v7h-7zM1065 278h7v7h-7zM1065 283h7v7h-7zM1060 298h7v7h-7zM855 303h7v7h-7zM850 318h7v7h-7zM845 333h7v7h-7zM840 348h7v7h-7zM835 358h7v7h-7zM1005 358h7v7h-7zM830 368h7v7h-7zM830 373h7v7h-7zM825 383h7v7h-7zM1005 383h7v7h-7zM825 388h7v7h-7zM825 393h7v7h-7zM870 393h7v7h-7zM875 393h7v7h-7zM880 393h7v7h-7zM885 393h7v7h-7zM890 393h7v7h-7zM895 393h7v7h-7zM900 393h7v7h-7zM905 393h7v7h-7zM1010 393h7v7h-7zM825 398h7v7h-7zM830 398h7v7h-7zM850 398h7v7h-7zM855 398h7v7h-7zM925 398h7v7h-7zM830 403h7v7h-7zM835 403h7v7h-7zM840 403h7v7h-7zM935 403h7v7h-7zM1015 403h7v7h-7zM945 408h7v7h-7zM1015 408h7v7h-7zM955 413h7v7h-7zM1015 413h7v7h-7zM970 418h7v7h-7zM1010 418h7v7h-7zM990 423h7v7h-7zM995 423h7v7h-7z"/>
<path fill="#4000bf" d="M940 243h7v7h-7zM920 248h7v7h-7zM1030 248h7v7h-7zM905 253h7v7h-7zM1040 253h7v7h-7zM885 263h7v7h-7zM1055 263h7v7h-7zM865 283h7v7h-7zM860 293h7v7h-7zM1060 293h7v7h-7zM1055 303h7v7h-7zM855 308h7v7h-7zM850 323h7v7h-7zM1025 333h7v7h-7zM845 338h7v7h-7zM1020 338h7v7h-7zM1015 343h7v7h-7zM1010 348h7v7h-7zM840 353h7v7h-7zM1005 353h7v7h-7zM835 363h7v7h-7zM1000 363h7v7h-7zM835 368h7v7h-7zM1000 368h7v7h-7zM1000 373h7v7h-7zM830 378h7v7h-7zM1000 378h7v7h-7zM830 383h7v7h-7zM830 388h7v7h-7zM1005 388h7v7h-7zM830 393h7v7h-7zM860 393h7v7h-7zM865 393h7v7h-7zM910 393h7v7h-7zM915 393h7v7h-7zM835 398h7v7h-7zM840 398h7v7h-7zM845 398h7v7h-7zM930 398h7v7h-7zM1010 398h7v7h-7zM940 403h7v7h-7zM1010 403h7v7h-7zM950 408h7v7h-7zM1010 408h7v7h-7zM960 413h7v7h-7zM1010 413h7v7h-7zM975 418h7v7h-7zM1000 418h7v7h-7zM1005 418h7v7h-7z"/>
<path fill="#4400bb" d="M945 243h7v7h-7zM1010 243h7v7h-7zM1025 248h7v7h-7zM895 258h7v7h-7zM1045 258h7v7h-7zM880 268h7v7h-7zM875 273h7v7h-7zM1060 273h7v7h-7zM870 278h7v7h-7zM1060 278h7v7h-7zM1060 283h7v7h-7zM1060 288h7v7h-7zM860 298h7v7h-7zM1050 308h7v7h-7zM1045 313h7v7h-7zM1040 318h7v7h-7zM1035 323h7v7h-7zM850 328h7v7h-7zM1030 328h7v7h-7zM845 343h7v7h-7zM840 358h7v7h-7zM840 363h7v7h-7zM835 373h7v7h-7zM835 378h7v7h-7zM835 383h7v7h-7zM1000 383h7v7h-7zM835 388h7v7h-7zM880 388h7v7h-7zM885 388h7v7h-7zM890 388h7v7h-7zM1000 388h7v7h-7zM835 393h7v7h-7zM840 393h7v7h-7zM845 393h7v7h-7zM850 393h7v7h-7zM855 393h7v7h-7zM920 393h7v7h-7zM1005 393h7v7h-7zM935 398h7v7h-7zM1005 398h7v7h-7zM945 403h7v7h-7zM955 408h7v7h-7zM1005 408h7v7h-7zM965 413h7v7h-7zM1005 413h7v7h-7zM980 418h7v7h-7zM985 418h7v7h-7zM990 418h7v7h-7zM995 418h7v7h-7z"/>
<path fill="#4800b7" d="M950 243h7v7h-7zM1000 243h7v7h-7zM1005 243h7v7h-7zM925 248h7v7h-7zM910 253h7v7h-7zM1035 253h7v7h-7zM890 263h7v7h-7zM1050 263h7v7h-7zM1055 268h7v7h-7zM865 288h7v7h-7zM1055 298h7v7h-7zM855 313h7v7h-7zM850 333h7v7h-7zM845 348h7v7h-7zM845 353h7v7h-7zM1000 358h7v7h-7zM840 368h7v7h-7zM995 368h7v7h-7zM840 373h7v7h-7zM995 373h7v7h-7zM840 378h7v7h-7zM995 378h7v7h-7zM840 383h7v7h-7zM995 383h7v7h-7zM840 388h7v7h-7zM845 388h7v7h-7zM850 388h7v7h-7zM855 388h7v7h-7zM860 388h7v7h-7zM865 388h7v7h-7zM870 388h7v7h-7zM875 388h7v7h-7zM895 388h7v7h-7zM900 388h7v7h-7zM905 388h7v7h-7zM925 393h7v7h-7zM1000 393h7v7h-7zM940 398h7v7h-7zM950 403h7v7h-7zM1005 403h7v7h-7zM960 408h7v7h-7zM1000 408h7v7h-7zM970 413h7v7h-7zM975 413h7v7h-7zM990 413h7v7h-7zM995 413h7v7h-7zM1000 413h7v7h-7z"/>
<path fill="#4c00b3" d="M955 243h7v7h-7zM995 243h7v7h-7zM930 248h7v7h-7zM1020 248h7v7h-7zM915 253h7v7h-7zM900 258h7v7h-7zM1040 258h7v7h-7zM1055 273h7v7h-7zM870 283h7v7h-7zM865 293h7v7h-7zM1055 293h7v7h-7zM860 303h7v7h-7zM1050 303h7v7h-7zM855 318h7v7h-7zM1020 333h7v7h-7zM850 338h7v7h-7zM1015 338h7v7h-7zM1010 343h7v7h-7zM1005 348h7v7h-7zM1000 353h7v7h-7zM845 358h7v7h-7zM845 363h7v7h-7zM995 363h7v7h-7zM845 368h7v7h-7zM845 373h7v7h-7zM845 378h7v7h-7zM845 383h7v7h-7zM850 383h7v7h-7zM855 383h7v7h-7zM910 388h7v7h-7zM995 388h7v7h-7zM930 393h7v7h-7zM995 393h7v7h-7zM945 398h7v7h-7zM1000 398h7v7h-7zM955 403h7v7h-7zM1000 403h7v7h-7zM965 408h7v7h-7zM970 408h7v7h-7zM995 408h7v7h-7zM980 413h7v7h-7zM985 413h7v7h-7z"/>
<path fill="#5000af" d="M960 243h7v7h-7zM965 243h7v7h-7zM970 243h7v7h-7zM980 243h7v7h-7zM985 243h7v7h-7zM990 243h7v7h-7zM935 248h7v7h-7zM1015 248h7v7h-7zM1030 253h7v7h-7zM905 258h7v7h-7zM895 263h7v7h-7zM1045 263h7v7h-7zM885 268h7v7h-7zM1050 268h7v7h-7zM880 273h7v7h-7zM875 278h7v7h-7zM1055 278h7v7h-7zM1055 283h7v7h-7zM1055 288h7v7h-7zM860 308h7v7h-7zM1045 308h7v7h-7zM855 323h7v7h-7zM1030 323h7v7h-7zM1025 328h7v7h-7zM850 343h7v7h-7zM850 348h7v7h-7zM995 358h7v7h-7zM990 368h7v7h-7zM850 373h7v7h-7zM990 373h7v7h-7zM850 378h7v7h-7zM990 378h7v7h-7zM860 383h7v7h-7zM865 383h7v7h-7zM870 383h7v7h-7zM875 383h7v7h-7zM880 383h7v7h-7zM885 383h7v7h-7zM890 383h7v7h-7zM990 383h7v7h-7zM915 388h7v7h-7zM920 388h7v7h-7zM990 388h7v7h-7zM935 393h7v7h-7zM950 398h7v7h-7zM995 398h7v7h-7zM960 403h7v7h-7zM990 403h7v7h-7zM995 403h7v7h-7zM975 408h7v7h-7zM980 408h7v7h-7zM985 408h7v7h-7zM990 408h7v7h-7z"/>
<path fill="#5400ab" d="M975 243h7v7h-7zM940 248h7v7h-7zM1010 248h7v7h-7zM920 253h7v7h-7zM1025 253h7v7h-7zM1035 258h7v7h-7zM1050 273h7v7h-7zM870 288h7v7h-7zM865 298h7v7h-7zM1050 298h7v7h-7zM1040 313h7v7h-7zM1035 318h7v7h-7zM855 328h7v7h-7zM850 353h7v7h-7zM850 358h7v7h-7zM850 363h7v7h-7zM990 363h7v7h-7zM850 368h7v7h-7zM855 373h7v7h-7zM855 378h7v7h-7zM860 378h7v7h-7zM865 378h7v7h-7zM895 383h7v7h-7zM900 383h7v7h-7zM985 383h7v7h-7zM925 388h7v7h-7zM985 388h7v7h-7zM940 393h7v7h-7zM945 393h7v7h-7zM985 393h7v7h-7zM990 393h7v7h-7zM955 398h7v7h-7zM985 398h7v7h-7zM990 398h7v7h-7zM965 403h7v7h-7zM970 403h7v7h-7zM975 403h7v7h-7zM980 403h7v7h-7zM985 403h7v7h-7z"/>
<path fill="#5800a7" d="M945 248h7v7h-7zM1005 248h7v7h-7zM925 253h7v7h-7zM910 258h7v7h-7zM900 263h7v7h-7zM1040 263h7v7h-7zM890 268h7v7h-7zM1045 268h7v7h-7zM1050 278h7v7h-7zM875 283h7v7h-7zM1050 293h7v7h-7zM1045 303h7v7h-7zM860 313h7v7h-7zM855 333h7v7h-7zM1015 333h7v7h-7zM855 338h7v7h-7zM1010 338h7v7h-7zM855 343h7v7h-7zM1005 343h7v7h-7zM1000 348h7v7h-7zM995 353h7v7h-7zM855 363h7v7h-7zM855 368h7v7h-7zM860 373h7v7h-7zM985 373h7v7h-7zM870 378h7v7h-7zM875 378h7v7h-7zM880 378h7v7h-7zM985 378h7v7h-7zM905 383h7v7h-7zM910 383h7v7h-7zM930 388h7v7h-7zM935 388h7v7h-7zM950 393h7v7h-7zM980 393h7v7h-7zM960 398h7v7h-7zM965 398h7v7h-7zM970 398h7v7h-7zM975 398h7v7h-7zM980 398h7v7h-7z"/>
<path fill="#5c00a3" d="M950 248h7v7h-7zM1000 248h7v7h-7zM1020 253h7v7h-7zM1030 258h7v7h-7zM885 273h7v7h-7zM880 278h7v7h-7zM1050 283h7v7h-7zM1050 288h7v7h-7zM870 293h7v7h-7zM865 303h7v7h-7zM1040 308h7v7h-7zM860 318h7v7h-7zM1025 323h7v7h-7zM1020 328h7v7h-7zM855 348h7v7h-7zM855 353h7v7h-7zM855 358h7v7h-7zM990 358h7v7h-7zM860 368h7v7h-7zM985 368h7v7h-7zM865 373h7v7h-7zM885 378h7v7h-7zM890 378h7v7h-7zM980 378h7v7h-7zM915 383h7v7h-7zM920 383h7v7h-7zM980 383h7v7h-7zM940 388h7v7h-7zM975 388h7v7h-7zM980 388h7v7h-7zM955 393h7v7h-7zM960 393h7v7h-7zM965 393h7v7h-7zM970 393h7v7h-7zM975 393h7v7h-7z"/>
<path fill="#60009f" d="M955 248h7v7h-7zM995 248h7v7h-7zM930 253h7v7h-7zM1015 253h7v7h-7zM915 258h7v7h-7zM905 263h7v7h-7zM1035 263h7v7h-7zM895 268h7v7h-7zM1045 273h7v7h-7zM875 288h7v7h-7zM1045 298h7v7h-7zM865 308h7v7h-7zM1035 313h7v7h-7zM1030 318h7v7h-7zM860 323h7v7h-7zM860 328h7v7h-7zM860 363h7v7h-7zM985 363h7v7h-7zM865 368h7v7h-7zM870 373h7v7h-7zM875 373h7v7h-7zM980 373h7v7h-7zM895 378h7v7h-7zM900 378h7v7h-7zM975 378h7v7h-7zM925 383h7v7h-7zM930 383h7v7h-7zM975 383h7v7h-7zM945 388h7v7h-7zM950 388h7v7h-7zM955 388h7v7h-7zM960 388h7v7h-7zM965 388h7v7h-7zM970 388h7v7h-7z"/>
<path fill="#64009b" d="M960 248h7v7h-7zM965 248h7v7h-7zM985 248h7v7h-7zM990 248h7v7h-7zM935 253h7v7h-7zM1025 258h7v7h-7zM1040 268h7v7h-7zM890 273h7v7h-7zM885 278h7v7h-7zM1045 278h7v7h-7zM880 283h7v7h-7zM1045 293h7v7h-7zM870 298h7v7h-7zM865 313h7v7h-7zM860 333h7v7h-7zM1010 333h7v7h-7zM860 338h7v7h-7zM1005 338h7v7h-7zM860 343h7v7h-7zM1000 343h7v7h-7zM860 348h7v7h-7zM995 348h7v7h-7zM860 353h7v7h-7zM990 353h7v7h-7zM860 358h7v7h-7zM985 358h7v7h-7zM865 363h7v7h-7zM870 368h7v7h-7zM980 368h7v7h-7zM880 373h7v7h-7zM885 373h7v7h-7zM975 373h7v7h-7zM905 378h7v7h-7zM910 378h7v7h-7zM935 383h7v7h-7zM940 383h7v7h-7zM965 383h7v7h-7zM970 383h7v7h-7z"/>
<path fill="#680097" d="M970 248h7v7h-7zM975 248h7v7h-7zM980 248h7v7h-7zM940 253h7v7h-7zM1010 253h7v7h-7zM920 258h7v7h-7zM910 263h7v7h-7zM1030 263h7v7h-7zM900 268h7v7h-7zM1040 273h7v7h-7zM1045 283h7v7h-7zM1045 288h7v7h-7zM870 303h7v7h-7zM1040 303h7v7h-7zM865 318h7v7h-7zM1015 328h7v7h-7zM865 358h7v7h-7zM980 363h7v7h-7zM875 368h7v7h-7zM975 368h7v7h-7zM890 373h7v7h-7zM915 378h7v7h-7zM920 378h7v7h-7zM970 378h7v7h-7zM945 383h7v7h-7zM950 383h7v7h-7zM955 383h7v7h-7zM960 383h7v7h-7z"/>
<path fill="#70008f" d="M945 253h7v7h-7zM1000 253h7v7h-7zM1015 258h7v7h-7zM915 263h7v7h-7zM1025 263h7v7h-7zM895 273h7v7h-7zM890 278h7v7h-7zM1040 278h7v7h-7zM885 283h7v7h-7zM880 288h7v7h-7zM1040 293h7v7h-7zM875 298h7v7h-7zM870 308h7v7h-7zM865 328h7v7h-7zM865 333h7v7h-7zM1005 333h7v7h-7zM865 338h7v7h-7zM1000 338h7v7h-7zM865 343h7v7h-7zM995 343h7v7h-7zM865 348h7v7h-7zM985 353h7v7h-7zM870 358h7v7h-7zM980 358h7v7h-7zM875 363h7v7h-7zM975 363h7v7h-7zM885 368h7v7h-7zM970 368h7v7h-7zM905 373h7v7h-7zM910 373h7v7h-7zM965 373h7v7h-7zM935 378h7v7h-7zM940 378h7v7h-7zM945 378h7v7h-7zM950 378h7v7h-7zM955 378h7v7h-7z"/>
<path fill="#74008b" d="M950 253h7v7h-7zM995 253h7v7h-7zM930 258h7v7h-7zM905 268h7v7h-7zM1030 268h7v7h-7zM1035 273h7v7h-7zM1040 283h7v7h-7zM1040 288h7v7h-7zM1035 303h7v7h-7zM870 313h7v7h-7zM1010 328h7v7h-7zM870 353h7v7h-7zM875 358h7v7h-7zM880 363h7v7h-7zM890 368h7v7h-7zM895 368h7v7h-7zM915 373h7v7h-7zM920 373h7v7h-7zM960 373h7v7h-7z"/>
<path fill="#780087" d="M955 253h7v7h-7zM960 253h7v7h-7zM990 253h7v7h-7zM935 258h7v7h-7zM1010 258h7v7h-7zM920 263h7v7h-7zM1020 263h7v7h-7zM900 273h7v7h-7zM880 293h7v7h-7zM875 303h7v7h-7zM1030 308h7v7h-7zM1025 313h7v7h-7zM870 318h7v7h-7zM1020 318h7v7h-7zM1015 323h7v7h-7zM870 348h7v7h-7zM985 348h7v7h-7zM980 353h7v7h-7zM975 358h7v7h-7zM885 363h7v7h-7zM970 363h7v7h-7zM900 368h7v7h-7zM965 368h7v7h-7zM925 373h7v7h-7zM930 373h7v7h-7zM935 373h7v7h-7zM940 373h7v7h-7zM945 373h7v7h-7zM950 373h7v7h-7zM955 373h7v7h-7z"/>
<path fill="#7c0083" d="M965 253h7v7h-7zM970 253h7v7h-7zM975 253h7v7h-7zM980 253h7v7h-7zM985 253h7v7h-7zM910 268h7v7h-7zM1025 268h7v7h-7zM895 278h7v7h-7zM1035 278h7v7h-7zM890 283h7v7h-7zM885 288h7v7h-7zM1035 298h7v7h-7zM870 323h7v7h-7zM870 328h7v7h-7zM870 333h7v7h-7zM870 338h7v7h-7zM995 338h7v7h-7zM870 343h7v7h-7zM990 343h7v7h-7zM875 353h7v7h-7zM880 358h7v7h-7zM890 363h7v7h-7zM905 368h7v7h-7zM960 368h7v7h-7z"/>
<path fill="#6c0093" d="M1005 253h7v7h-7zM925 258h7v7h-7zM1020 258h7v7h-7zM1035 268h7v7h-7zM875 293h7v7h-7zM1040 298h7v7h-7zM1035 308h7v7h-7zM1030 313h7v7h-7zM1025 318h7v7h-7zM865 323h7v7h-7zM1020 323h7v7h-7zM990 348h7v7h-7zM865 353h7v7h-7zM870 363h7v7h-7zM880 368h7v7h-7zM895 373h7v7h-7zM900 373h7v7h-7zM970 373h7v7h-7zM925 378h7v7h-7zM930 378h7v7h-7zM960 378h7v7h-7zM965 378h7v7h-7z"/>
<path fill="#800080" d="M940 258h7v7h-7zM1005 258h7v7h-7zM925 263h7v7h-7zM1015 263h7v7h-7zM905 273h7v7h-7zM1030 273h7v7h-7zM1035 283h7v7h-7zM1035 288h7v7h-7zM1035 293h7v7h-7zM880 298h7v7h-7zM1030 303h7v7h-7zM875 308h7v7h-7zM1005 328h7v7h-7zM1000 333h7v7h-7zM875 348h7v7h-7zM975 353h7v7h-7zM885 358h7v7h-7zM970 358h7v7h-7zM895 363h7v7h-7zM965 363h7v7h-7zM910 368h7v7h-7zM915 368h7v7h-7zM950 368h7v7h-7zM955 368h7v7h-7z"/>
<path fill="#83007c" d="M945 258h7v7h-7zM1000 258h7v7h-7zM915 268h7v7h-7zM1030 278h7v7h-7zM885 293h7v7h-7zM1025 308h7v7h-7zM875 313h7v7h-7zM1020 313h7v7h-7zM1015 318h7v7h-7zM1010 323h7v7h-7zM875 343h7v7h-7zM985 343h7v7h-7zM980 348h7v7h-7zM880 353h7v7h-7zM900 363h7v7h-7zM960 363h7v7h-7zM920 368h7v7h-7zM925 368h7v7h-7zM930 368h7v7h-7zM935 368h7v7h-7zM940 368h7v7h-7zM945 368h7v7h-7z"/>
<path fill="#870078" d="M950 258h7v7h-7zM995 258h7v7h-7zM930 263h7v7h-7zM1010 263h7v7h-7zM1020 268h7v7h-7zM1025 273h7v7h-7zM900 278h7v7h-7zM895 283h7v7h-7zM890 288h7v7h-7zM1030 298h7v7h-7zM880 303h7v7h-7zM875 318h7v7h-7zM875 323h7v7h-7zM875 328h7v7h-7zM875 333h7v7h-7zM875 338h7v7h-7zM990 338h7v7h-7zM880 348h7v7h-7zM885 353h7v7h-7zM890 358h7v7h-7zM965 358h7v7h-7zM905 363h7v7h-7zM955 363h7v7h-7z"/>
<path fill="#8b0074" d="M955 258h7v7h-7zM990 258h7v7h-7zM935 263h7v7h-7zM920 268h7v7h-7zM910 273h7v7h-7zM1030 283h7v7h-7zM1030 288h7v7h-7zM1030 293h7v7h-7zM1025 303h7v7h-7zM880 308h7v7h-7zM1000 328h7v7h-7zM995 333h7v7h-7zM880 343h7v7h-7zM975 348h7v7h-7zM970 353h7v7h-7zM895 358h7v7h-7zM960 358h7v7h-7zM910 363h7v7h-7zM915 363h7v7h-7zM950 363h7v7h-7z"/>
<path fill="#8f0070" d="M960 258h7v7h-7zM965 258h7v7h-7zM970 258h7v7h-7zM975 258h7v7h-7zM980 258h7v7h-7zM985 258h7v7h-7zM1005 263h7v7h-7zM1015 268h7v7h-7zM1020 273h7v7h-7zM905 278h7v7h-7zM1025 278h7v7h-7zM885 298h7v7h-7zM1020 308h7v7h-7zM880 313h7v7h-7zM1010 318h7v7h-7zM1005 323h7v7h-7zM880 338h7v7h-7zM980 343h7v7h-7zM885 348h7v7h-7zM890 353h7v7h-7zM900 358h7v7h-7zM920 363h7v7h-7zM925 363h7v7h-7zM930 363h7v7h-7zM935 363h7v7h-7zM940 363h7v7h-7zM945 363h7v7h-7z"/>
<path fill="#93006c" d="M940 263h7v7h-7zM1000 263h7v7h-7zM925 268h7v7h-7zM915 273h7v7h-7zM900 283h7v7h-7zM1025 283h7v7h-7zM895 288h7v7h-7zM890 293h7v7h-7zM1025 298h7v7h-7zM885 303h7v7h-7zM1015 313h7v7h-7zM880 318h7v7h-7zM880 328h7v7h-7zM880 333h7v7h-7zM985 338h7v7h-7zM895 353h7v7h-7zM965 353h7v7h-7zM905 358h7v7h-7zM955 358h7v7h-7z"/>
<path fill="#970068" d="M945 263h7v7h-7zM930 268h7v7h-7zM1010 268h7v7h-7zM1025 288h7v7h-7zM1025 293h7v7h-7zM1020 303h7v7h-7zM880 323h7v7h-7zM995 328h7v7h-7zM990 333h7v7h-7zM885 343h7v7h-7zM975 343h7v7h-7zM890 348h7v7h-7zM970 348h7v7h-7zM960 353h7v7h-7zM910 358h7v7h-7zM950 358h7v7h-7z"/>
<path fill="#9b0064" d="M950 263h7v7h-7zM995 263h7v7h-7zM920 273h7v7h-7zM1015 273h7v7h-7zM910 278h7v7h-7zM1020 278h7v7h-7zM890 298h7v7h-7zM885 308h7v7h-7zM1015 308h7v7h-7zM1000 323h7v7h-7zM885 338h7v7h-7zM980 338h7v7h-7zM900 353h7v7h-7zM915 358h7v7h-7zM920 358h7v7h-7zM925 358h7v7h-7zM940 358h7v7h-7zM945 358h7v7h-7z"/>
<path fill="#9f0060" d="M955 263h7v7h-7zM985 263h7v7h-7zM990 263h7v7h-7zM935 268h7v7h-7zM1005 268h7v7h-7zM905 283h7v7h-7zM1020 283h7v7h-7zM900 288h7v7h-7zM895 293h7v7h-7zM1020 298h7v7h-7zM885 313h7v7h-7zM1010 313h7v7h-7zM1005 318h7v7h-7zM885 333h7v7h-7zM985 333h7v7h-7zM890 343h7v7h-7zM895 348h7v7h-7zM965 348h7v7h-7zM905 353h7v7h-7zM955 353h7v7h-7zM930 358h7v7h-7zM935 358h7v7h-7z"/>
<path fill="#a3005c" d="M960 263h7v7h-7zM965 263h7v7h-7zM970 263h7v7h-7zM975 263h7v7h-7zM980 263h7v7h-7zM1000 268h7v7h-7zM925 273h7v7h-7zM1010 273h7v7h-7zM915 278h7v7h-7zM1015 278h7v7h-7zM1020 288h7v7h-7zM1020 293h7v7h-7zM890 303h7v7h-7zM885 318h7v7h-7zM885 323h7v7h-7zM885 328h7v7h-7zM990 328h7v7h-7zM890 338h7v7h-7zM970 343h7v7h-7zM900 348h7v7h-7zM960 348h7v7h-7zM910 353h7v7h-7zM950 353h7v7h-7z"/>
<path fill="#a70058" d="M940 268h7v7h-7zM910 283h7v7h-7zM895 298h7v7h-7zM1015 303h7v7h-7zM890 308h7v7h-7zM1010 308h7v7h-7zM995 323h7v7h-7zM975 338h7v7h-7zM895 343h7v7h-7zM915 353h7v7h-7zM920 353h7v7h-7zM940 353h7v7h-7zM945 353h7v7h-7z"/>
<path fill="#ab0054" d="M945 268h7v7h-7zM995 268h7v7h-7zM930 273h7v7h-7zM1005 273h7v7h-7zM920 278h7v7h-7zM1010 278h7v7h-7zM1015 283h7v7h-7zM905 288h7v7h-7zM900 293h7v7h-7zM1015 298h7v7h-7zM890 313h7v7h-7zM1005 313h7v7h-7zM1000 318h7v7h-7zM890 328h7v7h-7zM890 333h7v7h-7zM980 333h7v7h-7zM965 343h7v7h-7zM905 348h7v7h-7zM955 348h7v7h-7zM925 353h7v7h-7zM930 353h7v7h-7zM935 353h7v7h-7z"/>
<path fill="#af0050" d="M950 268h7v7h-7zM990 268h7v7h-7zM1015 288h7v7h-7zM1015 293h7v7h-7zM895 303h7v7h-7zM890 318h7v7h-7zM890 323h7v7h-7zM985 328h7v7h-7zM895 338h7v7h-7zM970 338h7v7h-7zM900 343h7v7h-7zM910 348h7v7h-7zM950 348h7v7h-7z"/>
<path fill="#b3004c" d="M955 268h7v7h-7zM960 268h7v7h-7zM980 268h7v7h-7zM985 268h7v7h-7zM935 273h7v7h-7zM1000 273h7v7h-7zM925 278h7v7h-7zM915 283h7v7h-7zM1010 283h7v7h-7zM900 298h7v7h-7zM1010 303h7v7h-7zM895 308h7v7h-7zM1005 308h7v7h-7zM995 318h7v7h-7zM990 323h7v7h-7zM895 333h7v7h-7zM975 333h7v7h-7zM905 343h7v7h-7zM960 343h7v7h-7zM915 348h7v7h-7zM920 348h7v7h-7zM945 348h7v7h-7z"/>
<path fill="#b70048" d="M965 268h7v7h-7zM970 268h7v7h-7zM975 268h7v7h-7zM940 273h7v7h-7zM995 273h7v7h-7zM1005 278h7v7h-7zM910 288h7v7h-7zM1010 288h7v7h-7zM905 293h7v7h-7zM1010 298h7v7h-7zM895 313h7v7h-7zM1000 313h7v7h-7zM895 328h7v7h-7zM900 338h7v7h-7zM965 338h7v7h-7zM910 343h7v7h-7zM955 343h7v7h-7zM925 348h7v7h-7zM930 348h7v7h-7zM935 348h7v7h-7zM940 348h7v7h-7z"/>
<path fill="#bf0040" d="M945 273h7v7h-7zM990 273h7v7h-7zM1000 278h7v7h-7zM1005 283h7v7h-7zM915 288h7v7h-7zM905 298h7v7h-7zM1000 308h7v7h-7zM995 313h7v7h-7zM990 318h7v7h-7zM970 333h7v7h-7zM960 338h7v7h-7zM915 343h7v7h-7zM920 343h7v7h-7zM945 343h7v7h-7z"/>
<path fill="#c3003c" d="M950 273h7v7h-7zM955 273h7v7h-7zM985 273h7v7h-7zM935 278h7v7h-7zM995 278h7v7h-7zM925 283h7v7h-7zM1005 288h7v7h-7zM910 293h7v7h-7zM1005 293h7v7h-7zM1005 298h7v7h-7zM900 308h7v7h-7zM900 313h7v7h-7zM900 323h7v7h-7zM900 328h7v7h-7zM975 328h7v7h-7zM905 333h7v7h-7zM910 338h7v7h-7zM925 343h7v7h-7zM930 343h7v7h-7zM935 343h7v7h-7zM940 343h7v7h-7z"/>
<path fill="#c70038" d="M960 273h7v7h-7zM965 273h7v7h-7zM970 273h7v7h-7zM975 273h7v7h-7zM980 273h7v7h-7zM940 278h7v7h-7zM1000 283h7v7h-7zM905 303h7v7h-7zM1000 303h7v7h-7zM900 318h7v7h-7zM980 323h7v7h-7zM965 333h7v7h-7zM915 338h7v7h-7zM955 338h7v7h-7z"/>
<path fill="#bb0044" d="M930 278h7v7h-7zM920 283h7v7h-7zM1010 293h7v7h-7zM900 303h7v7h-7zM1005 303h7v7h-7zM895 318h7v7h-7zM895 323h7v7h-7zM985 323h7v7h-7zM980 328h7v7h-7zM900 333h7v7h-7zM905 338h7v7h-7zM950 343h7v7h-7z"/>
<path fill="#cf0030" d="M945 278h7v7h-7zM985 278h7v7h-7zM995 283h7v7h-7zM1000 293h7v7h-7zM905 313h7v7h-7zM905 318h7v7h-7zM905 323h7v7h-7zM975 323h7v7h-7zM925 338h7v7h-7zM930 338h7v7h-7zM935 338h7v7h-7zM940 338h7v7h-7zM945 338h7v7h-7z"/>
<path fill="#d3002c" d="M950 278h7v7h-7zM980 278h7v7h-7zM935 283h7v7h-7zM990 283h7v7h-7zM925 288h7v7h-7zM995 288h7v7h-7zM920 293h7v7h-7zM915 298h7v7h-7zM910 303h7v7h-7zM995 303h7v7h-7zM990 308h7v7h-7zM985 313h7v7h-7zM980 318h7v7h-7zM910 328h7v7h-7zM965 328h7v7h-7zM915 333h7v7h-7zM955 333h7v7h-7z"/>
<path fill="#d70028" d="M955 278h7v7h-7zM960 278h7v7h-7zM965 278h7v7h-7zM970 278h7v7h-7zM975 278h7v7h-7zM940 283h7v7h-7zM995 293h7v7h-7zM995 298h7v7h-7zM910 308h7v7h-7zM910 323h7v7h-7zM970 323h7v7h-7zM915 328h7v7h-7zM920 333h7v7h-7zM950 333h7v7h-7z"/>
<path fill="#cb0034" d="M990 278h7v7h-7zM930 283h7v7h-7zM920 288h7v7h-7zM1000 288h7v7h-7zM915 293h7v7h-7zM910 298h7v7h-7zM1000 298h7v7h-7zM905 308h7v7h-7zM995 308h7v7h-7zM990 313h7v7h-7zM985 318h7v7h-7zM905 328h7v7h-7zM970 328h7v7h-7zM910 333h7v7h-7zM960 333h7v7h-7zM920 338h7v7h-7zM950 338h7v7h-7z"/>
<path fill="#db0024" d="M945 283h7v7h-7zM985 283h7v7h-7zM930 288h7v7h-7zM990 288h7v7h-7zM925 293h7v7h-7zM915 303h7v7h-7zM990 303h7v7h-7zM910 313h7v7h-7zM910 318h7v7h-7zM975 318h7v7h-7zM960 328h7v7h-7zM925 333h7v7h-7zM930 333h7v7h-7zM935 333h7v7h-7zM940 333h7v7h-7zM945 333h7v7h-7z"/>
<path fill="#df0020" d="M950 283h7v7h-7zM980 283h7v7h-7zM935 288h7v7h-7zM990 293h7v7h-7zM920 298h7v7h-7zM990 298h7v7h-7zM915 308h7v7h-7zM985 308h7v7h-7zM980 313h7v7h-7zM915 323h7v7h-7zM965 323h7v7h-7zM920 328h7v7h-7zM955 328h7v7h-7z"/>
<path fill="#e3001c" d="M955 283h7v7h-7zM960 283h7v7h-7zM965 283h7v7h-7zM970 283h7v7h-7zM975 283h7v7h-7zM940 288h7v7h-7zM985 288h7v7h-7zM930 293h7v7h-7zM920 303h7v7h-7zM985 303h7v7h-7zM915 313h7v7h-7zM915 318h7v7h-7zM970 318h7v7h-7zM920 323h7v7h-7zM960 323h7v7h-7zM925 328h7v7h-7zM950 328h7v7h-7z"/>
<path fill="#eb0014" d="M945 288h7v7h-7zM950 288h7v7h-7zM975 288h7v7h-7zM935 293h7v7h-7zM980 293h7v7h-7zM930 298h7v7h-7zM980 298h7v7h-7zM925 303h7v7h-7zM980 303h7v7h-7zM975 308h7v7h-7zM920 313h7v7h-7zM970 313h7v7h-7zM965 318h7v7h-7zM925 323h7v7h-7zM930 323h7v7h-7zM955 323h7v7h-7z"/>
<path fill="#ef0010" d="M955 288h7v7h-7zM960 288h7v7h-7zM965 288h7v7h-7zM970 288h7v7h-7zM940 293h7v7h-7zM975 293h7v7h-7zM925 308h7v7h-7zM925 313h7v7h-7zM925 318h7v7h-7zM960 318h7v7h-7zM935 323h7v7h-7zM940 323h7v7h-7zM945 323h7v7h-7zM950 323h7v7h-7z"/>
<path fill="#e70018" d="M980 288h7v7h-7zM985 293h7v7h-7zM925 298h7v7h-7zM985 298h7v7h-7zM920 308h7v7h-7zM980 308h7v7h-7zM975 313h7v7h-7zM920 318h7v7h-7zM930 328h7v7h-7zM935 328h7v7h-7zM940 328h7v7h-7zM945 328h7v7h-7z"/>
<path fill="#f3000c" d="M945 293h7v7h-7zM970 293h7v7h-7zM935 298h7v7h-7zM975 298h7v7h-7zM930 303h7v7h-7zM975 303h7v7h-7zM970 308h7v7h-7zM930 313h7v7h-7zM965 313h7v7h-7zM930 318h7v7h-7zM955 318h7v7h-7z"/>
<path fill="#f70008" d="M950 293h7v7h-7zM955 293h7v7h-7zM960 293h7v7h-7zM965 293h7v7h-7zM940 298h7v7h-7zM970 298h7v7h-7zM935 303h7v7h-7zM970 303h7v7h-7zM930 308h7v7h-7zM965 308h7v7h-7zM935 313h7v7h-7zM960 313h7v7h-7zM935 318h7v7h-7zM940 318h7v7h-7zM945 318h7v7h-7zM950 318h7v7h-7z"/>
<path fill="#fb0004" d="M945 298h7v7h-7zM950 298h7v7h-7zM955 298h7v7h-7zM960 298h7v7h-7zM965 298h7v7h-7zM940 303h7v7h-7zM965 303h7v7h-7zM935 308h7v7h-7zM940 308h7v7h-7zM960 308h7v7h-7zM940 313h7v7h-7zM945 313h7v7h-7zM950 313h7v7h-7zM955 313h7v7h-7z"/>
<path fill="#ff0000" d="M945 303h7v7h-7zM950 303h7v7h-7zM955 303h7v7h-7zM960 303h7v7h-7zM945 308h7v7h-7zM950 308h7v7h-7zM955 308h7v7h-7z"/>
</g></g>
<path d="M851.5 49V579M1048.5 49V579" stroke="#fff" stroke-width="1"/>
<clipPath id="c2b"><rect x="699" y="47" width="534" height="534"/></clipPath>
<g clip-path="url(#c2b)"><path d="M699.8 429.5H1232" stroke="#cd0000" stroke-width="1.5" stroke-dasharray="6 6" stroke-linecap="round"/>
<path d="M961.26 580.5V47M967.76 580.5V47" stroke="#006400" stroke-width="1.5" stroke-dasharray="6 6" stroke-linecap="round"/></g>
<rect x="699.5" y="47.5" width="533" height="533" fill="none" stroke="#000" stroke-opacity="0.58" stroke-width="1"/>
<text x="965.5" y="625.5" font-size="15.9" text-anchor="middle">Distance to peak summit</text>
<text transform="translate(662,314.3) rotate(-90)" font-size="15.9" text-anchor="middle">Motif score</text>
<text x="747.55" y="602" font-size="10.2" text-anchor="middle">-400</text>
<text x="856.03" y="602" font-size="10.2" text-anchor="middle">-200</text>
<text x="964.51" y="602" font-size="10.2" text-anchor="middle">0</text>
<text x="1072.99" y="602" font-size="10.2" text-anchor="middle">200</text>
<text x="1181.47" y="602" font-size="10.2" text-anchor="middle">400</text>
<text transform="translate(684.6,539.47) rotate(-90) scale(1.036,0.94)" font-size="10.2" text-anchor="middle">82</text>
<text transform="translate(684.6,466.14) rotate(-90) scale(1.036,0.94)" font-size="10.2" text-anchor="middle">84</text>
<text transform="translate(684.6,392.80) rotate(-90) scale(1.036,0.94)" font-size="10.2" text-anchor="middle">86</text>
<text transform="translate(684.6,319.47) rotate(-90) scale(1.036,0.94)" font-size="10.2" text-anchor="middle">88</text>
<text transform="translate(684.6,246.13) rotate(-90) scale(1.036,0.94)" font-size="10.2" text-anchor="middle">90</text>
<text transform="translate(684.6,172.80) rotate(-90) scale(1.036,0.94)" font-size="10.2" text-anchor="middle">92</text>
<text transform="translate(684.6,99.47) rotate(-90) scale(1.036,0.94)" font-size="10.2" text-anchor="middle">94</text>
<path d="M747.55 580.5H1181.47M699.5 539.47V99.47M747.55 580.5v6M856.03 580.5v6M964.51 580.5v6M1072.99 580.5v6M1181.47 580.5v6M699.5 539.47h-6M699.5 466.14h-6M699.5 392.80h-6M699.5 319.47h-6M699.5 246.13h-6M699.5 172.80h-6M699.5 99.47h-6" stroke="#000" stroke-opacity="0.58" stroke-width="1" fill="none"/>
<path d="M79.96 1200.35 L80.92 1200.33 L81.88 1200.31 L82.85 1200.29 L83.81 1200.26 L84.77 1200.23 L85.74 1200.19 L86.70 1200.15 L87.67 1200.11 L88.63 1200.06 L89.59 1200.01 L90.56 1199.95 L91.52 1199.88 L92.48 1199.81 L93.45 1199.73 L94.41 1199.64 L95.37 1199.55 L96.34 1199.44 L97.30 1199.33 L98.26 1199.20 L99.23 1199.06 L100.19 1198.92 L101.15 1198.75 L102.12 1198.58 L103.08 1198.39 L104.04 1198.18 L105.01 1197.96 L105.97 1197.72 L106.93 1197.47 L107.90 1197.19 L108.86 1196.90 L109.82 1196.58 L110.79 1196.24 L111.75 1195.88 L112.71 1195.49 L113.68 1195.08 L114.64 1194.65 L115.60 1194.19 L116.57 1193.69 L117.53 1193.17 L118.49 1192.63 L119.46 1192.05 L120.42 1191.43 L121.38 1190.79 L122.35 1190.11 L123.31 1189.40 L124.27 1188.66 L125.24 1187.88 L126.20 1187.06 L127.16 1186.21 L128.13 1185.31 L129.09 1184.38 L130.05 1183.41 L131.02 1182.41 L131.98 1181.36 L132.94 1180.27 L133.91 1179.14 L134.87 1177.96 L135.83 1176.75 L136.80 1175.49 L137.76 1174.19 L138.72 1172.84 L139.69 1171.45 L140.65 1170.01 L141.62 1168.53 L142.58 1167.00 L143.54 1165.42 L144.51 1163.80 L145.47 1162.13 L146.43 1160.41 L147.40 1158.64 L148.36 1156.82 L149.32 1154.94 L150.29 1153.02 L151.25 1151.04 L152.21 1149.01 L153.18 1146.93 L154.14 1144.79 L155.10 1142.59 L156.07 1140.34 L157.03 1138.03 L157.99 1135.66 L158.96 1133.24 L159.92 1130.75 L160.88 1128.21 L161.85 1125.60 L162.81 1122.93 L163.77 1120.20 L164.74 1117.41 L165.70 1114.56 L166.66 1111.64 L167.63 1108.66 L168.59 1105.61 L169.55 1102.51 L170.52 1099.34 L171.48 1096.11 L172.44 1092.81 L173.41 1089.46 L174.37 1086.04 L175.33 1082.57 L176.30 1079.03 L177.26 1075.44 L178.22 1071.79 L179.19 1068.08 L180.15 1064.32 L181.11 1060.51 L182.08 1056.65 L183.04 1052.74 L184.00 1048.78 L184.97 1044.78 L185.93 1040.73 L186.89 1036.64 L187.86 1032.52 L188.82 1028.36 L189.78 1024.16 L190.75 1019.94 L191.71 1015.68 L192.67 1011.40 L193.64 1007.10 L194.60 1002.77 L195.56 998.43 L196.53 994.06 L197.49 989.69 L198.46 985.30 L199.42 980.90 L200.38 976.49 L201.35 972.08 L202.31 967.66 L203.27 963.24 L204.24 958.81 L205.20 954.39 L206.16 949.97 L207.13 945.55 L208.09 941.14 L209.05 936.73 L210.02 932.33 L210.98 927.94 L211.94 923.55 L212.91 919.18 L213.87 914.81 L214.83 910.45 L215.80 906.10 L216.76 901.77 L217.72 897.44 L218.69 893.13 L219.65 888.83 L220.61 884.55 L221.58 880.28 L222.54 876.02 L223.50 871.78 L224.47 867.56 L225.43 863.36 L226.39 859.18 L227.36 855.02 L228.32 850.89 L229.28 846.79 L230.25 842.71 L231.21 838.67 L232.17 834.67 L233.14 830.71 L234.10 826.79 L235.06 822.92 L236.03 819.10 L236.99 815.35 L237.95 811.65 L238.92 808.03 L239.88 804.47 L240.84 801.00 L241.81 797.62 L242.77 794.32 L243.73 791.12 L244.70 788.03 L245.66 785.05 L246.62 782.18 L247.59 779.43 L248.55 776.81 L249.51 774.33 L250.48 771.98 L251.44 769.78 L252.40 767.72 L253.37 765.82 L254.33 764.07 L255.30 762.48 L256.26 761.05 L257.22 759.78 L258.19 758.68 L259.15 757.74 L260.11 756.97 L261.08 756.36 L262.04 755.91 L263.00 755.62 L263.97 755.49 L264.93 755.50 L265.89 755.67 L266.86 755.97 L267.82 756.41 L268.78 756.97 L269.75 757.66 L270.71 758.45 L271.67 759.34 L272.64 760.32 L273.60 761.39 L274.56 762.52 L275.53 763.71 L276.49 764.95 L277.45 766.22 L278.42 767.51 L279.38 768.81 L280.34 770.11 L281.31 771.39 L282.27 772.64 L283.23 773.86 L284.20 775.02 L285.16 776.12 L286.12 777.15 L287.09 778.09 L288.05 778.94 L289.01 779.68 L289.98 780.31 L290.94 780.82 L291.90 781.21 L292.87 781.46 L293.83 781.57 L294.79 781.54 L295.76 781.37 L296.72 781.04 L297.68 780.57 L298.65 779.94 L299.61 779.17 L300.57 778.25 L301.54 777.18 L302.50 775.97 L303.46 774.62 L304.43 773.13 L305.39 771.53 L306.35 769.80 L307.32 767.95 L308.28 766.01 L309.25 763.97 L310.21 761.84 L311.17 759.64 L312.14 757.37 L313.10 755.05 L314.06 752.68 L315.03 750.27 L315.99 747.85 L316.95 745.42 L317.92 742.98 L318.88 740.56 L319.84 738.16 L320.81 735.79 L321.77 733.46 L322.73 731.19 L323.70 728.98 L324.66 726.85 L325.62 724.79 L326.59 722.83 L327.55 720.96 L328.51 719.19 L329.48 717.53 L330.44 715.99 L331.40 714.58 L332.37 713.28 L333.33 712.12 L334.29 711.09 L335.26 710.20 L336.22 709.44 L337.18 708.82 L338.15 708.35 L339.11 708.01 L340.07 707.82 L341.04 707.76 L342.00 707.84 L342.96 708.06 L343.93 708.42 L344.89 708.91 L345.85 709.53 L346.82 710.28 L347.78 711.16 L348.74 712.15 L349.71 713.27 L350.67 714.50 L351.63 715.85 L352.60 717.30 L353.56 718.86 L354.52 720.52 L355.49 722.27 L356.45 724.13 L357.41 726.07 L358.38 728.10 L359.34 730.22 L360.30 732.42 L361.27 734.70 L362.23 737.06 L363.19 739.49 L364.16 741.99 L365.12 744.56 L366.09 747.20 L367.05 749.91 L368.01 752.68 L368.98 755.51 L369.94 758.41 L370.90 761.37 L371.87 764.39 L372.83 767.46 L373.79 770.60 L374.76 773.79 L375.72 777.04 L376.68 780.35 L377.65 783.72 L378.61 787.14 L379.57 790.62 L380.54 794.15 L381.50 797.74 L382.46 801.38 L383.43 805.08 L384.39 808.83 L385.35 812.64 L386.32 816.49 L387.28 820.40 L388.24 824.35 L389.21 828.36 L390.17 832.40 L391.13 836.50 L392.10 840.64 L393.06 844.81 L394.02 849.03 L394.99 853.28 L395.95 857.56 L396.91 861.88 L397.88 866.22 L398.84 870.58 L399.80 874.96 L400.77 879.36 L401.73 883.77 L402.69 888.19 L403.66 892.61 L404.62 897.03 L405.58 901.44 L406.55 905.85 L407.51 910.24 L408.47 914.62 L409.44 918.97 L410.40 923.29 L411.36 927.59 L412.33 931.85 L413.29 936.07 L414.25 940.24 L415.22 944.37 L416.18 948.45 L417.14 952.47 L418.11 956.44 L419.07 960.35 L420.04 964.19 L421.00 967.97 L421.96 971.68 L422.93 975.33 L423.89 978.90 L424.85 982.40 L425.82 985.84 L426.78 989.20 L427.74 992.48 L428.71 995.70 L429.67 998.84 L430.63 1001.91 L431.60 1004.91 L432.56 1007.85 L433.52 1010.72 L434.49 1013.52 L435.45 1016.26 L436.41 1018.94 L437.38 1021.56 L438.34 1024.13 L439.30 1026.65 L440.27 1029.11 L441.23 1031.53 L442.19 1033.91 L443.16 1036.25 L444.12 1038.55 L445.08 1040.81 L446.05 1043.05 L447.01 1045.26 L447.97 1047.44 L448.94 1049.60 L449.90 1051.74 L450.86 1053.87 L451.83 1055.98 L452.79 1058.08 L453.75 1060.17 L454.72 1062.25 L455.68 1064.32 L456.64 1066.39 L457.61 1068.46 L458.57 1070.52 L459.53 1072.58 L460.50 1074.63 L461.46 1076.69 L462.42 1078.74 L463.39 1080.80 L464.35 1082.85 L465.31 1084.90 L466.28 1086.95 L467.24 1088.99 L468.20 1091.03 L469.17 1093.07 L470.13 1095.10 L471.09 1097.13 L472.06 1099.15 L473.02 1101.16 L473.98 1103.17 L474.95 1105.16 L475.91 1107.14 L476.88 1109.11 L477.84 1111.07 L478.80 1113.02 L479.77 1114.95 L480.73 1116.87 L481.69 1118.77 L482.66 1120.66 L483.62 1122.53 L484.58 1124.38 L485.55 1126.22 L486.51 1128.04 L487.47 1129.84 L488.44 1131.62 L489.40 1133.39 L490.36 1135.14 L491.33 1136.87 L492.29 1138.58 L493.25 1140.27 L494.22 1141.94 L495.18 1143.60 L496.14 1145.24 L497.11 1146.86 L498.07 1148.46 L499.03 1150.04 L500.00 1151.60 L500.96 1153.15 L501.92 1154.68 L502.89 1156.18 L503.85 1157.67 L504.81 1159.14 L505.78 1160.59 L506.74 1162.01 L507.70 1163.42 L508.67 1164.80 L509.63 1166.17 L510.59 1167.51 L511.56 1168.82 L512.52 1170.11 L513.48 1171.38 L514.45 1172.62 L515.41 1173.84 L516.37 1175.03 L517.34 1176.19 L518.30 1177.32 L519.26 1178.43 L520.23 1179.51 L521.19 1180.55 L522.15 1181.57 L523.12 1182.56 L524.08 1183.51 L525.04 1184.43 L526.01 1185.33 L526.97 1186.19 L527.93 1187.02 L528.90 1187.82 L529.86 1188.58 L530.82 1189.32 L531.79 1190.02 L532.75 1190.69 L533.72 1191.33 L534.68 1191.95 L535.64 1192.53 L536.61 1193.08 L537.57 1193.61 L538.53 1194.10 L539.50 1194.57 L540.46 1195.01 L541.42 1195.43 L542.39 1195.82 L543.35 1196.19 L544.31 1196.54 L545.28 1196.86 L546.24 1197.16 L547.20 1197.44 L548.17 1197.70 L549.13 1197.95 L550.09 1198.17 L551.06 1198.38 L552.02 1198.58 L552.98 1198.75 L553.95 1198.92 L554.91 1199.07 L555.87 1199.21 L556.84 1199.33 L557.80 1199.45 L558.76 1199.56 L559.73 1199.65 L560.69 1199.74 L561.65 1199.82 L562.62 1199.89 L563.58 1199.96 L564.54 1200.02 L565.51 1200.07 L566.47 1200.12 L567.43 1200.16 L568.40 1200.20 L569.36 1200.24 L570.32 1200.27 L571.29 1200.30 L572.25 1200.32Z" fill="#f5deb3" stroke="#000" stroke-width="1.15" stroke-linejoin="round"/>
<clipPath id="c3"><rect x="59" y="687" width="534" height="534"/></clipPath>
<g clip-path="url(#c3)"><path d="M248.87 1220.5V687" stroke="#cd0000" stroke-width="1.5" stroke-dasharray="6 6" stroke-linecap="round"/></g>
<rect x="59.5" y="687.5" width="533" height="533" fill="none" stroke="#000" stroke-opacity="0.58" stroke-width="1"/>
<text x="325.5" y="1265.5" font-size="15.9" text-anchor="middle">Motif score</text>
<text transform="translate(22,954.3) rotate(-90)" font-size="15.9" text-anchor="middle">Density</text>
<text x="126.47" y="1242" font-size="10.2" text-anchor="middle">80</text>
<text x="248.87" y="1242" font-size="10.2" text-anchor="middle">85</text>
<text x="371.27" y="1242" font-size="10.2" text-anchor="middle">90</text>
<text x="493.67" y="1242" font-size="10.2" text-anchor="middle">95</text>
<text transform="translate(44.6,1200.50) rotate(-90) scale(1.036,0.94)" font-size="10.2" text-anchor="middle">0.00</text>
<text transform="translate(44.6,1113.92) rotate(-90) scale(1.036,0.94)" font-size="10.2" text-anchor="middle">0.02</text>
<text transform="translate(44.6,1027.34) rotate(-90) scale(1.036,0.94)" font-size="10.2" text-anchor="middle">0.04</text>
<text transform="translate(44.6,940.76) rotate(-90) scale(1.036,0.94)" font-size="10.2" text-anchor="middle">0.06</text>
<text transform="translate(44.6,854.18) rotate(-90) scale(1.036,0.94)" font-size="10.2" text-anchor="middle">0.08</text>
<text transform="translate(44.6,767.60) rotate(-90) scale(1.036,0.94)" font-size="10.2" text-anchor="middle">0.10</text>
<path d="M126.47 1220.5H493.67M59.5 1200.50V767.60M126.47 1220.5v6M248.87 1220.5v6M371.27 1220.5v6M493.67 1220.5v6M59.5 1200.50h-6M59.5 1113.92h-6M59.5 1027.34h-6M59.5 940.76h-6M59.5 854.18h-6M59.5 767.60h-6" stroke="#000" stroke-opacity="0.58" stroke-width="1" fill="none"/>
<path d="M719.79 1200.04 L720.76 1199.98 L721.72 1199.92 L722.68 1199.85 L723.65 1199.77 L724.61 1199.69 L725.57 1199.59 L726.54 1199.49 L727.50 1199.38 L728.46 1199.25 L729.43 1199.11 L730.39 1198.96 L731.35 1198.79 L732.32 1198.61 L733.28 1198.41 L734.24 1198.19 L735.21 1197.95 L736.17 1197.69 L737.13 1197.41 L738.10 1197.10 L739.06 1196.77 L740.02 1196.41 L740.99 1196.02 L741.95 1195.59 L742.91 1195.14 L743.87 1194.65 L744.84 1194.12 L745.80 1193.55 L746.76 1192.94 L747.73 1192.29 L748.69 1191.59 L749.65 1190.84 L750.62 1190.04 L751.58 1189.19 L752.54 1188.28 L753.51 1187.31 L754.47 1186.29 L755.43 1185.20 L756.40 1184.05 L757.36 1182.83 L758.32 1181.54 L759.29 1180.18 L760.25 1178.75 L761.21 1177.25 L762.18 1175.66 L763.14 1174.00 L764.10 1172.26 L765.07 1170.44 L766.03 1168.54 L766.99 1166.55 L767.96 1164.48 L768.92 1162.33 L769.88 1160.09 L770.85 1157.76 L771.81 1155.35 L772.77 1152.86 L773.74 1150.28 L774.70 1147.62 L775.66 1144.87 L776.63 1142.05 L777.59 1139.14 L778.55 1136.16 L779.51 1133.11 L780.48 1129.98 L781.44 1126.78 L782.40 1123.51 L783.37 1120.18 L784.33 1116.79 L785.29 1113.34 L786.26 1109.84 L787.22 1106.29 L788.18 1102.70 L789.15 1099.06 L790.11 1095.40 L791.07 1091.70 L792.04 1087.97 L793.00 1084.23 L793.96 1080.46 L794.93 1076.69 L795.89 1072.91 L796.85 1069.14 L797.82 1065.36 L798.78 1061.60 L799.74 1057.85 L800.71 1054.12 L801.67 1050.41 L802.63 1046.73 L803.60 1043.09 L804.56 1039.48 L805.52 1035.91 L806.49 1032.39 L807.45 1028.91 L808.41 1025.48 L809.38 1022.11 L810.34 1018.79 L811.30 1015.53 L812.26 1012.33 L813.23 1009.19 L814.19 1006.11 L815.15 1003.10 L816.12 1000.14 L817.08 997.25 L818.04 994.43 L819.01 991.66 L819.97 988.96 L820.93 986.32 L821.90 983.73 L822.86 981.20 L823.82 978.73 L824.79 976.31 L825.75 973.93 L826.71 971.61 L827.68 969.33 L828.64 967.08 L829.60 964.88 L830.57 962.71 L831.53 960.57 L832.49 958.46 L833.46 956.37 L834.42 954.30 L835.38 952.25 L836.35 950.21 L837.31 948.19 L838.27 946.17 L839.24 944.15 L840.20 942.14 L841.16 940.12 L842.13 938.10 L843.09 936.08 L844.05 934.05 L845.02 932.01 L845.98 929.96 L846.94 927.90 L847.90 925.82 L848.87 923.73 L849.83 921.63 L850.79 919.52 L851.76 917.39 L852.72 915.25 L853.68 913.10 L854.65 910.93 L855.61 908.76 L856.57 906.58 L857.54 904.40 L858.50 902.22 L859.46 900.03 L860.43 897.84 L861.39 895.66 L862.35 893.49 L863.32 891.33 L864.28 889.18 L865.24 887.05 L866.21 884.94 L867.17 882.85 L868.13 880.78 L869.10 878.75 L870.06 876.75 L871.02 874.78 L871.99 872.85 L872.95 870.96 L873.91 869.12 L874.88 867.32 L875.84 865.56 L876.80 863.86 L877.77 862.20 L878.73 860.60 L879.69 859.05 L880.66 857.55 L881.62 856.10 L882.58 854.71 L883.54 853.37 L884.51 852.09 L885.47 850.85 L886.43 849.66 L887.40 848.52 L888.36 847.43 L889.32 846.38 L890.29 845.37 L891.25 844.40 L892.21 843.46 L893.18 842.55 L894.14 841.66 L895.10 840.80 L896.07 839.95 L897.03 839.12 L897.99 838.30 L898.96 837.48 L899.92 836.65 L900.88 835.82 L901.85 834.98 L902.81 834.12 L903.77 833.24 L904.74 832.33 L905.70 831.39 L906.66 830.41 L907.63 829.38 L908.59 828.31 L909.55 827.19 L910.52 826.01 L911.48 824.78 L912.44 823.48 L913.41 822.11 L914.37 820.67 L915.33 819.16 L916.30 817.58 L917.26 815.92 L918.22 814.18 L919.18 812.36 L920.15 810.47 L921.11 808.49 L922.07 806.44 L923.04 804.30 L924.00 802.09 L924.96 799.81 L925.93 797.45 L926.89 795.02 L927.85 792.52 L928.82 789.96 L929.78 787.35 L930.74 784.67 L931.71 781.95 L932.67 779.18 L933.63 776.37 L934.60 773.53 L935.56 770.66 L936.52 767.78 L937.49 764.88 L938.45 761.97 L939.41 759.06 L940.38 756.17 L941.34 753.29 L942.30 750.43 L943.27 747.61 L944.23 744.83 L945.19 742.09 L946.16 739.42 L947.12 736.80 L948.08 734.26 L949.05 731.80 L950.01 729.42 L950.97 727.14 L951.94 724.96 L952.90 722.88 L953.86 720.92 L954.82 719.08 L955.79 717.37 L956.75 715.78 L957.71 714.34 L958.68 713.03 L959.64 711.87 L960.60 710.86 L961.57 710.00 L962.53 709.29 L963.49 708.74 L964.46 708.35 L965.42 708.12 L966.38 708.05 L967.35 708.14 L968.31 708.39 L969.27 708.80 L970.24 709.37 L971.20 710.09 L972.16 710.97 L973.13 712.00 L974.09 713.19 L975.05 714.51 L976.02 715.98 L976.98 717.59 L977.94 719.33 L978.91 721.20 L979.87 723.19 L980.83 725.31 L981.80 727.53 L982.76 729.87 L983.72 732.31 L984.69 734.84 L985.65 737.46 L986.61 740.17 L987.58 742.96 L988.54 745.82 L989.50 748.74 L990.46 751.73 L991.43 754.77 L992.39 757.86 L993.35 760.99 L994.32 764.16 L995.28 767.35 L996.24 770.58 L997.21 773.82 L998.17 777.08 L999.13 780.34 L1000.10 783.62 L1001.06 786.89 L1002.02 790.16 L1002.99 793.42 L1003.95 796.67 L1004.91 799.90 L1005.88 803.11 L1006.84 806.30 L1007.80 809.46 L1008.77 812.59 L1009.73 815.69 L1010.69 818.76 L1011.66 821.79 L1012.62 824.77 L1013.58 827.72 L1014.55 830.62 L1015.51 833.47 L1016.47 836.28 L1017.44 839.03 L1018.40 841.74 L1019.36 844.39 L1020.33 846.99 L1021.29 849.53 L1022.25 852.01 L1023.21 854.44 L1024.18 856.81 L1025.14 859.12 L1026.10 861.37 L1027.07 863.56 L1028.03 865.69 L1028.99 867.75 L1029.96 869.76 L1030.92 871.69 L1031.88 873.57 L1032.85 875.38 L1033.81 877.12 L1034.77 878.80 L1035.74 880.41 L1036.70 881.96 L1037.66 883.44 L1038.63 884.85 L1039.59 886.20 L1040.55 887.48 L1041.52 888.69 L1042.48 889.84 L1043.44 890.92 L1044.41 891.94 L1045.37 892.89 L1046.33 893.77 L1047.30 894.59 L1048.26 895.35 L1049.22 896.04 L1050.19 896.67 L1051.15 897.24 L1052.11 897.76 L1053.08 898.21 L1054.04 898.61 L1055.00 898.95 L1055.97 899.24 L1056.93 899.48 L1057.89 899.67 L1058.85 899.82 L1059.82 899.92 L1060.78 899.98 L1061.74 900.00 L1062.71 899.99 L1063.67 899.95 L1064.63 899.88 L1065.60 899.78 L1066.56 899.67 L1067.52 899.54 L1068.49 899.40 L1069.45 899.25 L1070.41 899.10 L1071.38 898.95 L1072.34 898.80 L1073.30 898.67 L1074.27 898.56 L1075.23 898.46 L1076.19 898.39 L1077.16 898.36 L1078.12 898.36 L1079.08 898.41 L1080.05 898.50 L1081.01 898.64 L1081.97 898.85 L1082.94 899.12 L1083.90 899.45 L1084.86 899.86 L1085.83 900.35 L1086.79 900.92 L1087.75 901.58 L1088.72 902.34 L1089.68 903.19 L1090.64 904.14 L1091.61 905.19 L1092.57 906.35 L1093.53 907.63 L1094.49 909.01 L1095.46 910.52 L1096.42 912.14 L1097.38 913.88 L1098.35 915.75 L1099.31 917.74 L1100.27 919.86 L1101.24 922.10 L1102.20 924.47 L1103.16 926.96 L1104.13 929.58 L1105.09 932.32 L1106.05 935.18 L1107.02 938.17 L1107.98 941.27 L1108.94 944.50 L1109.91 947.83 L1110.87 951.28 L1111.83 954.83 L1112.80 958.49 L1113.76 962.25 L1114.72 966.10 L1115.69 970.05 L1116.65 974.08 L1117.61 978.19 L1118.58 982.38 L1119.54 986.63 L1120.50 990.96 L1121.47 995.34 L1122.43 999.77 L1123.39 1004.26 L1124.36 1008.78 L1125.32 1013.34 L1126.28 1017.92 L1127.25 1022.53 L1128.21 1027.16 L1129.17 1031.79 L1130.13 1036.43 L1131.10 1041.07 L1132.06 1045.69 L1133.02 1050.31 L1133.99 1054.90 L1134.95 1059.46 L1135.91 1064.00 L1136.88 1068.49 L1137.84 1072.95 L1138.80 1077.36 L1139.77 1081.71 L1140.73 1086.01 L1141.69 1090.25 L1142.66 1094.42 L1143.62 1098.52 L1144.58 1102.55 L1145.55 1106.50 L1146.51 1110.37 L1147.47 1114.16 L1148.44 1117.87 L1149.40 1121.48 L1150.36 1125.01 L1151.33 1128.45 L1152.29 1131.79 L1153.25 1135.04 L1154.22 1138.19 L1155.18 1141.25 L1156.14 1144.20 L1157.11 1147.07 L1158.07 1149.83 L1159.03 1152.50 L1160.00 1155.07 L1160.96 1157.55 L1161.92 1159.93 L1162.89 1162.22 L1163.85 1164.41 L1164.81 1166.51 L1165.77 1168.52 L1166.74 1170.44 L1167.70 1172.28 L1168.66 1174.03 L1169.63 1175.69 L1170.59 1177.28 L1171.55 1178.79 L1172.52 1180.22 L1173.48 1181.57 L1174.44 1182.86 L1175.41 1184.07 L1176.37 1185.22 L1177.33 1186.30 L1178.30 1187.32 L1179.26 1188.27 L1180.22 1189.18 L1181.19 1190.02 L1182.15 1190.81 L1183.11 1191.56 L1184.08 1192.25 L1185.04 1192.90 L1186.00 1193.51 L1186.97 1194.07 L1187.93 1194.60 L1188.89 1195.09 L1189.86 1195.54 L1190.82 1195.96 L1191.78 1196.35 L1192.75 1196.71 L1193.71 1197.04 L1194.67 1197.35 L1195.64 1197.63 L1196.60 1197.90 L1197.56 1198.14 L1198.53 1198.36 L1199.49 1198.56 L1200.45 1198.74 L1201.41 1198.91 L1202.38 1199.07 L1203.34 1199.21 L1204.30 1199.33 L1205.27 1199.45 L1206.23 1199.56 L1207.19 1199.65 L1208.16 1199.74 L1209.12 1199.82 L1210.08 1199.89 L1211.05 1199.96 L1212.01 1200.02Z" fill="#f5deb3" stroke="#000" stroke-width="1.15" stroke-linejoin="round"/>
<clipPath id="c4"><rect x="699" y="687" width="534" height="534"/></clipPath>
<g clip-path="url(#c4)"><path d="M963.20 1220.5V687M967.28 1220.5V687" stroke="#006400" stroke-width="1.5" stroke-dasharray="6 6" stroke-linecap="round"/></g>
<rect x="699.5" y="687.5" width="533" height="533" fill="none" stroke="#000" stroke-opacity="0.58" stroke-width="1"/>
<text x="965.5" y="1265.5" font-size="15.9" text-anchor="middle">Distance to peak summit</text>
<text transform="translate(662,954.3) rotate(-90)" font-size="15.9" text-anchor="middle">Density</text>
<text x="795.48" y="1242" font-size="10.2" text-anchor="middle">-500</text>
<text x="965.24" y="1242" font-size="10.2" text-anchor="middle">0</text>
<text x="1135.01" y="1242" font-size="10.2" text-anchor="middle">500</text>
<text transform="translate(684.6,1200.50) rotate(-90) scale(1.036,0.94)" font-size="10.2" text-anchor="middle">0.0000</text>
<text transform="translate(684.6,1131.35) rotate(-90) scale(1.036,0.94)" font-size="10.2" text-anchor="middle">0.0002</text>
<text transform="translate(684.6,1062.21) rotate(-90) scale(1.036,0.94)" font-size="10.2" text-anchor="middle">0.0004</text>
<text transform="translate(684.6,993.06) rotate(-90) scale(1.036,0.94)" font-size="10.2" text-anchor="middle">0.0006</text>
<text transform="translate(684.6,923.91) rotate(-90) scale(1.036,0.94)" font-size="10.2" text-anchor="middle">0.0008</text>
<text transform="translate(684.6,854.76) rotate(-90) scale(1.036,0.94)" font-size="10.2" text-anchor="middle">0.0010</text>
<text transform="translate(684.6,785.62) rotate(-90) scale(1.036,0.94)" font-size="10.2" text-anchor="middle">0.0012</text>
<text transform="translate(684.6,716.47) rotate(-90) scale(1.036,0.94)" font-size="10.2" text-anchor="middle">0.0014</text>
<path d="M795.48 1220.5H1135.01M699.5 1200.50V716.47M795.48 1220.5v6M965.24 1220.5v6M1135.01 1220.5v6M699.5 1200.50h-6M699.5 1131.35h-6M699.5 1062.21h-6M699.5 993.06h-6M699.5 923.91h-6M699.5 854.76h-6M699.5 785.62h-6M699.5 716.47h-6" stroke="#000" stroke-opacity="0.58" stroke-width="1" fill="none"/>
<path d="M1016.85 703.4H1041.5" stroke="#006400" stroke-width="1.5" stroke-dasharray="2.3 2.15"/>
<path d="M1016.85 718.85H1041.5" stroke="#d85858" stroke-width="1.5" stroke-dasharray="2.3 2.15"/>
<ellipse cx="1029.0" cy="734.3" rx="3.1" ry="2.55" fill="#0000ff"/>
<text x="1052" y="707.8" font-size="12.9">enrichment zone = 6</text>
<text x="1052" y="723.4" font-size="12.9">motif score threshold = 85.000</text>
<text x="1052" y="739" font-size="12.9">centrality p-val = NS</text>
<text x="216.0" y="31.9" font-size="21.6" font-weight="bold" text-rendering="geometricPrecision" transform="translate(0,31.9) scale(1,1.06) translate(0,-31.9)">Top hit for each peak</text>
<text x="799.0" y="31.9" font-size="21.6" font-weight="bold" text-rendering="geometricPrecision" transform="translate(0,31.9) scale(1,1.06) translate(0,-31.9)">Density heat map for the top hits</text>
<text x="177.1" y="671.9" font-size="21.6" font-weight="bold" text-rendering="geometricPrecision" transform="translate(0,671.9) scale(1,1.06) translate(0,-671.9)">Motif score threshold: 85.000</text>
<text x="851.85" y="671.9" font-size="21.6" font-weight="bold" text-rendering="geometricPrecision" transform="translate(0,671.9) scale(1,1.06) translate(0,-671.9)">Enrichment zone: 6.00</text>
</svg></body></html>
